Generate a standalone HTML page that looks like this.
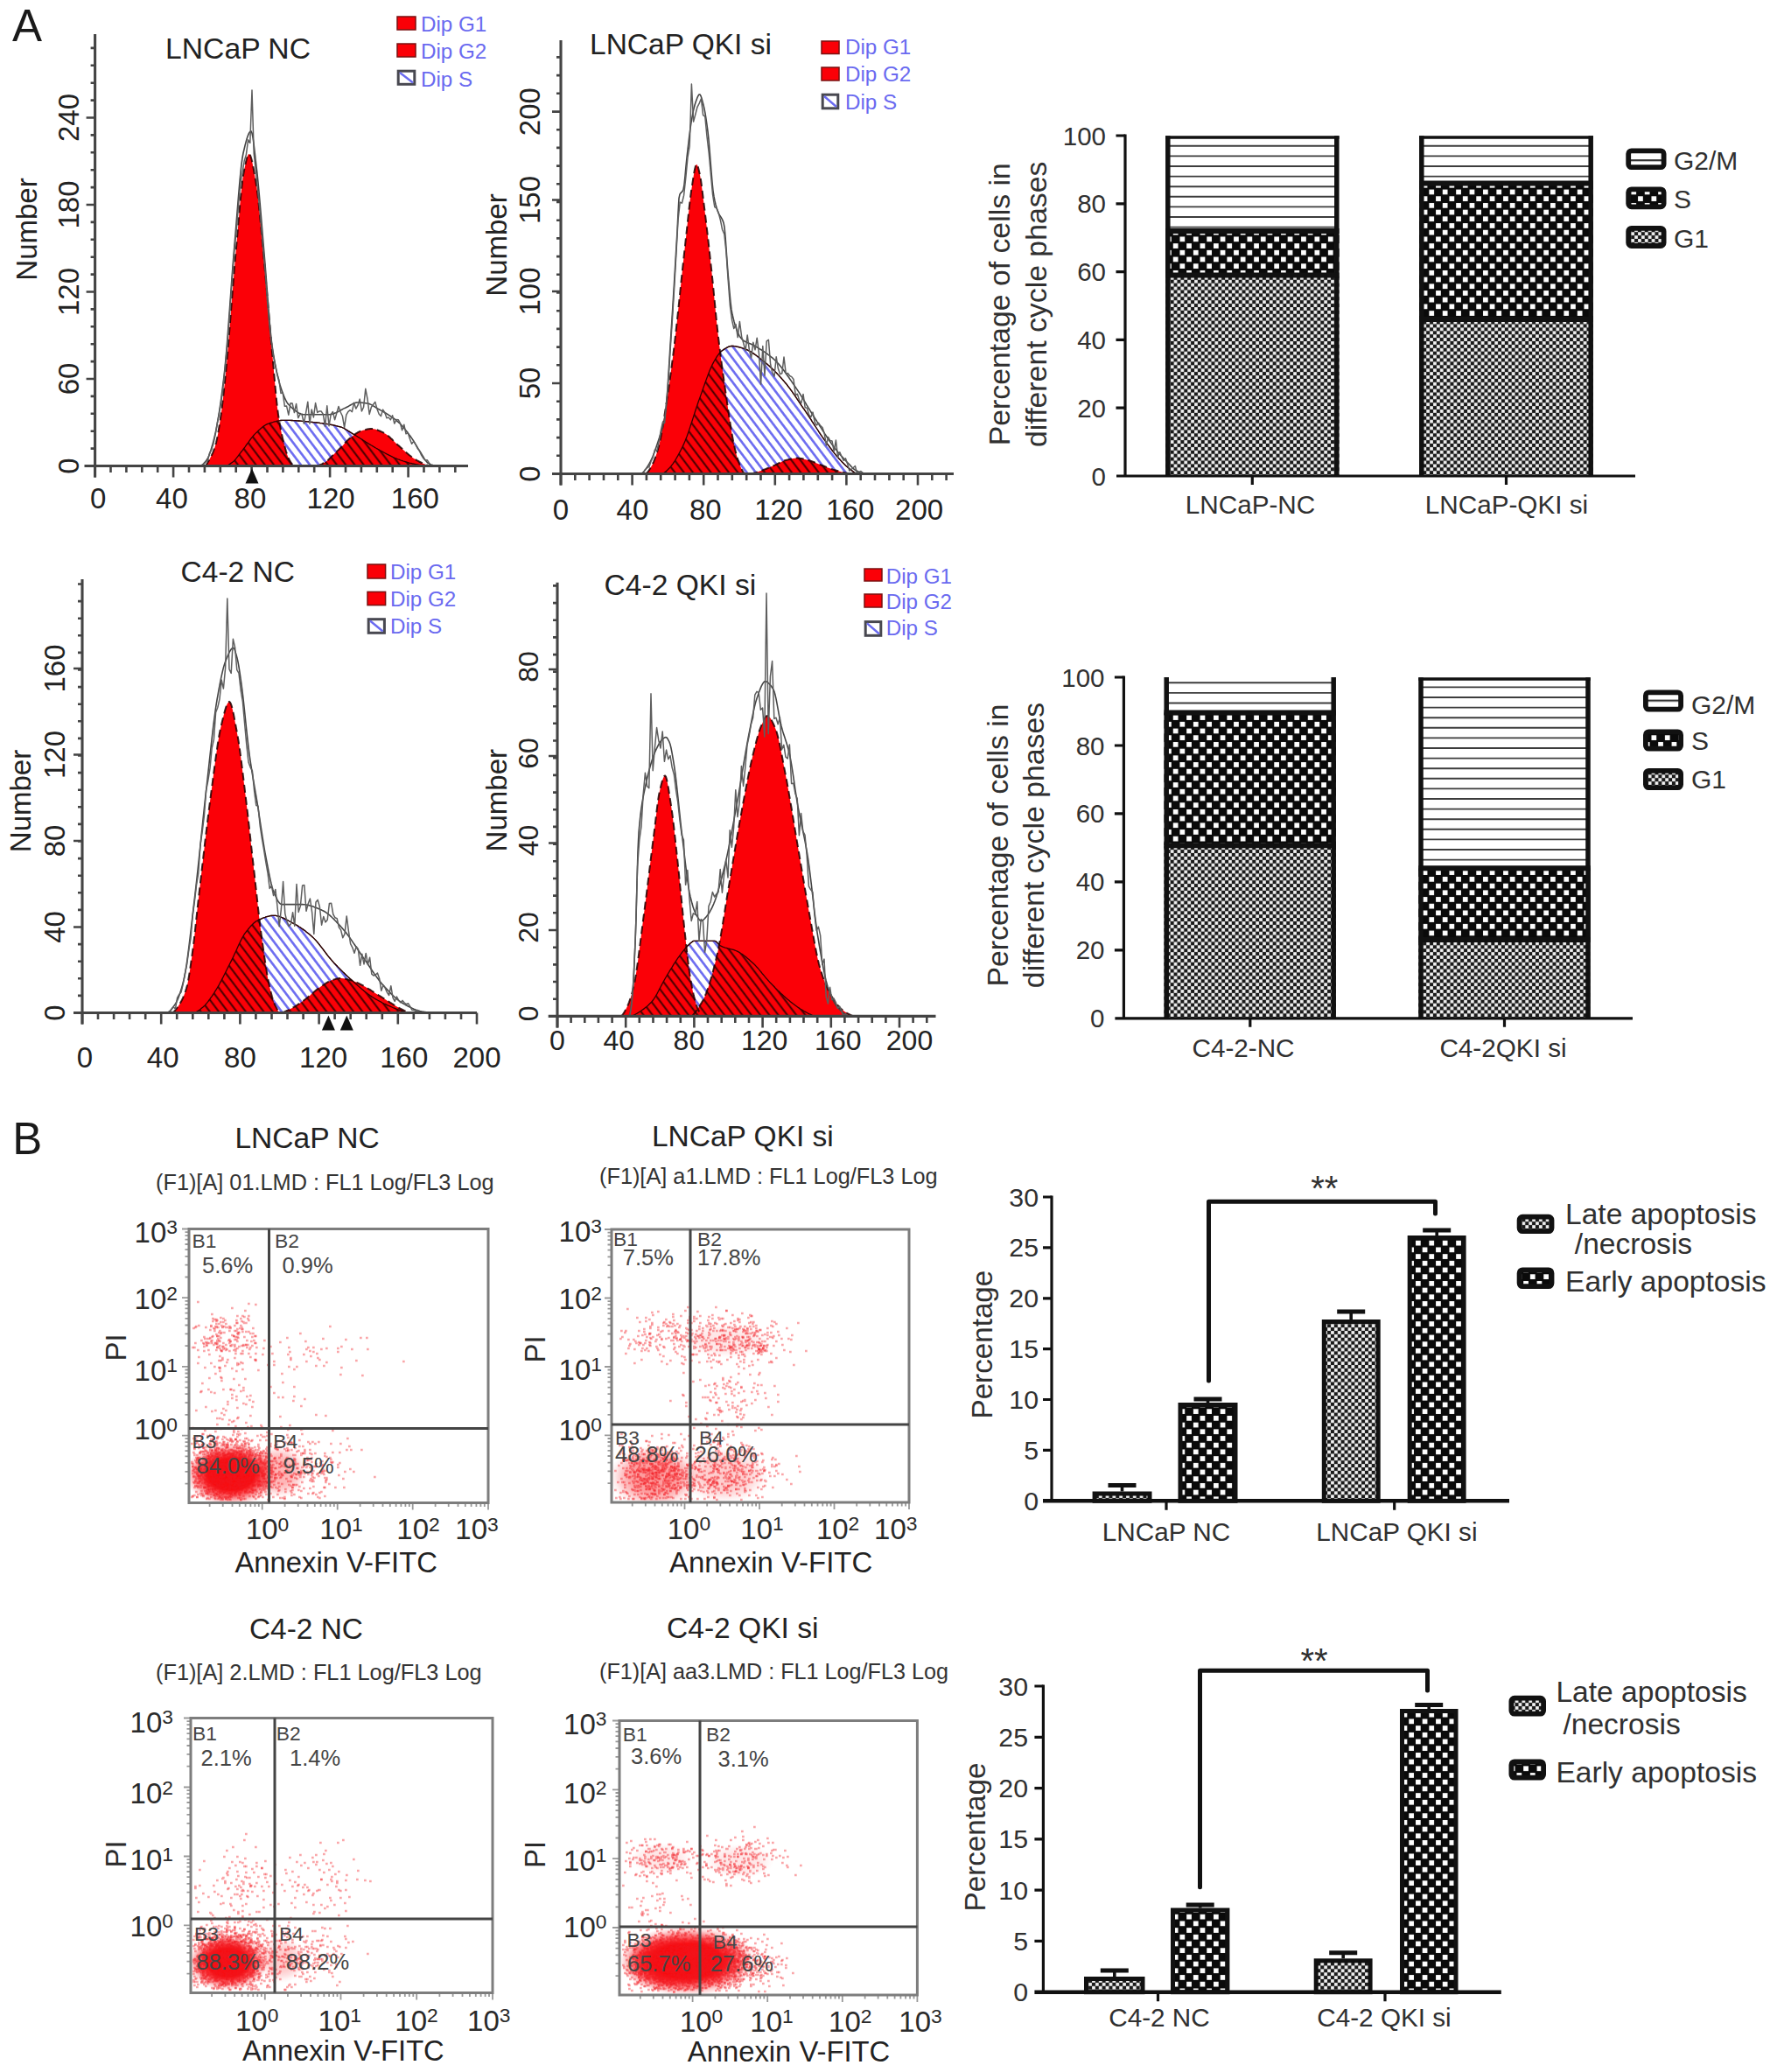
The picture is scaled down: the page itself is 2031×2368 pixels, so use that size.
<!DOCTYPE html>
<html><head><meta charset="utf-8"><title>Figure</title>
<style>html,body{margin:0;padding:0;background:#fff}svg{display:block}text{font-family:"Liberation Sans",Arial,Helvetica,sans-serif}</style></head><body>
<svg width="2031" height="2368" viewBox="0 0 2031 2368">
<defs>
<pattern id="hb" width="8.2" height="8.2" patternUnits="userSpaceOnUse" patternTransform="rotate(-37)">
<path d="M4.1,0 V8.2" stroke="#6a6af0" stroke-width="2.6"/></pattern>
<pattern id="hk" width="8.2" height="8.2" patternUnits="userSpaceOnUse" patternTransform="rotate(-37)">
<path d="M4.1,0 V8.2" stroke="#3a0000" stroke-width="1.9"/></pattern>
<pattern id="pgm" width="20" height="11.65" patternUnits="userSpaceOnUse" patternTransform="translate(0,3.5)">
<rect width="20" height="11.65" fill="#fff"/><path d="M0,5 H20" stroke="#333" stroke-width="2.2"/></pattern>
<pattern id="ps" width="15.4" height="15.4" patternUnits="userSpaceOnUse">
<rect width="15.4" height="15.4" fill="#0a0a0a"/><rect x="1" y="1" width="5.7" height="5.7" fill="#fff"/><rect x="8.7" y="8.7" width="5.7" height="5.7" fill="#fff"/></pattern>
<pattern id="pg1" width="7.8" height="7.8" patternUnits="userSpaceOnUse">
<rect width="7.8" height="7.8" fill="#1a1a1a"/><rect x="0.1" y="0.1" width="3.7" height="3.7" fill="#f4f4f4"/><rect x="4" y="4" width="3.7" height="3.7" fill="#f4f4f4"/></pattern>
<radialGradient id="rb"><stop offset="0" stop-color="#fa0509" stop-opacity="1"/><stop offset="0.5" stop-color="#fa0509" stop-opacity="0.97"/><stop offset="0.72" stop-color="#f81018" stop-opacity="0.6"/><stop offset="0.88" stop-color="#f82028" stop-opacity="0.2"/><stop offset="1" stop-color="#f82028" stop-opacity="0"/></radialGradient>
</defs>
<rect width="2031" height="2368" fill="#fff"/>
<text x="14" y="47.3" font-size="51" fill="#1a1a1a">A</text>
<text x="14.3" y="1319" font-size="51" fill="#1a1a1a">B</text>
<!-- histograms -->
<path d="M258,532.5 259,532.2 260,531.8 261,531.3 262,530.7 263,530.1 264,529.4 265,528.7 266,528 267,527.2 268,526.2 269,525.1 270,523.9 271,522.6 272,521.3 273,520 274,518.6 275,517.3 276,516 277,514.8 278,513.5 279,512.1 280,510.8 281,509.4 282,508 283,506.6 284,505.3 285,503.9 286,502.5 287,501.2 288,499.9 289,498.7 290,497.5 291,496.4 292,495.4 293,494.4 294,493.5 295,492.5 296,491.6 297,490.7 298,489.8 299,488.9 300,488.1 301,487.3 302,486.6 303,486 304,485.4 305,484.9 306,484.4 307,484.1 308,483.7 309,483.4 310,483.1 311,482.8 312,482.5 313,482.2 314,481.9 315,481.7 316,481.4 317,481.2 318,481 319,480.8 320,480.7 321,480.5 322,480.4 323,480.4 324,480.3 325,480.3 326,480.3 327,480.3 328,480.3 329,480.3 330,480.4 331,480.4 332,480.4 333,480.5 334,480.5 335,480.6 336,480.6 337,480.7 338,480.7 339,480.8 340,480.9 341,481 342,481 343,481.1 344,481.2 345,481.3 346,481.4 347,481.5 348,481.6 349,481.6 350,481.7 351,481.8 352,481.9 353,482 354,482.2 355,482.3 356,482.4 357,482.5 358,482.6 359,482.7 360,482.8 361,482.9 362,483 363,483.1 364,483.2 365,483.3 366,483.5 367,483.6 368,483.7 369,483.8 370,484 371,484.1 372,484.3 373,484.4 374,484.6 375,484.7 376,484.9 377,485.1 378,485.3 379,485.5 380,485.7 381,485.9 382,486.1 383,486.3 384,486.6 385,486.8 386,487.1 387,487.3 388,487.6 389,487.9 390,488.2 391,488.5 392,489 393,489.5 394,490 395,490.6 396,491.2 397,491.8 398,492.5 399,493.1 400,493.8 401,494.4 402,495 403,495.6 404,496.2 405,496.8 406,497.4 407,498 408,498.6 409,499.3 410,499.9 411,500.5 412,501.2 413,501.8 414,502.4 415,503.1 416,503.7 417,504.3 418,505 419,505.6 420,506.2 421,506.9 422,507.5 423,508.1 424,508.7 425,509.3 426,509.9 427,510.5 428,511.1 429,511.7 430,512.3 431,512.8 432,513.4 433,513.9 434,514.5 435,515 436,515.6 437,516.1 438,516.7 439,517.2 440,517.8 441,518.3 442,518.9 443,519.4 444,519.9 445,520.4 446,520.9 447,521.4 448,521.9 449,522.4 450,522.8 451,523.3 452,523.7 453,524.1 454,524.5 455,524.9 456,525.2 457,525.6 458,526 459,526.3 460,526.6 461,527 462,527.3 463,527.6 464,527.9 465,528.2 466,528.5 467,528.8 468,529.1 469,529.3 470,529.5 471,529.8 472,530 473,530.2 474,530.4 475,530.6 476,530.8 477,531 478,531.2 479,531.4 480,531.5 481,531.7 482,531.9 483,532 484,532.1 485,532.3 486,532.4 487,532.5 L487,532.5 L258,532.5 Z" fill="#fff"/>
<path d="M258,532.5 259,532.2 260,531.8 261,531.3 262,530.7 263,530.1 264,529.4 265,528.7 266,528 267,527.2 268,526.2 269,525.1 270,523.9 271,522.6 272,521.3 273,520 274,518.6 275,517.3 276,516 277,514.8 278,513.5 279,512.1 280,510.8 281,509.4 282,508 283,506.6 284,505.3 285,503.9 286,502.5 287,501.2 288,499.9 289,498.7 290,497.5 291,496.4 292,495.4 293,494.4 294,493.5 295,492.5 296,491.6 297,490.7 298,489.8 299,488.9 300,488.1 301,487.3 302,486.6 303,486 304,485.4 305,484.9 306,484.4 307,484.1 308,483.7 309,483.4 310,483.1 311,482.8 312,482.5 313,482.2 314,481.9 315,481.7 316,481.4 317,481.2 318,481 319,480.8 320,480.7 321,480.5 322,480.4 323,480.4 324,480.3 325,480.3 326,480.3 327,480.3 328,480.3 329,480.3 330,480.4 331,480.4 332,480.4 333,480.5 334,480.5 335,480.6 336,480.6 337,480.7 338,480.7 339,480.8 340,480.9 341,481 342,481 343,481.1 344,481.2 345,481.3 346,481.4 347,481.5 348,481.6 349,481.6 350,481.7 351,481.8 352,481.9 353,482 354,482.2 355,482.3 356,482.4 357,482.5 358,482.6 359,482.7 360,482.8 361,482.9 362,483 363,483.1 364,483.2 365,483.3 366,483.5 367,483.6 368,483.7 369,483.8 370,484 371,484.1 372,484.3 373,484.4 374,484.6 375,484.7 376,484.9 377,485.1 378,485.3 379,485.5 380,485.7 381,485.9 382,486.1 383,486.3 384,486.6 385,486.8 386,487.1 387,487.3 388,487.6 389,487.9 390,488.2 391,488.5 392,489 393,489.5 394,490 395,490.6 396,491.2 397,491.8 398,492.5 399,493.1 400,493.8 401,494.4 402,495 403,495.6 404,496.2 405,496.8 406,497.4 407,498 408,498.6 409,499.3 410,499.9 411,500.5 412,501.2 413,501.8 414,502.4 415,503.1 416,503.7 417,504.3 418,505 419,505.6 420,506.2 421,506.9 422,507.5 423,508.1 424,508.7 425,509.3 426,509.9 427,510.5 428,511.1 429,511.7 430,512.3 431,512.8 432,513.4 433,513.9 434,514.5 435,515 436,515.6 437,516.1 438,516.7 439,517.2 440,517.8 441,518.3 442,518.9 443,519.4 444,519.9 445,520.4 446,520.9 447,521.4 448,521.9 449,522.4 450,522.8 451,523.3 452,523.7 453,524.1 454,524.5 455,524.9 456,525.2 457,525.6 458,526 459,526.3 460,526.6 461,527 462,527.3 463,527.6 464,527.9 465,528.2 466,528.5 467,528.8 468,529.1 469,529.3 470,529.5 471,529.8 472,530 473,530.2 474,530.4 475,530.6 476,530.8 477,531 478,531.2 479,531.4 480,531.5 481,531.7 482,531.9 483,532 484,532.1 485,532.3 486,532.4 487,532.5 L487,532.5 L258,532.5 Z" fill="url(#hb)" stroke="#333" stroke-width="1.3"/>
<path d="M234,532.5 235,532.1 236,530.8 237,529.3 238,527.6 239,525.9 240,524 241,522 242,520 243,517.8 244,515.4 245,512.7 246,509.6 247,506 248,501.6 249,496.4 250,490.7 251,484.5 252,478 253,471 254,463.2 255,454.7 256,445.7 257,436.2 258,426.5 259,416.2 260,405 261,393.3 262,381 263,368.4 264,355.7 265,342.8 266,330.1 267,317.6 268,305.5 269,294 270,283 271,271.6 272,259.9 273,248.3 274,236.9 275,226.1 276,216.3 277,207.6 278,200.3 279,194.8 280,189.9 281,185.3 282,181.2 283,178.1 284,176.3 285,176.1 286,177.5 287,180.2 288,184 289,188.7 290,194 291,199.7 292,205.6 293,211.5 294,218.4 295,226.6 296,235.8 297,245.8 298,256.3 299,267.3 300,278.3 301,289.3 302,300 303,310.7 304,321.8 305,333.1 306,344.7 307,356.3 308,368 309,379.5 310,390.8 311,401.8 312,412.8 313,424.2 314,435.6 315,446.7 316,457 317,466.2 318,473.8 319,480.2 320,486 321,491.3 322,496.2 323,500.6 324,504.7 325,508.6 326,512.3 327,515.8 328,519 329,521.7 330,524 331,525.9 332,527.7 333,529.3 334,530.7 335,531.8 336,532.5 L336,532.5 L234,532.5 Z" fill="#fb0007"/>
<path d="M362,532.5 363,532.3 364,532 365,531.6 366,531.2 367,530.8 368,530.3 369,529.7 370,529.2 371,528.6 372,528 373,527.3 374,526.5 375,525.7 376,524.7 377,523.7 378,522.7 379,521.7 380,520.7 381,519.7 382,518.8 383,517.8 384,516.9 385,515.9 386,514.9 387,514 388,513 389,512 390,511 391,510 392,508.9 393,507.8 394,506.6 395,505.5 396,504.5 397,503.4 398,502.5 399,501.6 400,500.8 401,500 402,499.2 403,498.4 404,497.6 405,496.8 406,496.1 407,495.4 408,494.8 409,494.2 410,493.6 411,493.2 412,492.7 413,492.4 414,492.1 415,491.8 416,491.5 417,491.2 418,491 419,490.7 420,490.5 421,490.3 422,490.2 423,490.1 424,490 425,490 426,490.1 427,490.2 428,490.4 429,490.6 430,490.9 431,491.3 432,491.7 433,492.1 434,492.5 435,493 436,493.4 437,493.9 438,494.4 439,494.9 440,495.5 441,496.1 442,496.8 443,497.6 444,498.4 445,499.3 446,500.2 447,501.2 448,502.1 449,503.1 450,504.1 451,505.1 452,506 453,507 454,507.9 455,508.8 456,509.6 457,510.5 458,511.4 459,512.3 460,513.3 461,514.2 462,515.1 463,516 464,516.9 465,517.7 466,518.6 467,519.4 468,520.3 469,521 470,521.8 471,522.5 472,523.2 473,523.9 474,524.5 475,525.1 476,525.8 477,526.4 478,526.9 479,527.5 480,528 481,528.5 482,529 483,529.5 484,529.9 485,530.3 486,530.7 487,531.1 488,531.5 489,531.9 490,532.2 491,532.5 L491,532.5 L362,532.5 Z" fill="#fb0007"/>
<path d="M258,532.5 259,532.2 260,531.8 261,531.3 262,530.7 263,530.1 264,529.4 265,528.7 266,528 267,527.2 268,526.2 269,525.1 270,523.9 271,522.6 272,521.3 273,520 274,518.6 275,517.3 276,516 277,514.8 278,513.5 279,512.1 280,510.8 281,509.4 282,508 283,506.6 284,505.3 285,503.9 286,502.5 287,501.2 288,499.9 289,498.7 290,497.5 291,496.4 292,495.4 293,494.4 294,493.5 295,492.5 296,491.6 297,490.7 298,489.8 299,488.9 300,488.1 301,487.3 302,486.6 303,486 304,485.4 305,484.9 306,484.4 307,484.1 308,483.7 309,483.4 310,483.1 311,482.8 312,482.5 313,482.2 314,481.9 315,481.7 316,481.4 317,481.2 318,481 319,480.8 320,486 321,491.3 322,496.2 323,500.6 324,504.7 325,508.6 326,512.3 327,515.8 328,519 329,521.7 330,524 331,525.9 332,527.7 333,529.3 334,530.7 335,531.8 336,532.5 337,532.5 338,532.5 339,532.5 340,532.5 341,532.5 342,532.5 343,532.5 344,532.5 345,532.5 346,532.5 347,532.5 348,532.5 349,532.5 350,532.5 351,532.5 352,532.5 353,532.5 354,532.5 355,532.5 356,532.5 357,532.5 358,532.5 359,532.5 360,532.5 361,532.5 362,532.5 363,532.3 364,532 365,531.6 366,531.2 367,530.8 368,530.3 369,529.7 370,529.2 371,528.6 372,528 373,527.3 374,526.5 375,525.7 376,524.7 377,523.7 378,522.7 379,521.7 380,520.7 381,519.7 382,518.8 383,517.8 384,516.9 385,515.9 386,514.9 387,514 388,513 389,512 390,511 391,510 392,508.9 393,507.8 394,506.6 395,505.5 396,504.5 397,503.4 398,502.5 399,501.6 400,500.8 401,500 402,499.2 403,498.4 404,497.6 405,496.8 406,497.4 407,498 408,498.6 409,499.3 410,499.9 411,500.5 412,501.2 413,501.8 414,502.4 415,503.1 416,503.7 417,504.3 418,505 419,505.6 420,506.2 421,506.9 422,507.5 423,508.1 424,508.7 425,509.3 426,509.9 427,510.5 428,511.1 429,511.7 430,512.3 431,512.8 432,513.4 433,513.9 434,514.5 435,515 436,515.6 437,516.1 438,516.7 439,517.2 440,517.8 441,518.3 442,518.9 443,519.4 444,519.9 445,520.4 446,520.9 447,521.4 448,521.9 449,522.4 450,522.8 451,523.3 452,523.7 453,524.1 454,524.5 455,524.9 456,525.2 457,525.6 458,526 459,526.3 460,526.6 461,527 462,527.3 463,527.6 464,527.9 465,528.2 466,528.5 467,528.8 468,529.1 469,529.3 470,529.5 471,529.8 472,530 473,530.2 474,530.4 475,530.6 476,530.8 477,531 478,531.2 479,531.4 480,531.5 481,531.7 482,531.9 483,532 484,532.1 485,532.3 486,532.4 487,532.5 L487,532.5 L258,532.5 Z" fill="url(#hk)"/>
<path d="M258,532.5 259,532.2 260,531.8 261,531.3 262,530.7 263,530.1 264,529.4 265,528.7 266,528 267,527.2 268,526.2 269,525.1 270,523.9 271,522.6 272,521.3 273,520 274,518.6 275,517.3 276,516 277,514.8 278,513.5 279,512.1 280,510.8 281,509.4 282,508 283,506.6 284,505.3 285,503.9 286,502.5 287,501.2 288,499.9 289,498.7 290,497.5 291,496.4 292,495.4 293,494.4 294,493.5 295,492.5 296,491.6 297,490.7 298,489.8 299,488.9 300,488.1 301,487.3 302,486.6 303,486 304,485.4 305,484.9 306,484.4 307,484.1 308,483.7 309,483.4 310,483.1 311,482.8 312,482.5 313,482.2 314,481.9 315,481.7 316,481.4 317,481.2 318,481 319,480.8 320,480.7 321,480.5 322,480.4 323,480.4 324,480.3 325,480.3 326,480.3 327,480.3 328,480.3 329,480.3 330,480.4 331,480.4 332,480.4 333,480.5 334,480.5 335,480.6 336,480.6 337,480.7 338,480.7 339,480.8 340,480.9 341,481 342,481 343,481.1 344,481.2 345,481.3 346,481.4 347,481.5 348,481.6 349,481.6 350,481.7 351,481.8 352,481.9 353,482 354,482.2 355,482.3 356,482.4 357,482.5 358,482.6 359,482.7 360,482.8 361,482.9 362,483 363,483.1 364,483.2 365,483.3 366,483.5 367,483.6 368,483.7 369,483.8 370,484 371,484.1 372,484.3 373,484.4 374,484.6 375,484.7 376,484.9 377,485.1 378,485.3 379,485.5 380,485.7 381,485.9 382,486.1 383,486.3 384,486.6 385,486.8 386,487.1 387,487.3 388,487.6 389,487.9 390,488.2 391,488.5 392,489 393,489.5 394,490 395,490.6 396,491.2 397,491.8 398,492.5 399,493.1 400,493.8 401,494.4 402,495 403,495.6 404,496.2 405,496.8 406,497.4 407,498 408,498.6 409,499.3 410,499.9 411,500.5 412,501.2 413,501.8 414,502.4 415,503.1 416,503.7 417,504.3 418,505 419,505.6 420,506.2 421,506.9 422,507.5 423,508.1 424,508.7 425,509.3 426,509.9 427,510.5 428,511.1 429,511.7 430,512.3 431,512.8 432,513.4 433,513.9 434,514.5 435,515 436,515.6 437,516.1 438,516.7 439,517.2 440,517.8 441,518.3 442,518.9 443,519.4 444,519.9 445,520.4 446,520.9 447,521.4 448,521.9 449,522.4 450,522.8 451,523.3 452,523.7 453,524.1 454,524.5 455,524.9 456,525.2 457,525.6 458,526 459,526.3 460,526.6 461,527 462,527.3 463,527.6 464,527.9 465,528.2 466,528.5 467,528.8 468,529.1 469,529.3 470,529.5 471,529.8 472,530 473,530.2 474,530.4 475,530.6 476,530.8 477,531 478,531.2 479,531.4 480,531.5 481,531.7 482,531.9 483,532 484,532.1 485,532.3 486,532.4 487,532.5" fill="none" stroke="#300" stroke-width="1.3"/>
<path d="M234,532.5 235,532.1 236,530.8 237,529.3 238,527.6 239,525.9 240,524 241,522 242,520 243,517.8 244,515.4 245,512.7 246,509.6 247,506 248,501.6 249,496.4 250,490.7 251,484.5 252,478 253,471 254,463.2 255,454.7 256,445.7 257,436.2 258,426.5 259,416.2 260,405 261,393.3 262,381 263,368.4 264,355.7 265,342.8 266,330.1 267,317.6 268,305.5 269,294 270,283 271,271.6 272,259.9 273,248.3 274,236.9 275,226.1 276,216.3 277,207.6 278,200.3 279,194.8 280,189.9 281,185.3 282,181.2 283,178.1 284,176.3 285,176.1 286,177.5 287,180.2 288,184 289,188.7 290,194 291,199.7 292,205.6 293,211.5 294,218.4 295,226.6 296,235.8 297,245.8 298,256.3 299,267.3 300,278.3 301,289.3 302,300 303,310.7 304,321.8 305,333.1 306,344.7 307,356.3 308,368 309,379.5 310,390.8 311,401.8 312,412.8 313,424.2 314,435.6 315,446.7 316,457 317,466.2 318,473.8 319,480.2 320,486 321,491.3 322,496.2 323,500.6 324,504.7 325,508.6 326,512.3 327,515.8 328,519 329,521.7 330,524 331,525.9 332,527.7 333,529.3 334,530.7 335,531.8 336,532.5" fill="none" stroke="#200" stroke-width="2" stroke-dasharray="9 5" opacity="0.85"/>
<path d="M362,532.5 363,532.3 364,532 365,531.6 366,531.2 367,530.8 368,530.3 369,529.7 370,529.2 371,528.6 372,528 373,527.3 374,526.5 375,525.7 376,524.7 377,523.7 378,522.7 379,521.7 380,520.7 381,519.7 382,518.8 383,517.8 384,516.9 385,515.9 386,514.9 387,514 388,513 389,512 390,511 391,510 392,508.9 393,507.8 394,506.6 395,505.5 396,504.5 397,503.4 398,502.5 399,501.6 400,500.8 401,500 402,499.2 403,498.4 404,497.6 405,496.8 406,496.1 407,495.4 408,494.8 409,494.2 410,493.6 411,493.2 412,492.7 413,492.4 414,492.1 415,491.8 416,491.5 417,491.2 418,491 419,490.7 420,490.5 421,490.3 422,490.2 423,490.1 424,490 425,490 426,490.1 427,490.2 428,490.4 429,490.6 430,490.9 431,491.3 432,491.7 433,492.1 434,492.5 435,493 436,493.4 437,493.9 438,494.4 439,494.9 440,495.5 441,496.1 442,496.8 443,497.6 444,498.4 445,499.3 446,500.2 447,501.2 448,502.1 449,503.1 450,504.1 451,505.1 452,506 453,507 454,507.9 455,508.8 456,509.6 457,510.5 458,511.4 459,512.3 460,513.3 461,514.2 462,515.1 463,516 464,516.9 465,517.7 466,518.6 467,519.4 468,520.3 469,521 470,521.8 471,522.5 472,523.2 473,523.9 474,524.5 475,525.1 476,525.8 477,526.4 478,526.9 479,527.5 480,528 481,528.5 482,529 483,529.5 484,529.9 485,530.3 486,530.7 487,531.1 488,531.5 489,531.9 490,532.2 491,532.5" fill="none" stroke="#200" stroke-width="2" stroke-dasharray="9 5" opacity="0.85"/>
<path d="M200,532.5 201,532.5 202,532.5 203,532.5 204,532.5 205,532.5 206,532.5 207,532.5 208,532.5 209,532.5 210,532.5 211,532.5 212,532.5 213,532.5 214,532.5 215,532.5 216,532.5 217,532.5 218,532.5 219,532.5 220,532.5 221,532.5 222,532.5 223,532.5 224,532.5 225,532.5 226,532.5 227,532.5 228,532.5 229,532.4 230,532 231,531.3 232,530.5 233,529.5 234,528.4 235,527.2 236,526 237,524.5 238,522.6 239,520.2 240,517.5 241,514.4 242,511.1 243,507.6 244,503.9 245,500 246,495.8 247,491.1 248,486 249,480.4 250,474.3 251,467.9 252,461 253,453.8 254,446.2 255,438.2 256,430 257,420.9 258,410.4 259,398.8 260,386.3 261,373.1 262,359.5 263,345.6 264,331.7 265,317.9 266,304.6 267,291.9 268,280 269,268.2 270,255.9 271,243.3 272,230.9 273,218.8 274,207.3 275,197 276,187.9 277,180.5 278,175 279,170.7 280,166.5 281,162.6 282,159.1 283,156 284,153.4 285,151.5 286,150.4 287,150 288,152.1 289,157.1 290,164.2 291,172.6 292,181.5 293,190 294,198.7 295,208.5 296,219.2 297,230.5 298,242.3 299,254.3 300,266.4 301,278.4 302,290 303,301.9 304,314.6 305,327.8 306,341 307,353.9 308,366.2 309,377.3 310,387.1 311,395 312,401.7 313,407.9 314,413.7 315,419 316,423.9 317,428.5 318,432.6 319,436.4 320,439.8 321,442.9 322,445.9 323,448.7 324,451.4 325,453.9 326,456.2 327,458.2 328,459.9 329,461.4 330,462.5 331,463.5 332,464.5 333,465.5 334,466.4 335,467.3 336,468.2 337,469 338,469.7 339,470.4 340,471.1 341,471.7 342,472.2 343,472.6 344,473 345,473.3 346,473.6 347,473.7 348,473.8 349,473.8 350,473.8 351,473.8 352,473.8 353,473.8 354,473.8 355,473.8 356,473.8 357,473.8 358,473.8 359,473.8 360,473.8 361,473.8 362,473.8 363,473.8 364,473.8 365,473.8 366,473.8 367,473.8 368,473.8 369,473.8 370,473.8 371,473.8 372,473.8 373,473.8 374,473.8 375,473.8 376,473.8 377,473.8 378,473.6 379,473.4 380,473.2 381,472.9 382,472.5 383,472.1 384,471.7 385,471.2 386,470.7 387,470.1 388,469.6 389,469 390,468.5 391,468 392,467.4 393,466.9 394,466.4 395,466 396,465.5 397,465 398,464.5 399,463.9 400,463.3 401,462.7 402,462.1 403,461.6 404,461.1 405,460.7 406,460.4 407,460.1 408,460 409,460 410,460 411,460.1 412,460.1 413,460.2 414,460.3 415,460.4 416,460.5 417,460.6 418,460.7 419,460.9 420,461 421,461.2 422,461.5 423,461.9 424,462.4 425,462.9 426,463.5 427,464.1 428,464.7 429,465.4 430,466 431,466.6 432,467.2 433,467.7 434,468.3 435,468.9 436,469.4 437,470 438,470.6 439,471.1 440,471.7 441,472.3 442,472.9 443,473.5 444,474.1 445,474.8 446,475.4 447,476.1 448,476.8 449,477.5 450,478.2 451,478.9 452,479.7 453,480.5 454,481.3 455,482.2 456,483.1 457,484 458,485 459,486.1 460,487.2 461,488.3 462,489.5 463,490.8 464,492 465,493.3 466,494.6 467,495.9 468,497.3 469,498.6 470,500 471,501.4 472,502.9 473,504.5 474,506.2 475,507.9 476,509.5 477,511.2 478,512.9 479,514.5 480,516 481,517.5 482,519.2 483,520.8 484,522.5 485,524.1 486,525.6 487,527 488,528.1 489,529 490,529.6 491,530.2 492,530.7 493,531.2 494,531.6 495,532 496,532.3 497,532.4 498,532.5 499,532.5 500,532.5 501,532.5 502,532.5 503,532.5 504,532.5 505,532.5 506,532.5 507,532.5 508,532.5 509,532.5 510,532.5 511,532.5 512,532.5 513,532.5 514,532.5 515,532.5 516,532.5 517,532.5 518,532.5 519,532.5" fill="none" stroke="#444" stroke-width="1.6"/>
<path d="M200,532.5 202.2,532.5 204.4,532.5 206.6,532.5 208.8,532.5 211,532.5 213.2,532.5 215.4,532.5 217.6,532.5 219.8,532.5 222,532.5 224.2,532.5 226.4,532.5 228.6,532.5 230.8,531.4 233,530.1 235.2,527.9 237.4,526.2 239.6,517.6 241.8,514.1 244,506.7 246.2,496.4 248.4,482.8 250.6,471.9 252.8,459.2 255,442.2 257.2,421.2 259.4,398.2 261.6,371 263.8,340.7 266,310.3 268.2,282.3 270.4,261.2 272.6,233.8 274.8,210.5 277,197.3 279.2,184 281.4,176.6 283.6,159.8 285.8,163.4 288,103 290.2,175.4 292.4,196 294.6,217.7 296.8,238.3 299,263.6 301.2,289.6 303.4,313.7 305.6,344.9 307.8,369.2 310,389.5 312.2,404.8 314.4,416.4 316.6,426.7 318.8,433.9 321,449.4 323.2,448.7 325.4,464.3 327.6,464.1 329.8,474.2 332,460.8 334.2,461.1 336.4,471.5 338.6,461.5 340.8,477.6 343,473.4 345.2,474.1 347.4,484 349.6,471.9 351.8,459.2 354,484.2 356.2,468 358.4,476.9 360.6,460.6 362.8,471.5 365,469.9 367.2,470.1 369.4,473.5 371.6,487.3 373.8,463.8 376,486.8 378.2,473.6 380.4,470.5 382.6,479.7 384.8,472.2 387,464.5 389.2,471 391.4,475.5 393.6,488.3 395.8,474.2 398,470.4 400.2,468.7 402.4,470.6 404.6,460.2 406.8,467.1 409,463.2 411.2,456.1 413.4,470 415.6,465.2 417.8,444.3 420,456 422.2,473.4 424.4,465.2 426.6,462.2 428.8,459.4 431,467.6 433.2,473.2 435.4,475.6 437.6,468.1 439.8,471.5 442,477.8 444.2,477.1 446.4,479.8 448.6,474.8 450.8,484.1 453,479.6 455.2,479.7 457.4,483.6 459.6,491.7 461.8,485.2 464,495.8 466.2,494.5 468.4,501.4 470.6,507.3 472.8,504.4 475,507.9 477.2,512.4 479.4,515 481.6,520.2 483.8,523.7 486,526.1 488.2,525.8 490.4,528.9 492.6,531.6 494.8,531.6 497,532.5 499.2,532.5 501.4,532.5 503.6,532.5 505.8,532.5 508,532.5 510.2,532.5 512.4,532.5 514.6,532.5 516.8,532.5 519,532.5" fill="none" stroke="#5e5e5e" stroke-width="1.5" stroke-linejoin="round"/>
<path d="M108.6,39 V545.5 M96.5,532.5 H535" stroke="#444" stroke-width="3.1" fill="none"/>
<path d="M108.6,532.5 v13 M198.1,532.5 v13 M287.6,532.5 v13 M377.1,532.5 v13 M466.6,532.5 v13 M108.6,532.5 v7.5 M126.5,532.5 v7.5 M144.4,532.5 v7.5 M162.3,532.5 v7.5 M180.2,532.5 v7.5 M198.1,532.5 v7.5 M216,532.5 v7.5 M233.9,532.5 v7.5 M251.8,532.5 v7.5 M269.7,532.5 v7.5 M287.6,532.5 v7.5 M305.5,532.5 v7.5 M323.4,532.5 v7.5 M341.3,532.5 v7.5 M359.2,532.5 v7.5 M377.1,532.5 v7.5 M395,532.5 v7.5 M412.9,532.5 v7.5 M430.8,532.5 v7.5 M448.7,532.5 v7.5 M466.6,532.5 v7.5 M484.5,532.5 v7.5 M502.4,532.5 v7.5 M520.3,532.5 v7.5 M108.6,532.5 h-10 M108.6,433 h-10 M108.6,333.5 h-10 M108.6,234 h-10 M108.6,134.5 h-10 M108.6,532.5 h-5 M108.6,512.6 h-5 M108.6,492.7 h-5 M108.6,472.8 h-5 M108.6,452.9 h-5 M108.6,433 h-5 M108.6,413.1 h-5 M108.6,393.2 h-5 M108.6,373.3 h-5 M108.6,353.4 h-5 M108.6,333.5 h-5 M108.6,313.6 h-5 M108.6,293.7 h-5 M108.6,273.8 h-5 M108.6,253.9 h-5 M108.6,234 h-5 M108.6,214.1 h-5 M108.6,194.2 h-5 M108.6,174.3 h-5 M108.6,154.4 h-5 M108.6,134.5 h-5 M108.6,114.6 h-5 M108.6,94.7 h-5 M108.6,74.8 h-5 M108.6,54.9 h-5" stroke="#444" stroke-width="2.6" fill="none"/>
<text x="112.3" y="581" font-size="33" fill="#222" text-anchor="middle">0</text>
<text x="196.4" y="581" font-size="33" fill="#222" text-anchor="middle">40</text>
<text x="285.9" y="581" font-size="33" fill="#222" text-anchor="middle">80</text>
<text x="378.1" y="581" font-size="33" fill="#222" text-anchor="middle">120</text>
<text x="474.4" y="581" font-size="33" fill="#222" text-anchor="middle">160</text>
<text transform="translate(89.5,532.5) rotate(-90)" font-size="33" fill="#222" text-anchor="middle">0</text>
<text transform="translate(89.5,433) rotate(-90)" font-size="33" fill="#222" text-anchor="middle">60</text>
<text transform="translate(89.5,333.5) rotate(-90)" font-size="33" fill="#222" text-anchor="middle">120</text>
<text transform="translate(89.5,234) rotate(-90)" font-size="33" fill="#222" text-anchor="middle">180</text>
<text transform="translate(89.5,134.5) rotate(-90)" font-size="33" fill="#222" text-anchor="middle">240</text>
<text transform="translate(42,262) rotate(-90)" font-size="33" fill="#222" text-anchor="middle">Number</text>
<text x="189" y="67" font-size="33.7" fill="#222">LNCaP NC</text>
<rect x="454" y="19" width="21" height="15" fill="#fb0007" stroke="#7a1010" stroke-width="1.5"/>
<text x="481" y="35.5" font-size="24.2" fill="#6a6af0">Dip G1</text>
<rect x="454" y="50" width="21" height="15" fill="#fb0007" stroke="#7a1010" stroke-width="1.5"/>
<text x="481" y="67" font-size="24.2" fill="#6a6af0">Dip G2</text>
<rect x="455.2" y="81.2" width="18.6" height="15.1" fill="#fff" stroke="#484850" stroke-width="3"/>
<path d="M457,83 L472,94.5" stroke="#6a6af0" stroke-width="2.4"/>
<text x="481" y="98.5" font-size="24.2" fill="#6a6af0">Dip S</text>
<path d="M288,535.5 l7.5,17 h-15 Z" fill="#111"/>
<path d="M757,541.5 758,540.9 759,540.3 760,539.6 761,538.8 762,537.9 763,537 764,536 765,535 766,533.9 767,532.7 768,531.4 769,530.1 770,528.6 771,527.1 772,525.5 773,523.9 774,522.1 775,520.4 776,518.5 777,516.6 778,514.7 779,512.7 780,510.7 781,508.6 782,506.4 783,504.1 784,501.6 785,499 786,496.2 787,493.4 788,490.4 789,487.4 790,484.3 791,481.2 792,478.1 793,475 794,471.8 795,468.7 796,465.7 797,462.7 798,459.8 799,456.9 800,454.2 801,451.4 802,448.6 803,445.8 804,442.9 805,440.1 806,437.2 807,434.4 808,431.7 809,429 810,426.4 811,423.8 812,421.4 813,419.2 814,417 815,415.1 816,413.3 817,411.5 818,409.9 819,408.2 820,406.7 821,405.3 822,404 823,402.8 824,401.8 825,401 826,400.3 827,399.6 828,398.9 829,398.3 830,397.7 831,397.1 832,396.6 833,396.2 834,395.9 835,395.7 836,395.5 837,395.5 838,395.5 839,395.6 840,395.7 841,395.9 842,396.1 843,396.3 844,396.5 845,396.8 846,397.1 847,397.4 848,397.7 849,398 850,398.3 851,398.6 852,399 853,399.4 854,399.8 855,400.3 856,400.8 857,401.4 858,401.9 859,402.6 860,403.2 861,403.9 862,404.6 863,405.3 864,406 865,406.8 866,407.5 867,408.3 868,409.1 869,409.9 870,410.7 871,411.5 872,412.3 873,413 874,413.8 875,414.6 876,415.5 877,416.3 878,417.2 879,418.1 880,419 881,419.9 882,420.8 883,421.8 884,422.8 885,423.7 886,424.8 887,425.8 888,426.8 889,427.9 890,428.9 891,430 892,431.1 893,432.2 894,433.4 895,434.5 896,435.6 897,436.8 898,438 899,439.2 900,440.5 901,441.8 902,443.1 903,444.4 904,445.8 905,447.2 906,448.6 907,450 908,451.5 909,452.9 910,454.4 911,455.9 912,457.3 913,458.8 914,460.3 915,461.8 916,463.3 917,464.8 918,466.3 919,467.7 920,469.2 921,470.7 922,472.1 923,473.6 924,475.1 925,476.7 926,478.2 927,479.7 928,481.3 929,482.8 930,484.4 931,485.9 932,487.5 933,489 934,490.5 935,492 936,493.6 937,495.1 938,496.6 939,498 940,499.5 941,500.9 942,502.3 943,503.7 944,505.1 945,506.5 946,507.8 947,509.2 948,510.5 949,511.9 950,513.2 951,514.5 952,515.8 953,517.1 954,518.3 955,519.6 956,520.8 957,522 958,523.1 959,524.2 960,525.3 961,526.4 962,527.5 963,528.5 964,529.5 965,530.5 966,531.5 967,532.4 968,533.3 969,534.2 970,535 971,535.8 972,536.6 973,537.4 974,538.1 975,538.9 976,539.6 977,540.2 978,540.9 979,541.5 L979,541.5 L757,541.5 Z" fill="#fff"/>
<path d="M757,541.5 758,540.9 759,540.3 760,539.6 761,538.8 762,537.9 763,537 764,536 765,535 766,533.9 767,532.7 768,531.4 769,530.1 770,528.6 771,527.1 772,525.5 773,523.9 774,522.1 775,520.4 776,518.5 777,516.6 778,514.7 779,512.7 780,510.7 781,508.6 782,506.4 783,504.1 784,501.6 785,499 786,496.2 787,493.4 788,490.4 789,487.4 790,484.3 791,481.2 792,478.1 793,475 794,471.8 795,468.7 796,465.7 797,462.7 798,459.8 799,456.9 800,454.2 801,451.4 802,448.6 803,445.8 804,442.9 805,440.1 806,437.2 807,434.4 808,431.7 809,429 810,426.4 811,423.8 812,421.4 813,419.2 814,417 815,415.1 816,413.3 817,411.5 818,409.9 819,408.2 820,406.7 821,405.3 822,404 823,402.8 824,401.8 825,401 826,400.3 827,399.6 828,398.9 829,398.3 830,397.7 831,397.1 832,396.6 833,396.2 834,395.9 835,395.7 836,395.5 837,395.5 838,395.5 839,395.6 840,395.7 841,395.9 842,396.1 843,396.3 844,396.5 845,396.8 846,397.1 847,397.4 848,397.7 849,398 850,398.3 851,398.6 852,399 853,399.4 854,399.8 855,400.3 856,400.8 857,401.4 858,401.9 859,402.6 860,403.2 861,403.9 862,404.6 863,405.3 864,406 865,406.8 866,407.5 867,408.3 868,409.1 869,409.9 870,410.7 871,411.5 872,412.3 873,413 874,413.8 875,414.6 876,415.5 877,416.3 878,417.2 879,418.1 880,419 881,419.9 882,420.8 883,421.8 884,422.8 885,423.7 886,424.8 887,425.8 888,426.8 889,427.9 890,428.9 891,430 892,431.1 893,432.2 894,433.4 895,434.5 896,435.6 897,436.8 898,438 899,439.2 900,440.5 901,441.8 902,443.1 903,444.4 904,445.8 905,447.2 906,448.6 907,450 908,451.5 909,452.9 910,454.4 911,455.9 912,457.3 913,458.8 914,460.3 915,461.8 916,463.3 917,464.8 918,466.3 919,467.7 920,469.2 921,470.7 922,472.1 923,473.6 924,475.1 925,476.7 926,478.2 927,479.7 928,481.3 929,482.8 930,484.4 931,485.9 932,487.5 933,489 934,490.5 935,492 936,493.6 937,495.1 938,496.6 939,498 940,499.5 941,500.9 942,502.3 943,503.7 944,505.1 945,506.5 946,507.8 947,509.2 948,510.5 949,511.9 950,513.2 951,514.5 952,515.8 953,517.1 954,518.3 955,519.6 956,520.8 957,522 958,523.1 959,524.2 960,525.3 961,526.4 962,527.5 963,528.5 964,529.5 965,530.5 966,531.5 967,532.4 968,533.3 969,534.2 970,535 971,535.8 972,536.6 973,537.4 974,538.1 975,538.9 976,539.6 977,540.2 978,540.9 979,541.5 L979,541.5 L757,541.5 Z" fill="url(#hb)" stroke="#333" stroke-width="1.3"/>
<path d="M738,541.5 739,540.8 740,539.8 741,538.5 742,537.1 743,535.5 744,533.8 745,532 746,530 747,527.8 748,525.4 749,522.7 750,519.8 751,516.7 752,513.3 753,509.7 754,505.8 755,501.1 756,495.8 757,490.1 758,484 759,477.8 760,471.4 761,465 762,458.6 763,452 764,445.2 765,438.2 766,431 767,423.6 768,416 769,408.3 770,400.3 771,392 772,383.3 773,374.4 774,365.2 775,355.9 776,346.5 777,336.9 778,327.3 779,317.7 780,308.2 781,298.8 782,289.6 783,280.5 784,271.6 785,262.4 786,253 787,243.7 788,234.7 789,226.2 790,218.6 791,212 792,205.7 793,199.3 794,193.6 795,189.5 796,187.7 797,188.7 798,191.5 799,195.6 800,200 801,205.5 802,212.7 803,220.8 804,229 805,237 806,245.1 807,253.5 808,262 809,270.8 810,279.7 811,288.7 812,297.8 813,307.1 814,316.4 815,326.3 816,336.6 817,346.9 818,357.2 819,367.2 820,376.6 821,385.3 822,393.6 823,401.7 824,409.5 825,417.1 826,424.5 827,431.7 828,438.8 829,445.8 830,452.7 831,459.6 832,466.5 833,473.4 834,480.1 835,486.6 836,492.7 837,498.5 838,503.8 839,508.6 840,512.9 841,517 842,520.8 843,524.2 844,527.3 845,530 846,532.4 847,534.7 848,536.8 849,538.7 850,540.2 851,541.5 L851,541.5 L738,541.5 Z" fill="#fb0007"/>
<path d="M857,541.5 858,541.4 859,541.2 860,540.9 861,540.7 862,540.4 863,540.1 864,539.9 865,539.6 866,539.3 867,539 868,538.6 869,538.3 870,538 871,537.7 872,537.3 873,536.9 874,536.5 875,536.1 876,535.7 877,535.3 878,534.9 879,534.5 880,534 881,533.6 882,533.1 883,532.7 884,532.3 885,531.8 886,531.4 887,530.9 888,530.4 889,529.9 890,529.4 891,528.9 892,528.4 893,527.9 894,527.5 895,527 896,526.6 897,526.3 898,526 899,525.7 900,525.5 901,525.2 902,524.9 903,524.7 904,524.5 905,524.3 906,524.1 907,523.9 908,523.8 909,523.7 910,523.6 911,523.6 912,523.6 913,523.7 914,523.8 915,524 916,524.1 917,524.3 918,524.5 919,524.8 920,525 921,525.2 922,525.5 923,525.8 924,526 925,526.3 926,526.6 927,526.9 928,527.3 929,527.6 930,528 931,528.5 932,528.9 933,529.3 934,529.7 935,530.1 936,530.5 937,530.9 938,531.2 939,531.6 940,532 941,532.4 942,532.8 943,533.2 944,533.6 945,534 946,534.4 947,534.8 948,535.1 949,535.5 950,535.9 951,536.2 952,536.6 953,536.9 954,537.2 955,537.5 956,537.8 957,538.1 958,538.3 959,538.6 960,538.9 961,539.1 962,539.4 963,539.6 964,539.9 965,540.1 966,540.3 967,540.5 968,540.7 969,540.9 970,541.1 971,541.3 972,541.5 L972,541.5 L857,541.5 Z" fill="#fb0007"/>
<path d="M757,541.5 758,540.9 759,540.3 760,539.6 761,538.8 762,537.9 763,537 764,536 765,535 766,533.9 767,532.7 768,531.4 769,530.1 770,528.6 771,527.1 772,525.5 773,523.9 774,522.1 775,520.4 776,518.5 777,516.6 778,514.7 779,512.7 780,510.7 781,508.6 782,506.4 783,504.1 784,501.6 785,499 786,496.2 787,493.4 788,490.4 789,487.4 790,484.3 791,481.2 792,478.1 793,475 794,471.8 795,468.7 796,465.7 797,462.7 798,459.8 799,456.9 800,454.2 801,451.4 802,448.6 803,445.8 804,442.9 805,440.1 806,437.2 807,434.4 808,431.7 809,429 810,426.4 811,423.8 812,421.4 813,419.2 814,417 815,415.1 816,413.3 817,411.5 818,409.9 819,408.2 820,406.7 821,405.3 822,404 823,402.8 824,409.5 825,417.1 826,424.5 827,431.7 828,438.8 829,445.8 830,452.7 831,459.6 832,466.5 833,473.4 834,480.1 835,486.6 836,492.7 837,498.5 838,503.8 839,508.6 840,512.9 841,517 842,520.8 843,524.2 844,527.3 845,530 846,532.4 847,534.7 848,536.8 849,538.7 850,540.2 851,541.5 852,541.5 853,541.5 854,541.5 855,541.5 856,541.5 857,541.5 858,541.4 859,541.2 860,540.9 861,540.7 862,540.4 863,540.1 864,539.9 865,539.6 866,539.3 867,539 868,538.6 869,538.3 870,538 871,537.7 872,537.3 873,536.9 874,536.5 875,536.1 876,535.7 877,535.3 878,534.9 879,534.5 880,534 881,533.6 882,533.1 883,532.7 884,532.3 885,531.8 886,531.4 887,530.9 888,530.4 889,529.9 890,529.4 891,528.9 892,528.4 893,527.9 894,527.5 895,527 896,526.6 897,526.3 898,526 899,525.7 900,525.5 901,525.2 902,524.9 903,524.7 904,524.5 905,524.3 906,524.1 907,523.9 908,523.8 909,523.7 910,523.6 911,523.6 912,523.6 913,523.7 914,523.8 915,524 916,524.1 917,524.3 918,524.5 919,524.8 920,525 921,525.2 922,525.5 923,525.8 924,526 925,526.3 926,526.6 927,526.9 928,527.3 929,527.6 930,528 931,528.5 932,528.9 933,529.3 934,529.7 935,530.1 936,530.5 937,530.9 938,531.2 939,531.6 940,532 941,532.4 942,532.8 943,533.2 944,533.6 945,534 946,534.4 947,534.8 948,535.1 949,535.5 950,535.9 951,536.2 952,536.6 953,536.9 954,537.2 955,537.5 956,537.8 957,538.1 958,538.3 959,538.6 960,538.9 961,539.1 962,539.4 963,539.6 964,539.9 965,540.1 966,540.3 967,540.5 968,540.7 969,540.9 970,541.1 971,541.3 972,541.5 L972,541.5 L757,541.5 Z" fill="url(#hk)"/>
<path d="M757,541.5 758,540.9 759,540.3 760,539.6 761,538.8 762,537.9 763,537 764,536 765,535 766,533.9 767,532.7 768,531.4 769,530.1 770,528.6 771,527.1 772,525.5 773,523.9 774,522.1 775,520.4 776,518.5 777,516.6 778,514.7 779,512.7 780,510.7 781,508.6 782,506.4 783,504.1 784,501.6 785,499 786,496.2 787,493.4 788,490.4 789,487.4 790,484.3 791,481.2 792,478.1 793,475 794,471.8 795,468.7 796,465.7 797,462.7 798,459.8 799,456.9 800,454.2 801,451.4 802,448.6 803,445.8 804,442.9 805,440.1 806,437.2 807,434.4 808,431.7 809,429 810,426.4 811,423.8 812,421.4 813,419.2 814,417 815,415.1 816,413.3 817,411.5 818,409.9 819,408.2 820,406.7 821,405.3 822,404 823,402.8 824,401.8 825,401 826,400.3 827,399.6 828,398.9 829,398.3 830,397.7 831,397.1 832,396.6 833,396.2 834,395.9 835,395.7 836,395.5 837,395.5 838,395.5 839,395.6 840,395.7 841,395.9 842,396.1 843,396.3 844,396.5 845,396.8 846,397.1 847,397.4 848,397.7 849,398 850,398.3 851,398.6 852,399 853,399.4 854,399.8 855,400.3 856,400.8 857,401.4 858,401.9 859,402.6 860,403.2 861,403.9 862,404.6 863,405.3 864,406 865,406.8 866,407.5 867,408.3 868,409.1 869,409.9 870,410.7 871,411.5 872,412.3 873,413 874,413.8 875,414.6 876,415.5 877,416.3 878,417.2 879,418.1 880,419 881,419.9 882,420.8 883,421.8 884,422.8 885,423.7 886,424.8 887,425.8 888,426.8 889,427.9 890,428.9 891,430 892,431.1 893,432.2 894,433.4 895,434.5 896,435.6 897,436.8 898,438 899,439.2 900,440.5 901,441.8 902,443.1 903,444.4 904,445.8 905,447.2 906,448.6 907,450 908,451.5 909,452.9 910,454.4 911,455.9 912,457.3 913,458.8 914,460.3 915,461.8 916,463.3 917,464.8 918,466.3 919,467.7 920,469.2 921,470.7 922,472.1 923,473.6 924,475.1 925,476.7 926,478.2 927,479.7 928,481.3 929,482.8 930,484.4 931,485.9 932,487.5 933,489 934,490.5 935,492 936,493.6 937,495.1 938,496.6 939,498 940,499.5 941,500.9 942,502.3 943,503.7 944,505.1 945,506.5 946,507.8 947,509.2 948,510.5 949,511.9 950,513.2 951,514.5 952,515.8 953,517.1 954,518.3 955,519.6 956,520.8 957,522 958,523.1 959,524.2 960,525.3 961,526.4 962,527.5 963,528.5 964,529.5 965,530.5 966,531.5 967,532.4 968,533.3 969,534.2 970,535 971,535.8 972,536.6 973,537.4 974,538.1 975,538.9 976,539.6 977,540.2 978,540.9 979,541.5" fill="none" stroke="#300" stroke-width="1.3"/>
<path d="M738,541.5 739,540.8 740,539.8 741,538.5 742,537.1 743,535.5 744,533.8 745,532 746,530 747,527.8 748,525.4 749,522.7 750,519.8 751,516.7 752,513.3 753,509.7 754,505.8 755,501.1 756,495.8 757,490.1 758,484 759,477.8 760,471.4 761,465 762,458.6 763,452 764,445.2 765,438.2 766,431 767,423.6 768,416 769,408.3 770,400.3 771,392 772,383.3 773,374.4 774,365.2 775,355.9 776,346.5 777,336.9 778,327.3 779,317.7 780,308.2 781,298.8 782,289.6 783,280.5 784,271.6 785,262.4 786,253 787,243.7 788,234.7 789,226.2 790,218.6 791,212 792,205.7 793,199.3 794,193.6 795,189.5 796,187.7 797,188.7 798,191.5 799,195.6 800,200 801,205.5 802,212.7 803,220.8 804,229 805,237 806,245.1 807,253.5 808,262 809,270.8 810,279.7 811,288.7 812,297.8 813,307.1 814,316.4 815,326.3 816,336.6 817,346.9 818,357.2 819,367.2 820,376.6 821,385.3 822,393.6 823,401.7 824,409.5 825,417.1 826,424.5 827,431.7 828,438.8 829,445.8 830,452.7 831,459.6 832,466.5 833,473.4 834,480.1 835,486.6 836,492.7 837,498.5 838,503.8 839,508.6 840,512.9 841,517 842,520.8 843,524.2 844,527.3 845,530 846,532.4 847,534.7 848,536.8 849,538.7 850,540.2 851,541.5" fill="none" stroke="#200" stroke-width="2" stroke-dasharray="9 5" opacity="0.85"/>
<path d="M857,541.5 858,541.4 859,541.2 860,540.9 861,540.7 862,540.4 863,540.1 864,539.9 865,539.6 866,539.3 867,539 868,538.6 869,538.3 870,538 871,537.7 872,537.3 873,536.9 874,536.5 875,536.1 876,535.7 877,535.3 878,534.9 879,534.5 880,534 881,533.6 882,533.1 883,532.7 884,532.3 885,531.8 886,531.4 887,530.9 888,530.4 889,529.9 890,529.4 891,528.9 892,528.4 893,527.9 894,527.5 895,527 896,526.6 897,526.3 898,526 899,525.7 900,525.5 901,525.2 902,524.9 903,524.7 904,524.5 905,524.3 906,524.1 907,523.9 908,523.8 909,523.7 910,523.6 911,523.6 912,523.6 913,523.7 914,523.8 915,524 916,524.1 917,524.3 918,524.5 919,524.8 920,525 921,525.2 922,525.5 923,525.8 924,526 925,526.3 926,526.6 927,526.9 928,527.3 929,527.6 930,528 931,528.5 932,528.9 933,529.3 934,529.7 935,530.1 936,530.5 937,530.9 938,531.2 939,531.6 940,532 941,532.4 942,532.8 943,533.2 944,533.6 945,534 946,534.4 947,534.8 948,535.1 949,535.5 950,535.9 951,536.2 952,536.6 953,536.9 954,537.2 955,537.5 956,537.8 957,538.1 958,538.3 959,538.6 960,538.9 961,539.1 962,539.4 963,539.6 964,539.9 965,540.1 966,540.3 967,540.5 968,540.7 969,540.9 970,541.1 971,541.3 972,541.5" fill="none" stroke="#200" stroke-width="2" stroke-dasharray="9 5" opacity="0.85"/>
<path d="M720,541.5 721,541.5 722,541.5 723,541.5 724,541.5 725,541.5 726,541.5 727,541.5 728,541.5 729,541.5 730,541.5 731,541.5 732,541.5 733,541.5 734,540.7 735,539.8 736,538.7 737,537.5 738,536.2 739,534.8 740,533.2 741,531.7 742,530 743,528.2 744,526.2 745,524 746,521.7 747,519.2 748,516.6 749,513.8 750,511 751,508 752,505 753,502 754,499.1 755,496.1 756,492.9 757,489.3 758,485.2 759,480.5 760,475 761,467.7 762,456.9 763,443.5 764,428.2 765,412 766,395.6 767,380 768,364.7 769,348.8 770,332.5 771,315.8 772,298.9 773,281.9 774,265 775,244.4 776,226.6 777,222.1 778,220.6 779,219.7 780,218.6 781,216.7 782,211.1 783,201.3 784,190 785,180 786,171.3 787,162.6 788,154.2 789,146.5 790,139.8 791,134.1 792,128.9 793,124.2 794,120.2 795,117 796,114.2 797,111.5 798,109.4 799,108 800,108 801,109.6 802,112.5 803,116.1 804,120 805,124.3 806,129.7 807,135.9 808,142.8 809,150.3 810,159.6 811,171.2 812,183.8 813,196.5 814,208.3 815,218 816,224.7 817,229.7 818,233.9 819,237.5 820,240.6 821,243.3 822,245.3 823,246.8 824,248.3 825,249.9 826,251.9 827,254.6 828,259.5 829,270.1 830,284.1 831,298.9 832,311.7 833,323.1 834,334.7 835,345.4 836,353.9 837,359.3 838,363.5 839,367.4 840,370.9 841,374 842,376.9 843,379.4 844,381.7 845,383.6 846,385.3 847,386.6 848,387.7 849,388.6 850,389.3 851,390 852,390.5 853,391.1 854,391.5 855,391.9 856,392.3 857,392.7 858,393.1 859,393.5 860,394 861,394.5 862,395 863,395.6 864,396.2 865,396.8 866,397.4 867,398 868,398.6 869,399.2 870,399.8 871,400.4 872,401.1 873,401.7 874,402.4 875,403.1 876,403.8 877,404.5 878,405.3 879,406 880,406.8 881,407.6 882,408.4 883,409.2 884,410.1 885,411 886,411.9 887,412.9 888,413.9 889,415 890,416.1 891,417.3 892,418.5 893,419.7 894,421 895,422.3 896,423.6 897,425 898,426.4 899,427.8 900,429.2 901,430.6 902,432 903,433.5 904,434.9 905,436.4 906,437.8 907,439.2 908,440.7 909,442.1 910,443.6 911,445.1 912,446.6 913,448.1 914,449.7 915,451.3 916,452.9 917,454.5 918,456.2 919,457.8 920,459.5 921,461.1 922,462.8 923,464.4 924,466.1 925,467.7 926,469.4 927,471 928,472.6 929,474.3 930,475.8 931,477.4 932,479 933,480.5 934,482.1 935,483.6 936,485.2 937,486.8 938,488.4 939,489.9 940,491.5 941,493.1 942,494.6 943,496.2 944,497.7 945,499.2 946,500.7 947,502.2 948,503.7 949,505.1 950,506.6 951,508 952,509.3 953,510.7 954,512 955,513.3 956,514.5 957,515.7 958,516.9 959,518.1 960,519.3 961,520.4 962,521.5 963,522.6 964,523.7 965,524.8 966,525.9 967,526.9 968,528 969,529 970,530 971,531 972,532.1 973,533.2 974,534.3 975,535.2 976,536.1 977,536.9 978,537.5 979,538 980,538.5 981,539 982,539.4 983,539.9 984,540.3 985,540.6 986,540.9 987,541.2 988,541.3 989,541.5 990,541.5 991,541.5 992,541.5 993,541.5 994,541.5 995,541.5 996,541.5 997,541.5 998,541.5 999,541.5 1000,541.5 1001,541.5 1002,541.5 1003,541.5 1004,541.5 1005,541.5 1006,541.5 1007,541.5 1008,541.5 1009,541.5" fill="none" stroke="#444" stroke-width="1.6"/>
<path d="M720,541.5 722.2,541.5 724.4,541.5 726.6,541.5 728.8,541.5 731,541.5 733.2,541.5 735.4,540.2 737.6,536.5 739.8,534.5 742,533.4 744.2,526.8 746.4,522.4 748.6,513.8 750.8,515.3 753,505.8 755.2,492.4 757.4,482.6 759.6,483.5 761.8,460.1 764,433.5 766.2,398.8 768.4,365.7 770.6,329.9 772.8,291.1 775,251.6 777.2,231.1 779.4,232.2 781.6,223.2 783.8,203.1 786,179.7 788.2,166.8 790.4,96 792.6,139.1 794.8,130.7 797,122.3 799.2,118.1 801.4,112.7 803.6,131.7 805.8,133.2 808,156 810.2,174.8 812.4,199.2 814.6,222.7 816.8,236.7 819,237.9 821.2,243 823.4,251.5 825.6,262.5 827.8,267.4 830,288.1 832.2,320.2 834.4,349.3 836.6,365.8 838.8,375.5 841,370.7 843.2,385.6 845.4,367.4 847.6,384.6 849.8,392.2 852,400.8 854.2,382.9 856.4,400.2 858.6,408.9 860.8,391.3 863,399.8 865.2,386.2 867.4,403.4 869.6,439.2 871.8,395.5 874,429.2 876.2,389.8 878.4,388.4 880.6,416.2 882.8,426.1 885,430.1 887.2,407.8 889.4,421.3 891.6,427.6 893.8,426.7 896,408 898.2,427 900.4,426.5 902.6,429.5 904.8,430.6 907,433.5 909.2,451.2 911.4,450.3 913.6,457.7 915.8,460.6 918,450.4 920.2,465.8 922.4,466.3 924.6,474 926.8,476.7 929,471.1 931.2,482.5 933.4,485.9 935.6,483.3 937.8,486.7 940,488.5 942.2,495.4 944.4,508.9 946.6,499.6 948.8,503.5 951,504 953.2,515.8 955.4,503.1 957.6,522.6 959.8,516.7 962,522 964.2,526.3 966.4,523.8 968.6,529.9 970.8,538.1 973,536.5 975.2,534.5 977.4,532.5 979.6,541.3 981.8,539.4 984,538.5 986.2,540.5 988.4,541.5 990.6,541.5 992.8,541.5 995,541.5 997.2,541.5 999.4,541.5 1001.6,541.5 1003.8,541.5 1006,541.5 1008.2,541.5" fill="none" stroke="#5e5e5e" stroke-width="1.5" stroke-linejoin="round"/>
<path d="M641,46 V554.5 M631,541.5 H1090" stroke="#444" stroke-width="3.1" fill="none"/>
<path d="M641,541.5 v13 M722.6,541.5 v13 M804.2,541.5 v13 M885.8,541.5 v13 M967.4,541.5 v13 M1049,541.5 v13 M641,541.5 v7.5 M657.3,541.5 v7.5 M673.6,541.5 v7.5 M690,541.5 v7.5 M706.3,541.5 v7.5 M722.6,541.5 v7.5 M738.9,541.5 v7.5 M755.2,541.5 v7.5 M771.6,541.5 v7.5 M787.9,541.5 v7.5 M804.2,541.5 v7.5 M820.5,541.5 v7.5 M836.8,541.5 v7.5 M853.2,541.5 v7.5 M869.5,541.5 v7.5 M885.8,541.5 v7.5 M902.1,541.5 v7.5 M918.4,541.5 v7.5 M934.8,541.5 v7.5 M951.1,541.5 v7.5 M967.4,541.5 v7.5 M983.7,541.5 v7.5 M1000,541.5 v7.5 M1016.4,541.5 v7.5 M1032.7,541.5 v7.5 M1049,541.5 v7.5 M1065.3,541.5 v7.5 M1081.6,541.5 v7.5 M641,541.5 h-10 M641,438 h-10 M641,333 h-10 M641,228.5 h-10 M641,127.6 h-10 M641,541.5 h-5 M641,520.8 h-5 M641,500.1 h-5 M641,479.4 h-5 M641,458.7 h-5 M641,438 h-5 M641,417.3 h-5 M641,396.6 h-5 M641,375.9 h-5 M641,355.2 h-5 M641,334.5 h-5 M641,313.8 h-5 M641,293.1 h-5 M641,272.4 h-5 M641,251.7 h-5 M641,231 h-5 M641,210.3 h-5 M641,189.6 h-5 M641,168.9 h-5 M641,148.2 h-5 M641,127.5 h-5 M641,106.8 h-5 M641,86.1 h-5 M641,65.4 h-5" stroke="#444" stroke-width="2.6" fill="none"/>
<text x="641" y="594" font-size="33" fill="#222" text-anchor="middle">0</text>
<text x="722.9" y="594" font-size="33" fill="#222" text-anchor="middle">40</text>
<text x="806.3" y="594" font-size="33" fill="#222" text-anchor="middle">80</text>
<text x="889.8" y="594" font-size="33" fill="#222" text-anchor="middle">120</text>
<text x="971.8" y="594" font-size="33" fill="#222" text-anchor="middle">160</text>
<text x="1050.6" y="594" font-size="33" fill="#222" text-anchor="middle">200</text>
<text transform="translate(616.6,541.5) rotate(-90)" font-size="33" fill="#222" text-anchor="middle">0</text>
<text transform="translate(616.6,438) rotate(-90)" font-size="33" fill="#222" text-anchor="middle">50</text>
<text transform="translate(616.6,333) rotate(-90)" font-size="33" fill="#222" text-anchor="middle">100</text>
<text transform="translate(616.6,228.5) rotate(-90)" font-size="33" fill="#222" text-anchor="middle">150</text>
<text transform="translate(616.6,127.6) rotate(-90)" font-size="33" fill="#222" text-anchor="middle">200</text>
<text transform="translate(579,280) rotate(-90)" font-size="33" fill="#222" text-anchor="middle">Number</text>
<text x="674" y="61.5" font-size="33.5" fill="#222">LNCaP QKI si</text>
<rect x="939" y="47" width="20" height="14.5" fill="#fb0007" stroke="#7a1010" stroke-width="1.5"/>
<text x="966" y="62" font-size="24.2" fill="#6a6af0">Dip G1</text>
<rect x="939" y="77" width="20" height="15" fill="#fb0007" stroke="#7a1010" stroke-width="1.5"/>
<text x="966" y="93" font-size="24.2" fill="#6a6af0">Dip G2</text>
<rect x="940.2" y="108.2" width="17.6" height="15.6" fill="#fff" stroke="#484850" stroke-width="3"/>
<path d="M942,110 L956,122" stroke="#6a6af0" stroke-width="2.4"/>
<text x="966" y="124.5" font-size="24.2" fill="#6a6af0">Dip S</text>
<path d="M222,1157.5 223,1157.1 224,1156.6 225,1156.1 226,1155.5 227,1154.8 228,1154.2 229,1153.4 230,1152.6 231,1151.8 232,1151 233,1150.1 234,1149.1 235,1148 236,1146.9 237,1145.7 238,1144.4 239,1143 240,1141.7 241,1140.2 242,1138.8 243,1137.3 244,1135.8 245,1134.3 246,1132.7 247,1131.2 248,1129.5 249,1127.8 250,1126.1 251,1124.3 252,1122.4 253,1120.6 254,1118.6 255,1116.7 256,1114.7 257,1112.8 258,1110.8 259,1108.8 260,1106.8 261,1104.8 262,1102.8 263,1100.8 264,1098.9 265,1096.9 266,1094.9 267,1092.8 268,1090.6 269,1088.4 270,1086.2 271,1084 272,1081.8 273,1079.6 274,1077.5 275,1075.4 276,1073.5 277,1071.6 278,1069.8 279,1068.2 280,1066.7 281,1065.3 282,1064 283,1062.8 284,1061.5 285,1060.3 286,1059.1 287,1058 288,1057 289,1056 290,1055 291,1054.2 292,1053.4 293,1052.8 294,1052.2 295,1051.7 296,1051.2 297,1050.8 298,1050.3 299,1049.9 300,1049.4 301,1049 302,1048.6 303,1048.3 304,1047.9 305,1047.6 306,1047.3 307,1047.1 308,1046.8 309,1046.7 310,1046.5 311,1046.4 312,1046.3 313,1046.3 314,1046.3 315,1046.4 316,1046.6 317,1046.8 318,1047 319,1047.3 320,1047.7 321,1048 322,1048.5 323,1048.9 324,1049.4 325,1049.9 326,1050.4 327,1050.9 328,1051.4 329,1051.9 330,1052.5 331,1053 332,1053.5 333,1054 334,1054.6 335,1055.1 336,1055.6 337,1056.1 338,1056.7 339,1057.3 340,1057.9 341,1058.5 342,1059.2 343,1059.8 344,1060.5 345,1061.2 346,1061.9 347,1062.6 348,1063.3 349,1064.1 350,1064.9 351,1065.7 352,1066.5 353,1067.3 354,1068.1 355,1069 356,1069.8 357,1070.7 358,1071.6 359,1072.6 360,1073.6 361,1074.7 362,1075.9 363,1077 364,1078.3 365,1079.5 366,1080.8 367,1082.1 368,1083.4 369,1084.7 370,1086 371,1087.3 372,1088.7 373,1090 374,1091.3 375,1092.6 376,1093.8 377,1095 378,1096.2 379,1097.4 380,1098.5 381,1099.6 382,1100.7 383,1101.7 384,1102.8 385,1103.8 386,1104.9 387,1105.9 388,1106.9 389,1107.9 390,1108.9 391,1109.9 392,1110.9 393,1111.8 394,1112.8 395,1113.8 396,1114.7 397,1115.6 398,1116.6 399,1117.5 400,1118.4 401,1119.3 402,1120.2 403,1121.1 404,1122 405,1122.9 406,1123.8 407,1124.7 408,1125.6 409,1126.5 410,1127.3 411,1128.2 412,1129.1 413,1129.9 414,1130.8 415,1131.6 416,1132.4 417,1133.2 418,1134 419,1134.8 420,1135.6 421,1136.3 422,1137 423,1137.8 424,1138.4 425,1139.1 426,1139.7 427,1140.4 428,1141 429,1141.6 430,1142.2 431,1142.7 432,1143.3 433,1143.8 434,1144.4 435,1144.9 436,1145.4 437,1146 438,1146.5 439,1147 440,1147.4 441,1147.9 442,1148.4 443,1148.8 444,1149.3 445,1149.7 446,1150.2 447,1150.6 448,1151 449,1151.5 450,1151.9 451,1152.3 452,1152.7 453,1153.1 454,1153.4 455,1153.8 456,1154.2 457,1154.6 458,1154.9 459,1155.3 460,1155.6 461,1155.9 462,1156.3 463,1156.6 464,1156.9 465,1157.2 466,1157.5 L466,1157.5 L222,1157.5 Z" fill="#fff"/>
<path d="M222,1157.5 223,1157.1 224,1156.6 225,1156.1 226,1155.5 227,1154.8 228,1154.2 229,1153.4 230,1152.6 231,1151.8 232,1151 233,1150.1 234,1149.1 235,1148 236,1146.9 237,1145.7 238,1144.4 239,1143 240,1141.7 241,1140.2 242,1138.8 243,1137.3 244,1135.8 245,1134.3 246,1132.7 247,1131.2 248,1129.5 249,1127.8 250,1126.1 251,1124.3 252,1122.4 253,1120.6 254,1118.6 255,1116.7 256,1114.7 257,1112.8 258,1110.8 259,1108.8 260,1106.8 261,1104.8 262,1102.8 263,1100.8 264,1098.9 265,1096.9 266,1094.9 267,1092.8 268,1090.6 269,1088.4 270,1086.2 271,1084 272,1081.8 273,1079.6 274,1077.5 275,1075.4 276,1073.5 277,1071.6 278,1069.8 279,1068.2 280,1066.7 281,1065.3 282,1064 283,1062.8 284,1061.5 285,1060.3 286,1059.1 287,1058 288,1057 289,1056 290,1055 291,1054.2 292,1053.4 293,1052.8 294,1052.2 295,1051.7 296,1051.2 297,1050.8 298,1050.3 299,1049.9 300,1049.4 301,1049 302,1048.6 303,1048.3 304,1047.9 305,1047.6 306,1047.3 307,1047.1 308,1046.8 309,1046.7 310,1046.5 311,1046.4 312,1046.3 313,1046.3 314,1046.3 315,1046.4 316,1046.6 317,1046.8 318,1047 319,1047.3 320,1047.7 321,1048 322,1048.5 323,1048.9 324,1049.4 325,1049.9 326,1050.4 327,1050.9 328,1051.4 329,1051.9 330,1052.5 331,1053 332,1053.5 333,1054 334,1054.6 335,1055.1 336,1055.6 337,1056.1 338,1056.7 339,1057.3 340,1057.9 341,1058.5 342,1059.2 343,1059.8 344,1060.5 345,1061.2 346,1061.9 347,1062.6 348,1063.3 349,1064.1 350,1064.9 351,1065.7 352,1066.5 353,1067.3 354,1068.1 355,1069 356,1069.8 357,1070.7 358,1071.6 359,1072.6 360,1073.6 361,1074.7 362,1075.9 363,1077 364,1078.3 365,1079.5 366,1080.8 367,1082.1 368,1083.4 369,1084.7 370,1086 371,1087.3 372,1088.7 373,1090 374,1091.3 375,1092.6 376,1093.8 377,1095 378,1096.2 379,1097.4 380,1098.5 381,1099.6 382,1100.7 383,1101.7 384,1102.8 385,1103.8 386,1104.9 387,1105.9 388,1106.9 389,1107.9 390,1108.9 391,1109.9 392,1110.9 393,1111.8 394,1112.8 395,1113.8 396,1114.7 397,1115.6 398,1116.6 399,1117.5 400,1118.4 401,1119.3 402,1120.2 403,1121.1 404,1122 405,1122.9 406,1123.8 407,1124.7 408,1125.6 409,1126.5 410,1127.3 411,1128.2 412,1129.1 413,1129.9 414,1130.8 415,1131.6 416,1132.4 417,1133.2 418,1134 419,1134.8 420,1135.6 421,1136.3 422,1137 423,1137.8 424,1138.4 425,1139.1 426,1139.7 427,1140.4 428,1141 429,1141.6 430,1142.2 431,1142.7 432,1143.3 433,1143.8 434,1144.4 435,1144.9 436,1145.4 437,1146 438,1146.5 439,1147 440,1147.4 441,1147.9 442,1148.4 443,1148.8 444,1149.3 445,1149.7 446,1150.2 447,1150.6 448,1151 449,1151.5 450,1151.9 451,1152.3 452,1152.7 453,1153.1 454,1153.4 455,1153.8 456,1154.2 457,1154.6 458,1154.9 459,1155.3 460,1155.6 461,1155.9 462,1156.3 463,1156.6 464,1156.9 465,1157.2 466,1157.5 L466,1157.5 L222,1157.5 Z" fill="url(#hb)" stroke="#333" stroke-width="1.3"/>
<path d="M197,1157.5 198,1156.8 199,1155.9 200,1154.9 201,1153.7 202,1152.4 203,1151 204,1149.5 205,1148 206,1146.4 207,1144.6 208,1142.7 209,1140.6 210,1138.2 211,1135.6 212,1132.8 213,1129.6 214,1125.9 215,1121.2 216,1115.5 217,1109.2 218,1102.3 219,1095.2 220,1088 221,1080.4 222,1072 223,1063 224,1053.7 225,1044.3 226,1035 227,1026 228,1017.4 229,1008.7 230,999.9 231,991.2 232,982.5 233,973.8 234,965.2 235,956.7 236,948.3 237,940 238,931.8 239,923.8 240,916.1 241,908.5 242,901 243,893.3 244,885.6 245,877.9 246,870.4 247,863.1 248,856.1 249,849.4 250,843.3 251,837.7 252,832.7 253,828.5 254,824.3 255,820.2 256,816.1 257,812.4 258,809 259,806.1 260,803.9 261,802.5 262,802 263,802.7 264,804.7 265,807.8 266,811.8 267,816.4 268,821.6 269,827 270,832.5 271,837.9 272,843.4 273,849.6 274,856.5 275,863.8 276,871.6 277,879.7 278,887.9 279,896.2 280,904.4 281,912.6 282,921 283,929.6 284,938.4 285,947.4 286,956.4 287,965.5 288,974.5 289,983.4 290,992.2 291,1001.2 292,1010.3 293,1019.5 294,1028.7 295,1037.8 296,1046.6 297,1055.1 298,1063.1 299,1070.7 300,1077.9 301,1085.1 302,1092.1 303,1098.8 304,1105.3 305,1111.5 306,1117.2 307,1122.5 308,1127.3 309,1131.6 310,1135.6 311,1139.3 312,1142.6 313,1145.6 314,1148 315,1150.1 316,1152.1 317,1153.9 318,1155.4 319,1156.6 320,1157.5 L320,1157.5 L197,1157.5 Z" fill="#fb0007"/>
<path d="M322,1157.5 323,1157.2 324,1156.8 325,1156.4 326,1155.9 327,1155.5 328,1155 329,1154.6 330,1154.1 331,1153.6 332,1153.1 333,1152.5 334,1152 335,1151.4 336,1150.9 337,1150.3 338,1149.7 339,1149 340,1148.4 341,1147.7 342,1147.1 343,1146.4 344,1145.7 345,1145 346,1144.3 347,1143.6 348,1142.8 349,1142 350,1141.2 351,1140.4 352,1139.6 353,1138.7 354,1137.9 355,1137 356,1136.1 357,1135.3 358,1134.4 359,1133.6 360,1132.7 361,1131.9 362,1131.1 363,1130.3 364,1129.5 365,1128.7 366,1128 367,1127.3 368,1126.6 369,1126 370,1125.3 371,1124.7 372,1124.1 373,1123.4 374,1122.8 375,1122.2 376,1121.7 377,1121.2 378,1120.7 379,1120.3 380,1120 381,1119.7 382,1119.4 383,1119.1 384,1118.8 385,1118.6 386,1118.3 387,1118.2 388,1118.1 389,1118 390,1118 391,1118.1 392,1118.2 393,1118.3 394,1118.5 395,1118.7 396,1119 397,1119.2 398,1119.5 399,1119.7 400,1120 401,1120.3 402,1120.6 403,1120.9 404,1121.3 405,1121.7 406,1122.1 407,1122.5 408,1123 409,1123.4 410,1123.9 411,1124.4 412,1124.9 413,1125.4 414,1125.9 415,1126.4 416,1127 417,1127.6 418,1128.1 419,1128.7 420,1129.4 421,1130 422,1130.6 423,1131.2 424,1131.8 425,1132.5 426,1133.1 427,1133.8 428,1134.4 429,1135 430,1135.7 431,1136.3 432,1136.9 433,1137.6 434,1138.2 435,1138.8 436,1139.4 437,1140 438,1140.7 439,1141.3 440,1141.9 441,1142.6 442,1143.2 443,1143.9 444,1144.5 445,1145.1 446,1145.8 447,1146.4 448,1147 449,1147.6 450,1148.3 451,1148.9 452,1149.5 453,1150.1 454,1150.7 455,1151.2 456,1151.8 457,1152.4 458,1153 459,1153.5 460,1154 461,1154.5 462,1155 463,1155.4 464,1155.9 465,1156.3 466,1156.7 467,1157.1 468,1157.5 L468,1157.5 L322,1157.5 Z" fill="#fb0007"/>
<path d="M222,1157.5 223,1157.1 224,1156.6 225,1156.1 226,1155.5 227,1154.8 228,1154.2 229,1153.4 230,1152.6 231,1151.8 232,1151 233,1150.1 234,1149.1 235,1148 236,1146.9 237,1145.7 238,1144.4 239,1143 240,1141.7 241,1140.2 242,1138.8 243,1137.3 244,1135.8 245,1134.3 246,1132.7 247,1131.2 248,1129.5 249,1127.8 250,1126.1 251,1124.3 252,1122.4 253,1120.6 254,1118.6 255,1116.7 256,1114.7 257,1112.8 258,1110.8 259,1108.8 260,1106.8 261,1104.8 262,1102.8 263,1100.8 264,1098.9 265,1096.9 266,1094.9 267,1092.8 268,1090.6 269,1088.4 270,1086.2 271,1084 272,1081.8 273,1079.6 274,1077.5 275,1075.4 276,1073.5 277,1071.6 278,1069.8 279,1068.2 280,1066.7 281,1065.3 282,1064 283,1062.8 284,1061.5 285,1060.3 286,1059.1 287,1058 288,1057 289,1056 290,1055 291,1054.2 292,1053.4 293,1052.8 294,1052.2 295,1051.7 296,1051.2 297,1055.1 298,1063.1 299,1070.7 300,1077.9 301,1085.1 302,1092.1 303,1098.8 304,1105.3 305,1111.5 306,1117.2 307,1122.5 308,1127.3 309,1131.6 310,1135.6 311,1139.3 312,1142.6 313,1145.6 314,1148 315,1150.1 316,1152.1 317,1153.9 318,1155.4 319,1156.6 320,1157.5 321,1157.5 322,1157.5 323,1157.2 324,1156.8 325,1156.4 326,1155.9 327,1155.5 328,1155 329,1154.6 330,1154.1 331,1153.6 332,1153.1 333,1152.5 334,1152 335,1151.4 336,1150.9 337,1150.3 338,1149.7 339,1149 340,1148.4 341,1147.7 342,1147.1 343,1146.4 344,1145.7 345,1145 346,1144.3 347,1143.6 348,1142.8 349,1142 350,1141.2 351,1140.4 352,1139.6 353,1138.7 354,1137.9 355,1137 356,1136.1 357,1135.3 358,1134.4 359,1133.6 360,1132.7 361,1131.9 362,1131.1 363,1130.3 364,1129.5 365,1128.7 366,1128 367,1127.3 368,1126.6 369,1126 370,1125.3 371,1124.7 372,1124.1 373,1123.4 374,1122.8 375,1122.2 376,1121.7 377,1121.2 378,1120.7 379,1120.3 380,1120 381,1119.7 382,1119.4 383,1119.1 384,1118.8 385,1118.6 386,1118.3 387,1118.2 388,1118.1 389,1118 390,1118 391,1118.1 392,1118.2 393,1118.3 394,1118.5 395,1118.7 396,1119 397,1119.2 398,1119.5 399,1119.7 400,1120 401,1120.3 402,1120.6 403,1121.1 404,1122 405,1122.9 406,1123.8 407,1124.7 408,1125.6 409,1126.5 410,1127.3 411,1128.2 412,1129.1 413,1129.9 414,1130.8 415,1131.6 416,1132.4 417,1133.2 418,1134 419,1134.8 420,1135.6 421,1136.3 422,1137 423,1137.8 424,1138.4 425,1139.1 426,1139.7 427,1140.4 428,1141 429,1141.6 430,1142.2 431,1142.7 432,1143.3 433,1143.8 434,1144.4 435,1144.9 436,1145.4 437,1146 438,1146.5 439,1147 440,1147.4 441,1147.9 442,1148.4 443,1148.8 444,1149.3 445,1149.7 446,1150.2 447,1150.6 448,1151 449,1151.5 450,1151.9 451,1152.3 452,1152.7 453,1153.1 454,1153.4 455,1153.8 456,1154.2 457,1154.6 458,1154.9 459,1155.3 460,1155.6 461,1155.9 462,1156.3 463,1156.6 464,1156.9 465,1157.2 466,1157.5 L466,1157.5 L222,1157.5 Z" fill="url(#hk)"/>
<path d="M222,1157.5 223,1157.1 224,1156.6 225,1156.1 226,1155.5 227,1154.8 228,1154.2 229,1153.4 230,1152.6 231,1151.8 232,1151 233,1150.1 234,1149.1 235,1148 236,1146.9 237,1145.7 238,1144.4 239,1143 240,1141.7 241,1140.2 242,1138.8 243,1137.3 244,1135.8 245,1134.3 246,1132.7 247,1131.2 248,1129.5 249,1127.8 250,1126.1 251,1124.3 252,1122.4 253,1120.6 254,1118.6 255,1116.7 256,1114.7 257,1112.8 258,1110.8 259,1108.8 260,1106.8 261,1104.8 262,1102.8 263,1100.8 264,1098.9 265,1096.9 266,1094.9 267,1092.8 268,1090.6 269,1088.4 270,1086.2 271,1084 272,1081.8 273,1079.6 274,1077.5 275,1075.4 276,1073.5 277,1071.6 278,1069.8 279,1068.2 280,1066.7 281,1065.3 282,1064 283,1062.8 284,1061.5 285,1060.3 286,1059.1 287,1058 288,1057 289,1056 290,1055 291,1054.2 292,1053.4 293,1052.8 294,1052.2 295,1051.7 296,1051.2 297,1050.8 298,1050.3 299,1049.9 300,1049.4 301,1049 302,1048.6 303,1048.3 304,1047.9 305,1047.6 306,1047.3 307,1047.1 308,1046.8 309,1046.7 310,1046.5 311,1046.4 312,1046.3 313,1046.3 314,1046.3 315,1046.4 316,1046.6 317,1046.8 318,1047 319,1047.3 320,1047.7 321,1048 322,1048.5 323,1048.9 324,1049.4 325,1049.9 326,1050.4 327,1050.9 328,1051.4 329,1051.9 330,1052.5 331,1053 332,1053.5 333,1054 334,1054.6 335,1055.1 336,1055.6 337,1056.1 338,1056.7 339,1057.3 340,1057.9 341,1058.5 342,1059.2 343,1059.8 344,1060.5 345,1061.2 346,1061.9 347,1062.6 348,1063.3 349,1064.1 350,1064.9 351,1065.7 352,1066.5 353,1067.3 354,1068.1 355,1069 356,1069.8 357,1070.7 358,1071.6 359,1072.6 360,1073.6 361,1074.7 362,1075.9 363,1077 364,1078.3 365,1079.5 366,1080.8 367,1082.1 368,1083.4 369,1084.7 370,1086 371,1087.3 372,1088.7 373,1090 374,1091.3 375,1092.6 376,1093.8 377,1095 378,1096.2 379,1097.4 380,1098.5 381,1099.6 382,1100.7 383,1101.7 384,1102.8 385,1103.8 386,1104.9 387,1105.9 388,1106.9 389,1107.9 390,1108.9 391,1109.9 392,1110.9 393,1111.8 394,1112.8 395,1113.8 396,1114.7 397,1115.6 398,1116.6 399,1117.5 400,1118.4 401,1119.3 402,1120.2 403,1121.1 404,1122 405,1122.9 406,1123.8 407,1124.7 408,1125.6 409,1126.5 410,1127.3 411,1128.2 412,1129.1 413,1129.9 414,1130.8 415,1131.6 416,1132.4 417,1133.2 418,1134 419,1134.8 420,1135.6 421,1136.3 422,1137 423,1137.8 424,1138.4 425,1139.1 426,1139.7 427,1140.4 428,1141 429,1141.6 430,1142.2 431,1142.7 432,1143.3 433,1143.8 434,1144.4 435,1144.9 436,1145.4 437,1146 438,1146.5 439,1147 440,1147.4 441,1147.9 442,1148.4 443,1148.8 444,1149.3 445,1149.7 446,1150.2 447,1150.6 448,1151 449,1151.5 450,1151.9 451,1152.3 452,1152.7 453,1153.1 454,1153.4 455,1153.8 456,1154.2 457,1154.6 458,1154.9 459,1155.3 460,1155.6 461,1155.9 462,1156.3 463,1156.6 464,1156.9 465,1157.2 466,1157.5" fill="none" stroke="#300" stroke-width="1.3"/>
<path d="M197,1157.5 198,1156.8 199,1155.9 200,1154.9 201,1153.7 202,1152.4 203,1151 204,1149.5 205,1148 206,1146.4 207,1144.6 208,1142.7 209,1140.6 210,1138.2 211,1135.6 212,1132.8 213,1129.6 214,1125.9 215,1121.2 216,1115.5 217,1109.2 218,1102.3 219,1095.2 220,1088 221,1080.4 222,1072 223,1063 224,1053.7 225,1044.3 226,1035 227,1026 228,1017.4 229,1008.7 230,999.9 231,991.2 232,982.5 233,973.8 234,965.2 235,956.7 236,948.3 237,940 238,931.8 239,923.8 240,916.1 241,908.5 242,901 243,893.3 244,885.6 245,877.9 246,870.4 247,863.1 248,856.1 249,849.4 250,843.3 251,837.7 252,832.7 253,828.5 254,824.3 255,820.2 256,816.1 257,812.4 258,809 259,806.1 260,803.9 261,802.5 262,802 263,802.7 264,804.7 265,807.8 266,811.8 267,816.4 268,821.6 269,827 270,832.5 271,837.9 272,843.4 273,849.6 274,856.5 275,863.8 276,871.6 277,879.7 278,887.9 279,896.2 280,904.4 281,912.6 282,921 283,929.6 284,938.4 285,947.4 286,956.4 287,965.5 288,974.5 289,983.4 290,992.2 291,1001.2 292,1010.3 293,1019.5 294,1028.7 295,1037.8 296,1046.6 297,1055.1 298,1063.1 299,1070.7 300,1077.9 301,1085.1 302,1092.1 303,1098.8 304,1105.3 305,1111.5 306,1117.2 307,1122.5 308,1127.3 309,1131.6 310,1135.6 311,1139.3 312,1142.6 313,1145.6 314,1148 315,1150.1 316,1152.1 317,1153.9 318,1155.4 319,1156.6 320,1157.5" fill="none" stroke="#200" stroke-width="2" stroke-dasharray="9 5" opacity="0.85"/>
<path d="M322,1157.5 323,1157.2 324,1156.8 325,1156.4 326,1155.9 327,1155.5 328,1155 329,1154.6 330,1154.1 331,1153.6 332,1153.1 333,1152.5 334,1152 335,1151.4 336,1150.9 337,1150.3 338,1149.7 339,1149 340,1148.4 341,1147.7 342,1147.1 343,1146.4 344,1145.7 345,1145 346,1144.3 347,1143.6 348,1142.8 349,1142 350,1141.2 351,1140.4 352,1139.6 353,1138.7 354,1137.9 355,1137 356,1136.1 357,1135.3 358,1134.4 359,1133.6 360,1132.7 361,1131.9 362,1131.1 363,1130.3 364,1129.5 365,1128.7 366,1128 367,1127.3 368,1126.6 369,1126 370,1125.3 371,1124.7 372,1124.1 373,1123.4 374,1122.8 375,1122.2 376,1121.7 377,1121.2 378,1120.7 379,1120.3 380,1120 381,1119.7 382,1119.4 383,1119.1 384,1118.8 385,1118.6 386,1118.3 387,1118.2 388,1118.1 389,1118 390,1118 391,1118.1 392,1118.2 393,1118.3 394,1118.5 395,1118.7 396,1119 397,1119.2 398,1119.5 399,1119.7 400,1120 401,1120.3 402,1120.6 403,1120.9 404,1121.3 405,1121.7 406,1122.1 407,1122.5 408,1123 409,1123.4 410,1123.9 411,1124.4 412,1124.9 413,1125.4 414,1125.9 415,1126.4 416,1127 417,1127.6 418,1128.1 419,1128.7 420,1129.4 421,1130 422,1130.6 423,1131.2 424,1131.8 425,1132.5 426,1133.1 427,1133.8 428,1134.4 429,1135 430,1135.7 431,1136.3 432,1136.9 433,1137.6 434,1138.2 435,1138.8 436,1139.4 437,1140 438,1140.7 439,1141.3 440,1141.9 441,1142.6 442,1143.2 443,1143.9 444,1144.5 445,1145.1 446,1145.8 447,1146.4 448,1147 449,1147.6 450,1148.3 451,1148.9 452,1149.5 453,1150.1 454,1150.7 455,1151.2 456,1151.8 457,1152.4 458,1153 459,1153.5 460,1154 461,1154.5 462,1155 463,1155.4 464,1155.9 465,1156.3 466,1156.7 467,1157.1 468,1157.5" fill="none" stroke="#200" stroke-width="2" stroke-dasharray="9 5" opacity="0.85"/>
<path d="M185,1157.5 186,1157.5 187,1157.5 188,1157.5 189,1157.5 190,1157.5 191,1157.3 192,1156.9 193,1156.3 194,1155.5 195,1154.5 196,1153.4 197,1152.1 198,1150.8 199,1149.4 200,1148 201,1146.4 202,1144.6 203,1142.4 204,1140 205,1137.3 206,1134.3 207,1131.1 208,1127.6 209,1123.9 210,1120 211,1115.5 212,1110 213,1103.8 214,1096.9 215,1089.4 216,1081.4 217,1073 218,1064.5 219,1055.8 220,1047 221,1038.4 222,1030 223,1021.6 224,1012.8 225,1003.8 226,994.5 227,985.1 228,975.5 229,965.9 230,956.2 231,946.5 232,936.9 233,927.4 234,918.1 235,908.9 236,900 237,891.1 238,882 239,872.8 240,863.6 241,854.5 242,845.5 243,836.8 244,828.4 245,820.5 246,813 247,806.2 248,800 249,794.3 250,788.7 251,783.3 252,778.1 253,773.3 254,768.8 255,764.6 256,760.9 257,757.7 258,755 259,752.6 260,750.2 261,747.9 262,745.7 263,743.9 264,742.3 265,741.2 266,740.6 267,740.6 268,742.1 269,744.9 270,748.3 271,752 272,756.4 273,762 274,768.4 275,775.4 276,782.4 277,790.2 278,798.7 279,807.9 280,817.4 281,827 282,836.5 283,845.7 284,854.3 285,862 286,869 287,875.7 288,882 289,888.1 290,894 291,899.8 292,905.6 293,911.5 294,917.5 295,923.8 296,930.3 297,936.9 298,943.5 299,950.2 300,956.7 301,963 302,969.1 303,974.8 304,980.1 305,985.4 306,990.7 307,995.8 308,1000.8 309,1005.6 310,1009.9 311,1013.8 312,1017.1 313,1019.7 314,1022 315,1024.2 316,1026.3 317,1028.3 318,1030.1 319,1031.5 320,1032.6 321,1033.3 322,1033.6 323,1033.6 324,1033.6 325,1033.6 326,1033.6 327,1033.6 328,1033.6 329,1033.6 330,1033.6 331,1033.6 332,1033.6 333,1033.6 334,1033.6 335,1033.6 336,1033.6 337,1033.6 338,1033.6 339,1033.6 340,1033.6 341,1033.6 342,1033.6 343,1033.6 344,1033.6 345,1033.6 346,1033.6 347,1033.7 348,1033.7 349,1033.8 350,1034 351,1034.2 352,1034.4 353,1034.6 354,1034.9 355,1035.2 356,1035.5 357,1035.8 358,1036.1 359,1036.5 360,1036.9 361,1037.3 362,1037.7 363,1038.1 364,1038.5 365,1038.9 366,1039.4 367,1039.8 368,1040.3 369,1040.7 370,1041.2 371,1041.8 372,1042.4 373,1043.1 374,1043.8 375,1044.6 376,1045.4 377,1046.2 378,1047.1 379,1048 380,1049 381,1049.9 382,1050.9 383,1052 384,1053 385,1054.1 386,1055.1 387,1056.2 388,1057.3 389,1058.4 390,1059.5 391,1060.6 392,1061.7 393,1062.9 394,1064.1 395,1065.3 396,1066.6 397,1067.9 398,1069.2 399,1070.6 400,1072 401,1073.4 402,1074.9 403,1076.4 404,1077.9 405,1079.3 406,1080.8 407,1082.4 408,1083.9 409,1085.4 410,1086.8 411,1088.3 412,1089.8 413,1091.2 414,1092.7 415,1094.1 416,1095.5 417,1096.9 418,1098.4 419,1099.8 420,1101.3 421,1102.8 422,1104.3 423,1105.7 424,1107.2 425,1108.7 426,1110.2 427,1111.6 428,1113.1 429,1114.5 430,1115.9 431,1117.3 432,1118.6 433,1119.9 434,1121.2 435,1122.5 436,1123.7 437,1124.9 438,1126 439,1127.1 440,1128.2 441,1129.3 442,1130.4 443,1131.4 444,1132.5 445,1133.6 446,1134.6 447,1135.6 448,1136.6 449,1137.6 450,1138.5 451,1139.5 452,1140.4 453,1141.2 454,1142.1 455,1142.9 456,1143.7 457,1144.4 458,1145.1 459,1145.8 460,1146.4 461,1147 462,1147.6 463,1148.1 464,1148.7 465,1149.2 466,1149.7 467,1150.3 468,1150.8 469,1151.3 470,1151.8 471,1152.3 472,1152.7 473,1153.2 474,1153.6 475,1154 476,1154.3 477,1154.7 478,1155 479,1155.3 480,1155.6 481,1155.8 482,1156 483,1156.2 484,1156.4 485,1156.5 486,1156.6 487,1156.7 488,1156.8 489,1156.9 490,1157 491,1157.1 492,1157.2 493,1157.2 494,1157.3 495,1157.4 496,1157.4 497,1157.4 498,1157.5 499,1157.5 500,1157.5 501,1157.5 502,1157.5 503,1157.5 504,1157.5 505,1157.5 506,1157.5 507,1157.5 508,1157.5 509,1157.5 510,1157.5 511,1157.5 512,1157.5 513,1157.5 514,1157.5 515,1157.5 516,1157.5 517,1157.5 518,1157.5 519,1157.5" fill="none" stroke="#444" stroke-width="1.6"/>
<path d="M185,1157.5 187.2,1157.5 189.4,1157.5 191.6,1157.5 193.8,1157 196,1153.5 198.2,1150.7 200.4,1153.1 202.6,1140.4 204.8,1136.4 207,1134.1 209.2,1124.8 211.4,1112.9 213.6,1102.2 215.8,1086 218,1072.3 220.2,1046.6 222.4,1030 224.6,1010.8 226.8,997.8 229,965.5 231.2,950.4 233.4,932.2 235.6,903.3 237.8,892.2 240,878.1 242.2,854.8 244.4,845.1 246.6,814.3 248.8,808.5 251,798.8 253.2,777.1 255.4,787 257.6,763.6 259.8,684 262,764.8 264.2,769.4 266.4,730.3 268.6,740 270.8,765.7 273,769.3 275.2,789 277.4,802.2 279.6,826.8 281.8,850.9 284,871 286.2,877.1 288.4,880.9 290.6,903.8 292.8,920.5 295,921.1 297.2,943.6 299.4,958.4 301.6,971.1 303.8,985.1 306,997.5 308.2,1015.4 310.4,1012.3 312.6,1023.6 314.8,1016.4 317,1036 319.2,1058.8 321.4,1038.7 323.6,1007.5 325.8,1044.1 328,1053.2 330.2,1058.6 332.4,1056 334.6,1042.7 336.8,1058.3 339,1010.6 341.2,1042.4 343.4,1035.4 345.6,1012 347.8,1011.6 350,1041.3 352.2,1032.7 354.4,1027 356.6,1042.3 358.8,1067.4 361,1031 363.2,1028.4 365.4,1036.5 367.6,1057.2 369.8,1047.4 372,1053.9 374.2,1051.3 376.4,1032.6 378.6,1032.2 380.8,1045 383,1048.8 385.2,1049.7 387.4,1059.8 389.6,1062.9 391.8,1071.7 394,1067.4 396.2,1046.9 398.4,1064 400.6,1078.6 402.8,1082.8 405,1089.3 407.2,1081.7 409.4,1084.8 411.6,1103.3 413.8,1090.3 416,1101.9 418.2,1089.4 420.4,1102.4 422.6,1094.2 424.8,1113.1 427,1115 429.2,1114 431.4,1112.1 433.6,1118.2 435.8,1132.3 438,1125.8 440.2,1129.2 442.4,1134.1 444.6,1137.5 446.8,1126.7 449,1140.2 451.2,1144.4 453.4,1139 455.6,1143.2 457.8,1145.7 460,1143.4 462.2,1146 464.4,1147.7 466.6,1146.8 468.8,1150.4 471,1154.3 473.2,1154.4 475.4,1155.6 477.6,1154.5 479.8,1157.5 482,1157.5 484.2,1156.3 486.4,1157.5 488.6,1157.5 490.8,1157.5 493,1157.5 495.2,1157.5 497.4,1157.5 499.6,1157.5 501.8,1157.5 504,1157.5 506.2,1157.5 508.4,1157.5 510.6,1157.5 512.8,1157.5 515,1157.5 517.2,1157.5 519.4,1157.5" fill="none" stroke="#5e5e5e" stroke-width="1.5" stroke-linejoin="round"/>
<path d="M94,662 V1170.5 M84,1157.5 H545" stroke="#444" stroke-width="3.1" fill="none"/>
<path d="M94,1157.5 v13 M184.2,1157.5 v13 M274.4,1157.5 v13 M364.6,1157.5 v13 M454.8,1157.5 v13 M545,1157.5 v13 M94,1157.5 v7.5 M112,1157.5 v7.5 M130.1,1157.5 v7.5 M148.1,1157.5 v7.5 M166.2,1157.5 v7.5 M184.2,1157.5 v7.5 M202.2,1157.5 v7.5 M220.3,1157.5 v7.5 M238.3,1157.5 v7.5 M256.4,1157.5 v7.5 M274.4,1157.5 v7.5 M292.4,1157.5 v7.5 M310.5,1157.5 v7.5 M328.5,1157.5 v7.5 M346.6,1157.5 v7.5 M364.6,1157.5 v7.5 M382.6,1157.5 v7.5 M400.7,1157.5 v7.5 M418.7,1157.5 v7.5 M436.8,1157.5 v7.5 M454.8,1157.5 v7.5 M472.8,1157.5 v7.5 M490.9,1157.5 v7.5 M508.9,1157.5 v7.5 M527,1157.5 v7.5 M94,1157.5 h-10 M94,1059.5 h-10 M94,961 h-10 M94,862.5 h-10 M94,764 h-10 M94,1157.5 h-5 M94,1137.9 h-5 M94,1118.3 h-5 M94,1098.7 h-5 M94,1079.1 h-5 M94,1059.5 h-5 M94,1039.9 h-5 M94,1020.3 h-5 M94,1000.7 h-5 M94,981.1 h-5 M94,961.5 h-5 M94,941.9 h-5 M94,922.3 h-5 M94,902.7 h-5 M94,883.1 h-5 M94,863.5 h-5 M94,843.9 h-5 M94,824.3 h-5 M94,804.7 h-5 M94,785.1 h-5 M94,765.5 h-5 M94,745.9 h-5 M94,726.3 h-5 M94,706.7 h-5 M94,687.1 h-5 M94,667.5 h-5" stroke="#444" stroke-width="2.6" fill="none"/>
<text x="97" y="1220.3" font-size="33" fill="#222" text-anchor="middle">0</text>
<text x="186.2" y="1220.3" font-size="33" fill="#222" text-anchor="middle">40</text>
<text x="274.4" y="1220.3" font-size="33" fill="#222" text-anchor="middle">80</text>
<text x="369.6" y="1220.3" font-size="33" fill="#222" text-anchor="middle">120</text>
<text x="461.8" y="1220.3" font-size="33" fill="#222" text-anchor="middle">160</text>
<text x="545" y="1220.3" font-size="33" fill="#222" text-anchor="middle">200</text>
<text transform="translate(73.6,1157.5) rotate(-90)" font-size="33" fill="#222" text-anchor="middle">0</text>
<text transform="translate(73.6,1059.5) rotate(-90)" font-size="33" fill="#222" text-anchor="middle">40</text>
<text transform="translate(73.6,961) rotate(-90)" font-size="33" fill="#222" text-anchor="middle">80</text>
<text transform="translate(73.6,862.5) rotate(-90)" font-size="33" fill="#222" text-anchor="middle">120</text>
<text transform="translate(73.6,764) rotate(-90)" font-size="33" fill="#222" text-anchor="middle">160</text>
<text transform="translate(34.8,915.5) rotate(-90)" font-size="33" fill="#222" text-anchor="middle">Number</text>
<text x="206.6" y="664.6" font-size="33.5" fill="#222">C4-2 NC</text>
<rect x="420" y="645" width="20.6" height="16" fill="#fb0007" stroke="#7a1010" stroke-width="1.5"/>
<text x="446" y="662" font-size="24.2" fill="#6a6af0">Dip G1</text>
<rect x="420" y="676.4" width="20.6" height="15.2" fill="#fb0007" stroke="#7a1010" stroke-width="1.5"/>
<text x="446" y="692.6" font-size="24.2" fill="#6a6af0">Dip G2</text>
<rect x="421.2" y="707.7" width="18.2" height="15.6" fill="#fff" stroke="#484850" stroke-width="3"/>
<path d="M423,709.5 L437.6,721.5" stroke="#6a6af0" stroke-width="2.4"/>
<text x="446" y="723.7" font-size="24.2" fill="#6a6af0">Dip S</text>
<path d="M375.4,1160.5 l7.5,17 h-15 Z" fill="#111"/>
<path d="M396.3,1160.5 l7.5,17 h-15 Z" fill="#111"/>
<path d="M722,1161.4 723,1160.9 724,1160.4 725,1159.9 726,1159.4 727,1158.8 728,1158.2 729,1157.6 730,1157 731,1156.3 732,1155.7 733,1155 734,1154.3 735,1153.6 736,1152.9 737,1152.1 738,1151.3 739,1150.5 740,1149.7 741,1148.8 742,1147.8 743,1146.8 744,1145.8 745,1144.7 746,1143.5 747,1142.1 748,1140.6 749,1139 750,1137.3 751,1135.6 752,1133.7 753,1131.8 754,1129.9 755,1128 756,1126.1 757,1124.2 758,1122.3 759,1120.5 760,1118.7 761,1117 762,1115.4 763,1113.7 764,1112 765,1110.4 766,1108.7 767,1107.1 768,1105.5 769,1103.8 770,1102.2 771,1100.7 772,1099.1 773,1097.6 774,1096.1 775,1094.7 776,1093.3 777,1091.9 778,1090.6 779,1089.2 780,1087.9 781,1086.6 782,1085.4 783,1084.2 784,1083 785,1081.9 786,1080.8 787,1079.9 788,1079 789,1078.1 790,1077.2 791,1076.4 792,1075.7 793,1075.4 794,1075.3 795,1075.3 796,1075.3 797,1075.3 798,1075.3 799,1075.3 800,1075.3 801,1075.3 802,1075.3 803,1075.3 804,1075.3 805,1075.3 806,1075.3 807,1075.3 808,1075.3 809,1075.3 810,1075.3 811,1075.3 812,1075.3 813,1075.3 814,1075.3 815,1075.3 816,1075.3 817,1075.3 818,1075.7 819,1076.5 820,1077.6 821,1078.7 822,1079.8 823,1080.6 824,1081.2 825,1081.6 826,1082.1 827,1082.4 828,1082.8 829,1083.1 830,1083.3 831,1083.6 832,1083.9 833,1084.1 834,1084.4 835,1084.6 836,1084.9 837,1085.1 838,1085.4 839,1085.7 840,1086.1 841,1086.5 842,1086.9 843,1087.4 844,1087.9 845,1088.4 846,1089 847,1089.7 848,1090.3 849,1091 850,1091.8 851,1092.5 852,1093.3 853,1094.1 854,1094.9 855,1095.8 856,1096.6 857,1097.5 858,1098.4 859,1099.3 860,1100.2 861,1101.1 862,1102 863,1103 864,1104.1 865,1105.2 866,1106.3 867,1107.4 868,1108.6 869,1109.8 870,1111 871,1112.3 872,1113.5 873,1114.7 874,1115.9 875,1117.1 876,1118.3 877,1119.4 878,1120.5 879,1121.6 880,1122.7 881,1123.7 882,1124.7 883,1125.8 884,1126.8 885,1127.8 886,1128.9 887,1129.9 888,1130.9 889,1131.9 890,1132.8 891,1133.8 892,1134.8 893,1135.7 894,1136.6 895,1137.5 896,1138.4 897,1139.3 898,1140.2 899,1141 900,1141.9 901,1142.7 902,1143.5 903,1144.4 904,1145.2 905,1146 906,1146.8 907,1147.5 908,1148.3 909,1149.1 910,1149.8 911,1150.5 912,1151.2 913,1151.9 914,1152.6 915,1153.2 916,1153.8 917,1154.4 918,1155 919,1155.6 920,1156.1 921,1156.7 922,1157.2 923,1157.8 924,1158.3 925,1158.8 926,1159.2 927,1159.7 928,1160.2 929,1160.6 930,1161 931,1161.4 L931,1161.4 L722,1161.4 Z" fill="#fff"/>
<path d="M722,1161.4 723,1160.9 724,1160.4 725,1159.9 726,1159.4 727,1158.8 728,1158.2 729,1157.6 730,1157 731,1156.3 732,1155.7 733,1155 734,1154.3 735,1153.6 736,1152.9 737,1152.1 738,1151.3 739,1150.5 740,1149.7 741,1148.8 742,1147.8 743,1146.8 744,1145.8 745,1144.7 746,1143.5 747,1142.1 748,1140.6 749,1139 750,1137.3 751,1135.6 752,1133.7 753,1131.8 754,1129.9 755,1128 756,1126.1 757,1124.2 758,1122.3 759,1120.5 760,1118.7 761,1117 762,1115.4 763,1113.7 764,1112 765,1110.4 766,1108.7 767,1107.1 768,1105.5 769,1103.8 770,1102.2 771,1100.7 772,1099.1 773,1097.6 774,1096.1 775,1094.7 776,1093.3 777,1091.9 778,1090.6 779,1089.2 780,1087.9 781,1086.6 782,1085.4 783,1084.2 784,1083 785,1081.9 786,1080.8 787,1079.9 788,1079 789,1078.1 790,1077.2 791,1076.4 792,1075.7 793,1075.4 794,1075.3 795,1075.3 796,1075.3 797,1075.3 798,1075.3 799,1075.3 800,1075.3 801,1075.3 802,1075.3 803,1075.3 804,1075.3 805,1075.3 806,1075.3 807,1075.3 808,1075.3 809,1075.3 810,1075.3 811,1075.3 812,1075.3 813,1075.3 814,1075.3 815,1075.3 816,1075.3 817,1075.3 818,1075.7 819,1076.5 820,1077.6 821,1078.7 822,1079.8 823,1080.6 824,1081.2 825,1081.6 826,1082.1 827,1082.4 828,1082.8 829,1083.1 830,1083.3 831,1083.6 832,1083.9 833,1084.1 834,1084.4 835,1084.6 836,1084.9 837,1085.1 838,1085.4 839,1085.7 840,1086.1 841,1086.5 842,1086.9 843,1087.4 844,1087.9 845,1088.4 846,1089 847,1089.7 848,1090.3 849,1091 850,1091.8 851,1092.5 852,1093.3 853,1094.1 854,1094.9 855,1095.8 856,1096.6 857,1097.5 858,1098.4 859,1099.3 860,1100.2 861,1101.1 862,1102 863,1103 864,1104.1 865,1105.2 866,1106.3 867,1107.4 868,1108.6 869,1109.8 870,1111 871,1112.3 872,1113.5 873,1114.7 874,1115.9 875,1117.1 876,1118.3 877,1119.4 878,1120.5 879,1121.6 880,1122.7 881,1123.7 882,1124.7 883,1125.8 884,1126.8 885,1127.8 886,1128.9 887,1129.9 888,1130.9 889,1131.9 890,1132.8 891,1133.8 892,1134.8 893,1135.7 894,1136.6 895,1137.5 896,1138.4 897,1139.3 898,1140.2 899,1141 900,1141.9 901,1142.7 902,1143.5 903,1144.4 904,1145.2 905,1146 906,1146.8 907,1147.5 908,1148.3 909,1149.1 910,1149.8 911,1150.5 912,1151.2 913,1151.9 914,1152.6 915,1153.2 916,1153.8 917,1154.4 918,1155 919,1155.6 920,1156.1 921,1156.7 922,1157.2 923,1157.8 924,1158.3 925,1158.8 926,1159.2 927,1159.7 928,1160.2 929,1160.6 930,1161 931,1161.4 L931,1161.4 L722,1161.4 Z" fill="url(#hb)" stroke="#333" stroke-width="1.3"/>
<path d="M710,1161.4 711,1160.4 712,1159.1 713,1157.6 714,1155.9 715,1154.1 716,1152.1 717,1150 718,1147.8 719,1145.3 720,1142.5 721,1139.5 722,1136.2 723,1132.6 724,1128.6 725,1124 726,1118.7 727,1112.6 728,1106 729,1098.9 730,1091.4 731,1083.6 732,1075.7 733,1067.7 734,1059.8 735,1052 736,1044.5 737,1036.8 738,1029 739,1021 740,1012.9 741,1004.8 742,996.6 743,988.4 744,980.2 745,972.2 746,964.2 747,956.3 748,948.4 749,939.9 750,931.4 751,923.1 752,915.4 753,908.9 754,903.9 755,899.7 756,895.7 757,892.1 758,889.2 759,887.2 760,886.5 761,887.6 762,890.8 763,895.5 764,901.2 765,907.6 766,914.2 767,920.6 768,927.4 769,935 770,943.3 771,952.2 772,961.4 773,970.8 774,980.3 775,989.6 776,999.1 777,1009.1 778,1019.3 779,1029.6 780,1039.7 781,1049.6 782,1059 783,1068.2 784,1077.5 785,1086.6 786,1095.3 787,1103.6 788,1111.1 789,1117.6 790,1123.4 791,1128.8 792,1133.7 793,1138.1 794,1142 795,1145.6 796,1148.8 797,1151.7 798,1154 799,1156 800,1157.7 801,1159.3 802,1160.5 803,1161.4 L803,1161.4 L710,1161.4 Z" fill="#fb0007"/>
<path d="M791,1161.4 792,1160.2 793,1159 794,1157.7 795,1156.3 796,1154.9 797,1153.5 798,1152 799,1150.5 800,1149 801,1147.4 802,1145.8 803,1144 804,1142.1 805,1140 806,1137.7 807,1135.3 808,1132.6 809,1129.8 810,1126.9 811,1123.7 812,1120.4 813,1117 814,1113.5 815,1109.8 816,1105.9 817,1102 818,1098 819,1093.8 820,1089.4 821,1084.6 822,1079.4 823,1073.9 824,1068.2 825,1062.2 826,1056.1 827,1049.9 828,1043.6 829,1037.2 830,1031 831,1024.7 832,1018.6 833,1012.7 834,1006.8 835,1000.9 836,994.9 837,988.9 838,982.9 839,976.9 840,970.9 841,964.9 842,959 843,953.1 844,947.3 845,941.6 846,936.1 847,930.6 848,925.2 849,919.8 850,914.4 851,909 852,903.7 853,898.4 854,893.2 855,888.1 856,883.2 857,878.4 858,873.7 859,869.2 860,864.9 861,860.8 862,856.7 863,852.7 864,848.8 865,845 866,841.4 867,838 868,834.9 869,832.1 870,829.7 871,827.4 872,825.1 873,822.9 874,821 875,819.4 876,818.4 877,818 878,818.3 879,819 880,820.1 881,821.6 882,823.4 883,825.4 884,827.5 885,829.7 886,832 887,834.6 888,837.8 889,841.5 890,845.6 891,850.2 892,855 893,860.1 894,865.3 895,870.6 896,875.9 897,881.2 898,886.3 899,891.5 900,897 901,902.5 902,908.3 903,914.1 904,920 905,926 906,932.1 907,938.2 908,944.3 909,950.3 910,956.3 911,962.3 912,968.2 913,974 914,980 915,985.9 916,991.9 917,997.8 918,1003.8 919,1009.7 920,1015.7 921,1021.5 922,1027.3 923,1033 924,1038.7 925,1044.2 926,1049.7 927,1055.2 928,1060.9 929,1066.5 930,1072.1 931,1077.7 932,1083 933,1088.2 934,1093.1 935,1097.6 936,1101.7 937,1105.4 938,1108.7 939,1111.9 940,1115 941,1117.9 942,1120.6 943,1123.2 944,1125.7 945,1128 946,1130.2 947,1132.3 948,1134.2 949,1136 950,1137.8 951,1139.5 952,1141.1 953,1142.7 954,1144.2 955,1145.6 956,1147 957,1148.3 958,1149.5 959,1150.7 960,1151.7 961,1152.7 962,1153.5 963,1154.3 964,1155 965,1155.8 966,1156.5 967,1157.1 968,1157.8 969,1158.4 970,1159 971,1159.5 972,1160 973,1160.4 974,1160.8 975,1161 976,1161.3 977,1161.4 L977,1161.4 L791,1161.4 Z" fill="#fb0007"/>
<path d="M722,1161.4 723,1160.9 724,1160.4 725,1159.9 726,1159.4 727,1158.8 728,1158.2 729,1157.6 730,1157 731,1156.3 732,1155.7 733,1155 734,1154.3 735,1153.6 736,1152.9 737,1152.1 738,1151.3 739,1150.5 740,1149.7 741,1148.8 742,1147.8 743,1146.8 744,1145.8 745,1144.7 746,1143.5 747,1142.1 748,1140.6 749,1139 750,1137.3 751,1135.6 752,1133.7 753,1131.8 754,1129.9 755,1128 756,1126.1 757,1124.2 758,1122.3 759,1120.5 760,1118.7 761,1117 762,1115.4 763,1113.7 764,1112 765,1110.4 766,1108.7 767,1107.1 768,1105.5 769,1103.8 770,1102.2 771,1100.7 772,1099.1 773,1097.6 774,1096.1 775,1094.7 776,1093.3 777,1091.9 778,1090.6 779,1089.2 780,1087.9 781,1086.6 782,1085.4 783,1084.2 784,1083 785,1086.6 786,1095.3 787,1103.6 788,1111.1 789,1117.6 790,1123.4 791,1128.8 792,1133.7 793,1138.1 794,1142 795,1145.6 796,1148.8 797,1151.7 798,1152 799,1150.5 800,1149 801,1147.4 802,1145.8 803,1144 804,1142.1 805,1140 806,1137.7 807,1135.3 808,1132.6 809,1129.8 810,1126.9 811,1123.7 812,1120.4 813,1117 814,1113.5 815,1109.8 816,1105.9 817,1102 818,1098 819,1093.8 820,1089.4 821,1084.6 822,1079.8 823,1080.6 824,1081.2 825,1081.6 826,1082.1 827,1082.4 828,1082.8 829,1083.1 830,1083.3 831,1083.6 832,1083.9 833,1084.1 834,1084.4 835,1084.6 836,1084.9 837,1085.1 838,1085.4 839,1085.7 840,1086.1 841,1086.5 842,1086.9 843,1087.4 844,1087.9 845,1088.4 846,1089 847,1089.7 848,1090.3 849,1091 850,1091.8 851,1092.5 852,1093.3 853,1094.1 854,1094.9 855,1095.8 856,1096.6 857,1097.5 858,1098.4 859,1099.3 860,1100.2 861,1101.1 862,1102 863,1103 864,1104.1 865,1105.2 866,1106.3 867,1107.4 868,1108.6 869,1109.8 870,1111 871,1112.3 872,1113.5 873,1114.7 874,1115.9 875,1117.1 876,1118.3 877,1119.4 878,1120.5 879,1121.6 880,1122.7 881,1123.7 882,1124.7 883,1125.8 884,1126.8 885,1127.8 886,1128.9 887,1129.9 888,1130.9 889,1131.9 890,1132.8 891,1133.8 892,1134.8 893,1135.7 894,1136.6 895,1137.5 896,1138.4 897,1139.3 898,1140.2 899,1141 900,1141.9 901,1142.7 902,1143.5 903,1144.4 904,1145.2 905,1146 906,1146.8 907,1147.5 908,1148.3 909,1149.1 910,1149.8 911,1150.5 912,1151.2 913,1151.9 914,1152.6 915,1153.2 916,1153.8 917,1154.4 918,1155 919,1155.6 920,1156.1 921,1156.7 922,1157.2 923,1157.8 924,1158.3 925,1158.8 926,1159.2 927,1159.7 928,1160.2 929,1160.6 930,1161 931,1161.4 L931,1161.4 L722,1161.4 Z" fill="url(#hk)"/>
<path d="M722,1161.4 723,1160.9 724,1160.4 725,1159.9 726,1159.4 727,1158.8 728,1158.2 729,1157.6 730,1157 731,1156.3 732,1155.7 733,1155 734,1154.3 735,1153.6 736,1152.9 737,1152.1 738,1151.3 739,1150.5 740,1149.7 741,1148.8 742,1147.8 743,1146.8 744,1145.8 745,1144.7 746,1143.5 747,1142.1 748,1140.6 749,1139 750,1137.3 751,1135.6 752,1133.7 753,1131.8 754,1129.9 755,1128 756,1126.1 757,1124.2 758,1122.3 759,1120.5 760,1118.7 761,1117 762,1115.4 763,1113.7 764,1112 765,1110.4 766,1108.7 767,1107.1 768,1105.5 769,1103.8 770,1102.2 771,1100.7 772,1099.1 773,1097.6 774,1096.1 775,1094.7 776,1093.3 777,1091.9 778,1090.6 779,1089.2 780,1087.9 781,1086.6 782,1085.4 783,1084.2 784,1083 785,1081.9 786,1080.8 787,1079.9 788,1079 789,1078.1 790,1077.2 791,1076.4 792,1075.7 793,1075.4 794,1075.3 795,1075.3 796,1075.3 797,1075.3 798,1075.3 799,1075.3 800,1075.3 801,1075.3 802,1075.3 803,1075.3 804,1075.3 805,1075.3 806,1075.3 807,1075.3 808,1075.3 809,1075.3 810,1075.3 811,1075.3 812,1075.3 813,1075.3 814,1075.3 815,1075.3 816,1075.3 817,1075.3 818,1075.7 819,1076.5 820,1077.6 821,1078.7 822,1079.8 823,1080.6 824,1081.2 825,1081.6 826,1082.1 827,1082.4 828,1082.8 829,1083.1 830,1083.3 831,1083.6 832,1083.9 833,1084.1 834,1084.4 835,1084.6 836,1084.9 837,1085.1 838,1085.4 839,1085.7 840,1086.1 841,1086.5 842,1086.9 843,1087.4 844,1087.9 845,1088.4 846,1089 847,1089.7 848,1090.3 849,1091 850,1091.8 851,1092.5 852,1093.3 853,1094.1 854,1094.9 855,1095.8 856,1096.6 857,1097.5 858,1098.4 859,1099.3 860,1100.2 861,1101.1 862,1102 863,1103 864,1104.1 865,1105.2 866,1106.3 867,1107.4 868,1108.6 869,1109.8 870,1111 871,1112.3 872,1113.5 873,1114.7 874,1115.9 875,1117.1 876,1118.3 877,1119.4 878,1120.5 879,1121.6 880,1122.7 881,1123.7 882,1124.7 883,1125.8 884,1126.8 885,1127.8 886,1128.9 887,1129.9 888,1130.9 889,1131.9 890,1132.8 891,1133.8 892,1134.8 893,1135.7 894,1136.6 895,1137.5 896,1138.4 897,1139.3 898,1140.2 899,1141 900,1141.9 901,1142.7 902,1143.5 903,1144.4 904,1145.2 905,1146 906,1146.8 907,1147.5 908,1148.3 909,1149.1 910,1149.8 911,1150.5 912,1151.2 913,1151.9 914,1152.6 915,1153.2 916,1153.8 917,1154.4 918,1155 919,1155.6 920,1156.1 921,1156.7 922,1157.2 923,1157.8 924,1158.3 925,1158.8 926,1159.2 927,1159.7 928,1160.2 929,1160.6 930,1161 931,1161.4" fill="none" stroke="#300" stroke-width="1.3"/>
<path d="M710,1161.4 711,1160.4 712,1159.1 713,1157.6 714,1155.9 715,1154.1 716,1152.1 717,1150 718,1147.8 719,1145.3 720,1142.5 721,1139.5 722,1136.2 723,1132.6 724,1128.6 725,1124 726,1118.7 727,1112.6 728,1106 729,1098.9 730,1091.4 731,1083.6 732,1075.7 733,1067.7 734,1059.8 735,1052 736,1044.5 737,1036.8 738,1029 739,1021 740,1012.9 741,1004.8 742,996.6 743,988.4 744,980.2 745,972.2 746,964.2 747,956.3 748,948.4 749,939.9 750,931.4 751,923.1 752,915.4 753,908.9 754,903.9 755,899.7 756,895.7 757,892.1 758,889.2 759,887.2 760,886.5 761,887.6 762,890.8 763,895.5 764,901.2 765,907.6 766,914.2 767,920.6 768,927.4 769,935 770,943.3 771,952.2 772,961.4 773,970.8 774,980.3 775,989.6 776,999.1 777,1009.1 778,1019.3 779,1029.6 780,1039.7 781,1049.6 782,1059 783,1068.2 784,1077.5 785,1086.6 786,1095.3 787,1103.6 788,1111.1 789,1117.6 790,1123.4 791,1128.8 792,1133.7 793,1138.1 794,1142 795,1145.6 796,1148.8 797,1151.7 798,1154 799,1156 800,1157.7 801,1159.3 802,1160.5 803,1161.4" fill="none" stroke="#200" stroke-width="2" stroke-dasharray="9 5" opacity="0.85"/>
<path d="M791,1161.4 792,1160.2 793,1159 794,1157.7 795,1156.3 796,1154.9 797,1153.5 798,1152 799,1150.5 800,1149 801,1147.4 802,1145.8 803,1144 804,1142.1 805,1140 806,1137.7 807,1135.3 808,1132.6 809,1129.8 810,1126.9 811,1123.7 812,1120.4 813,1117 814,1113.5 815,1109.8 816,1105.9 817,1102 818,1098 819,1093.8 820,1089.4 821,1084.6 822,1079.4 823,1073.9 824,1068.2 825,1062.2 826,1056.1 827,1049.9 828,1043.6 829,1037.2 830,1031 831,1024.7 832,1018.6 833,1012.7 834,1006.8 835,1000.9 836,994.9 837,988.9 838,982.9 839,976.9 840,970.9 841,964.9 842,959 843,953.1 844,947.3 845,941.6 846,936.1 847,930.6 848,925.2 849,919.8 850,914.4 851,909 852,903.7 853,898.4 854,893.2 855,888.1 856,883.2 857,878.4 858,873.7 859,869.2 860,864.9 861,860.8 862,856.7 863,852.7 864,848.8 865,845 866,841.4 867,838 868,834.9 869,832.1 870,829.7 871,827.4 872,825.1 873,822.9 874,821 875,819.4 876,818.4 877,818 878,818.3 879,819 880,820.1 881,821.6 882,823.4 883,825.4 884,827.5 885,829.7 886,832 887,834.6 888,837.8 889,841.5 890,845.6 891,850.2 892,855 893,860.1 894,865.3 895,870.6 896,875.9 897,881.2 898,886.3 899,891.5 900,897 901,902.5 902,908.3 903,914.1 904,920 905,926 906,932.1 907,938.2 908,944.3 909,950.3 910,956.3 911,962.3 912,968.2 913,974 914,980 915,985.9 916,991.9 917,997.8 918,1003.8 919,1009.7 920,1015.7 921,1021.5 922,1027.3 923,1033 924,1038.7 925,1044.2 926,1049.7 927,1055.2 928,1060.9 929,1066.5 930,1072.1 931,1077.7 932,1083 933,1088.2 934,1093.1 935,1097.6 936,1101.7 937,1105.4 938,1108.7 939,1111.9 940,1115 941,1117.9 942,1120.6 943,1123.2 944,1125.7 945,1128 946,1130.2 947,1132.3 948,1134.2 949,1136 950,1137.8 951,1139.5 952,1141.1 953,1142.7 954,1144.2 955,1145.6 956,1147 957,1148.3 958,1149.5 959,1150.7 960,1151.7 961,1152.7 962,1153.5 963,1154.3 964,1155 965,1155.8 966,1156.5 967,1157.1 968,1157.8 969,1158.4 970,1159 971,1159.5 972,1160 973,1160.4 974,1160.8 975,1161 976,1161.3 977,1161.4" fill="none" stroke="#200" stroke-width="2" stroke-dasharray="9 5" opacity="0.85"/>
<path d="M700,1161.4 701,1161.4 702,1161.4 703,1161.4 704,1161.4 705,1161.4 706,1161.4 707,1161.4 708,1161.4 709,1161.4 710,1161.4 711,1161.4 712,1161.4 713,1161.4 714,1161.4 715,1161.4 716,1161.4 717,1161.4 718,1161.4 719,1161.4 720,1158.9 721,1152.8 722,1144.5 723,1134.6 724,1119.6 725,1100.1 726,1077.7 727,1049.5 728,1010 729,972.9 730,952.3 731,941 732,931.6 733,923.7 734,917.1 735,911.4 736,906.3 737,901.6 738,897 739,892.4 740,888 741,883.9 742,880 743,876.3 744,872.8 745,869.5 746,866.5 747,863.6 748,861 749,858.6 750,856.4 751,854.3 752,852.3 753,850.4 754,848.8 755,847.3 756,846 757,845 758,844.1 759,843.3 760,842.7 761,842.5 762,843 763,844.2 764,846 765,848 766,850.8 767,855 768,860.1 769,865.8 770,871.9 771,878.3 772,885.7 773,894 774,903 775,912.4 776,922.1 777,931.6 778,941 779,949.8 780,958.1 781,966.4 782,975 783,983.5 784,991.9 785,999.9 786,1007.4 787,1014.1 788,1020 789,1024.7 790,1028.8 791,1032.6 792,1036 793,1039.1 794,1041.8 795,1044.1 796,1046 797,1047.7 798,1049.3 799,1050.7 800,1051.8 801,1052.4 802,1052.4 803,1052 804,1051.2 805,1050.2 806,1049.1 807,1048 808,1046.8 809,1045.5 810,1044.1 811,1042.5 812,1040.7 813,1038.8 814,1036.8 815,1034.7 816,1032.3 817,1029.7 818,1026.9 819,1023.9 820,1020.7 821,1017.3 822,1013.9 823,1010.2 824,1006.5 825,1002.7 826,998.8 827,994.8 828,990.8 829,986.7 830,982.4 831,977.9 832,973.1 833,968.2 834,963.1 835,957.9 836,952.7 837,947.3 838,941.8 839,936.4 840,930.9 841,925.4 842,920 843,914.5 844,908.8 845,902.9 846,897 847,891 848,884.9 849,878.8 850,872.7 851,866.8 852,860.9 853,855.1 854,849.5 855,844.1 856,839 857,833.9 858,828.8 859,823.7 860,818.7 861,813.9 862,809.3 863,805.1 864,801.4 865,798.2 866,795.4 867,792.5 868,789.8 869,787.1 870,784.7 871,782.6 872,780.9 873,779.6 874,778.9 875,778.8 876,779.1 877,779.6 878,780.3 879,781.2 880,782.4 881,783.6 882,785 883,786.6 884,788.2 885,790.6 886,794.2 887,798.7 888,803.8 889,809.3 890,814.9 891,820.3 892,825.3 893,829.7 894,833.4 895,836.9 896,840 897,843.1 898,846.2 899,849.3 900,852.7 901,856.3 902,860.3 903,864.8 904,870.1 905,876.1 906,882.5 907,889.2 908,896.1 909,903 910,909.6 911,915.9 912,921.7 913,927.1 914,932.2 915,937.1 916,941.8 917,946.6 918,951.3 919,956.2 920,961.2 921,966.4 922,972 923,978 924,984.6 925,991.9 926,999.8 927,1008.1 928,1016.7 929,1025.4 930,1034 931,1042.5 932,1050.7 933,1058.4 934,1065.6 935,1071.9 936,1078 937,1084 938,1089.9 939,1095.6 940,1101.1 941,1106.4 942,1111.4 943,1116 944,1120.3 945,1124.1 946,1127.4 947,1130.3 948,1133 949,1135.6 950,1138.1 951,1140.4 952,1142.6 953,1144.6 954,1146.4 955,1148.1 956,1149.6 957,1150.9 958,1152 959,1153 960,1154 961,1155 962,1156 963,1156.9 964,1157.7 965,1158.5 966,1159.2 967,1159.8 968,1160.4 969,1160.8 970,1161.1 971,1161.3 972,1161.4 973,1161.4 974,1161.4 975,1161.4 976,1161.4 977,1161.4 978,1161.4 979,1161.4 980,1161.4 981,1161.4 982,1161.4 983,1161.4 984,1161.4 985,1161.4 986,1161.4 987,1161.4 988,1161.4 989,1161.4 990,1161.4 991,1161.4 992,1161.4 993,1161.4 994,1161.4 995,1161.4 996,1161.4 997,1161.4 998,1161.4 999,1161.4" fill="none" stroke="#444" stroke-width="1.6"/>
<path d="M700,1161.4 702.2,1161.4 704.4,1161.4 706.6,1161.4 708.8,1161.4 711,1161.4 713.2,1161.4 715.4,1161.4 717.6,1161.4 719.8,1161.4 722,1147.9 724.2,1118.8 726.4,1066.9 728.6,990.4 730.8,959.8 733,944.3 735.2,907.3 737.4,883.2 739.6,898.4 741.8,900.7 744,792.7 746.2,880.7 748.4,854.5 750.6,831.6 752.8,846.2 755,855 757.2,835.9 759.4,870.3 761.6,857.1 763.8,867.7 766,863.7 768.2,877.3 770.4,885.4 772.6,903.1 774.8,917.1 777,937.9 779.2,954.5 781.4,959.9 783.6,1011.3 785.8,994.6 788,1027.5 790.2,1052.5 792.4,1043.8 794.6,1045.1 796.8,1030.4 799,1075.8 801.2,1050.5 803.4,1052.4 805.6,1088.3 807.8,1074.9 810,1035.6 812.2,1030.5 814.4,1019.4 816.6,1025 818.8,1021.7 821,1019.6 823.2,993.5 825.4,1020.2 827.6,999.8 829.8,982.4 832,1002.9 834.2,948.7 836.4,968.3 838.6,946.3 840.8,902.7 843,933.6 845.2,916.8 847.4,875.5 849.6,898.5 851.8,877 854,851.5 856.2,841 858.4,827.9 860.6,820.4 862.8,794.2 865,790.4 867.2,791.5 869.4,811.3 871.6,809.1 873.8,841.9 876,678 878.2,838.6 880.4,773.1 882.6,755.6 884.8,821.4 887,820.2 889.2,827.8 891.4,819.9 893.6,856.4 895.8,851.4 898,865.2 900.2,867 902.4,850.9 904.6,895.6 906.8,895.2 909,907.2 911.2,912.6 913.4,954.7 915.6,929.6 917.8,950.1 920,954.3 922.2,977.9 924.4,1012.9 926.6,1016.8 928.8,1019.3 931,1045.7 933.2,1063.4 935.4,1059.2 937.6,1068.8 939.8,1102.2 942,1096.1 944.2,1139.3 946.4,1147 948.6,1128.3 950.8,1142.6 953,1141 955.2,1145.3 957.4,1152.2 959.6,1150.1 961.8,1155.2 964,1161.4 966.2,1158.7 968.4,1160.2 970.6,1161.4 972.8,1161.4 975,1161.4 977.2,1161.4 979.4,1161.4 981.6,1161.4 983.8,1161.4 986,1161.4 988.2,1161.4 990.4,1161.4 992.6,1161.4 994.8,1161.4 997,1161.4 999.2,1161.4" fill="none" stroke="#5e5e5e" stroke-width="1.5" stroke-linejoin="round"/>
<path d="M637,665.7 V1174.4 M626.7,1161.4 H1069.5" stroke="#444" stroke-width="3.1" fill="none"/>
<path d="M637,1161.4 v13 M715.2,1161.4 v13 M793.4,1161.4 v13 M871.6,1161.4 v13 M949.8,1161.4 v13 M1028,1161.4 v13 M637,1161.4 v7.5 M652.6,1161.4 v7.5 M668.3,1161.4 v7.5 M683.9,1161.4 v7.5 M699.6,1161.4 v7.5 M715.2,1161.4 v7.5 M730.8,1161.4 v7.5 M746.5,1161.4 v7.5 M762.1,1161.4 v7.5 M777.8,1161.4 v7.5 M793.4,1161.4 v7.5 M809,1161.4 v7.5 M824.7,1161.4 v7.5 M840.3,1161.4 v7.5 M856,1161.4 v7.5 M871.6,1161.4 v7.5 M887.2,1161.4 v7.5 M902.9,1161.4 v7.5 M918.5,1161.4 v7.5 M934.2,1161.4 v7.5 M949.8,1161.4 v7.5 M965.4,1161.4 v7.5 M981.1,1161.4 v7.5 M996.7,1161.4 v7.5 M1012.4,1161.4 v7.5 M1028,1161.4 v7.5 M1043.6,1161.4 v7.5 M1059.3,1161.4 v7.5 M637,1161.4 h-10 M637,1063 h-10 M637,963.5 h-10 M637,864 h-10 M637,765 h-10 M637,1161.4 h-5 M637,1141.7 h-5 M637,1122 h-5 M637,1102.4 h-5 M637,1082.7 h-5 M637,1063 h-5 M637,1043.3 h-5 M637,1023.6 h-5 M637,1004 h-5 M637,984.3 h-5 M637,964.6 h-5 M637,944.9 h-5 M637,925.2 h-5 M637,905.6 h-5 M637,885.9 h-5 M637,866.2 h-5 M637,846.5 h-5 M637,826.8 h-5 M637,807.2 h-5 M637,787.5 h-5 M637,767.8 h-5 M637,748.1 h-5 M637,728.4 h-5 M637,708.8 h-5 M637,689.1 h-5 M637,669.4 h-5" stroke="#444" stroke-width="2.6" fill="none"/>
<text x="637" y="1200" font-size="32" fill="#222" text-anchor="middle">0</text>
<text x="707.2" y="1200" font-size="32" fill="#222" text-anchor="middle">40</text>
<text x="787.4" y="1200" font-size="32" fill="#222" text-anchor="middle">80</text>
<text x="873.6" y="1200" font-size="32" fill="#222" text-anchor="middle">120</text>
<text x="957.8" y="1200" font-size="32" fill="#222" text-anchor="middle">160</text>
<text x="1039.5" y="1200" font-size="32" fill="#222" text-anchor="middle">200</text>
<text transform="translate(615,1158.4) rotate(-90)" font-size="32" fill="#222" text-anchor="middle">0</text>
<text transform="translate(615,1060) rotate(-90)" font-size="32" fill="#222" text-anchor="middle">20</text>
<text transform="translate(615,960.5) rotate(-90)" font-size="32" fill="#222" text-anchor="middle">40</text>
<text transform="translate(615,861) rotate(-90)" font-size="32" fill="#222" text-anchor="middle">60</text>
<text transform="translate(615,762) rotate(-90)" font-size="32" fill="#222" text-anchor="middle">80</text>
<text transform="translate(579.4,914.7) rotate(-90)" font-size="33" fill="#222" text-anchor="middle">Number</text>
<text x="690.6" y="680" font-size="33.6" fill="#222">C4-2 QKI si</text>
<rect x="988" y="650" width="20" height="14" fill="#fb0007" stroke="#7a1010" stroke-width="1.5"/>
<text x="1012.7" y="666.6" font-size="24.2" fill="#6a6af0">Dip G1</text>
<rect x="988" y="679" width="20" height="15" fill="#fb0007" stroke="#7a1010" stroke-width="1.5"/>
<text x="1012.7" y="695.6" font-size="24.2" fill="#6a6af0">Dip G2</text>
<rect x="989.2" y="710.6" width="17.6" height="15.7" fill="#fff" stroke="#484850" stroke-width="3"/>
<path d="M991,712.4 L1005,724.5" stroke="#6a6af0" stroke-width="2.4"/>
<text x="1012.7" y="725.6" font-size="24.2" fill="#6a6af0">Dip S</text>
<!-- bar charts -->
<rect x="1332" y="314.5" width="198.6" height="229.5" fill="url(#pg1)"/>
<rect x="1332" y="263.9" width="198.6" height="50.6" fill="url(#ps)"/>
<path d="M1335,166.8 H1527.6 M1335,178.4 H1527.6 M1335,190 H1527.6 M1335,201.6 H1527.6 M1335,213.2 H1527.6 M1335,224.8 H1527.6 M1335,236.4 H1527.6 M1335,248 H1527.6 M1335,259.6 H1527.6" stroke="#3c3c3c" stroke-width="1.9" fill="none"/>
<path d="M1334.8,544 V155.2 M1527.8,155.2 V544" fill="none" stroke="#111" stroke-width="5.5"/>
<path d="M1332,157 H1530.6" stroke="#111" stroke-width="3.6"/>
<path d="M1332,314.5 H1530.6 M1332,263.9 H1530.6" stroke="#111" stroke-width="6"/>
<rect x="1622" y="365.1" width="199" height="178.9" fill="url(#pg1)"/>
<rect x="1622" y="209.5" width="199" height="155.6" fill="url(#ps)"/>
<path d="M1625,166.8 H1818 M1625,178.4 H1818 M1625,190 H1818 M1625,201.6 H1818" stroke="#3c3c3c" stroke-width="1.9" fill="none"/>
<path d="M1624.8,544 V155.2 M1818.2,155.2 V544" fill="none" stroke="#111" stroke-width="5.5"/>
<path d="M1622,157 H1821" stroke="#111" stroke-width="3.6"/>
<path d="M1622,365.1 H1821 M1622,209.5 H1821" stroke="#111" stroke-width="6"/>
<path d="M1286,153.4 V545.6 M1276,544 H1869" stroke="#111" stroke-width="3.2" fill="none"/>
<text x="1264" y="554.5" font-size="29.5" fill="#303030" text-anchor="end">0</text>
<text x="1264" y="476.7" font-size="29.5" fill="#303030" text-anchor="end">20</text>
<text x="1264" y="398.9" font-size="29.5" fill="#303030" text-anchor="end">40</text>
<text x="1264" y="321.1" font-size="29.5" fill="#303030" text-anchor="end">60</text>
<text x="1264" y="243.3" font-size="29.5" fill="#303030" text-anchor="end">80</text>
<text x="1264" y="165.5" font-size="29.5" fill="#303030" text-anchor="end">100</text>
<path d="M1286,466.2 h-10.5 M1286,388.4 h-10.5 M1286,310.6 h-10.5 M1286,232.8 h-10.5 M1286,155 h-10.5 M1431.3,544 v10 M1721.5,544 v10" stroke="#111" stroke-width="3.2"/>
<text x="1429" y="587" font-size="29.7" fill="#303030" text-anchor="middle">LNCaP-NC</text>
<text x="1722" y="587" font-size="29.7" fill="#303030" text-anchor="middle">LNCaP-QKI si</text>
<text transform="translate(1154,347.8) rotate(-90)" font-size="33.8" fill="#303030" text-anchor="middle">Percentage of cells in</text>
<text transform="translate(1196,347.8) rotate(-90)" font-size="33.8" fill="#303030" text-anchor="middle">different cycle phases</text>
<rect x="1861.2" y="172.3" width="40.4" height="18.9" rx="3.5" fill="url(#pgm)" stroke="#111" stroke-width="5.8"/>
<text x="1913" y="193.5" font-size="30" fill="#303030">G2/M</text>
<rect x="1861.2" y="216.3" width="40.4" height="20" rx="3.5" fill="url(#ps)" stroke="#111" stroke-width="5.8"/>
<text x="1913" y="238" font-size="30" fill="#303030">S</text>
<rect x="1861.2" y="260.9" width="40.4" height="20.1" rx="3.5" fill="url(#pg1)" stroke="#111" stroke-width="5.8"/>
<text x="1913" y="283" font-size="30" fill="#303030">G1</text>
<rect x="1330.5" y="966.2" width="196.5" height="197.6" fill="url(#pg1)"/>
<rect x="1330.5" y="814.5" width="196.5" height="151.6" fill="url(#ps)"/>
<path d="M1333.5,780.3 H1524 M1333.5,791.9 H1524 M1333.5,803.5 H1524" stroke="#3c3c3c" stroke-width="1.9" fill="none"/>
<path d="M1333.2,1163.8 V774 M1524.2,774 V1163.8" fill="none" stroke="#111" stroke-width="5.5"/>
<path d="M1330.5,966.2 H1527 M1330.5,814.5 H1527" stroke="#111" stroke-width="6"/>
<rect x="1621.3" y="1074.1" width="196.5" height="89.7" fill="url(#pg1)"/>
<rect x="1621.3" y="992.3" width="196.5" height="81.9" fill="url(#ps)"/>
<path d="M1624.3,785.4 H1814.8 M1624.3,797 H1814.8 M1624.3,808.6 H1814.8 M1624.3,820.2 H1814.8 M1624.3,831.8 H1814.8 M1624.3,843.4 H1814.8 M1624.3,855 H1814.8 M1624.3,866.6 H1814.8 M1624.3,878.2 H1814.8 M1624.3,889.8 H1814.8 M1624.3,901.4 H1814.8 M1624.3,913 H1814.8 M1624.3,924.6 H1814.8 M1624.3,936.2 H1814.8 M1624.3,947.8 H1814.8 M1624.3,959.4 H1814.8 M1624.3,971 H1814.8 M1624.3,982.6 H1814.8" stroke="#3c3c3c" stroke-width="1.9" fill="none"/>
<path d="M1624,1163.8 V774.2 M1815,774.2 V1163.8" fill="none" stroke="#111" stroke-width="5.5"/>
<path d="M1621.3,776 H1817.8" stroke="#111" stroke-width="3.6"/>
<path d="M1621.3,1074.1 H1817.8 M1621.3,992.3 H1817.8" stroke="#111" stroke-width="6"/>
<path d="M1284.4,772.4 V1165.4 M1274.4,1163.8 H1866" stroke="#111" stroke-width="3.2" fill="none"/>
<text x="1262.5" y="1174.3" font-size="29.5" fill="#303030" text-anchor="end">0</text>
<text x="1262.5" y="1096.3" font-size="29.5" fill="#303030" text-anchor="end">20</text>
<text x="1262.5" y="1018.4" font-size="29.5" fill="#303030" text-anchor="end">40</text>
<text x="1262.5" y="940.4" font-size="29.5" fill="#303030" text-anchor="end">60</text>
<text x="1262.5" y="862.5" font-size="29.5" fill="#303030" text-anchor="end">80</text>
<text x="1262.5" y="784.5" font-size="29.5" fill="#303030" text-anchor="end">100</text>
<path d="M1284.4,1085.8 h-10.5 M1284.4,1007.9 h-10.5 M1284.4,929.9 h-10.5 M1284.4,852 h-10.5 M1284.4,774 h-10.5 M1428.8,1163.8 v10 M1719.5,1163.8 v10" stroke="#111" stroke-width="3.2"/>
<text x="1421" y="1208" font-size="29.7" fill="#303030" text-anchor="middle">C4-2-NC</text>
<text x="1718" y="1208" font-size="29.7" fill="#303030" text-anchor="middle">C4-2QKI si</text>
<text transform="translate(1152.4,966) rotate(-90)" font-size="33.8" fill="#303030" text-anchor="middle">Percentage of cells in</text>
<text transform="translate(1193,966) rotate(-90)" font-size="33.8" fill="#303030" text-anchor="middle">different cycle phases</text>
<rect x="1880.9" y="791.4" width="40.2" height="19.2" rx="3.5" fill="url(#pgm)" stroke="#111" stroke-width="5.8"/>
<text x="1933" y="816" font-size="30" fill="#303030">G2/M</text>
<rect x="1880.9" y="836.4" width="40.2" height="19.2" rx="3.5" fill="url(#ps)" stroke="#111" stroke-width="5.8"/>
<text x="1933" y="857" font-size="30" fill="#303030">S</text>
<rect x="1880.9" y="880.9" width="40.2" height="19.2" rx="3.5" fill="url(#pg1)" stroke="#111" stroke-width="5.8"/>
<text x="1933" y="900.7" font-size="30" fill="#303030">G1</text>
<path d="M1282.5,1704.5 V1697.6" stroke="#111" stroke-width="3.6" fill="none"/>
<path d="M1266.5,1697.6 H1298.5" stroke="#111" stroke-width="5" fill="none"/>
<rect x="1251.1" y="1707" width="62.9" height="8.3" fill="url(#pg1)" stroke="#111" stroke-width="5"/>
<path d="M1380.5,1603 V1599" stroke="#111" stroke-width="3.6" fill="none"/>
<path d="M1364.5,1599 H1396.5" stroke="#111" stroke-width="5" fill="none"/>
<rect x="1349" y="1605.5" width="63" height="109.8" fill="url(#ps)" stroke="#111" stroke-width="5"/>
<path d="M1544.2,1508 V1499" stroke="#111" stroke-width="3.6" fill="none"/>
<path d="M1528.2,1499 H1560.2" stroke="#111" stroke-width="5" fill="none"/>
<rect x="1513.3" y="1510.5" width="61.9" height="204.8" fill="url(#pg1)" stroke="#111" stroke-width="5"/>
<path d="M1642.2,1412 V1406" stroke="#111" stroke-width="3.6" fill="none"/>
<path d="M1626.2,1406 H1658.2" stroke="#111" stroke-width="5" fill="none"/>
<rect x="1611.2" y="1414.5" width="61.9" height="300.8" fill="url(#ps)" stroke="#111" stroke-width="5"/>
<path d="M1202,1366.4 V1715.3" stroke="#111" stroke-width="3.2"/>
<path d="M1192,1715.3 H1725" stroke="#111" stroke-width="4.6"/>
<text x="1187" y="1725.8" font-size="30.3" fill="#303030" text-anchor="end">0</text>
<text x="1187" y="1667.9" font-size="30.3" fill="#303030" text-anchor="end">5</text>
<text x="1187" y="1610" font-size="30.3" fill="#303030" text-anchor="end">10</text>
<text x="1187" y="1552.2" font-size="30.3" fill="#303030" text-anchor="end">15</text>
<text x="1187" y="1494.3" font-size="30.3" fill="#303030" text-anchor="end">20</text>
<text x="1187" y="1436.4" font-size="30.3" fill="#303030" text-anchor="end">25</text>
<text x="1187" y="1378.5" font-size="30.3" fill="#303030" text-anchor="end">30</text>
<path d="M1202,1657.4 h-10 M1202,1599.5 h-10 M1202,1541.7 h-10 M1202,1483.8 h-10 M1202,1425.9 h-10 M1202,1368 h-10 M1333,1715.3 v10.5 M1593.7,1715.3 v10.5" stroke="#111" stroke-width="3.2"/>
<text x="1333" y="1761" font-size="29.7" fill="#303030" text-anchor="middle">LNCaP NC</text>
<text x="1596.4" y="1761" font-size="29.7" fill="#303030" text-anchor="middle">LNCaP QKI si</text>
<text transform="translate(1133.5,1536.6) rotate(-90)" font-size="33.2" fill="#303030" text-anchor="middle">Percentage</text>
<path d="M1381.5,1578 V1373.3 H1640.5 V1387" fill="none" stroke="#111" stroke-width="5" stroke-linejoin="round" stroke-linecap="round"/>
<text x="1513.7" y="1371.8" font-size="40" fill="#303030" text-anchor="middle">**</text>
<rect x="1736.6" y="1390.7" width="36.9" height="16.4" rx="3.5" fill="url(#pg1)" stroke="#111" stroke-width="5.8"/>
<rect x="1736.6" y="1451.4" width="36.9" height="18.7" rx="3.5" fill="url(#ps)" stroke="#111" stroke-width="5.8"/>
<text x="1789" y="1399" font-size="33.6" fill="#303030">Late apoptosis</text>
<text x="1799.8" y="1433" font-size="33.6" fill="#303030">/necrosis</text>
<text x="1789" y="1475.5" font-size="33.6" fill="#303030">Early apoptosis</text>
<path d="M1273.8,2259 V2252" stroke="#111" stroke-width="3.6" fill="none"/>
<path d="M1257.8,2252 H1289.8" stroke="#111" stroke-width="5" fill="none"/>
<rect x="1241.5" y="2261.5" width="64.5" height="15.2" fill="url(#pg1)" stroke="#111" stroke-width="5"/>
<path d="M1371.7,2180.5 V2177" stroke="#111" stroke-width="3.6" fill="none"/>
<path d="M1355.7,2177 H1387.7" stroke="#111" stroke-width="5" fill="none"/>
<rect x="1340.5" y="2183" width="62.4" height="93.7" fill="url(#ps)" stroke="#111" stroke-width="5"/>
<path d="M1535.2,2238.3 V2231.7" stroke="#111" stroke-width="3.6" fill="none"/>
<path d="M1519.2,2231.7 H1551.2" stroke="#111" stroke-width="5" fill="none"/>
<rect x="1504.2" y="2240.8" width="61.9" height="35.9" fill="url(#pg1)" stroke="#111" stroke-width="5"/>
<path d="M1633.2,1953 V1948.6" stroke="#111" stroke-width="3.6" fill="none"/>
<path d="M1617.2,1948.6 H1649.2" stroke="#111" stroke-width="5" fill="none"/>
<rect x="1602.5" y="1955.5" width="61.5" height="321.2" fill="url(#ps)" stroke="#111" stroke-width="5"/>
<path d="M1192.4,1925.4 V2276.7" stroke="#111" stroke-width="3.2"/>
<path d="M1182.4,2276.7 H1715.8" stroke="#111" stroke-width="4.6"/>
<text x="1175" y="2287.2" font-size="30.3" fill="#303030" text-anchor="end">0</text>
<text x="1175" y="2228.9" font-size="30.3" fill="#303030" text-anchor="end">5</text>
<text x="1175" y="2170.6" font-size="30.3" fill="#303030" text-anchor="end">10</text>
<text x="1175" y="2112.3" font-size="30.3" fill="#303030" text-anchor="end">15</text>
<text x="1175" y="2054.1" font-size="30.3" fill="#303030" text-anchor="end">20</text>
<text x="1175" y="1995.8" font-size="30.3" fill="#303030" text-anchor="end">25</text>
<text x="1175" y="1937.5" font-size="30.3" fill="#303030" text-anchor="end">30</text>
<path d="M1192.4,2218.4 h-10 M1192.4,2160.1 h-10 M1192.4,2101.8 h-10 M1192.4,2043.6 h-10 M1192.4,1985.3 h-10 M1192.4,1927 h-10 M1323.5,2276.7 v10.5 M1583,2276.7 v10.5" stroke="#111" stroke-width="3.2"/>
<text x="1325" y="2316.3" font-size="29.7" fill="#303030" text-anchor="middle">C4-2 NC</text>
<text x="1582" y="2316.3" font-size="29.7" fill="#303030" text-anchor="middle">C4-2 QKI si</text>
<text transform="translate(1125.5,2099.5) rotate(-90)" font-size="33.2" fill="#303030" text-anchor="middle">Percentage</text>
<path d="M1371.5,2156.8 V1909.2 H1631.5 V1932" fill="none" stroke="#111" stroke-width="5" stroke-linejoin="round" stroke-linecap="round"/>
<text x="1502.1" y="1911.6" font-size="40" fill="#303030" text-anchor="middle">**</text>
<rect x="1727.4" y="1940.7" width="36.7" height="17.9" rx="3.5" fill="url(#pg1)" stroke="#111" stroke-width="5.8"/>
<rect x="1727.4" y="2013.4" width="36.7" height="18.2" rx="3.5" fill="url(#ps)" stroke="#111" stroke-width="5.8"/>
<text x="1778.4" y="1945.4" font-size="33.6" fill="#303030">Late apoptosis</text>
<text x="1786.4" y="1981.8" font-size="33.6" fill="#303030">/necrosis</text>
<text x="1778.4" y="2037" font-size="33.6" fill="#303030">Early apoptosis</text>
<!-- scatter plots -->
<path d="M216,1695.6 h-4.5 M216,1681.8 h-4.5 M216,1671.9 h-4.5 M216,1664.3 h-4.5 M216,1658.1 h-4.5 M216,1652.8 h-4.5 M216,1648.2 h-4.5 M216,1644.2 h-4.5 M216,1640.6 h-8 M216,1616.9 h-4.5 M216,1603.1 h-4.5 M216,1593.2 h-4.5 M216,1585.6 h-4.5 M216,1579.4 h-4.5 M216,1574.1 h-4.5 M216,1569.5 h-4.5 M216,1565.5 h-4.5 M216,1561.9 h-8 M216,1538.2 h-4.5 M216,1524.4 h-4.5 M216,1514.5 h-4.5 M216,1506.9 h-4.5 M216,1500.7 h-4.5 M216,1495.4 h-4.5 M216,1490.8 h-4.5 M216,1486.8 h-4.5 M216,1483.2 h-8 M216,1459.5 h-4.5 M216,1445.7 h-4.5 M216,1435.8 h-4.5 M216,1428.2 h-4.5 M216,1422 h-4.5 M216,1416.7 h-4.5 M216,1412.1 h-4.5 M216,1408.1 h-4.5 M239.6,1717.5 v4.5 M254.7,1717.5 v4.5 M265.5,1717.5 v4.5 M273.8,1717.5 v4.5 M280.6,1717.5 v4.5 M286.4,1717.5 v4.5 M291.4,1717.5 v4.5 M295.8,1717.5 v4.5 M299.7,1717.5 v8 M325.6,1717.5 v4.5 M340.7,1717.5 v4.5 M351.5,1717.5 v4.5 M359.8,1717.5 v4.5 M366.6,1717.5 v4.5 M372.4,1717.5 v4.5 M377.4,1717.5 v4.5 M381.8,1717.5 v4.5 M385.7,1717.5 v8 M411.6,1717.5 v4.5 M426.7,1717.5 v4.5 M437.5,1717.5 v4.5 M445.8,1717.5 v4.5 M452.6,1717.5 v4.5 M458.4,1717.5 v4.5 M463.4,1717.5 v4.5 M467.8,1717.5 v4.5 M471.7,1717.5 v8 M497.6,1717.5 v4.5 M512.7,1717.5 v4.5 M523.5,1717.5 v4.5 M531.8,1717.5 v4.5 M538.6,1717.5 v4.5 M544.4,1717.5 v4.5 M549.4,1717.5 v4.5 M553.8,1717.5 v4.5 M558,1717.5 v8 M216,1404.5 h-8" stroke="#999" stroke-width="1.8" fill="none"/>
<clipPath id="c21"><rect x="217.5" y="1406" width="339" height="310"/></clipPath>
<g clip-path="url(#c21)">
<ellipse cx="264" cy="1685" rx="53" ry="36" fill="url(#rb)" opacity="1"/>
<ellipse cx="318" cy="1682" rx="34" ry="30" fill="url(#rb)" opacity="0.3"/>
</g>
<path d="M277,1686h2.7M251,1666h2.7M327,1529h2.7M244,1673h2.7M271,1523h2.7M332,1688h2.7M250,1695h2.7M233,1694h2.7M272,1640h2.7M291,1670h2.7M240,1515h2.7M261,1694h2.7M233,1686h2.7M246,1690h2.7M286,1664h2.7M267,1702h2.7M266,1683h2.7M245,1673h2.7M329,1677h2.7M279,1653h2.7M252,1673h2.7M280,1670h2.7M282,1684h2.7M229,1692h2.7M273,1691h2.7M248,1698h2.7M285,1677h2.7M270,1558h2.7M248,1668h2.7M331,1649h2.7M249,1680h2.7M245,1570h2.7M246,1510h2.7M288,1697h2.7M240,1558h2.7M261,1697h2.7M283,1665h2.7M224,1711h2.7M245,1713h2.7M247,1540h2.7M268,1658h2.7M275,1650h2.7M245,1612h2.7M245,1703h2.7M338,1697h2.7M280,1683h2.7M251,1681h2.7M321,1675h2.7M265,1640h2.7M261,1668h2.7M265,1686h2.7M246,1675h2.7M235,1686h2.7M296,1693h2.7M260,1685h2.7M353,1701h2.7M276,1682h2.7M368,1681h2.7M369,1685h2.7M271,1694h2.7M296,1677h2.7M291,1703h2.7M221,1709h2.7M258,1694h2.7M265,1676h2.7M279,1666h2.7M260,1686h2.7M265,1664h2.7M263,1707h2.7M260,1679h2.7M238,1695h2.7M301,1703h2.7M273,1681h2.7M260,1692h2.7M239,1640h2.7M259,1672h2.7M286,1679h2.7M219,1540h2.7M268,1658h2.7M261,1544h2.7M264,1673h2.7M262,1698h2.7M283,1678h2.7M320,1688h2.7M248,1698h2.7M237,1672h2.7M262,1666h2.7M239,1705h2.7M266,1686h2.7M253,1669h2.7M265,1647h2.7M268,1706h2.7M278,1693h2.7M296,1681h2.7M224,1668h2.7M339,1678h2.7M346,1688h2.7M219,1673h2.7M236,1667h2.7M226,1651h2.7M268,1682h2.7M281,1696h2.7M277,1662h2.7M389,1563h2.7M266,1673h2.7M255,1705h2.7M251,1681h2.7M314,1678h2.7M324,1712h2.7M268,1701h2.7M280,1698h2.7M220,1644h2.7M274,1714h2.7M238,1665h2.7M220,1688h2.7M237,1682h2.7M318,1677h2.7M253,1516h2.7M275,1655h2.7M262,1692h2.7M275,1672h2.7M253,1670h2.7M245,1662h2.7M300,1690h2.7M265,1664h2.7M268,1645h2.7M322,1712h2.7M263,1668h2.7M262,1662h2.7M268,1691h2.7M245,1691h2.7M267,1683h2.7M254,1668h2.7M285,1551h2.7M271,1682h2.7M272,1670h2.7M367,1670h2.7M249,1676h2.7M223,1666h2.7M300,1690h2.7M260,1690h2.7M238,1665h2.7M347,1672h2.7M375,1696h2.7M354,1690h2.7M308,1662h2.7M284,1689h2.7M280,1626h2.7M385,1674h2.7M285,1689h2.7M266,1527h2.7M264,1692h2.7M357,1676h2.7M283,1654h2.7M239,1691h2.7M251,1694h2.7M285,1687h2.7M361,1547h2.7M225,1687h2.7M224,1685h2.7M258,1701h2.7M274,1663h2.7M300,1686h2.7M250,1688h2.7M302,1685h2.7M247,1708h2.7M228,1681h2.7M370,1710h2.7M304,1694h2.7M222,1688h2.7M253,1675h2.7M270,1533h2.7M286,1670h2.7M243,1644h2.7M272,1658h2.7M265,1684h2.7M256,1693h2.7M246,1516h2.7M262,1686h2.7M225,1666h2.7M222,1535h2.7M222,1677h2.7M263,1681h2.7M244,1709h2.7M252,1658h2.7M266,1700h2.7M270,1685h2.7M241,1647h2.7M224,1684h2.7M252,1515h2.7M324,1648h2.7M255,1681h2.7M263,1669h2.7M338,1685h2.7M264,1495h2.7M232,1539h2.7M231,1655h2.7M283,1522h2.7M296,1671h2.7M378,1672h2.7M259,1602h2.7M263,1688h2.7M274,1590h2.7M266,1687h2.7M257,1682h2.7M250,1533h2.7M301,1672h2.7M277,1672h2.7M249,1683h2.7M260,1689h2.7M260,1669h2.7M302,1705h2.7M280,1698h2.7M325,1705h2.7M294,1663h2.7M250,1649h2.7M274,1697h2.7M290,1673h2.7M309,1680h2.7M286,1533h2.7M251,1685h2.7M357,1693h2.7M259,1662h2.7M275,1682h2.7M244,1661h2.7M308,1650h2.7M291,1664h2.7M271,1685h2.7M296,1679h2.7M279,1692h2.7M312,1667h2.7M258,1654h2.7M285,1680h2.7M244,1695h2.7M357,1706h2.7M285,1677h2.7M251,1524h2.7M222,1683h2.7M254,1661h2.7M244,1519h2.7M248,1686h2.7M349,1542h2.7M276,1684h2.7M251,1684h2.7M285,1666h2.7M268,1709h2.7M256,1663h2.7M249,1694h2.7M258,1674h2.7M268,1670h2.7M314,1656h2.7M302,1671h2.7M268,1659h2.7M264,1667h2.7M263,1690h2.7M235,1682h2.7M274,1706h2.7M310,1682h2.7M224,1682h2.7M274,1669h2.7M354,1550h2.7M239,1656h2.7M258,1654h2.7M274,1691h2.7M242,1686h2.7M377,1668h2.7M236,1661h2.7M277,1710h2.7M301,1532h2.7M247,1682h2.7M275,1702h2.7M261,1703h2.7M305,1714h2.7M257,1684h2.7M244,1670h2.7M278,1695h2.7M304,1676h2.7M262,1677h2.7M230,1684h2.7M276,1651h2.7M249,1698h2.7M281,1703h2.7M262,1678h2.7M227,1653h2.7M251,1683h2.7M221,1655h2.7M280,1683h2.7M249,1699h2.7M233,1563h2.7M279,1672h2.7M351,1668h2.7M248,1539h2.7M240,1645h2.7M285,1657h2.7M341,1683h2.7M267,1688h2.7M260,1661h2.7M227,1690h2.7M292,1686h2.7M294,1686h2.7M263,1673h2.7M351,1685h2.7M342,1524h2.7M288,1661h2.7M293,1672h2.7M270,1684h2.7M342,1683h2.7M273,1663h2.7M247,1689h2.7M271,1698h2.7M262,1679h2.7M280,1690h2.7M314,1685h2.7M253,1652h2.7M225,1699h2.7M342,1688h2.7M312,1592h2.7M254,1682h2.7M306,1698h2.7M265,1685h2.7M287,1646h2.7M226,1690h2.7M371,1692h2.7M388,1650h2.7M291,1684h2.7M275,1658h2.7M320,1684h2.7M283,1696h2.7M258,1696h2.7M331,1554h2.7M239,1686h2.7M260,1532h2.7M234,1608h2.7M254,1674h2.7M253,1622h2.7M406,1555h2.7M274,1698h2.7M279,1705h2.7M267,1689h2.7M245,1684h2.7M254,1698h2.7M288,1693h2.7M252,1689h2.7M262,1588h2.7M245,1658h2.7M355,1662h2.7M266,1670h2.7M255,1675h2.7M281,1676h2.7M294,1566h2.7M260,1685h2.7M288,1524h2.7M263,1673h2.7M267,1537h2.7M263,1538h2.7M264,1657h2.7M276,1661h2.7M267,1659h2.7M273,1662h2.7M275,1692h2.7M271,1712h2.7M318,1703h2.7M287,1528h2.7M254,1642h2.7M252,1544h2.7M372,1557h2.7M275,1651h2.7M249,1660h2.7M245,1516h2.7M303,1666h2.7M244,1687h2.7M250,1711h2.7M242,1510h2.7M246,1676h2.7M244,1668h2.7M259,1676h2.7M277,1586h2.7M274,1675h2.7M253,1705h2.7M249,1563h2.7M258,1653h2.7M350,1675h2.7M225,1700h2.7M237,1693h2.7M243,1670h2.7M256,1678h2.7M289,1694h2.7M272,1539h2.7M251,1706h2.7M267,1672h2.7M419,1542h2.7M341,1646h2.7M290,1554h2.7M267,1665h2.7M335,1565h2.7M273,1698h2.7M249,1656h2.7M244,1663h2.7M349,1556h2.7M284,1658h2.7M288,1694h2.7M247,1651h2.7M241,1664h2.7M248,1679h2.7M267,1521h2.7M269,1679h2.7M261,1706h2.7M230,1651h2.7M305,1560h2.7M268,1544h2.7M259,1669h2.7M264,1537h2.7M219,1710h2.7M236,1693h2.7M247,1665h2.7M326,1690h2.7M253,1682h2.7M333,1700h2.7M303,1708h2.7M263,1691h2.7M233,1686h2.7M239,1698h2.7M301,1694h2.7M236,1697h2.7M246,1647h2.7M263,1680h2.7M313,1655h2.7M263,1688h2.7M240,1675h2.7M302,1677h2.7M259,1652h2.7M262,1677h2.7M260,1668h2.7M272,1583h2.7M242,1671h2.7M224,1663h2.7M261,1670h2.7M236,1685h2.7M262,1690h2.7M284,1696h2.7M262,1697h2.7M272,1695h2.7M412,1657h2.7M262,1533h2.7M299,1685h2.7M328,1681h2.7M302,1675h2.7M277,1696h2.7M283,1651h2.7M247,1676h2.7M258,1707h2.7M297,1664h2.7M241,1657h2.7M246,1688h2.7M299,1686h2.7M269,1679h2.7M241,1683h2.7M242,1691h2.7M251,1677h2.7M260,1688h2.7M283,1695h2.7M267,1676h2.7M253,1669h2.7M324,1711h2.7M272,1672h2.7M247,1536h2.7M294,1681h2.7M307,1699h2.7M279,1664h2.7M284,1663h2.7M296,1673h2.7M286,1664h2.7M259,1714h2.7M259,1684h2.7M267,1698h2.7M297,1672h2.7M236,1706h2.7M239,1670h2.7M278,1670h2.7M293,1641h2.7M242,1694h2.7M239,1666h2.7M285,1678h2.7M240,1676h2.7M289,1684h2.7M259,1692h2.7M227,1693h2.7M354,1668h2.7M274,1671h2.7M235,1538h2.7M237,1708h2.7M243,1705h2.7M262,1647h2.7M265,1658h2.7M245,1679h2.7M253,1708h2.7M244,1521h2.7M278,1681h2.7M281,1532h2.7M280,1681h2.7M251,1674h2.7M251,1692h2.7M319,1619h2.7M259,1673h2.7M222,1650h2.7M255,1687h2.7M342,1686h2.7M284,1669h2.7M268,1692h2.7M224,1698h2.7M223,1612h2.7M279,1576h2.7M250,1663h2.7M259,1685h2.7M279,1690h2.7M306,1685h2.7M236,1703h2.7M235,1672h2.7M266,1686h2.7M297,1698h2.7M299,1661h2.7M244,1650h2.7M270,1660h2.7M279,1683h2.7M281,1644h2.7M246,1690h2.7M279,1650h2.7M269,1680h2.7M275,1663h2.7M304,1654h2.7M263,1675h2.7M335,1667h2.7M235,1704h2.7M332,1709h2.7M250,1683h2.7M275,1686h2.7M295,1707h2.7M297,1709h2.7M252,1697h2.7M275,1665h2.7M248,1691h2.7M249,1679h2.7M241,1673h2.7M247,1666h2.7M353,1677h2.7M274,1675h2.7M257,1711h2.7M284,1695h2.7M269,1679h2.7M260,1683h2.7M247,1655h2.7M263,1677h2.7M348,1533h2.7M305,1670h2.7M256,1653h2.7M268,1682h2.7M259,1680h2.7M355,1666h2.7M286,1680h2.7M279,1684h2.7M271,1678h2.7M341,1653h2.7M273,1639h2.7M396,1644h2.7M302,1661h2.7M267,1672h2.7M268,1678h2.7M291,1547h2.7M253,1705h2.7M250,1700h2.7M284,1682h2.7M244,1665h2.7M267,1695h2.7M237,1698h2.7M244,1654h2.7M233,1691h2.7M260,1695h2.7M247,1661h2.7M282,1679h2.7M245,1636h2.7M249,1694h2.7M238,1670h2.7M246,1667h2.7M252,1652h2.7M257,1674h2.7M258,1651h2.7M259,1712h2.7M251,1673h2.7M299,1711h2.7M291,1662h2.7M246,1696h2.7M255,1693h2.7M259,1690h2.7M218,1711h2.7M287,1679h2.7M257,1685h2.7M276,1662h2.7M246,1671h2.7M277,1667h2.7M256,1679h2.7M253,1684h2.7M231,1688h2.7M243,1643h2.7M411,1529h2.7M262,1701h2.7M272,1690h2.7M312,1556h2.7M267,1515h2.7M252,1693h2.7M250,1564h2.7M276,1695h2.7M269,1695h2.7M238,1667h2.7M264,1672h2.7M271,1679h2.7M318,1682h2.7M326,1675h2.7M325,1649h2.7M273,1698h2.7M229,1680h2.7M275,1698h2.7M291,1657h2.7M307,1688h2.7M288,1676h2.7M241,1688h2.7M254,1704h2.7M266,1543h2.7M341,1686h2.7M254,1648h2.7M312,1697h2.7M278,1657h2.7M245,1679h2.7" stroke="#f2141c" stroke-width="2.7" opacity="0.38" fill="none"/>
<path d="M371,1694h2.7M293,1696h2.7M282,1668h2.7M262,1693h2.7M218,1650h2.7M250,1696h2.7M245,1656h2.7M236,1701h2.7M254,1678h2.7M243,1673h2.7M231,1666h2.7M263,1692h2.7M248,1682h2.7M266,1527h2.7M329,1540h2.7M372,1541h2.7M247,1698h2.7M219,1684h2.7M272,1671h2.7M225,1679h2.7M382,1700h2.7M265,1687h2.7M247,1701h2.7M295,1664h2.7M253,1667h2.7M413,1572h2.7M360,1676h2.7M357,1545h2.7M271,1693h2.7M224,1642h2.7M288,1669h2.7M326,1669h2.7M259,1711h2.7M259,1649h2.7M253,1656h2.7M353,1692h2.7M297,1669h2.7M253,1552h2.7M276,1686h2.7M276,1504h2.7M263,1588h2.7M275,1682h2.7M269,1681h2.7M310,1547h2.7M270,1524h2.7M274,1686h2.7M260,1672h2.7M274,1688h2.7M268,1685h2.7M253,1702h2.7M274,1700h2.7M233,1674h2.7M245,1685h2.7M250,1690h2.7M287,1663h2.7M243,1690h2.7M290,1674h2.7M277,1511h2.7M301,1684h2.7M362,1552h2.7M236,1702h2.7M275,1695h2.7M298,1683h2.7M279,1686h2.7M276,1696h2.7M251,1683h2.7M320,1662h2.7M272,1687h2.7M273,1655h2.7M242,1680h2.7M290,1698h2.7M276,1675h2.7M270,1609h2.7M226,1680h2.7M254,1664h2.7M273,1646h2.7M282,1694h2.7M368,1530h2.7M231,1662h2.7M257,1704h2.7M254,1678h2.7M295,1666h2.7M280,1605h2.7M277,1538h2.7M269,1531h2.7M279,1649h2.7M228,1700h2.7M245,1674h2.7M241,1535h2.7M315,1672h2.7M275,1696h2.7M255,1684h2.7M273,1655h2.7M219,1710h2.7M270,1692h2.7M253,1657h2.7M253,1678h2.7M315,1651h2.7M303,1699h2.7M262,1664h2.7M308,1684h2.7M273,1666h2.7M280,1675h2.7M247,1659h2.7M270,1655h2.7M257,1713h2.7M235,1679h2.7M239,1666h2.7M277,1653h2.7M268,1687h2.7M288,1673h2.7M334,1697h2.7M229,1659h2.7M285,1691h2.7M269,1683h2.7M254,1588h2.7M246,1652h2.7M250,1678h2.7M270,1671h2.7M279,1673h2.7M267,1673h2.7M261,1675h2.7M264,1680h2.7M256,1509h2.7M270,1670h2.7M283,1509h2.7M267,1678h2.7M242,1507h2.7M285,1694h2.7M344,1677h2.7M263,1692h2.7M259,1654h2.7M256,1702h2.7M276,1565h2.7M258,1681h2.7M247,1509h2.7M287,1686h2.7M235,1678h2.7M267,1697h2.7M233,1657h2.7M280,1673h2.7M350,1673h2.7M318,1686h2.7M244,1698h2.7M365,1682h2.7M285,1686h2.7M271,1670h2.7M262,1679h2.7M268,1684h2.7M294,1677h2.7M305,1663h2.7M350,1682h2.7M342,1683h2.7M313,1678h2.7M278,1662h2.7M289,1693h2.7M236,1641h2.7M280,1662h2.7M221,1682h2.7M309,1678h2.7M259,1687h2.7M253,1688h2.7M267,1670h2.7M275,1687h2.7M345,1661h2.7M324,1713h2.7M328,1643h2.7M255,1706h2.7M379,1660h2.7M273,1702h2.7M367,1676h2.7M313,1667h2.7M236,1697h2.7M276,1671h2.7M222,1693h2.7M322,1597h2.7M226,1551h2.7M247,1688h2.7M242,1703h2.7M386,1686h2.7M270,1667h2.7M236,1698h2.7M220,1694h2.7M263,1691h2.7M230,1672h2.7M251,1543h2.7M225,1695h2.7M341,1684h2.7M246,1661h2.7M251,1506h2.7M298,1694h2.7M361,1685h2.7M329,1667h2.7M317,1597h2.7M245,1664h2.7M276,1699h2.7M223,1646h2.7M252,1674h2.7M264,1662h2.7M370,1664h2.7M281,1660h2.7M283,1490h2.7M258,1682h2.7M239,1651h2.7M255,1657h2.7M285,1660h2.7M273,1678h2.7M296,1696h2.7M267,1671h2.7M255,1706h2.7M267,1707h2.7M232,1655h2.7M298,1687h2.7M264,1692h2.7M288,1694h2.7M324,1683h2.7M253,1673h2.7M275,1695h2.7M395,1657h2.7M245,1707h2.7M266,1658h2.7M286,1700h2.7M280,1656h2.7M255,1695h2.7M256,1541h2.7M283,1663h2.7M248,1678h2.7M264,1667h2.7M232,1700h2.7M234,1696h2.7M262,1680h2.7M377,1671h2.7M294,1686h2.7M227,1660h2.7M249,1513h2.7M292,1705h2.7M260,1702h2.7M255,1690h2.7M285,1674h2.7M263,1695h2.7M372,1665h2.7M235,1707h2.7M256,1678h2.7M238,1650h2.7M281,1660h2.7M262,1687h2.7M252,1666h2.7M222,1669h2.7M242,1702h2.7M267,1652h2.7M291,1676h2.7M249,1672h2.7M269,1600h2.7M275,1703h2.7M237,1664h2.7M264,1678h2.7M290,1703h2.7M276,1681h2.7M297,1706h2.7M239,1686h2.7M236,1686h2.7M299,1673h2.7M259,1687h2.7M254,1692h2.7M272,1697h2.7M242,1673h2.7M270,1674h2.7M308,1539h2.7M253,1695h2.7M249,1698h2.7M346,1701h2.7M256,1668h2.7M252,1578h2.7M265,1661h2.7M319,1673h2.7M259,1651h2.7M290,1685h2.7M257,1691h2.7M278,1662h2.7M403,1682h2.7M272,1688h2.7M267,1687h2.7M269,1700h2.7M254,1694h2.7M250,1696h2.7M241,1532h2.7M248,1713h2.7M262,1689h2.7M244,1562h2.7M260,1660h2.7M262,1696h2.7M287,1680h2.7M303,1664h2.7M279,1713h2.7M291,1555h2.7M234,1700h2.7M286,1661h2.7M270,1671h2.7M265,1701h2.7M269,1683h2.7M388,1571h2.7M264,1564h2.7M222,1644h2.7M343,1704h2.7M300,1664h2.7M359,1661h2.7M245,1673h2.7M290,1535h2.7M360,1673h2.7M305,1676h2.7M221,1700h2.7M267,1678h2.7M249,1532h2.7M256,1686h2.7M269,1567h2.7M300,1673h2.7M328,1658h2.7M233,1695h2.7M229,1532h2.7M294,1711h2.7M252,1661h2.7M234,1693h2.7M313,1689h2.7M305,1687h2.7M227,1666h2.7M286,1677h2.7M295,1693h2.7M253,1692h2.7M230,1707h2.7M238,1667h2.7M351,1669h2.7M250,1681h2.7M351,1540h2.7M347,1684h2.7M224,1649h2.7M281,1698h2.7M272,1662h2.7M305,1662h2.7M293,1660h2.7M305,1688h2.7M308,1670h2.7M249,1655h2.7M261,1679h2.7M333,1700h2.7M272,1559h2.7M229,1590h2.7M275,1681h2.7M249,1691h2.7M251,1701h2.7M285,1705h2.7M276,1692h2.7M264,1664h2.7M277,1655h2.7M272,1679h2.7M304,1637h2.7M278,1648h2.7M253,1691h2.7M277,1677h2.7M261,1623h2.7M273,1661h2.7M264,1686h2.7M300,1658h2.7M232,1528h2.7M242,1688h2.7M261,1535h2.7M237,1543h2.7M250,1621h2.7M290,1693h2.7M347,1657h2.7M318,1666h2.7M288,1710h2.7M269,1596h2.7M350,1666h2.7M367,1675h2.7M261,1687h2.7M262,1714h2.7M337,1685h2.7M230,1676h2.7M256,1670h2.7M251,1661h2.7M242,1664h2.7M272,1687h2.7M332,1688h2.7M292,1540h2.7M333,1686h2.7M255,1701h2.7M232,1665h2.7M230,1676h2.7M300,1658h2.7M302,1668h2.7M257,1700h2.7M280,1537h2.7M340,1658h2.7M262,1517h2.7M272,1680h2.7M306,1583h2.7M292,1692h2.7M259,1682h2.7M279,1699h2.7M291,1691h2.7M255,1673h2.7M253,1677h2.7M220,1680h2.7M269,1704h2.7M279,1638h2.7M263,1645h2.7M239,1681h2.7M221,1540h2.7M235,1670h2.7M288,1673h2.7M356,1707h2.7M272,1692h2.7M276,1686h2.7M248,1642h2.7M270,1647h2.7M257,1681h2.7M285,1660h2.7M274,1684h2.7M277,1604h2.7M247,1540h2.7M263,1671h2.7M253,1539h2.7M253,1677h2.7M240,1690h2.7M290,1665h2.7M279,1680h2.7M286,1647h2.7M277,1691h2.7M241,1690h2.7M240,1679h2.7M399,1679h2.7M285,1595h2.7M250,1660h2.7M239,1520h2.7M243,1537h2.7M247,1678h2.7M274,1695h2.7M335,1585h2.7M350,1666h2.7M257,1683h2.7M286,1702h2.7M282,1673h2.7M241,1683h2.7M255,1678h2.7M244,1648h2.7M253,1714h2.7M284,1672h2.7M244,1707h2.7M233,1675h2.7M266,1624h2.7M230,1659h2.7M225,1488h2.7M266,1681h2.7M257,1543h2.7M244,1671h2.7M251,1710h2.7M279,1679h2.7M234,1670h2.7M226,1673h2.7M257,1655h2.7M427,1688h2.7M225,1686h2.7M226,1676h2.7M288,1703h2.7M244,1684h2.7M237,1706h2.7M245,1650h2.7M231,1668h2.7M271,1669h2.7M262,1710h2.7M283,1679h2.7M347,1599h2.7M252,1661h2.7M263,1667h2.7M285,1662h2.7M393,1682h2.7M256,1670h2.7M316,1708h2.7M270,1676h2.7M237,1705h2.7M228,1698h2.7M248,1517h2.7M262,1707h2.7M243,1690h2.7M246,1650h2.7M240,1679h2.7M266,1680h2.7M261,1695h2.7M235,1694h2.7M235,1687h2.7M249,1555h2.7M290,1527h2.7M299,1702h2.7M234,1654h2.7M247,1699h2.7M283,1664h2.7M353,1650h2.7M319,1689h2.7M261,1686h2.7M271,1683h2.7M273,1693h2.7M319,1654h2.7M270,1528h2.7M269,1659h2.7M356,1684h2.7M309,1694h2.7M258,1557h2.7M226,1515h2.7M296,1702h2.7M319,1534h2.7M254,1658h2.7M245,1701h2.7M336,1674h2.7M314,1670h2.7M242,1677h2.7M269,1512h2.7M275,1678h2.7M270,1621h2.7M251,1677h2.7M248,1666h2.7M247,1697h2.7M272,1671h2.7M266,1654h2.7M275,1669h2.7M294,1698h2.7M275,1633h2.7M268,1645h2.7M253,1679h2.7M254,1610h2.7M251,1714h2.7M226,1676h2.7M263,1684h2.7M232,1659h2.7M274,1662h2.7M235,1690h2.7M259,1693h2.7M273,1709h2.7M302,1673h2.7M285,1661h2.7M224,1711h2.7M268,1654h2.7M270,1660h2.7M238,1713h2.7M241,1658h2.7M299,1684h2.7M222,1699h2.7M257,1663h2.7M297,1659h2.7M263,1657h2.7M331,1552h2.7M272,1684h2.7M269,1691h2.7M280,1678h2.7M278,1669h2.7M255,1666h2.7M220,1660h2.7M295,1665h2.7M266,1689h2.7M228,1673h2.7M227,1679h2.7M254,1681h2.7M275,1696h2.7M256,1686h2.7M276,1690h2.7M273,1660h2.7M252,1712h2.7M253,1690h2.7M317,1704h2.7M266,1680h2.7M267,1667h2.7M333,1703h2.7M239,1671h2.7M251,1687h2.7M253,1713h2.7M234,1707h2.7M238,1669h2.7M280,1512h2.7M289,1698h2.7M363,1648h2.7M254,1535h2.7M228,1687h2.7M241,1502h2.7M324,1656h2.7M238,1667h2.7M295,1655h2.7M314,1655h2.7M282,1631h2.7M248,1666h2.7M258,1645h2.7M283,1658h2.7M268,1671h2.7M353,1544h2.7M275,1690h2.7M298,1703h2.7M224,1684h2.7M324,1676h2.7M249,1523h2.7M251,1662h2.7M265,1686h2.7M369,1700h2.7M223,1690h2.7M265,1709h2.7M303,1679h2.7M247,1662h2.7M303,1646h2.7M241,1678h2.7M316,1657h2.7M273,1701h2.7M251,1574h2.7M252,1615h2.7M269,1685h2.7M245,1683h2.7M387,1660h2.7M284,1689h2.7M276,1690h2.7M234,1678h2.7M263,1692h2.7M259,1686h2.7M274,1665h2.7M328,1693h2.7M355,1671h2.7M224,1667h2.7M253,1687h2.7M332,1706h2.7M228,1678h2.7M234,1666h2.7M262,1665h2.7M278,1512h2.7M254,1695h2.7M250,1710h2.7M280,1682h2.7M304,1682h2.7" stroke="#f2141c" stroke-width="2.7" opacity="0.38" fill="none"/>
<path d="M293,1688h2.7M255,1706h2.7M231,1709h2.7M368,1674h2.7M296,1668h2.7M297,1667h2.7M283,1670h2.7M289,1711h2.7M223,1705h2.7M259,1605h2.7M250,1705h2.7M264,1625h2.7M256,1680h2.7M320,1664h2.7M254,1668h2.7M299,1548h2.7M238,1702h2.7M275,1517h2.7M270,1674h2.7M268,1645h2.7M268,1684h2.7M332,1657h2.7M246,1676h2.7M247,1534h2.7M264,1684h2.7M256,1664h2.7M349,1669h2.7M355,1679h2.7M258,1686h2.7M234,1705h2.7M256,1681h2.7M233,1704h2.7M294,1668h2.7M285,1689h2.7M302,1701h2.7M251,1555h2.7M266,1635h2.7M279,1498h2.7M245,1686h2.7M228,1591h2.7M273,1659h2.7M239,1641h2.7M272,1693h2.7M269,1649h2.7M270,1560h2.7M271,1671h2.7M267,1680h2.7M271,1693h2.7M242,1691h2.7M278,1683h2.7M260,1662h2.7M285,1662h2.7M264,1695h2.7M268,1705h2.7M281,1660h2.7M268,1664h2.7M294,1699h2.7M245,1679h2.7M389,1539h2.7M240,1708h2.7M268,1630h2.7M335,1596h2.7M288,1677h2.7M253,1680h2.7M299,1681h2.7M227,1693h2.7M346,1674h2.7M303,1665h2.7M264,1696h2.7M319,1712h2.7M302,1690h2.7M281,1596h2.7M250,1692h2.7M283,1650h2.7M273,1667h2.7M236,1535h2.7M312,1560h2.7M272,1708h2.7M262,1672h2.7M247,1684h2.7M353,1657h2.7M283,1691h2.7M272,1696h2.7M275,1674h2.7M308,1699h2.7M360,1708h2.7M418,1529h2.7M303,1672h2.7M279,1651h2.7M267,1677h2.7M271,1702h2.7M266,1670h2.7M274,1696h2.7M262,1700h2.7M247,1693h2.7M333,1649h2.7M285,1656h2.7M221,1656h2.7M257,1663h2.7M257,1612h2.7M257,1674h2.7M246,1676h2.7M272,1699h2.7M234,1673h2.7M296,1661h2.7M262,1683h2.7M240,1685h2.7M246,1662h2.7M286,1687h2.7M275,1692h2.7M260,1658h2.7M238,1575h2.7M308,1693h2.7M246,1680h2.7M335,1652h2.7M272,1655h2.7M341,1699h2.7M253,1673h2.7M295,1710h2.7M336,1689h2.7M231,1639h2.7M241,1698h2.7M275,1682h2.7M282,1700h2.7M242,1705h2.7M247,1672h2.7M400,1657h2.7M353,1661h2.7M249,1680h2.7M251,1511h2.7M256,1681h2.7M288,1518h2.7M247,1674h2.7M284,1710h2.7M270,1674h2.7M376,1666h2.7M231,1639h2.7M241,1680h2.7M385,1545h2.7M364,1554h2.7M245,1535h2.7M273,1675h2.7M246,1513h2.7M325,1670h2.7M243,1709h2.7M236,1664h2.7M292,1663h2.7M284,1705h2.7M278,1671h2.7M274,1674h2.7M243,1683h2.7M343,1681h2.7M295,1697h2.7M331,1687h2.7M296,1663h2.7M291,1527h2.7M264,1699h2.7M261,1710h2.7M249,1697h2.7M238,1688h2.7M300,1700h2.7M235,1659h2.7M300,1687h2.7M281,1691h2.7M275,1633h2.7M293,1675h2.7M264,1594h2.7M299,1681h2.7M341,1711h2.7M256,1666h2.7M314,1700h2.7M259,1554h2.7M287,1680h2.7M235,1534h2.7M285,1663h2.7M328,1657h2.7M282,1507h2.7M347,1671h2.7M260,1628h2.7M239,1529h2.7M320,1676h2.7M277,1665h2.7M356,1691h2.7M345,1653h2.7M245,1672h2.7M300,1541h2.7M238,1680h2.7M239,1649h2.7M280,1686h2.7M327,1640h2.7M305,1694h2.7M379,1635h2.7M244,1669h2.7M291,1678h2.7M237,1588h2.7M309,1688h2.7M299,1681h2.7M302,1696h2.7M260,1646h2.7M223,1678h2.7M311,1682h2.7M225,1558h2.7M316,1701h2.7M265,1680h2.7M255,1683h2.7M282,1661h2.7M344,1639h2.7M299,1676h2.7M253,1684h2.7M234,1681h2.7M258,1690h2.7M303,1693h2.7M287,1702h2.7M252,1684h2.7M261,1694h2.7M257,1700h2.7M314,1685h2.7M237,1692h2.7M272,1691h2.7M235,1692h2.7M250,1700h2.7M296,1680h2.7M246,1682h2.7M261,1701h2.7M255,1680h2.7M289,1532h2.7M335,1684h2.7M293,1680h2.7M264,1675h2.7M264,1661h2.7M242,1690h2.7M280,1678h2.7M338,1659h2.7M258,1651h2.7M307,1674h2.7M326,1667h2.7M288,1698h2.7M265,1670h2.7M279,1706h2.7M254,1651h2.7M274,1557h2.7M273,1678h2.7M318,1647h2.7M248,1677h2.7M240,1662h2.7M283,1547h2.7M254,1539h2.7M309,1675h2.7M240,1674h2.7M239,1671h2.7M254,1698h2.7M250,1688h2.7M237,1672h2.7M259,1693h2.7M250,1697h2.7M277,1689h2.7M264,1688h2.7M281,1691h2.7M259,1677h2.7M236,1667h2.7M237,1694h2.7M289,1659h2.7M255,1687h2.7M251,1670h2.7M241,1661h2.7M398,1653h2.7M280,1692h2.7M371,1618h2.7M281,1669h2.7M261,1684h2.7M274,1662h2.7M231,1682h2.7M297,1629h2.7M266,1688h2.7M252,1699h2.7M251,1674h2.7M245,1657h2.7M269,1701h2.7M223,1671h2.7M234,1675h2.7M303,1656h2.7M276,1681h2.7M283,1700h2.7M243,1682h2.7M280,1522h2.7M261,1691h2.7M277,1699h2.7M255,1660h2.7M263,1711h2.7M282,1681h2.7M235,1707h2.7M241,1528h2.7M261,1521h2.7M284,1679h2.7M268,1697h2.7M272,1672h2.7M272,1683h2.7M270,1660h2.7M282,1685h2.7M256,1643h2.7M270,1690h2.7M276,1522h2.7M245,1648h2.7M268,1687h2.7M239,1689h2.7M255,1617h2.7M275,1510h2.7M290,1684h2.7M223,1516h2.7M239,1651h2.7M289,1675h2.7M401,1542h2.7M258,1654h2.7M274,1679h2.7M285,1668h2.7M364,1706h2.7M291,1662h2.7M227,1675h2.7M289,1673h2.7M267,1707h2.7M298,1661h2.7M242,1686h2.7M268,1695h2.7M264,1683h2.7M269,1697h2.7M234,1534h2.7M267,1664h2.7M274,1515h2.7M329,1562h2.7M256,1711h2.7M274,1686h2.7M232,1536h2.7M291,1682h2.7M246,1508h2.7M237,1688h2.7M305,1666h2.7M294,1687h2.7M279,1664h2.7M238,1681h2.7M245,1689h2.7M249,1527h2.7M251,1693h2.7M270,1699h2.7M336,1673h2.7M273,1518h2.7M351,1648h2.7M288,1706h2.7M254,1693h2.7M255,1648h2.7M246,1707h2.7M254,1540h2.7M255,1669h2.7M291,1687h2.7M308,1707h2.7M369,1561h2.7M248,1661h2.7M239,1671h2.7M272,1664h2.7M285,1680h2.7M247,1527h2.7M271,1636h2.7M257,1682h2.7M289,1673h2.7M253,1696h2.7M266,1589h2.7M288,1689h2.7M229,1678h2.7M387,1672h2.7M274,1659h2.7M279,1692h2.7M262,1699h2.7M266,1683h2.7M266,1662h2.7M315,1648h2.7M283,1682h2.7M292,1669h2.7M263,1661h2.7M268,1688h2.7M249,1712h2.7M276,1547h2.7M288,1663h2.7M266,1670h2.7M281,1540h2.7M315,1689h2.7M276,1684h2.7M250,1680h2.7M267,1695h2.7M246,1691h2.7M242,1674h2.7M322,1686h2.7M253,1517h2.7M257,1698h2.7M287,1608h2.7M271,1680h2.7M358,1689h2.7M261,1675h2.7M267,1686h2.7M244,1693h2.7M280,1701h2.7M241,1613h2.7M261,1690h2.7M253,1645h2.7M288,1689h2.7M310,1693h2.7M356,1648h2.7M229,1690h2.7M280,1705h2.7M321,1685h2.7M220,1518h2.7M273,1702h2.7M249,1527h2.7M266,1690h2.7M278,1664h2.7M248,1676h2.7M366,1705h2.7M320,1631h2.7M240,1661h2.7M282,1679h2.7M309,1683h2.7M241,1663h2.7M284,1677h2.7M261,1698h2.7M256,1696h2.7M336,1671h2.7M287,1655h2.7M226,1668h2.7M240,1662h2.7M287,1682h2.7M260,1688h2.7M228,1660h2.7M235,1675h2.7M286,1694h2.7M273,1677h2.7M271,1678h2.7M254,1663h2.7M220,1687h2.7M277,1664h2.7M232,1679h2.7M277,1677h2.7M297,1705h2.7M288,1681h2.7M255,1682h2.7M242,1668h2.7M299,1696h2.7M245,1695h2.7M277,1682h2.7M357,1699h2.7M246,1700h2.7M240,1711h2.7M268,1685h2.7M323,1673h2.7M283,1683h2.7M276,1700h2.7M259,1665h2.7M235,1664h2.7M318,1673h2.7M245,1710h2.7M286,1685h2.7M335,1669h2.7M299,1672h2.7M247,1649h2.7M362,1684h2.7M313,1652h2.7M248,1690h2.7M265,1688h2.7M255,1701h2.7M250,1538h2.7M238,1685h2.7M255,1665h2.7M297,1660h2.7M266,1695h2.7M273,1695h2.7M287,1676h2.7M370,1661h2.7M360,1617h2.7M236,1683h2.7M309,1681h2.7M254,1670h2.7M248,1665h2.7M246,1669h2.7M255,1523h2.7M294,1692h2.7M227,1689h2.7M266,1698h2.7M244,1682h2.7M270,1699h2.7M286,1659h2.7M272,1676h2.7M273,1701h2.7M219,1676h2.7M285,1618h2.7M246,1517h2.7M276,1692h2.7M324,1672h2.7M240,1675h2.7M258,1653h2.7M250,1683h2.7M261,1675h2.7M270,1541h2.7M261,1669h2.7M244,1681h2.7M255,1665h2.7M276,1689h2.7M257,1537h2.7M284,1655h2.7M460,1556h2.7M264,1672h2.7M295,1679h2.7M286,1679h2.7M248,1669h2.7M259,1665h2.7M263,1664h2.7M317,1695h2.7M268,1663h2.7M284,1683h2.7M237,1672h2.7M250,1706h2.7M238,1690h2.7M260,1681h2.7M235,1713h2.7M282,1688h2.7M267,1539h2.7M271,1683h2.7M265,1668h2.7M232,1700h2.7M330,1545h2.7M385,1541h2.7M254,1507h2.7M258,1692h2.7M241,1691h2.7M366,1684h2.7M252,1687h2.7M247,1644h2.7M311,1670h2.7M276,1682h2.7M287,1685h2.7M250,1679h2.7M263,1646h2.7M279,1680h2.7M270,1504h2.7M287,1688h2.7M288,1689h2.7M307,1694h2.7M255,1650h2.7M267,1701h2.7M338,1659h2.7M272,1523h2.7M247,1628h2.7M280,1686h2.7M275,1519h2.7M298,1682h2.7M288,1658h2.7M308,1653h2.7M289,1670h2.7M237,1699h2.7M240,1651h2.7M285,1672h2.7M366,1681h2.7M296,1682h2.7M224,1647h2.7M229,1704h2.7M305,1672h2.7M372,1691h2.7M307,1696h2.7M263,1680h2.7M244,1679h2.7M244,1690h2.7M276,1682h2.7M231,1659h2.7M246,1691h2.7M344,1694h2.7M244,1682h2.7M236,1688h2.7M244,1702h2.7M281,1669h2.7M228,1659h2.7M256,1561h2.7M282,1649h2.7M285,1658h2.7M227,1672h2.7M284,1671h2.7M244,1649h2.7M257,1675h2.7M287,1669h2.7M234,1517h2.7M283,1504h2.7M249,1677h2.7M226,1687h2.7M280,1678h2.7M270,1512h2.7M334,1671h2.7M270,1648h2.7M284,1542h2.7M328,1634h2.7M254,1677h2.7M261,1690h2.7M275,1538h2.7M253,1698h2.7M244,1702h2.7M224,1679h2.7M261,1685h2.7M296,1646h2.7M268,1689h2.7M277,1683h2.7M308,1682h2.7M279,1672h2.7M260,1673h2.7M272,1667h2.7M270,1696h2.7M242,1702h2.7M360,1561h2.7M229,1685h2.7M328,1650h2.7M233,1704h2.7M275,1700h2.7M234,1672h2.7M226,1688h2.7M230,1651h2.7M294,1689h2.7M248,1681h2.7M230,1581h2.7M287,1703h2.7M241,1696h2.7M252,1702h2.7M243,1674h2.7M251,1712h2.7M262,1533h2.7M256,1670h2.7M297,1671h2.7M270,1695h2.7M261,1657h2.7M283,1681h2.7" stroke="#f2141c" stroke-width="2.7" opacity="0.38" fill="none"/>
<path d="M221,1663h2.7M240,1533h2.7M258,1704h2.7M290,1697h2.7M226,1687h2.7M283,1700h2.7M254,1679h2.7M234,1658h2.7M279,1696h2.7M291,1713h2.7M252,1685h2.7M269,1677h2.7M271,1692h2.7M247,1532h2.7M282,1537h2.7M270,1653h2.7M224,1695h2.7M227,1661h2.7M256,1669h2.7M265,1700h2.7M335,1669h2.7M267,1531h2.7M248,1672h2.7M301,1685h2.7M255,1516h2.7M298,1631h2.7M264,1677h2.7M282,1706h2.7M338,1690h2.7M262,1699h2.7M258,1680h2.7M309,1664h2.7M242,1666h2.7M277,1683h2.7M280,1679h2.7M292,1674h2.7M291,1535h2.7M379,1671h2.7M218,1672h2.7M318,1699h2.7M304,1670h2.7M327,1655h2.7M279,1695h2.7M266,1637h2.7M263,1651h2.7M276,1672h2.7M225,1699h2.7M305,1701h2.7M225,1708h2.7M238,1698h2.7M282,1690h2.7M282,1667h2.7M262,1680h2.7M251,1686h2.7M312,1693h2.7M247,1684h2.7M232,1650h2.7M233,1676h2.7M269,1662h2.7M241,1695h2.7M285,1671h2.7M244,1712h2.7M343,1663h2.7M351,1707h2.7M275,1700h2.7M257,1683h2.7M264,1526h2.7M297,1640h2.7M317,1684h2.7M284,1600h2.7M392,1700h2.7M301,1679h2.7M278,1678h2.7M277,1699h2.7M301,1669h2.7M300,1687h2.7M263,1695h2.7M263,1662h2.7M219,1676h2.7M274,1507h2.7M255,1678h2.7M224,1672h2.7M227,1687h2.7M296,1666h2.7M229,1644h2.7M283,1691h2.7M325,1702h2.7M250,1703h2.7M255,1684h2.7M261,1666h2.7M253,1713h2.7M321,1696h2.7M276,1691h2.7M225,1666h2.7M259,1694h2.7M279,1697h2.7M252,1544h2.7M328,1548h2.7M269,1692h2.7M377,1650h2.7M274,1681h2.7M271,1525h2.7M261,1712h2.7M330,1629h2.7M311,1711h2.7M313,1691h2.7M300,1693h2.7M311,1674h2.7M261,1661h2.7M250,1550h2.7M291,1554h2.7M238,1679h2.7M259,1662h2.7M227,1681h2.7M275,1667h2.7M245,1683h2.7M248,1666h2.7M273,1666h2.7M219,1681h2.7M288,1602h2.7M270,1672h2.7M278,1505h2.7M261,1531h2.7M239,1678h2.7M253,1683h2.7M308,1585h2.7M282,1674h2.7M326,1680h2.7M224,1669h2.7M300,1659h2.7M269,1703h2.7M251,1529h2.7M309,1639h2.7M229,1686h2.7M343,1607h2.7M254,1694h2.7M364,1712h2.7M277,1676h2.7M265,1663h2.7M268,1670h2.7M297,1670h2.7M235,1681h2.7M256,1702h2.7M281,1670h2.7M259,1669h2.7M340,1703h2.7M274,1669h2.7M267,1691h2.7M300,1698h2.7M260,1665h2.7M277,1589h2.7M300,1671h2.7M338,1678h2.7M281,1697h2.7M362,1711h2.7M326,1658h2.7M240,1665h2.7M235,1674h2.7M222,1698h2.7M263,1690h2.7M253,1650h2.7M245,1659h2.7M279,1694h2.7M274,1675h2.7M336,1663h2.7M226,1695h2.7M290,1654h2.7M322,1580h2.7M271,1667h2.7M269,1666h2.7M262,1695h2.7M372,1689h2.7M246,1525h2.7M274,1712h2.7M272,1698h2.7M310,1700h2.7M327,1666h2.7M347,1659h2.7M225,1694h2.7M232,1544h2.7M238,1674h2.7M255,1692h2.7M286,1685h2.7M273,1662h2.7M270,1655h2.7M255,1688h2.7M270,1668h2.7M228,1680h2.7M280,1681h2.7M261,1671h2.7M247,1675h2.7M238,1663h2.7M345,1661h2.7M370,1689h2.7M240,1654h2.7M264,1674h2.7M240,1684h2.7M260,1703h2.7M269,1651h2.7M252,1682h2.7M238,1535h2.7M231,1710h2.7M285,1540h2.7M247,1708h2.7M268,1542h2.7M257,1658h2.7M258,1692h2.7M321,1686h2.7M218,1671h2.7M264,1679h2.7M244,1592h2.7M289,1681h2.7M257,1713h2.7M262,1677h2.7M249,1690h2.7M281,1658h2.7M349,1677h2.7M250,1688h2.7M294,1697h2.7M258,1542h2.7M257,1700h2.7M359,1676h2.7M267,1552h2.7M299,1678h2.7M241,1693h2.7M280,1688h2.7M237,1667h2.7M252,1523h2.7M219,1632h2.7M248,1675h2.7M264,1671h2.7M226,1668h2.7M275,1667h2.7M255,1674h2.7M260,1687h2.7M255,1694h2.7M238,1703h2.7M288,1691h2.7M278,1691h2.7M267,1685h2.7M275,1659h2.7M262,1538h2.7M270,1639h2.7M304,1695h2.7M251,1672h2.7M243,1681h2.7M303,1661h2.7M222,1517h2.7M243,1674h2.7M325,1683h2.7M259,1685h2.7M222,1692h2.7M272,1694h2.7M320,1671h2.7M262,1694h2.7M310,1685h2.7M246,1685h2.7M258,1673h2.7M271,1689h2.7M238,1530h2.7M251,1692h2.7M270,1704h2.7M269,1695h2.7M279,1704h2.7M271,1703h2.7M239,1676h2.7M300,1681h2.7M291,1491h2.7M287,1685h2.7M253,1679h2.7M258,1675h2.7M271,1696h2.7M246,1543h2.7M228,1679h2.7M370,1681h2.7M236,1530h2.7M280,1696h2.7M278,1697h2.7M240,1662h2.7M230,1695h2.7M391,1690h2.7M227,1673h2.7M226,1655h2.7M263,1688h2.7M261,1516h2.7M284,1660h2.7M245,1658h2.7M270,1672h2.7M270,1685h2.7M276,1687h2.7M256,1685h2.7M276,1657h2.7M244,1679h2.7M272,1691h2.7M239,1679h2.7M248,1705h2.7M233,1668h2.7M228,1707h2.7M255,1651h2.7M278,1696h2.7M299,1679h2.7M272,1694h2.7M244,1666h2.7M294,1657h2.7M275,1652h2.7M241,1679h2.7M355,1693h2.7M334,1601h2.7M289,1697h2.7M273,1673h2.7M313,1686h2.7M261,1518h2.7M279,1665h2.7M237,1660h2.7M255,1672h2.7M247,1655h2.7M253,1554h2.7M249,1708h2.7M363,1687h2.7M279,1680h2.7M248,1663h2.7M268,1675h2.7M277,1713h2.7M256,1701h2.7M254,1711h2.7M368,1679h2.7M283,1692h2.7M264,1705h2.7M346,1548h2.7M230,1639h2.7M329,1697h2.7M268,1666h2.7M285,1694h2.7M243,1660h2.7M274,1675h2.7M259,1678h2.7M269,1509h2.7M285,1689h2.7M331,1648h2.7M247,1527h2.7M294,1682h2.7M246,1680h2.7M252,1575h2.7M287,1538h2.7M231,1535h2.7M243,1669h2.7M271,1682h2.7M236,1672h2.7M345,1633h2.7M357,1540h2.7M359,1650h2.7M308,1677h2.7M221,1679h2.7M257,1513h2.7M253,1681h2.7M237,1695h2.7M343,1712h2.7M385,1677h2.7M297,1698h2.7M356,1688h2.7M281,1678h2.7M230,1674h2.7M313,1666h2.7M266,1691h2.7M274,1547h2.7M288,1704h2.7M236,1677h2.7M259,1687h2.7M270,1673h2.7M254,1542h2.7M240,1516h2.7M233,1691h2.7M313,1689h2.7M247,1697h2.7M258,1676h2.7M267,1660h2.7M287,1671h2.7M298,1684h2.7M250,1521h2.7M268,1651h2.7M304,1641h2.7M305,1689h2.7M274,1684h2.7M273,1712h2.7M243,1689h2.7M255,1663h2.7M240,1591h2.7M261,1698h2.7M331,1693h2.7M272,1696h2.7M251,1633h2.7M225,1543h2.7M294,1651h2.7M275,1687h2.7M268,1688h2.7M250,1567h2.7M252,1657h2.7M249,1682h2.7M250,1563h2.7M276,1672h2.7M270,1642h2.7M269,1684h2.7M277,1684h2.7M331,1682h2.7M246,1679h2.7M336,1697h2.7M274,1697h2.7M287,1706h2.7M242,1645h2.7M233,1635h2.7M280,1537h2.7M254,1688h2.7M261,1676h2.7M334,1663h2.7M302,1678h2.7M277,1647h2.7M260,1707h2.7M254,1511h2.7M330,1675h2.7M244,1691h2.7M277,1658h2.7M245,1535h2.7M303,1698h2.7M370,1700h2.7M243,1681h2.7M310,1677h2.7M262,1702h2.7M246,1536h2.7M231,1654h2.7M273,1700h2.7M259,1674h2.7M251,1704h2.7M236,1681h2.7M263,1708h2.7M253,1670h2.7M282,1680h2.7M274,1667h2.7M331,1704h2.7M221,1695h2.7M252,1680h2.7M274,1688h2.7M268,1528h2.7M288,1676h2.7M307,1674h2.7M307,1652h2.7M270,1704h2.7M222,1694h2.7M245,1678h2.7M368,1683h2.7M241,1694h2.7M394,1531h2.7M242,1698h2.7M263,1669h2.7M233,1530h2.7M285,1524h2.7M240,1675h2.7M268,1688h2.7M288,1683h2.7M301,1642h2.7M294,1653h2.7M227,1677h2.7M276,1519h2.7M240,1660h2.7M276,1558h2.7M275,1674h2.7M257,1517h2.7M241,1697h2.7M266,1661h2.7M241,1658h2.7M266,1576h2.7M239,1669h2.7M273,1653h2.7M290,1680h2.7M232,1690h2.7M278,1691h2.7M367,1682h2.7M240,1670h2.7M238,1548h2.7M229,1709h2.7M220,1678h2.7M249,1679h2.7M270,1519h2.7M254,1661h2.7M269,1521h2.7M251,1674h2.7M240,1695h2.7M277,1668h2.7M270,1693h2.7M261,1713h2.7M221,1662h2.7M279,1644h2.7M222,1677h2.7M253,1673h2.7M355,1686h2.7M292,1677h2.7M271,1620h2.7M301,1674h2.7M336,1668h2.7M270,1652h2.7M241,1686h2.7M243,1518h2.7M272,1679h2.7M344,1683h2.7M265,1674h2.7M347,1661h2.7M244,1700h2.7M266,1667h2.7M237,1664h2.7M286,1630h2.7M343,1661h2.7M247,1621h2.7M239,1658h2.7M242,1698h2.7M268,1684h2.7M264,1648h2.7M254,1677h2.7M267,1702h2.7M253,1692h2.7M366,1542h2.7M262,1700h2.7M283,1646h2.7M278,1691h2.7M251,1684h2.7M299,1679h2.7M343,1634h2.7M304,1658h2.7M339,1673h2.7M335,1708h2.7M287,1698h2.7M236,1712h2.7M282,1694h2.7M287,1696h2.7M299,1642h2.7M294,1694h2.7M278,1528h2.7M251,1695h2.7M266,1667h2.7M296,1678h2.7M267,1679h2.7M278,1647h2.7M234,1687h2.7M246,1665h2.7M248,1710h2.7M285,1685h2.7M275,1675h2.7M232,1683h2.7M303,1660h2.7M271,1529h2.7M335,1673h2.7M264,1695h2.7M238,1672h2.7M316,1656h2.7M357,1681h2.7M262,1687h2.7M261,1688h2.7M283,1683h2.7M295,1693h2.7M343,1684h2.7M276,1544h2.7M262,1518h2.7M285,1677h2.7M336,1655h2.7M247,1699h2.7M267,1697h2.7M266,1703h2.7M252,1691h2.7M264,1598h2.7M240,1702h2.7M279,1685h2.7M233,1662h2.7M245,1668h2.7M321,1570h2.7M250,1541h2.7M296,1661h2.7M242,1527h2.7M275,1687h2.7M256,1692h2.7M259,1517h2.7M247,1695h2.7M261,1674h2.7M299,1671h2.7M292,1675h2.7M252,1704h2.7M272,1706h2.7M233,1700h2.7M299,1687h2.7M273,1684h2.7M235,1535h2.7M302,1693h2.7M376,1516h2.7M235,1537h2.7M303,1660h2.7M282,1670h2.7M276,1665h2.7M277,1537h2.7M291,1708h2.7M247,1657h2.7M268,1547h2.7M309,1670h2.7M262,1644h2.7M295,1668h2.7M277,1685h2.7M248,1701h2.7M248,1530h2.7M259,1699h2.7M246,1672h2.7M263,1693h2.7M263,1670h2.7M242,1668h2.7M274,1714h2.7M245,1699h2.7M292,1680h2.7M338,1562h2.7M355,1683h2.7M244,1508h2.7M278,1685h2.7M277,1670h2.7M247,1695h2.7M346,1676h2.7M365,1672h2.7M224,1679h2.7M300,1689h2.7M334,1697h2.7M267,1667h2.7M247,1643h2.7M272,1680h2.7M233,1675h2.7M285,1683h2.7M331,1698h2.7M284,1670h2.7M277,1676h2.7" stroke="#f2141c" stroke-width="2.7" opacity="0.38" fill="none"/>
<rect x="216" y="1404.5" width="342" height="313" fill="none" stroke="#7d7d7d" stroke-width="3"/>
<path d="M307.5,1404.5 V1717.5 M216,1632.5 H558" stroke="#444" stroke-width="3" fill="none"/>
<text x="268.4" y="1312.3" font-size="33.6" fill="#222">LNCaP NC</text>
<text x="178" y="1359.6" font-size="25.3" fill="#333">(F1)[A] 01.LMD : FL1 Log/FL3 Log</text>
<text x="153.6" y="1419.6" font-size="33" fill="#2a2a2a">10</text><text x="190.3" y="1410" font-size="22.8" fill="#2a2a2a">3</text>
<text x="153.6" y="1495.8" font-size="33" fill="#2a2a2a">10</text><text x="190.3" y="1486.2" font-size="22.8" fill="#2a2a2a">2</text>
<text x="153.6" y="1578" font-size="33" fill="#2a2a2a">10</text><text x="190.3" y="1568.4" font-size="22.8" fill="#2a2a2a">1</text>
<text x="153.6" y="1645.4" font-size="33" fill="#2a2a2a">10</text><text x="190.3" y="1635.8" font-size="22.8" fill="#2a2a2a">0</text>
<text x="280.9" y="1759.4" font-size="33" fill="#2a2a2a">10</text><text x="317.6" y="1749.8" font-size="22.8" fill="#2a2a2a">0</text>
<text x="365.3" y="1759.4" font-size="33" fill="#2a2a2a">10</text><text x="402" y="1749.8" font-size="22.8" fill="#2a2a2a">1</text>
<text x="453.3" y="1759.4" font-size="33" fill="#2a2a2a">10</text><text x="490" y="1749.8" font-size="22.8" fill="#2a2a2a">2</text>
<text x="520.3" y="1759.4" font-size="33" fill="#2a2a2a">10</text><text x="557" y="1749.8" font-size="22.8" fill="#2a2a2a">3</text>
<text transform="translate(143.5,1540) rotate(-90)" font-size="33" fill="#2a2a2a" text-anchor="middle">PI</text>
<text x="268.4" y="1797" font-size="32.8" fill="#222">Annexin V-FITC</text>
<text x="219.5" y="1426" font-size="22.8" fill="#454545">B1</text>
<text x="231" y="1455" font-size="25.5" fill="#454545">5.6%</text>
<text x="314" y="1426" font-size="22.8" fill="#454545">B2</text>
<text x="322.5" y="1455" font-size="25.5" fill="#454545">0.9%</text>
<text x="219.5" y="1655" font-size="22.8" fill="#454545">B3</text>
<text x="224.5" y="1684" font-size="25.5" fill="#454545">84.0%</text>
<text x="312.3" y="1655" font-size="22.8" fill="#454545">B4</text>
<text x="323.5" y="1684" font-size="25.5" fill="#454545">9.5%</text>
<path d="M699,1695.2 h-4.5 M699,1681.4 h-4.5 M699,1671.6 h-4.5 M699,1664 h-4.5 M699,1657.8 h-4.5 M699,1652.6 h-4.5 M699,1648 h-4.5 M699,1644 h-4.5 M699,1640.4 h-8 M699,1616.8 h-4.5 M699,1603 h-4.5 M699,1593.2 h-4.5 M699,1585.6 h-4.5 M699,1579.4 h-4.5 M699,1574.1 h-4.5 M699,1569.6 h-4.5 M699,1565.5 h-4.5 M699,1562 h-8 M699,1538.3 h-4.5 M699,1524.5 h-4.5 M699,1514.7 h-4.5 M699,1507.1 h-4.5 M699,1500.9 h-4.5 M699,1495.7 h-4.5 M699,1491.1 h-4.5 M699,1487.1 h-4.5 M699,1483.5 h-8 M699,1459.9 h-4.5 M699,1446.1 h-4.5 M699,1436.3 h-4.5 M699,1428.7 h-4.5 M699,1422.5 h-4.5 M699,1417.2 h-4.5 M699,1412.7 h-4.5 M699,1408.6 h-4.5 M722.7,1717 v4.5 M737.8,1717 v4.5 M748.5,1717 v4.5 M756.8,1717 v4.5 M763.5,1717 v4.5 M769.3,1717 v4.5 M774.2,1717 v4.5 M778.6,1717 v4.5 M782.5,1717 v8 M808.2,1717 v4.5 M823.3,1717 v4.5 M834,1717 v4.5 M842.3,1717 v4.5 M849,1717 v4.5 M854.8,1717 v4.5 M859.7,1717 v4.5 M864.1,1717 v4.5 M868,1717 v8 M893.7,1717 v4.5 M908.8,1717 v4.5 M919.5,1717 v4.5 M927.8,1717 v4.5 M934.5,1717 v4.5 M940.3,1717 v4.5 M945.2,1717 v4.5 M949.6,1717 v4.5 M953.5,1717 v8 M979.2,1717 v4.5 M994.3,1717 v4.5 M1005,1717 v4.5 M1013.3,1717 v4.5 M1020,1717 v4.5 M1025.8,1717 v4.5 M1030.7,1717 v4.5 M1035.1,1717 v4.5 M1039,1717 v8 M699,1405 h-8" stroke="#999" stroke-width="1.8" fill="none"/>
<clipPath id="c22"><rect x="700.5" y="1406.5" width="337" height="309"/></clipPath>
<g clip-path="url(#c22)">
<ellipse cx="748" cy="1688" rx="52" ry="36" fill="url(#rb)" opacity="0.4"/>
<ellipse cx="828" cy="1686" rx="50" ry="32" fill="url(#rb)" opacity="0.2"/>
<ellipse cx="830" cy="1532" rx="50" ry="20" fill="url(#rb)" opacity="0.1"/>
</g>
<path d="M789,1526h2.7M803,1540h2.7M852,1524h2.7M748,1697h2.7M815,1671h2.7M770,1676h2.7M858,1675h2.7M857,1680h2.7M813,1683h2.7M707,1652h2.7M850,1600h2.7M802,1518h2.7M787,1507h2.7M866,1542h2.7M745,1690h2.7M764,1671h2.7M735,1522h2.7M717,1668h2.7M867,1535h2.7M832,1534h2.7M755,1655h2.7M769,1668h2.7M882,1666h2.7M742,1712h2.7M738,1708h2.7M732,1682h2.7M764,1692h2.7M835,1590h2.7M752,1707h2.7M865,1554h2.7M780,1527h2.7M820,1680h2.7M865,1547h2.7M765,1678h2.7M773,1532h2.7M742,1535h2.7M808,1711h2.7M856,1571h2.7M842,1580h2.7M766,1677h2.7M836,1518h2.7M741,1660h2.7M811,1542h2.7M770,1697h2.7M803,1705h2.7M725,1700h2.7M821,1529h2.7M799,1539h2.7M724,1703h2.7M843,1549h2.7M844,1511h2.7M734,1668h2.7M812,1670h2.7M729,1677h2.7M823,1662h2.7M857,1519h2.7M875,1544h2.7M831,1530h2.7M795,1507h2.7M728,1527h2.7M732,1712h2.7M881,1557h2.7M861,1661h2.7M755,1531h2.7M903,1696h2.7M902,1545h2.7M760,1673h2.7M851,1696h2.7M724,1708h2.7M876,1518h2.7M821,1663h2.7M730,1535h2.7M829,1529h2.7M728,1708h2.7M754,1669h2.7M761,1559h2.7M767,1692h2.7M781,1539h2.7M758,1681h2.7M741,1508h2.7M814,1554h2.7M850,1663h2.7M735,1712h2.7M751,1686h2.7M721,1658h2.7M861,1666h2.7M748,1669h2.7M723,1531h2.7M774,1681h2.7M860,1656h2.7M840,1530h2.7M792,1695h2.7M731,1692h2.7M724,1558h2.7M763,1685h2.7M748,1683h2.7M775,1680h2.7M834,1546h2.7M792,1691h2.7M742,1516h2.7M759,1706h2.7M829,1700h2.7M797,1680h2.7M835,1539h2.7M792,1541h2.7M833,1698h2.7M808,1666h2.7M811,1591h2.7M750,1694h2.7M784,1685h2.7M722,1680h2.7M849,1617h2.7M809,1526h2.7M792,1533h2.7M801,1682h2.7M853,1528h2.7M740,1689h2.7M814,1693h2.7M880,1547h2.7M743,1713h2.7M763,1693h2.7M765,1670h2.7M789,1533h2.7M739,1669h2.7M792,1505h2.7M840,1702h2.7M736,1525h2.7M743,1530h2.7M848,1676h2.7M838,1521h2.7M750,1662h2.7M841,1707h2.7M745,1694h2.7M787,1698h2.7M803,1667h2.7M736,1680h2.7M839,1520h2.7M865,1544h2.7M834,1574h2.7M748,1679h2.7M848,1684h2.7M724,1690h2.7M820,1689h2.7M730,1671h2.7M732,1669h2.7M743,1712h2.7M864,1527h2.7M855,1709h2.7M854,1506h2.7M768,1712h2.7M792,1539h2.7M778,1528h2.7M780,1538h2.7M740,1698h2.7M819,1679h2.7M847,1548h2.7M750,1680h2.7M811,1697h2.7M800,1689h2.7M845,1675h2.7M719,1675h2.7M770,1678h2.7M832,1690h2.7M710,1652h2.7M732,1707h2.7M734,1683h2.7M868,1520h2.7M820,1557h2.7M842,1695h2.7M841,1559h2.7M865,1593h2.7M737,1532h2.7M719,1678h2.7M750,1686h2.7M850,1540h2.7M842,1671h2.7M855,1531h2.7M861,1664h2.7M814,1521h2.7M739,1693h2.7M770,1684h2.7M771,1676h2.7M769,1689h2.7M850,1601h2.7M846,1714h2.7M727,1680h2.7M818,1556h2.7M831,1662h2.7M782,1554h2.7M750,1656h2.7M844,1680h2.7M817,1603h2.7M844,1541h2.7M824,1696h2.7M727,1693h2.7M807,1615h2.7M812,1689h2.7M753,1683h2.7M761,1669h2.7M855,1561h2.7M821,1536h2.7M844,1537h2.7M880,1515h2.7M797,1694h2.7M793,1671h2.7M818,1695h2.7M784,1701h2.7M736,1691h2.7M830,1683h2.7M804,1541h2.7M857,1680h2.7M712,1667h2.7M745,1658h2.7M882,1529h2.7M816,1693h2.7M727,1704h2.7M750,1541h2.7M851,1677h2.7M816,1581h2.7M841,1695h2.7M723,1674h2.7M821,1549h2.7M838,1537h2.7M818,1543h2.7M760,1530h2.7M810,1600h2.7M866,1546h2.7M794,1678h2.7M845,1681h2.7M744,1684h2.7M820,1598h2.7M761,1699h2.7M725,1704h2.7M813,1507h2.7M833,1685h2.7M825,1516h2.7M841,1611h2.7M823,1520h2.7M777,1689h2.7M770,1690h2.7M832,1672h2.7M745,1528h2.7M779,1542h2.7M870,1671h2.7M801,1688h2.7M785,1494h2.7M822,1675h2.7M738,1658h2.7M839,1678h2.7M766,1667h2.7M784,1698h2.7M765,1695h2.7M767,1524h2.7M858,1591h2.7M732,1554h2.7M740,1681h2.7M787,1505h2.7M840,1668h2.7M833,1523h2.7M833,1579h2.7M741,1537h2.7M846,1681h2.7M744,1707h2.7M757,1539h2.7M774,1676h2.7M863,1518h2.7M755,1680h2.7M812,1563h2.7M739,1700h2.7M870,1684h2.7M774,1703h2.7M789,1677h2.7M884,1511h2.7M827,1526h2.7M825,1577h2.7M846,1533h2.7M810,1525h2.7M831,1528h2.7M794,1525h2.7M783,1681h2.7M789,1531h2.7M799,1671h2.7M815,1648h2.7M830,1651h2.7M834,1586h2.7M862,1539h2.7M822,1669h2.7M842,1678h2.7M806,1538h2.7M826,1530h2.7M797,1664h2.7M828,1513h2.7M820,1532h2.7M742,1680h2.7M747,1708h2.7M817,1694h2.7M851,1658h2.7M851,1658h2.7M824,1526h2.7M747,1678h2.7M770,1540h2.7M735,1680h2.7M843,1689h2.7M743,1695h2.7M790,1697h2.7M804,1713h2.7M821,1637h2.7M753,1690h2.7M807,1630h2.7M778,1558h2.7M860,1516h2.7M776,1531h2.7M729,1537h2.7M864,1521h2.7M770,1540h2.7M763,1640h2.7M830,1703h2.7M750,1697h2.7M825,1543h2.7M788,1677h2.7M768,1688h2.7M749,1539h2.7M768,1649h2.7M814,1682h2.7M872,1681h2.7M856,1685h2.7M790,1548h2.7M756,1698h2.7M751,1697h2.7M863,1709h2.7M858,1694h2.7M744,1677h2.7M877,1608h2.7M728,1687h2.7M781,1645h2.7M834,1547h2.7M714,1669h2.7M746,1703h2.7M799,1665h2.7M888,1602h2.7M772,1529h2.7M853,1519h2.7M862,1539h2.7M744,1677h2.7M814,1515h2.7M846,1622h2.7M851,1543h2.7M747,1698h2.7M716,1707h2.7M884,1584h2.7M810,1520h2.7M752,1698h2.7M839,1670h2.7M782,1713h2.7M773,1522h2.7M749,1689h2.7M842,1509h2.7M840,1614h2.7M721,1679h2.7M741,1524h2.7M852,1533h2.7M833,1541h2.7M814,1674h2.7M736,1707h2.7M784,1533h2.7M718,1654h2.7M800,1704h2.7M844,1518h2.7M808,1548h2.7M841,1663h2.7M755,1657h2.7M719,1536h2.7M760,1695h2.7M818,1536h2.7M805,1537h2.7M740,1666h2.7M831,1606h2.7M848,1601h2.7M830,1706h2.7M849,1590h2.7M727,1693h2.7M762,1660h2.7M825,1669h2.7M778,1652h2.7M810,1668h2.7M843,1672h2.7M744,1673h2.7M771,1701h2.7M808,1509h2.7M843,1592h2.7M776,1701h2.7M837,1535h2.7M805,1691h2.7M733,1657h2.7M722,1658h2.7M792,1507h2.7M731,1696h2.7M786,1509h2.7M757,1550h2.7M810,1691h2.7M804,1697h2.7M756,1686h2.7M762,1707h2.7M815,1675h2.7M727,1672h2.7M760,1688h2.7M837,1534h2.7M783,1527h2.7M754,1673h2.7M744,1688h2.7M831,1699h2.7M833,1657h2.7M741,1695h2.7M776,1685h2.7M858,1664h2.7M850,1516h2.7M752,1687h2.7M837,1663h2.7M833,1517h2.7M745,1679h2.7M771,1527h2.7M722,1713h2.7M761,1673h2.7M806,1642h2.7M702,1703h2.7M736,1683h2.7M783,1523h2.7M823,1669h2.7M785,1509h2.7M755,1639h2.7M789,1688h2.7M757,1703h2.7M781,1698h2.7M818,1521h2.7M851,1534h2.7M819,1661h2.7M768,1505h2.7M721,1651h2.7M731,1703h2.7M820,1658h2.7M845,1698h2.7M874,1543h2.7" stroke="#f2141c" stroke-width="2.7" opacity="0.38" fill="none"/>
<path d="M777,1694h2.7M727,1506h2.7M826,1703h2.7M750,1694h2.7M741,1678h2.7M781,1529h2.7M735,1675h2.7M839,1665h2.7M754,1522h2.7M768,1698h2.7M811,1697h2.7M703,1712h2.7M839,1516h2.7M742,1681h2.7M838,1659h2.7M864,1692h2.7M742,1683h2.7M769,1667h2.7M834,1540h2.7M870,1662h2.7M825,1586h2.7M742,1684h2.7M815,1518h2.7M744,1711h2.7M864,1674h2.7M823,1543h2.7M813,1695h2.7M820,1506h2.7M760,1689h2.7M838,1543h2.7M780,1690h2.7M873,1525h2.7M742,1665h2.7M817,1701h2.7M844,1688h2.7M856,1675h2.7M741,1666h2.7M780,1569h2.7M793,1676h2.7M857,1656h2.7M751,1499h2.7M819,1688h2.7M846,1631h2.7M735,1696h2.7M706,1675h2.7M861,1581h2.7M759,1665h2.7M835,1693h2.7M775,1517h2.7M767,1700h2.7M860,1537h2.7M872,1677h2.7M729,1534h2.7M869,1548h2.7M860,1547h2.7M793,1528h2.7M733,1680h2.7M769,1542h2.7M727,1673h2.7M747,1703h2.7M785,1512h2.7M820,1683h2.7M715,1678h2.7M709,1521h2.7M782,1708h2.7M742,1524h2.7M846,1675h2.7M711,1678h2.7M730,1665h2.7M744,1695h2.7M716,1681h2.7M826,1533h2.7M774,1689h2.7M741,1689h2.7M815,1691h2.7M756,1686h2.7M856,1530h2.7M744,1673h2.7M801,1532h2.7M834,1685h2.7M816,1688h2.7M736,1535h2.7M827,1532h2.7M834,1681h2.7M806,1532h2.7M760,1675h2.7M829,1685h2.7M741,1670h2.7M726,1668h2.7M761,1684h2.7M763,1711h2.7M849,1520h2.7M738,1666h2.7M798,1675h2.7M763,1684h2.7M750,1677h2.7M893,1685h2.7M745,1689h2.7M818,1694h2.7M723,1695h2.7M804,1670h2.7M895,1543h2.7M768,1513h2.7M729,1521h2.7M848,1519h2.7M755,1530h2.7M786,1520h2.7M872,1681h2.7M815,1712h2.7M869,1583h2.7M742,1518h2.7M745,1685h2.7M769,1680h2.7M778,1533h2.7M814,1597h2.7M723,1682h2.7M847,1651h2.7M766,1659h2.7M818,1714h2.7M756,1676h2.7M741,1702h2.7M856,1703h2.7M742,1673h2.7M760,1699h2.7M869,1537h2.7M769,1701h2.7M818,1584h2.7M823,1539h2.7M840,1582h2.7M749,1688h2.7M847,1538h2.7M810,1643h2.7M821,1508h2.7M742,1687h2.7M757,1668h2.7M787,1699h2.7M721,1702h2.7M871,1541h2.7M765,1701h2.7M846,1610h2.7M752,1680h2.7M840,1689h2.7M745,1503h2.7M869,1634h2.7M743,1656h2.7M763,1521h2.7M875,1538h2.7M768,1701h2.7M878,1557h2.7M755,1675h2.7M773,1689h2.7M822,1540h2.7M881,1510h2.7M811,1556h2.7M722,1667h2.7M724,1674h2.7M828,1533h2.7M729,1662h2.7M760,1662h2.7M822,1612h2.7M865,1522h2.7M871,1541h2.7M760,1513h2.7M738,1541h2.7M723,1676h2.7M759,1678h2.7M781,1551h2.7M705,1694h2.7M836,1503h2.7M719,1682h2.7M735,1713h2.7M735,1519h2.7M784,1697h2.7M711,1661h2.7M808,1694h2.7M817,1594h2.7M900,1530h2.7M811,1532h2.7M740,1652h2.7M802,1538h2.7M799,1700h2.7M827,1531h2.7M866,1546h2.7M743,1707h2.7M811,1676h2.7M881,1668h2.7M821,1528h2.7M740,1667h2.7M835,1674h2.7M818,1669h2.7M831,1693h2.7M773,1688h2.7M744,1707h2.7M849,1697h2.7M771,1678h2.7M863,1515h2.7M737,1702h2.7M828,1531h2.7M756,1682h2.7M818,1679h2.7M866,1542h2.7M738,1692h2.7M774,1691h2.7M838,1514h2.7M795,1548h2.7M749,1676h2.7M865,1700h2.7M876,1523h2.7M813,1705h2.7M758,1708h2.7M886,1513h2.7M757,1682h2.7M874,1598h2.7M765,1662h2.7M774,1661h2.7M738,1670h2.7M759,1692h2.7M886,1674h2.7M794,1540h2.7M842,1680h2.7M861,1526h2.7M780,1694h2.7M733,1662h2.7M839,1676h2.7M738,1528h2.7M789,1713h2.7M867,1544h2.7M795,1521h2.7M764,1698h2.7M843,1570h2.7M777,1695h2.7M748,1669h2.7M875,1540h2.7M752,1705h2.7M845,1556h2.7M848,1528h2.7M873,1698h2.7M883,1538h2.7M817,1658h2.7M869,1702h2.7M749,1676h2.7M854,1656h2.7M769,1697h2.7M717,1713h2.7M843,1552h2.7M850,1701h2.7M815,1695h2.7M757,1674h2.7M855,1528h2.7M773,1684h2.7M791,1690h2.7M772,1705h2.7M845,1545h2.7M722,1687h2.7M718,1689h2.7M808,1692h2.7M827,1587h2.7M789,1520h2.7M835,1674h2.7M873,1692h2.7M855,1681h2.7M770,1673h2.7M717,1541h2.7M719,1688h2.7M785,1675h2.7M749,1685h2.7M712,1694h2.7M765,1704h2.7M713,1523h2.7M800,1659h2.7M713,1686h2.7M762,1663h2.7M783,1687h2.7M771,1521h2.7M789,1674h2.7M800,1653h2.7M826,1526h2.7M783,1531h2.7M743,1684h2.7M836,1544h2.7M836,1609h2.7M731,1679h2.7M822,1653h2.7M870,1711h2.7M777,1504h2.7M770,1515h2.7M826,1645h2.7M860,1511h2.7M852,1538h2.7M757,1515h2.7M816,1707h2.7M807,1670h2.7M792,1698h2.7M749,1683h2.7M774,1672h2.7M874,1693h2.7M749,1713h2.7M831,1698h2.7M792,1510h2.7M867,1542h2.7M796,1527h2.7M738,1647h2.7M868,1680h2.7M823,1559h2.7M859,1672h2.7M811,1519h2.7M884,1676h2.7M836,1607h2.7M806,1540h2.7M711,1668h2.7M866,1632h2.7M767,1516h2.7M736,1695h2.7M772,1530h2.7M740,1680h2.7M814,1669h2.7M702,1681h2.7M731,1535h2.7M750,1665h2.7M810,1663h2.7M826,1667h2.7M768,1666h2.7M742,1538h2.7M714,1547h2.7M871,1679h2.7M760,1508h2.7M783,1708h2.7M799,1679h2.7M764,1511h2.7M771,1524h2.7M713,1684h2.7M836,1636h2.7M854,1692h2.7M862,1635h2.7M745,1657h2.7M866,1571h2.7M872,1538h2.7M758,1511h2.7M777,1530h2.7M744,1681h2.7M724,1686h2.7M769,1528h2.7M752,1683h2.7M868,1545h2.7M767,1686h2.7M766,1681h2.7M831,1517h2.7M764,1686h2.7M756,1679h2.7M738,1690h2.7M753,1681h2.7M823,1507h2.7M857,1524h2.7M710,1528h2.7M745,1690h2.7M738,1680h2.7M846,1536h2.7M757,1696h2.7M773,1513h2.7M709,1639h2.7M849,1682h2.7M847,1535h2.7M763,1696h2.7M785,1532h2.7M838,1681h2.7M761,1516h2.7M795,1688h2.7M760,1698h2.7M759,1677h2.7M759,1654h2.7M793,1671h2.7M709,1672h2.7M750,1710h2.7M753,1528h2.7M749,1668h2.7M726,1664h2.7M803,1530h2.7M716,1669h2.7M869,1536h2.7M718,1538h2.7M794,1661h2.7M766,1676h2.7M769,1661h2.7M769,1536h2.7M742,1529h2.7M752,1671h2.7M741,1699h2.7M809,1512h2.7M863,1521h2.7M707,1662h2.7M833,1677h2.7M748,1659h2.7M772,1659h2.7M773,1547h2.7M837,1678h2.7M883,1527h2.7M753,1712h2.7M808,1706h2.7M756,1678h2.7M827,1672h2.7M740,1711h2.7M759,1678h2.7M892,1530h2.7M731,1699h2.7M773,1695h2.7M730,1511h2.7M844,1508h2.7M744,1500h2.7M808,1672h2.7M760,1693h2.7M811,1516h2.7M825,1521h2.7M840,1543h2.7M858,1677h2.7M838,1694h2.7M715,1688h2.7M820,1650h2.7M846,1649h2.7M728,1694h2.7M749,1683h2.7M841,1628h2.7M809,1513h2.7M770,1686h2.7M828,1687h2.7M873,1592h2.7M799,1577h2.7M730,1681h2.7M781,1690h2.7M869,1543h2.7M770,1679h2.7M723,1669h2.7M853,1518h2.7M839,1692h2.7M742,1690h2.7M818,1536h2.7M838,1531h2.7M797,1679h2.7M743,1695h2.7M819,1611h2.7M867,1530h2.7M743,1699h2.7M842,1519h2.7" stroke="#f2141c" stroke-width="2.7" opacity="0.38" fill="none"/>
<path d="M771,1520h2.7M858,1604h2.7M758,1671h2.7M824,1624h2.7M843,1662h2.7M867,1520h2.7M734,1679h2.7M792,1632h2.7M816,1587h2.7M876,1537h2.7M868,1538h2.7M831,1541h2.7M799,1504h2.7M814,1689h2.7M867,1542h2.7M818,1603h2.7M814,1693h2.7M735,1680h2.7M859,1681h2.7M798,1516h2.7M833,1525h2.7M764,1683h2.7M726,1688h2.7M729,1698h2.7M756,1679h2.7M851,1704h2.7M879,1528h2.7M778,1686h2.7M814,1681h2.7M818,1679h2.7M881,1676h2.7M815,1547h2.7M850,1705h2.7M859,1523h2.7M737,1510h2.7M756,1672h2.7M755,1666h2.7M790,1548h2.7M843,1562h2.7M815,1677h2.7M755,1704h2.7M795,1533h2.7M834,1692h2.7M728,1700h2.7M784,1678h2.7M734,1537h2.7M809,1505h2.7M773,1667h2.7M783,1603h2.7M847,1501h2.7M798,1688h2.7M903,1531h2.7M815,1699h2.7M734,1693h2.7M792,1702h2.7M823,1537h2.7M758,1670h2.7M851,1532h2.7M835,1697h2.7M799,1512h2.7M770,1681h2.7M850,1693h2.7M757,1667h2.7M808,1701h2.7M830,1554h2.7M759,1666h2.7M852,1538h2.7M904,1526h2.7M777,1537h2.7M840,1522h2.7M730,1675h2.7M841,1619h2.7M830,1667h2.7M852,1652h2.7M748,1700h2.7M801,1528h2.7M769,1509h2.7M851,1540h2.7M725,1688h2.7M756,1521h2.7M757,1675h2.7M779,1594h2.7M898,1691h2.7M757,1712h2.7M738,1680h2.7M821,1660h2.7M725,1672h2.7M816,1654h2.7M783,1666h2.7M832,1682h2.7M731,1689h2.7M814,1678h2.7M740,1685h2.7M837,1521h2.7M802,1688h2.7M831,1661h2.7M778,1686h2.7M764,1686h2.7M720,1676h2.7M729,1668h2.7M835,1593h2.7M774,1680h2.7M757,1679h2.7M846,1657h2.7M865,1583h2.7M752,1671h2.7M848,1620h2.7M872,1543h2.7M842,1607h2.7M843,1530h2.7M760,1687h2.7M751,1663h2.7M800,1526h2.7M821,1556h2.7M756,1702h2.7M768,1677h2.7M729,1681h2.7M828,1593h2.7M805,1671h2.7M734,1693h2.7M748,1683h2.7M818,1697h2.7M823,1706h2.7M772,1685h2.7M761,1665h2.7M790,1524h2.7M812,1539h2.7M745,1684h2.7M742,1662h2.7M838,1691h2.7M752,1690h2.7M819,1655h2.7M777,1699h2.7M799,1698h2.7M853,1659h2.7M820,1703h2.7M752,1665h2.7M829,1701h2.7M761,1668h2.7M848,1653h2.7M759,1673h2.7M826,1683h2.7M846,1602h2.7M780,1559h2.7M818,1643h2.7M772,1707h2.7M756,1654h2.7M834,1656h2.7M733,1692h2.7M853,1532h2.7M843,1673h2.7M857,1504h2.7M832,1667h2.7M799,1682h2.7M784,1674h2.7M859,1674h2.7M879,1687h2.7M827,1665h2.7M912,1676h2.7M815,1675h2.7M839,1675h2.7M838,1667h2.7M790,1704h2.7M869,1691h2.7M752,1703h2.7M830,1690h2.7M757,1677h2.7M805,1536h2.7M723,1713h2.7M855,1512h2.7M861,1524h2.7M822,1528h2.7M854,1524h2.7M736,1693h2.7M771,1668h2.7M838,1588h2.7M756,1678h2.7M797,1680h2.7M825,1575h2.7M859,1513h2.7M779,1685h2.7M859,1662h2.7M774,1523h2.7M855,1535h2.7M738,1702h2.7M708,1713h2.7M833,1540h2.7M849,1557h2.7M741,1648h2.7M715,1706h2.7M761,1704h2.7M851,1660h2.7M745,1676h2.7M764,1516h2.7M768,1665h2.7M785,1524h2.7M804,1681h2.7M737,1699h2.7M767,1681h2.7M792,1673h2.7M760,1706h2.7M771,1662h2.7M781,1696h2.7M845,1659h2.7M876,1530h2.7M755,1644h2.7M824,1673h2.7M786,1539h2.7M819,1663h2.7M834,1543h2.7M734,1690h2.7M822,1543h2.7M751,1671h2.7M847,1679h2.7M801,1524h2.7M837,1542h2.7M784,1700h2.7M866,1684h2.7M836,1693h2.7M735,1662h2.7M748,1676h2.7M752,1664h2.7M712,1662h2.7M782,1678h2.7M721,1672h2.7M831,1639h2.7M742,1701h2.7M832,1538h2.7M871,1541h2.7M761,1653h2.7M737,1647h2.7M752,1674h2.7M839,1519h2.7M773,1679h2.7M880,1528h2.7M876,1526h2.7M794,1677h2.7M791,1656h2.7M846,1585h2.7M817,1530h2.7M744,1690h2.7M761,1711h2.7M818,1690h2.7M860,1534h2.7M777,1658h2.7M736,1543h2.7M806,1622h2.7M733,1670h2.7M828,1521h2.7M848,1522h2.7M746,1695h2.7M709,1690h2.7M871,1669h2.7M889,1673h2.7M848,1529h2.7M852,1523h2.7M787,1710h2.7M820,1681h2.7M809,1692h2.7M774,1674h2.7M850,1688h2.7M798,1682h2.7M864,1670h2.7M750,1526h2.7M757,1694h2.7M881,1617h2.7M758,1690h2.7M756,1662h2.7M769,1529h2.7M849,1564h2.7M817,1494h2.7M772,1700h2.7M746,1669h2.7M724,1683h2.7M759,1670h2.7M829,1498h2.7M789,1555h2.7M719,1668h2.7M830,1581h2.7M854,1538h2.7M735,1690h2.7M728,1685h2.7M778,1550h2.7M747,1695h2.7M786,1697h2.7M756,1678h2.7M760,1712h2.7M708,1706h2.7M725,1682h2.7M748,1679h2.7M770,1649h2.7M855,1658h2.7M864,1534h2.7M858,1683h2.7M855,1653h2.7M748,1708h2.7M834,1551h2.7M861,1525h2.7M881,1674h2.7M741,1710h2.7M826,1699h2.7M812,1540h2.7M856,1503h2.7M832,1585h2.7M848,1652h2.7M865,1538h2.7M886,1681h2.7M736,1694h2.7M763,1699h2.7M836,1693h2.7M748,1671h2.7M748,1533h2.7M776,1700h2.7M766,1658h2.7M794,1622h2.7M714,1686h2.7M826,1689h2.7M840,1702h2.7M751,1520h2.7M815,1582h2.7M749,1531h2.7M853,1521h2.7M759,1671h2.7M809,1691h2.7M740,1544h2.7M751,1543h2.7M889,1526h2.7M739,1681h2.7M758,1708h2.7M753,1537h2.7M729,1699h2.7M710,1694h2.7M825,1507h2.7M766,1711h2.7M863,1687h2.7M740,1684h2.7M821,1529h2.7M724,1699h2.7M765,1668h2.7M779,1681h2.7M778,1683h2.7M818,1695h2.7M717,1531h2.7M856,1516h2.7M797,1527h2.7M819,1682h2.7M722,1703h2.7M805,1544h2.7M733,1671h2.7M838,1595h2.7M777,1526h2.7M831,1642h2.7M797,1660h2.7M834,1704h2.7M828,1693h2.7M816,1592h2.7M816,1512h2.7M884,1687h2.7M822,1521h2.7M807,1648h2.7M751,1517h2.7M722,1693h2.7M713,1697h2.7M802,1690h2.7M862,1671h2.7M748,1688h2.7M807,1704h2.7M821,1612h2.7M790,1675h2.7M872,1538h2.7M798,1544h2.7M832,1688h2.7M870,1545h2.7M771,1700h2.7M868,1544h2.7M838,1680h2.7M767,1681h2.7M730,1711h2.7M829,1584h2.7M788,1704h2.7M744,1698h2.7M811,1683h2.7M719,1683h2.7M775,1655h2.7M732,1544h2.7M789,1700h2.7M858,1541h2.7M848,1538h2.7M827,1539h2.7M708,1660h2.7M751,1678h2.7M847,1654h2.7M871,1541h2.7M809,1583h2.7M778,1680h2.7M828,1543h2.7M735,1695h2.7M860,1586h2.7M757,1694h2.7M744,1663h2.7M766,1688h2.7M873,1680h2.7M824,1613h2.7M858,1533h2.7M811,1651h2.7M831,1664h2.7M767,1663h2.7M828,1668h2.7M851,1524h2.7M776,1531h2.7M754,1681h2.7M812,1639h2.7M845,1516h2.7M761,1687h2.7M814,1532h2.7M829,1689h2.7M783,1607h2.7M831,1698h2.7M724,1698h2.7M744,1514h2.7M814,1648h2.7M724,1542h2.7M770,1685h2.7M737,1506h2.7M878,1683h2.7M718,1688h2.7M740,1679h2.7M736,1669h2.7M765,1601h2.7M882,1516h2.7M810,1699h2.7M865,1663h2.7M757,1693h2.7M825,1643h2.7M762,1695h2.7M740,1678h2.7M779,1654h2.7M844,1672h2.7M865,1684h2.7M791,1579h2.7M852,1521h2.7M858,1556h2.7" stroke="#f2141c" stroke-width="2.7" opacity="0.38" fill="none"/>
<path d="M782,1498h2.7M855,1690h2.7M854,1532h2.7M737,1670h2.7M843,1628h2.7M746,1660h2.7M784,1519h2.7M774,1676h2.7M843,1702h2.7M842,1507h2.7M793,1698h2.7M742,1673h2.7M763,1697h2.7M829,1602h2.7M858,1504h2.7M728,1685h2.7M735,1678h2.7M886,1552h2.7M909,1664h2.7M822,1652h2.7M807,1516h2.7M804,1691h2.7M871,1540h2.7M806,1515h2.7M834,1672h2.7M710,1658h2.7M817,1533h2.7M774,1695h2.7M841,1683h2.7M784,1694h2.7M827,1701h2.7M837,1675h2.7M820,1701h2.7M741,1534h2.7M759,1679h2.7M856,1659h2.7M776,1690h2.7M864,1590h2.7M766,1671h2.7M913,1682h2.7M752,1699h2.7M798,1696h2.7M750,1654h2.7M772,1684h2.7M737,1683h2.7M718,1695h2.7M829,1498h2.7M848,1697h2.7M744,1696h2.7M911,1512h2.7M847,1528h2.7M809,1701h2.7M827,1530h2.7M906,1560h2.7M767,1701h2.7M772,1685h2.7M783,1688h2.7M784,1664h2.7M798,1519h2.7M770,1522h2.7M920,1544h2.7M840,1695h2.7M847,1682h2.7M844,1709h2.7M727,1698h2.7M746,1687h2.7M796,1713h2.7M819,1674h2.7M837,1640h2.7M747,1707h2.7M853,1674h2.7M839,1528h2.7M725,1533h2.7M768,1678h2.7M724,1683h2.7M762,1515h2.7M786,1641h2.7M836,1541h2.7M866,1534h2.7M835,1666h2.7M850,1661h2.7M766,1532h2.7M708,1530h2.7M804,1686h2.7M773,1676h2.7M822,1614h2.7M810,1539h2.7M744,1512h2.7M768,1692h2.7M737,1712h2.7M849,1520h2.7M792,1696h2.7M777,1713h2.7M757,1667h2.7M827,1703h2.7M769,1690h2.7M893,1537h2.7M719,1660h2.7M842,1670h2.7M790,1694h2.7M808,1696h2.7M762,1685h2.7M850,1703h2.7M844,1691h2.7M772,1685h2.7M834,1512h2.7M898,1518h2.7M811,1691h2.7M800,1627h2.7M823,1671h2.7M735,1672h2.7M795,1686h2.7M865,1540h2.7M836,1540h2.7M765,1512h2.7M812,1549h2.7M759,1692h2.7M748,1692h2.7M824,1677h2.7M825,1667h2.7M790,1678h2.7M828,1678h2.7M727,1681h2.7M787,1713h2.7M842,1667h2.7M837,1537h2.7M714,1521h2.7M798,1529h2.7M802,1521h2.7M730,1682h2.7M812,1697h2.7M732,1669h2.7M723,1663h2.7M748,1677h2.7M747,1704h2.7M809,1684h2.7M735,1690h2.7M730,1673h2.7M771,1545h2.7M762,1673h2.7M826,1527h2.7M835,1693h2.7M850,1550h2.7M814,1695h2.7M852,1685h2.7M763,1672h2.7M845,1616h2.7M809,1535h2.7M769,1677h2.7M719,1655h2.7M863,1544h2.7M825,1520h2.7M731,1690h2.7M768,1532h2.7M859,1677h2.7M860,1527h2.7M821,1676h2.7M775,1539h2.7M793,1679h2.7M794,1530h2.7M848,1694h2.7M838,1510h2.7M821,1609h2.7M789,1698h2.7M813,1697h2.7M810,1692h2.7M745,1683h2.7M745,1675h2.7M780,1683h2.7M789,1512h2.7M840,1546h2.7M816,1673h2.7M731,1655h2.7M813,1503h2.7M741,1702h2.7M828,1677h2.7M816,1671h2.7M834,1653h2.7M736,1695h2.7M713,1700h2.7M840,1697h2.7M880,1556h2.7M747,1675h2.7M822,1646h2.7M751,1683h2.7M716,1496h2.7M726,1669h2.7M822,1684h2.7M780,1595h2.7M841,1630h2.7M832,1578h2.7M815,1617h2.7M777,1700h2.7M841,1686h2.7M826,1684h2.7M733,1678h2.7M773,1691h2.7M718,1664h2.7M783,1690h2.7M747,1677h2.7M809,1523h2.7M720,1647h2.7M864,1681h2.7M728,1688h2.7M753,1548h2.7M733,1541h2.7M743,1674h2.7M850,1658h2.7M793,1692h2.7M860,1689h2.7M862,1523h2.7M714,1681h2.7M813,1695h2.7M857,1511h2.7M832,1611h2.7M817,1633h2.7M816,1676h2.7M870,1542h2.7M766,1676h2.7M712,1712h2.7M807,1694h2.7M758,1664h2.7M777,1639h2.7M735,1682h2.7M809,1552h2.7M823,1661h2.7M871,1699h2.7M866,1542h2.7M847,1692h2.7M711,1704h2.7M849,1548h2.7M797,1703h2.7M755,1701h2.7M732,1659h2.7M867,1685h2.7M837,1530h2.7M870,1526h2.7M758,1702h2.7M734,1672h2.7M745,1708h2.7M733,1526h2.7M865,1712h2.7M748,1686h2.7M794,1665h2.7M774,1698h2.7M826,1582h2.7M787,1533h2.7M745,1701h2.7M722,1665h2.7M755,1556h2.7M819,1647h2.7M836,1603h2.7M737,1687h2.7M855,1537h2.7M836,1657h2.7M853,1537h2.7M771,1687h2.7M833,1709h2.7M787,1673h2.7M730,1688h2.7M748,1696h2.7M784,1661h2.7M841,1527h2.7M833,1689h2.7M727,1648h2.7M744,1641h2.7M838,1694h2.7M768,1502h2.7M713,1668h2.7M819,1651h2.7M735,1662h2.7M840,1687h2.7M721,1672h2.7M863,1681h2.7M850,1685h2.7M843,1532h2.7M778,1666h2.7M855,1694h2.7M805,1597h2.7M765,1704h2.7M784,1674h2.7M888,1522h2.7M807,1556h2.7M815,1679h2.7M831,1628h2.7M862,1600h2.7M808,1529h2.7M852,1606h2.7M870,1533h2.7M740,1660h2.7M750,1683h2.7M765,1680h2.7M836,1540h2.7M785,1532h2.7M728,1666h2.7M783,1685h2.7M814,1694h2.7M751,1681h2.7M711,1669h2.7M886,1533h2.7M859,1560h2.7M802,1597h2.7M718,1672h2.7M733,1692h2.7M880,1523h2.7M888,1594h2.7M765,1555h2.7M759,1668h2.7M845,1612h2.7M751,1690h2.7M805,1676h2.7M798,1557h2.7M796,1499h2.7M776,1515h2.7M724,1671h2.7M781,1683h2.7M802,1700h2.7M855,1681h2.7M839,1609h2.7M772,1703h2.7M854,1541h2.7M835,1687h2.7M732,1696h2.7M850,1521h2.7M711,1705h2.7M758,1540h2.7M787,1689h2.7M734,1667h2.7M736,1695h2.7M839,1539h2.7M793,1535h2.7M820,1617h2.7M808,1597h2.7M777,1670h2.7M838,1667h2.7M850,1665h2.7M764,1681h2.7M816,1530h2.7M783,1518h2.7M864,1687h2.7M747,1668h2.7M739,1694h2.7M819,1696h2.7M873,1533h2.7M846,1586h2.7M859,1538h2.7M761,1685h2.7M764,1689h2.7M868,1692h2.7M740,1680h2.7M763,1529h2.7M869,1661h2.7M776,1685h2.7M739,1691h2.7M823,1532h2.7M862,1537h2.7M738,1672h2.7M886,1675h2.7M792,1652h2.7M762,1692h2.7M841,1519h2.7M758,1668h2.7M715,1685h2.7M847,1545h2.7M737,1698h2.7M741,1525h2.7M742,1663h2.7M769,1681h2.7M786,1619h2.7M888,1684h2.7M760,1675h2.7M751,1673h2.7M843,1528h2.7M770,1702h2.7M761,1677h2.7M818,1513h2.7M811,1601h2.7M718,1710h2.7M824,1515h2.7M848,1685h2.7M815,1704h2.7M769,1688h2.7M834,1526h2.7M734,1696h2.7M820,1648h2.7M743,1658h2.7M762,1687h2.7M728,1679h2.7M760,1666h2.7M792,1548h2.7M732,1713h2.7M725,1693h2.7M815,1711h2.7M819,1696h2.7M744,1660h2.7M734,1679h2.7M714,1705h2.7M714,1669h2.7M842,1620h2.7M873,1544h2.7M786,1711h2.7M867,1569h2.7M783,1709h2.7M811,1513h2.7M805,1621h2.7M728,1704h2.7M868,1538h2.7M707,1711h2.7M740,1691h2.7M770,1679h2.7M816,1549h2.7M739,1708h2.7M745,1696h2.7M722,1655h2.7M745,1684h2.7M785,1703h2.7M799,1526h2.7M748,1660h2.7M756,1681h2.7M738,1671h2.7M764,1680h2.7M885,1668h2.7M805,1584h2.7M757,1512h2.7M816,1699h2.7M785,1675h2.7M826,1514h2.7M808,1543h2.7M736,1713h2.7M730,1691h2.7M833,1539h2.7M834,1664h2.7M788,1684h2.7M726,1535h2.7M752,1525h2.7M738,1686h2.7M802,1528h2.7M779,1687h2.7M849,1554h2.7M761,1687h2.7M882,1700h2.7" stroke="#f2141c" stroke-width="2.7" opacity="0.38" fill="none"/>
<rect x="699" y="1405" width="340" height="312" fill="none" stroke="#7d7d7d" stroke-width="3"/>
<path d="M789,1405 V1717 M699,1628 H1039" stroke="#444" stroke-width="3" fill="none"/>
<text x="744.9" y="1310.4" font-size="33.5" fill="#222">LNCaP QKI si</text>
<text x="685" y="1353" font-size="25.3" fill="#333">(F1)[A] a1.LMD : FL1 Log/FL3 Log</text>
<text x="638.6" y="1419" font-size="33" fill="#2a2a2a">10</text><text x="675.3" y="1409.4" font-size="22.8" fill="#2a2a2a">3</text>
<text x="638.6" y="1496" font-size="33" fill="#2a2a2a">10</text><text x="675.3" y="1486.4" font-size="22.8" fill="#2a2a2a">2</text>
<text x="638.6" y="1576.5" font-size="33" fill="#2a2a2a">10</text><text x="675.3" y="1566.9" font-size="22.8" fill="#2a2a2a">1</text>
<text x="638.6" y="1646" font-size="33" fill="#2a2a2a">10</text><text x="675.3" y="1636.4" font-size="22.8" fill="#2a2a2a">0</text>
<text x="762.7" y="1759" font-size="33" fill="#2a2a2a">10</text><text x="799.4" y="1749.4" font-size="22.8" fill="#2a2a2a">0</text>
<text x="846.3" y="1759" font-size="33" fill="#2a2a2a">10</text><text x="883" y="1749.4" font-size="22.8" fill="#2a2a2a">1</text>
<text x="932.9" y="1759" font-size="33" fill="#2a2a2a">10</text><text x="969.6" y="1749.4" font-size="22.8" fill="#2a2a2a">2</text>
<text x="999.1" y="1759" font-size="33" fill="#2a2a2a">10</text><text x="1035.8" y="1749.4" font-size="22.8" fill="#2a2a2a">3</text>
<text transform="translate(622.6,1542) rotate(-90)" font-size="33" fill="#2a2a2a" text-anchor="middle">PI</text>
<text x="765" y="1797" font-size="32.9" fill="#222">Annexin V-FITC</text>
<text x="701" y="1424" font-size="22.8" fill="#454545">B1</text>
<text x="711.8" y="1446" font-size="25.5" fill="#454545">7.5%</text>
<text x="797" y="1424" font-size="22.8" fill="#454545">B2</text>
<text x="797" y="1446" font-size="25.5" fill="#454545">17.8%</text>
<text x="703" y="1651" font-size="22.8" fill="#454545">B3</text>
<text x="703" y="1671" font-size="25.5" fill="#454545">48.8%</text>
<text x="799" y="1651" font-size="22.8" fill="#454545">B4</text>
<text x="793.7" y="1671" font-size="25.5" fill="#454545">26.0%</text>
<path d="M218,2255.6 h-4.5 M218,2241.7 h-4.5 M218,2231.8 h-4.5 M218,2224.2 h-4.5 M218,2217.9 h-4.5 M218,2212.6 h-4.5 M218,2208.1 h-4.5 M218,2204 h-4.5 M218,2200.4 h-8 M218,2176.6 h-4.5 M218,2162.7 h-4.5 M218,2152.9 h-4.5 M218,2145.2 h-4.5 M218,2139 h-4.5 M218,2133.7 h-4.5 M218,2129.1 h-4.5 M218,2125.1 h-4.5 M218,2121.5 h-8 M218,2097.7 h-4.5 M218,2083.8 h-4.5 M218,2073.9 h-4.5 M218,2066.3 h-4.5 M218,2060 h-4.5 M218,2054.7 h-4.5 M218,2050.2 h-4.5 M218,2046.1 h-4.5 M218,2042.5 h-8 M218,2018.7 h-4.5 M218,2004.8 h-4.5 M218,1995 h-4.5 M218,1987.3 h-4.5 M218,1981.1 h-4.5 M218,1975.8 h-4.5 M218,1971.2 h-4.5 M218,1967.2 h-4.5 M242.1,2277.5 v4.5 M257.4,2277.5 v4.5 M268.2,2277.5 v4.5 M276.6,2277.5 v4.5 M283.5,2277.5 v4.5 M289.3,2277.5 v4.5 M294.3,2277.5 v4.5 M298.8,2277.5 v4.5 M302.8,2277.5 v8 M328.9,2277.5 v4.5 M344.1,2277.5 v4.5 M355,2277.5 v4.5 M363.4,2277.5 v4.5 M370.3,2277.5 v4.5 M376.1,2277.5 v4.5 M381.1,2277.5 v4.5 M385.5,2277.5 v4.5 M389.5,2277.5 v8 M415.6,2277.5 v4.5 M430.9,2277.5 v4.5 M441.7,2277.5 v4.5 M450.1,2277.5 v4.5 M457,2277.5 v4.5 M462.8,2277.5 v4.5 M467.8,2277.5 v4.5 M472.3,2277.5 v4.5 M476.2,2277.5 v8 M502.4,2277.5 v4.5 M517.6,2277.5 v4.5 M528.5,2277.5 v4.5 M536.9,2277.5 v4.5 M543.8,2277.5 v4.5 M549.6,2277.5 v4.5 M554.6,2277.5 v4.5 M559,2277.5 v4.5 M563,2277.5 v8 M218,1963.5 h-8" stroke="#999" stroke-width="1.8" fill="none"/>
<clipPath id="c23"><rect x="219.5" y="1965" width="342" height="311"/></clipPath>
<g clip-path="url(#c23)">
<ellipse cx="260" cy="2243" rx="46" ry="32" fill="url(#rb)" opacity="1"/>
<ellipse cx="322" cy="2240" rx="28" ry="26" fill="url(#rb)" opacity="0.2"/>
</g>
<path d="M360,2120h2.7M327,2238h2.7M291,2242h2.7M351,2135h2.7M227,2241h2.7M277,2228h2.7M264,2263h2.7M299,2222h2.7M320,2241h2.7M307,2263h2.7M258,2239h2.7M251,2233h2.7M300,2180h2.7M364,2137h2.7M270,2226h2.7M242,2217h2.7M256,2238h2.7M256,2222h2.7M265,2244h2.7M253,2261h2.7M258,2208h2.7M269,2228h2.7M262,2238h2.7M271,2187h2.7M312,2222h2.7M224,2240h2.7M252,2232h2.7M282,2250h2.7M289,2244h2.7M241,2246h2.7M278,2211h2.7M224,2271h2.7M232,2245h2.7M246,2224h2.7M345,2256h2.7M289,2248h2.7M259,2198h2.7M248,2230h2.7M250,2250h2.7M276,2207h2.7M294,2241h2.7M335,2252h2.7M329,2269h2.7M278,2205h2.7M267,2202h2.7M286,2269h2.7M278,2247h2.7M346,2219h2.7M276,2267h2.7M264,2229h2.7M265,2265h2.7M223,2212h2.7M229,2235h2.7M258,2201h2.7M226,2222h2.7M289,2232h2.7M263,2249h2.7M286,2220h2.7M268,2259h2.7M266,2233h2.7M262,2233h2.7M253,2216h2.7M227,2155h2.7M249,2220h2.7M236,2236h2.7M240,2237h2.7M248,2215h2.7M282,2257h2.7M280,2244h2.7M253,2221h2.7M250,2258h2.7M252,2232h2.7M252,2232h2.7M239,2205h2.7M287,2238h2.7M263,2258h2.7M236,2210h2.7M273,2196h2.7M257,2235h2.7M267,2253h2.7M271,2225h2.7M280,2254h2.7M249,2249h2.7M245,2240h2.7M237,2241h2.7M247,2230h2.7M298,2224h2.7M283,2215h2.7M271,2254h2.7M310,2213h2.7M262,2232h2.7M259,2239h2.7M248,2224h2.7M252,2260h2.7M286,2210h2.7M254,2225h2.7M340,2244h2.7M264,2262h2.7M245,2212h2.7M277,2207h2.7M268,2267h2.7M256,2232h2.7M248,2263h2.7M298,2249h2.7M290,2247h2.7M254,2267h2.7M249,2247h2.7M255,2249h2.7M225,2241h2.7M254,2146h2.7M263,2264h2.7M352,2235h2.7M286,2255h2.7M228,2250h2.7M299,2205h2.7M254,2240h2.7M238,2234h2.7M342,2237h2.7M287,2162h2.7M260,2218h2.7M265,2229h2.7M253,2257h2.7M253,2147h2.7M263,2245h2.7M245,2246h2.7M230,2245h2.7M243,2272h2.7M264,2241h2.7M261,2249h2.7M268,2132h2.7M259,2249h2.7M336,2151h2.7M230,2218h2.7M263,2178h2.7M257,2256h2.7M230,2260h2.7M237,2222h2.7M244,2248h2.7M288,2252h2.7M241,2198h2.7M327,2214h2.7M325,2228h2.7M257,2223h2.7M346,2165h2.7M293,2253h2.7M260,2228h2.7M275,2219h2.7M271,2252h2.7M280,2215h2.7M239,2224h2.7M263,2224h2.7M226,2174h2.7M246,2245h2.7M277,2229h2.7M311,2231h2.7M270,2245h2.7M283,2216h2.7M270,2244h2.7M233,2243h2.7M285,2257h2.7M332,2234h2.7M234,2237h2.7M282,2242h2.7M244,2263h2.7M325,2234h2.7M252,2223h2.7M358,2249h2.7M288,2238h2.7M336,2169h2.7M241,2246h2.7M249,2241h2.7M222,2240h2.7M283,2208h2.7M251,2256h2.7M262,2247h2.7M283,2247h2.7M391,2103h2.7M377,2148h2.7M275,2242h2.7M248,2235h2.7M240,2223h2.7M261,2232h2.7M282,2250h2.7M378,2150h2.7M250,2235h2.7M256,2244h2.7M265,2237h2.7M296,2237h2.7M296,2230h2.7M225,2246h2.7M250,2240h2.7M242,2215h2.7M250,2219h2.7M251,2216h2.7M247,2243h2.7M287,2230h2.7M238,2238h2.7M258,2262h2.7M247,2262h2.7M287,2228h2.7M220,2240h2.7M378,2145h2.7M288,2195h2.7M228,2246h2.7M241,2260h2.7M259,2218h2.7M257,2232h2.7M247,2230h2.7M277,2241h2.7M321,2154h2.7M278,2227h2.7M245,2242h2.7M224,2236h2.7M258,2223h2.7M244,2245h2.7M250,2238h2.7M308,2250h2.7M247,2247h2.7M248,2243h2.7M249,2241h2.7M301,2226h2.7M233,2205h2.7M331,2215h2.7M279,2245h2.7M283,2236h2.7M266,2232h2.7M256,2229h2.7M239,2263h2.7M278,2243h2.7M275,2248h2.7M262,2260h2.7M221,2213h2.7M260,2237h2.7M261,2241h2.7M284,2153h2.7M254,2241h2.7M304,2194h2.7M244,2255h2.7M277,2231h2.7M333,2139h2.7M249,2238h2.7M271,2223h2.7M367,2241h2.7M296,2213h2.7M266,2258h2.7M283,2224h2.7M342,2120h2.7M291,2228h2.7M276,2190h2.7M314,2218h2.7M233,2223h2.7M227,2206h2.7M304,2270h2.7M248,2222h2.7M307,2271h2.7M343,2132h2.7M284,2245h2.7M250,2242h2.7M261,2225h2.7M231,2255h2.7M276,2247h2.7M282,2249h2.7M303,2244h2.7M276,2231h2.7M296,2234h2.7M288,2230h2.7M269,2258h2.7M244,2162h2.7M360,2239h2.7M280,2249h2.7M271,2220h2.7M242,2250h2.7M328,2235h2.7M255,2234h2.7M229,2220h2.7M267,2230h2.7M249,2226h2.7M269,2209h2.7M269,2219h2.7M259,2232h2.7M292,2226h2.7M232,2127h2.7M326,2204h2.7M331,2192h2.7M285,2234h2.7M274,2230h2.7M260,2250h2.7M239,2265h2.7M246,2249h2.7M252,2234h2.7M380,2226h2.7M275,2256h2.7M275,2241h2.7M295,2236h2.7M340,2238h2.7M251,2240h2.7M253,2257h2.7M260,2250h2.7M229,2226h2.7M279,2244h2.7M243,2233h2.7M304,2271h2.7M235,2213h2.7M342,2215h2.7M276,2184h2.7M296,2211h2.7M273,2263h2.7M277,2234h2.7M232,2237h2.7M254,2260h2.7M264,2244h2.7M267,2259h2.7M334,2248h2.7M307,2249h2.7M292,2250h2.7M241,2229h2.7M267,2219h2.7M247,2238h2.7M238,2250h2.7M259,2245h2.7M250,2272h2.7M278,2226h2.7M263,2249h2.7M254,2240h2.7M376,2169h2.7M234,2234h2.7M254,2246h2.7M272,2255h2.7M284,2226h2.7M254,2224h2.7M267,2253h2.7M348,2225h2.7M240,2253h2.7M240,2229h2.7M314,2211h2.7M253,2235h2.7M257,2258h2.7M240,2215h2.7M249,2240h2.7M370,2235h2.7M276,2267h2.7M243,2256h2.7M244,2237h2.7M291,2229h2.7M276,2259h2.7M282,2210h2.7M376,2236h2.7M280,2244h2.7M230,2222h2.7M244,2245h2.7M244,2252h2.7M294,2211h2.7M248,2236h2.7M253,2218h2.7M266,2246h2.7M285,2217h2.7M238,2226h2.7M293,2215h2.7M282,2237h2.7M273,2238h2.7M279,2194h2.7M253,2228h2.7M240,2222h2.7M249,2263h2.7M248,2241h2.7M279,2258h2.7M236,2216h2.7M250,2246h2.7M256,2240h2.7M247,2221h2.7M366,2177h2.7M287,2257h2.7M281,2146h2.7M245,2258h2.7M362,2243h2.7M270,2255h2.7M246,2245h2.7M277,2257h2.7M239,2228h2.7M291,2242h2.7M349,2174h2.7M280,2133h2.7M259,2258h2.7M282,2251h2.7M257,2259h2.7M278,2247h2.7M251,2236h2.7M279,2220h2.7M230,2223h2.7M326,2242h2.7M261,2233h2.7M272,2224h2.7M254,2221h2.7M267,2233h2.7M231,2239h2.7M325,2274h2.7M261,2262h2.7M236,2233h2.7M249,2269h2.7M265,2220h2.7M296,2242h2.7M260,2229h2.7M274,2241h2.7M222,2250h2.7M298,2204h2.7M271,2214h2.7M254,2259h2.7M256,2249h2.7M256,2236h2.7M276,2241h2.7M241,2272h2.7M346,2219h2.7M289,2140h2.7M394,2226h2.7M226,2247h2.7M270,2159h2.7M274,2244h2.7M316,2256h2.7M236,2263h2.7M331,2237h2.7M273,2262h2.7M262,2261h2.7M236,2222h2.7M285,2210h2.7M267,2249h2.7M270,2248h2.7M235,2246h2.7M258,2261h2.7M238,2264h2.7M275,2228h2.7M362,2228h2.7M330,2268h2.7M271,2226h2.7M269,2214h2.7M230,2222h2.7M295,2248h2.7M256,2150h2.7M310,2249h2.7M261,2229h2.7M279,2252h2.7M314,2235h2.7M267,2226h2.7M261,2222h2.7M343,2242h2.7M262,2244h2.7M263,2230h2.7M224,2241h2.7M237,2221h2.7M246,2223h2.7M254,2245h2.7M284,2230h2.7M259,2159h2.7M242,2244h2.7M244,2232h2.7M241,2245h2.7M245,2234h2.7M266,2234h2.7M278,2242h2.7M245,2239h2.7M251,2242h2.7M239,2233h2.7M235,2234h2.7M260,2236h2.7M267,2259h2.7M251,2241h2.7M301,2142h2.7M247,2261h2.7M260,2223h2.7M258,2245h2.7M319,2218h2.7M250,2260h2.7M359,2207h2.7M255,2242h2.7M257,2250h2.7M267,2235h2.7M266,2248h2.7M363,2239h2.7M237,2262h2.7M247,2248h2.7M250,2246h2.7M286,2229h2.7M274,2235h2.7M258,2243h2.7M257,2268h2.7M304,2220h2.7M274,2212h2.7M287,2254h2.7M383,2245h2.7M277,2161h2.7M257,2269h2.7M246,2224h2.7M291,2221h2.7M261,2217h2.7M300,2248h2.7M257,2269h2.7M237,2233h2.7M283,2228h2.7M250,2211h2.7M244,2208h2.7M263,2207h2.7M262,2253h2.7M271,2197h2.7M297,2223h2.7M235,2253h2.7M285,2220h2.7M249,2272h2.7M286,2212h2.7M238,2236h2.7M318,2255h2.7M273,2128h2.7M223,2261h2.7M384,2269h2.7M289,2243h2.7M311,2201h2.7M359,2238h2.7M256,2233h2.7M294,2228h2.7M267,2249h2.7M345,2157h2.7M287,2256h2.7M291,2250h2.7M272,2256h2.7M246,2248h2.7M224,2247h2.7M258,2265h2.7M242,2265h2.7M272,2245h2.7M275,2253h2.7M310,2232h2.7M239,2236h2.7M309,2219h2.7M270,2227h2.7M257,2265h2.7M271,2250h2.7M222,2239h2.7M266,2225h2.7M268,2255h2.7M259,2250h2.7M280,2096h2.7M245,2262h2.7M227,2235h2.7M258,2244h2.7M247,2259h2.7M269,2234h2.7M238,2209h2.7M305,2244h2.7M238,2239h2.7M309,2207h2.7M273,2226h2.7M267,2197h2.7M281,2250h2.7M260,2238h2.7M275,2229h2.7M227,2247h2.7M253,2236h2.7M246,2234h2.7M271,2235h2.7M328,2210h2.7M256,2254h2.7M266,2243h2.7M286,2252h2.7M296,2230h2.7M271,2258h2.7M351,2249h2.7M320,2221h2.7M264,2238h2.7M285,2155h2.7M259,2217h2.7M220,2240h2.7M268,2240h2.7M268,2156h2.7M234,2249h2.7M247,2215h2.7M256,2250h2.7M266,2238h2.7M226,2214h2.7M256,2229h2.7M340,2154h2.7M307,2264h2.7M256,2246h2.7M272,2238h2.7M383,2230h2.7M352,2160h2.7M289,2262h2.7M220,2224h2.7M277,2233h2.7M239,2247h2.7M230,2251h2.7M248,2228h2.7M234,2216h2.7M348,2234h2.7M285,2267h2.7M258,2205h2.7M271,2227h2.7M231,2257h2.7M251,2240h2.7M257,2257h2.7M365,2106h2.7M243,2230h2.7M387,2265h2.7M278,2264h2.7M377,2246h2.7M248,2257h2.7M381,2228h2.7M284,2227h2.7M266,2245h2.7" stroke="#f2141c" stroke-width="2.7" opacity="0.38" fill="none"/>
<path d="M257,2232h2.7M265,2244h2.7M229,2251h2.7M251,2256h2.7M249,2232h2.7M236,2255h2.7M361,2128h2.7M263,2246h2.7M225,2268h2.7M260,2255h2.7M269,2239h2.7M241,2215h2.7M272,2223h2.7M275,2219h2.7M282,2221h2.7M243,2229h2.7M237,2168h2.7M272,2247h2.7M287,2245h2.7M255,2237h2.7M287,2233h2.7M317,2176h2.7M269,2256h2.7M272,2250h2.7M229,2266h2.7M291,2199h2.7M256,2230h2.7M292,2208h2.7M258,2207h2.7M343,2259h2.7M271,2253h2.7M346,2228h2.7M233,2237h2.7M244,2249h2.7M275,2246h2.7M258,2245h2.7M263,2241h2.7M231,2243h2.7M254,2253h2.7M267,2249h2.7M272,2211h2.7M323,2246h2.7M243,2218h2.7M356,2219h2.7M241,2231h2.7M265,2218h2.7M265,2268h2.7M332,2175h2.7M243,2227h2.7M267,2262h2.7M279,2145h2.7M264,2233h2.7M260,2219h2.7M319,2262h2.7M307,2241h2.7M246,2264h2.7M265,2246h2.7M324,2233h2.7M271,2264h2.7M422,2150h2.7M300,2251h2.7M239,2251h2.7M259,2139h2.7M277,2247h2.7M262,2222h2.7M306,2220h2.7M248,2218h2.7M246,2245h2.7M256,2235h2.7M286,2218h2.7M253,2251h2.7M394,2184h2.7M325,2137h2.7M325,2219h2.7M272,2237h2.7M297,2243h2.7M258,2245h2.7M280,2220h2.7M283,2229h2.7M262,2226h2.7M230,2244h2.7M274,2239h2.7M292,2201h2.7M328,2201h2.7M280,2236h2.7M263,2223h2.7M351,2161h2.7M256,2237h2.7M394,2216h2.7M279,2252h2.7M272,2240h2.7M250,2262h2.7M249,2235h2.7M251,2220h2.7M354,2246h2.7M282,2235h2.7M247,2238h2.7M268,2236h2.7M232,2266h2.7M326,2209h2.7M266,2249h2.7M240,2261h2.7M304,2242h2.7M286,2272h2.7M244,2268h2.7M251,2253h2.7M258,2216h2.7M323,2247h2.7M357,2244h2.7M276,2257h2.7M277,2151h2.7M242,2189h2.7M361,2230h2.7M240,2243h2.7M270,2236h2.7M365,2224h2.7M242,2221h2.7M261,2236h2.7M238,2237h2.7M295,2185h2.7M267,2259h2.7M250,2225h2.7M361,2218h2.7M264,2241h2.7M296,2246h2.7M277,2212h2.7M270,2238h2.7M232,2251h2.7M245,2241h2.7M260,2246h2.7M289,2254h2.7M226,2250h2.7M336,2225h2.7M228,2203h2.7M268,2262h2.7M264,2243h2.7M233,2225h2.7M271,2252h2.7M273,2252h2.7M276,2239h2.7M285,2254h2.7M239,2232h2.7M375,2235h2.7M340,2232h2.7M270,2240h2.7M271,2215h2.7M274,2237h2.7M242,2248h2.7M246,2251h2.7M291,2209h2.7M245,2246h2.7M288,2252h2.7M292,2152h2.7M283,2255h2.7M253,2220h2.7M270,2227h2.7M263,2214h2.7M238,2228h2.7M285,2256h2.7M261,2228h2.7M269,2216h2.7M254,2214h2.7M312,2179h2.7M267,2266h2.7M257,2208h2.7M253,2238h2.7M261,2233h2.7M340,2231h2.7M241,2257h2.7M237,2265h2.7M250,2249h2.7M282,2161h2.7M278,2218h2.7M250,2226h2.7M273,2233h2.7M383,2235h2.7M338,2243h2.7M267,2242h2.7M268,2229h2.7M241,2239h2.7M315,2231h2.7M368,2126h2.7M338,2161h2.7M275,2238h2.7M244,2222h2.7M283,2247h2.7M233,2245h2.7M239,2243h2.7M265,2246h2.7M244,2231h2.7M274,2241h2.7M290,2237h2.7M286,2251h2.7M232,2231h2.7M278,2217h2.7M375,2252h2.7M263,2245h2.7M244,2260h2.7M231,2253h2.7M273,2229h2.7M276,2192h2.7M262,2236h2.7M356,2166h2.7M318,2201h2.7M246,2230h2.7M270,2216h2.7M261,2255h2.7M253,2211h2.7M255,2267h2.7M281,2237h2.7M263,2237h2.7M231,2236h2.7M319,2218h2.7M364,2235h2.7M268,2235h2.7M253,2232h2.7M260,2227h2.7M260,2248h2.7M237,2256h2.7M243,2236h2.7M252,2223h2.7M237,2216h2.7M271,2185h2.7M269,2240h2.7M263,2222h2.7M313,2230h2.7M256,2204h2.7M297,2237h2.7M230,2250h2.7M265,2239h2.7M337,2240h2.7M330,2247h2.7M245,2230h2.7M295,2261h2.7M247,2247h2.7M349,2265h2.7M306,2256h2.7M274,2242h2.7M377,2172h2.7M275,2233h2.7M256,2232h2.7M272,2240h2.7M234,2224h2.7M298,2223h2.7M274,2273h2.7M270,2263h2.7M253,2240h2.7M386,2139h2.7M236,2238h2.7M259,2250h2.7M274,2214h2.7M274,2256h2.7M261,2274h2.7M251,2217h2.7M372,2130h2.7M235,2232h2.7M282,2200h2.7M241,2224h2.7M355,2232h2.7M237,2238h2.7M239,2258h2.7M253,2227h2.7M221,2259h2.7M274,2236h2.7M275,2243h2.7M234,2216h2.7M263,2245h2.7M270,2240h2.7M230,2266h2.7M279,2222h2.7M283,2210h2.7M252,2218h2.7M270,2165h2.7M284,2245h2.7M340,2145h2.7M268,2219h2.7M257,2226h2.7M255,2244h2.7M310,2256h2.7M249,2228h2.7M227,2245h2.7M263,2242h2.7M276,2248h2.7M295,2222h2.7M242,2243h2.7M369,2251h2.7M247,2273h2.7M274,2249h2.7M256,2215h2.7M275,2150h2.7M293,2216h2.7M265,2250h2.7M274,2245h2.7M373,2225h2.7M252,2256h2.7M254,2252h2.7M263,2212h2.7M265,2217h2.7M259,2247h2.7M289,2246h2.7M259,2143h2.7M220,2265h2.7M264,2238h2.7M336,2180h2.7M314,2153h2.7M234,2243h2.7M297,2246h2.7M227,2137h2.7M350,2254h2.7M260,2267h2.7M343,2246h2.7M248,2214h2.7M230,2220h2.7M244,2255h2.7M352,2227h2.7M275,2252h2.7M226,2245h2.7M245,2227h2.7M246,2253h2.7M285,2254h2.7M257,2250h2.7M280,2259h2.7M273,2260h2.7M256,2214h2.7M273,2167h2.7M256,2241h2.7M259,2246h2.7M355,2225h2.7M228,2227h2.7M349,2243h2.7M252,2235h2.7M375,2254h2.7M234,2259h2.7M250,2220h2.7M259,2237h2.7M265,2264h2.7M276,2262h2.7M379,2259h2.7M341,2259h2.7M255,2235h2.7M275,2238h2.7M287,2268h2.7M274,2234h2.7M300,2233h2.7M303,2230h2.7M247,2234h2.7M292,2242h2.7M265,2256h2.7M295,2240h2.7M274,2232h2.7M268,2221h2.7M227,2210h2.7M253,2238h2.7M362,2239h2.7M280,2249h2.7M248,2260h2.7M272,2231h2.7M250,2237h2.7M246,2261h2.7M248,2165h2.7M332,2244h2.7M273,2252h2.7M243,2239h2.7M273,2216h2.7M312,2265h2.7M274,2223h2.7M308,2144h2.7M255,2227h2.7M247,2213h2.7M264,2245h2.7M340,2250h2.7M299,2240h2.7M385,2224h2.7M264,2244h2.7M280,2213h2.7M266,2249h2.7M265,2226h2.7M258,2255h2.7M298,2263h2.7M279,2235h2.7M336,2258h2.7M227,2244h2.7M236,2242h2.7M246,2215h2.7M276,2241h2.7M285,2156h2.7M258,2237h2.7M234,2235h2.7M276,2233h2.7M267,2219h2.7M254,2228h2.7M290,2250h2.7M224,2254h2.7M276,2270h2.7M260,2254h2.7M244,2192h2.7M258,2239h2.7M267,2210h2.7M305,2269h2.7M253,2214h2.7M262,2239h2.7M333,2217h2.7M283,2241h2.7M371,2115h2.7M310,2237h2.7M256,2219h2.7M261,2236h2.7M314,2260h2.7M251,2217h2.7M242,2245h2.7M230,2252h2.7M373,2233h2.7M233,2243h2.7M356,2247h2.7M273,2222h2.7M228,2248h2.7M308,2177h2.7M340,2249h2.7M267,2221h2.7M232,2246h2.7M266,2238h2.7M275,2241h2.7M273,2193h2.7M239,2259h2.7M254,2241h2.7M325,2220h2.7M358,2240h2.7M227,2247h2.7M292,2248h2.7M252,2239h2.7M389,2233h2.7M235,2200h2.7M266,2262h2.7M254,2247h2.7M255,2233h2.7M251,2219h2.7M263,2257h2.7M253,2247h2.7M249,2245h2.7M233,2215h2.7M299,2210h2.7M256,2236h2.7M267,2221h2.7M308,2238h2.7M296,2242h2.7M248,2234h2.7M365,2239h2.7M294,2240h2.7M254,2229h2.7M259,2233h2.7M264,2248h2.7M285,2224h2.7M270,2222h2.7M260,2254h2.7M274,2170h2.7M241,2241h2.7M300,2237h2.7M267,2222h2.7M262,2245h2.7M384,2152h2.7M257,2244h2.7M255,2233h2.7M226,2238h2.7M277,2227h2.7M270,2239h2.7M220,2256h2.7M285,2234h2.7M230,2265h2.7M272,2227h2.7M245,2232h2.7M313,2218h2.7M273,2257h2.7M240,2243h2.7M370,2204h2.7M277,2233h2.7M263,2217h2.7M247,2230h2.7M288,2244h2.7M236,2257h2.7M284,2146h2.7M276,2178h2.7M228,2254h2.7M279,2216h2.7M276,2218h2.7M263,2218h2.7M292,2129h2.7M275,2241h2.7M248,2233h2.7M247,2256h2.7M245,2219h2.7M227,2225h2.7M273,2213h2.7M246,2224h2.7M286,2242h2.7M266,2233h2.7M273,2274h2.7M258,2236h2.7M255,2122h2.7M267,2248h2.7M243,2221h2.7M268,2233h2.7M260,2227h2.7M230,2236h2.7M266,2244h2.7M240,2240h2.7M285,2246h2.7M261,2250h2.7M265,2252h2.7M279,2251h2.7M221,2239h2.7M259,2251h2.7M229,2244h2.7M323,2247h2.7M272,2155h2.7M252,2255h2.7M231,2244h2.7M273,2204h2.7M262,2222h2.7M271,2256h2.7M272,2249h2.7M260,2230h2.7M267,2242h2.7M266,2213h2.7M265,2229h2.7M264,2269h2.7M366,2148h2.7M273,2265h2.7M269,2148h2.7M250,2235h2.7M310,2251h2.7M260,2249h2.7M241,2249h2.7M242,2248h2.7M278,2234h2.7M230,2218h2.7M236,2267h2.7M240,2240h2.7M268,2234h2.7M270,2243h2.7M251,2219h2.7M300,2249h2.7M318,2224h2.7M317,2240h2.7M281,2250h2.7M274,2238h2.7M324,2237h2.7M256,2238h2.7M268,2244h2.7M255,2208h2.7M259,2256h2.7M274,2241h2.7M239,2238h2.7M247,2149h2.7M241,2221h2.7M344,2250h2.7M264,2241h2.7M253,2268h2.7M248,2254h2.7M311,2263h2.7M254,2237h2.7M234,2238h2.7M259,2225h2.7M393,2213h2.7M305,2223h2.7M236,2248h2.7M284,2188h2.7M243,2202h2.7M256,2245h2.7M288,2254h2.7M232,2261h2.7M252,2167h2.7M277,2153h2.7M278,2103h2.7M258,2262h2.7M271,2257h2.7M250,2228h2.7M234,2242h2.7M362,2246h2.7M277,2257h2.7M236,2254h2.7M292,2205h2.7M254,2247h2.7M282,2248h2.7M309,2235h2.7M237,2228h2.7M234,2238h2.7M238,2221h2.7M264,2220h2.7M262,2257h2.7M232,2228h2.7M376,2204h2.7M278,2246h2.7M282,2168h2.7M276,2264h2.7M238,2222h2.7M233,2246h2.7M328,2228h2.7M264,2263h2.7M350,2213h2.7M221,2249h2.7M245,2242h2.7M268,2237h2.7M333,2156h2.7M269,2230h2.7M263,2225h2.7M310,2230h2.7" stroke="#f2141c" stroke-width="2.7" opacity="0.38" fill="none"/>
<path d="M279,2124h2.7M246,2238h2.7M274,2212h2.7M249,2247h2.7M268,2248h2.7M254,2240h2.7M280,2212h2.7M228,2214h2.7M258,2197h2.7M257,2224h2.7M268,2234h2.7M245,2252h2.7M264,2241h2.7M240,2236h2.7M368,2212h2.7M265,2249h2.7M286,2257h2.7M246,2253h2.7M223,2242h2.7M260,2213h2.7M220,2242h2.7M286,2235h2.7M239,2186h2.7M323,2243h2.7M229,2202h2.7M266,2239h2.7M240,2218h2.7M234,2244h2.7M301,2212h2.7M260,2236h2.7M250,2257h2.7M265,2225h2.7M261,2236h2.7M290,2248h2.7M373,2243h2.7M267,2204h2.7M250,2211h2.7M221,2241h2.7M270,2249h2.7M377,2129h2.7M265,2221h2.7M270,2213h2.7M265,2206h2.7M287,2259h2.7M338,2240h2.7M241,2235h2.7M261,2248h2.7M281,2231h2.7M290,2255h2.7M268,2272h2.7M282,2252h2.7M350,2230h2.7M346,2243h2.7M262,2254h2.7M288,2232h2.7M231,2233h2.7M286,2216h2.7M257,2241h2.7M276,2160h2.7M264,2214h2.7M297,2227h2.7M287,2255h2.7M282,2251h2.7M245,2228h2.7M238,2244h2.7M369,2119h2.7M237,2245h2.7M285,2220h2.7M313,2231h2.7M275,2161h2.7M259,2241h2.7M266,2253h2.7M238,2257h2.7M253,2233h2.7M317,2236h2.7M265,2229h2.7M357,2177h2.7M388,2161h2.7M264,2237h2.7M227,2245h2.7M235,2258h2.7M263,2213h2.7M270,2258h2.7M293,2252h2.7M279,2241h2.7M286,2202h2.7M237,2255h2.7M332,2271h2.7M359,2243h2.7M232,2204h2.7M239,2226h2.7M245,2250h2.7M273,2235h2.7M290,2208h2.7M266,2247h2.7M273,2243h2.7M269,2212h2.7M292,2133h2.7M243,2256h2.7M259,2259h2.7M244,2244h2.7M273,2253h2.7M284,2238h2.7M355,2222h2.7M253,2241h2.7M271,2233h2.7M246,2253h2.7M275,2219h2.7M403,2125h2.7M246,2225h2.7M255,2212h2.7M231,2258h2.7M321,2241h2.7M295,2225h2.7M285,2244h2.7M344,2244h2.7M279,2265h2.7M241,2223h2.7M260,2222h2.7M253,2214h2.7M241,2245h2.7M329,2227h2.7M239,2228h2.7M265,2241h2.7M230,2250h2.7M264,2266h2.7M252,2268h2.7M261,2191h2.7M246,2255h2.7M236,2257h2.7M274,2219h2.7M260,2215h2.7M258,2261h2.7M295,2256h2.7M260,2272h2.7M271,2239h2.7M256,2224h2.7M226,2238h2.7M242,2229h2.7M239,2247h2.7M220,2253h2.7M244,2237h2.7M273,2251h2.7M243,2213h2.7M231,2232h2.7M244,2264h2.7M276,2235h2.7M258,2206h2.7M272,2240h2.7M271,2220h2.7M341,2224h2.7M244,2240h2.7M306,2253h2.7M253,2248h2.7M248,2225h2.7M293,2167h2.7M231,2222h2.7M259,2222h2.7M329,2197h2.7M272,2248h2.7M227,2243h2.7M252,2227h2.7M244,2218h2.7M256,2235h2.7M247,2234h2.7M224,2214h2.7M264,2243h2.7M269,2241h2.7M264,2240h2.7M271,2224h2.7M265,2245h2.7M242,2215h2.7M318,2225h2.7M222,2156h2.7M230,2243h2.7M230,2250h2.7M261,2246h2.7M239,2233h2.7M330,2123h2.7M336,2237h2.7M263,2214h2.7M235,2216h2.7M249,2235h2.7M271,2256h2.7M288,2258h2.7M273,2251h2.7M287,2244h2.7M239,2226h2.7M236,2230h2.7M252,2207h2.7M260,2248h2.7M244,2238h2.7M267,2219h2.7M360,2227h2.7M385,2106h2.7M272,2226h2.7M238,2231h2.7M394,2160h2.7M230,2263h2.7M256,2229h2.7M244,2225h2.7M242,2237h2.7M276,2236h2.7M246,2239h2.7M268,2259h2.7M246,2252h2.7M284,2227h2.7M294,2260h2.7M270,2232h2.7M307,2240h2.7M265,2224h2.7M244,2260h2.7M244,2257h2.7M250,2239h2.7M255,2270h2.7M246,2239h2.7M295,2219h2.7M250,2255h2.7M290,2257h2.7M240,2221h2.7M268,2245h2.7M267,2240h2.7M294,2263h2.7M294,2218h2.7M269,2240h2.7M282,2234h2.7M293,2238h2.7M258,2243h2.7M319,2253h2.7M284,2207h2.7M254,2223h2.7M259,2246h2.7M373,2213h2.7M293,2243h2.7M285,2258h2.7M239,2224h2.7M231,2233h2.7M261,2135h2.7M274,2254h2.7M259,2262h2.7M253,2242h2.7M375,2137h2.7M395,2143h2.7M251,2244h2.7M285,2235h2.7M232,2234h2.7M253,2223h2.7M253,2259h2.7M245,2247h2.7M311,2237h2.7M222,2265h2.7M272,2247h2.7M256,2224h2.7M235,2234h2.7M291,2111h2.7M258,2233h2.7M258,2236h2.7M254,2230h2.7M280,2217h2.7M314,2251h2.7M238,2262h2.7M286,2227h2.7M279,2230h2.7M301,2246h2.7M249,2233h2.7M248,2259h2.7M244,2247h2.7M283,2237h2.7M259,2235h2.7M283,2224h2.7M263,2224h2.7M273,2273h2.7M254,2175h2.7M244,2237h2.7M293,2239h2.7M278,2254h2.7M243,2253h2.7M254,2244h2.7M267,2257h2.7M279,2248h2.7M259,2195h2.7M280,2213h2.7M330,2241h2.7M342,2247h2.7M246,2223h2.7M281,2245h2.7M225,2244h2.7M222,2222h2.7M285,2255h2.7M220,2217h2.7M258,2211h2.7M226,2253h2.7M348,2220h2.7M247,2208h2.7M243,2244h2.7M343,2238h2.7M249,2243h2.7M330,2149h2.7M269,2222h2.7M292,2220h2.7M256,2260h2.7M288,2229h2.7M253,2265h2.7M363,2160h2.7M339,2155h2.7M281,2167h2.7M280,2176h2.7M284,2219h2.7M268,2246h2.7M240,2226h2.7M240,2244h2.7M238,2233h2.7M239,2246h2.7M249,2208h2.7M348,2262h2.7M290,2219h2.7M260,2233h2.7M273,2255h2.7M324,2248h2.7M236,2242h2.7M236,2225h2.7M283,2253h2.7M265,2229h2.7M241,2250h2.7M278,2260h2.7M324,2161h2.7M238,2240h2.7M345,2213h2.7M270,2233h2.7M247,2264h2.7M278,2219h2.7M247,2271h2.7M267,2260h2.7M338,2128h2.7M262,2235h2.7M267,2248h2.7M303,2257h2.7M289,2242h2.7M246,2247h2.7M272,2258h2.7M247,2258h2.7M292,2244h2.7M314,2235h2.7M225,2224h2.7M226,2215h2.7M394,2149h2.7M281,2235h2.7M240,2245h2.7M302,2146h2.7M265,2232h2.7M243,2155h2.7M262,2237h2.7M280,2236h2.7M396,2201h2.7M265,2111h2.7M240,2233h2.7M266,2226h2.7M245,2270h2.7M249,2227h2.7M233,2238h2.7M283,2196h2.7M226,2210h2.7M281,2249h2.7M269,2225h2.7M270,2269h2.7M386,2189h2.7M301,2229h2.7M224,2251h2.7M261,2243h2.7M232,2215h2.7M267,2231h2.7M279,2220h2.7M283,2252h2.7M232,2235h2.7M255,2266h2.7M248,2224h2.7M294,2145h2.7M321,2248h2.7M274,2228h2.7M235,2231h2.7M289,2251h2.7M251,2176h2.7M267,2234h2.7M241,2232h2.7M343,2227h2.7M252,2236h2.7M300,2246h2.7M245,2247h2.7M364,2160h2.7M288,2221h2.7M354,2264h2.7M262,2240h2.7M273,2225h2.7M237,2250h2.7M280,2245h2.7M246,2238h2.7M308,2227h2.7M244,2244h2.7M244,2220h2.7M253,2268h2.7M251,2269h2.7M246,2232h2.7M268,2269h2.7M300,2245h2.7M285,2259h2.7M273,2256h2.7M240,2187h2.7M259,2252h2.7M274,2157h2.7M416,2149h2.7M275,2236h2.7M271,2254h2.7M234,2270h2.7M309,2242h2.7M285,2215h2.7M283,2215h2.7M364,2186h2.7M245,2260h2.7M234,2265h2.7M398,2168h2.7M286,2274h2.7M280,2241h2.7M264,2260h2.7M278,2225h2.7M225,2247h2.7M287,2244h2.7M246,2202h2.7M239,2234h2.7M255,2223h2.7M249,2201h2.7M276,2129h2.7M239,2224h2.7M347,2129h2.7M303,2218h2.7M328,2225h2.7M311,2236h2.7M233,2241h2.7M277,2225h2.7M304,2151h2.7M254,2256h2.7M258,2115h2.7M260,2248h2.7M265,2238h2.7M264,2267h2.7M221,2227h2.7M272,2227h2.7M284,2268h2.7M366,2218h2.7M288,2232h2.7M250,2245h2.7M273,2226h2.7M263,2244h2.7M233,2243h2.7M288,2243h2.7M306,2156h2.7M257,2247h2.7M259,2244h2.7M231,2254h2.7M326,2141h2.7M230,2244h2.7M298,2156h2.7M356,2123h2.7M239,2234h2.7M226,2228h2.7M283,2230h2.7M259,2252h2.7M257,2251h2.7M276,2238h2.7M271,2262h2.7M268,2228h2.7M259,2215h2.7M282,2230h2.7M265,2239h2.7M302,2232h2.7M342,2242h2.7M225,2250h2.7M222,2222h2.7M258,2259h2.7M407,2148h2.7M272,2237h2.7M258,2258h2.7M322,2236h2.7M248,2230h2.7M230,2248h2.7M300,2171h2.7M277,2243h2.7M277,2231h2.7M281,2259h2.7M384,2150h2.7M270,2219h2.7M243,2239h2.7M264,2258h2.7M231,2255h2.7M293,2263h2.7M289,2261h2.7M283,2240h2.7M301,2232h2.7M266,2183h2.7M272,2236h2.7M267,2204h2.7M271,2248h2.7M252,2233h2.7M249,2270h2.7M271,2264h2.7M350,2157h2.7M233,2244h2.7M231,2239h2.7M255,2222h2.7M293,2227h2.7M268,2210h2.7M251,2250h2.7M233,2260h2.7M232,2212h2.7M325,2229h2.7M253,2273h2.7M224,2265h2.7M327,2271h2.7M291,2226h2.7M298,2225h2.7M253,2213h2.7M274,2238h2.7M251,2235h2.7M274,2213h2.7M341,2239h2.7M227,2213h2.7M233,2210h2.7M261,2218h2.7M265,2242h2.7M303,2260h2.7M271,2227h2.7M277,2253h2.7M243,2273h2.7M256,2237h2.7M270,2239h2.7M310,2255h2.7M270,2139h2.7M242,2232h2.7M231,2205h2.7M233,2223h2.7M262,2217h2.7M258,2239h2.7M265,2244h2.7M261,2249h2.7M270,2226h2.7M257,2192h2.7M228,2247h2.7M258,2244h2.7M339,2239h2.7M225,2235h2.7M229,2218h2.7M274,2251h2.7M270,2261h2.7M274,2256h2.7M298,2232h2.7M247,2225h2.7M247,2253h2.7M359,2254h2.7M251,2240h2.7M229,2218h2.7M261,2239h2.7M285,2225h2.7M322,2208h2.7M298,2135h2.7M259,2255h2.7M336,2268h2.7M233,2261h2.7M258,2228h2.7M240,2239h2.7M259,2258h2.7M343,2228h2.7M256,2244h2.7M378,2255h2.7M249,2220h2.7M267,2255h2.7M320,2247h2.7M295,2259h2.7M249,2227h2.7M242,2243h2.7M268,2231h2.7M238,2230h2.7M236,2265h2.7M358,2227h2.7M244,2255h2.7M330,2245h2.7M282,2246h2.7M254,2242h2.7M291,2243h2.7M232,2227h2.7M350,2237h2.7M255,2234h2.7M273,2229h2.7M275,2238h2.7M297,2258h2.7M259,2239h2.7M266,2241h2.7M234,2250h2.7M253,2237h2.7M275,2225h2.7M243,2237h2.7M229,2262h2.7M261,2245h2.7M248,2204h2.7M247,2222h2.7M276,2211h2.7M274,2228h2.7M225,2237h2.7" stroke="#f2141c" stroke-width="2.7" opacity="0.38" fill="none"/>
<path d="M299,2232h2.7M258,2241h2.7M241,2231h2.7M275,2255h2.7M256,2254h2.7M273,2263h2.7M258,2226h2.7M261,2238h2.7M373,2154h2.7M247,2245h2.7M262,2176h2.7M286,2155h2.7M255,2217h2.7M255,2249h2.7M264,2128h2.7M295,2259h2.7M256,2251h2.7M240,2256h2.7M313,2131h2.7M251,2255h2.7M235,2248h2.7M251,2257h2.7M276,2243h2.7M275,2257h2.7M383,2156h2.7M234,2255h2.7M264,2238h2.7M246,2234h2.7M245,2244h2.7M252,2233h2.7M281,2253h2.7M270,2122h2.7M260,2222h2.7M275,2165h2.7M255,2218h2.7M285,2232h2.7M275,2230h2.7M220,2263h2.7M229,2261h2.7M240,2256h2.7M262,2214h2.7M285,2265h2.7M243,2231h2.7M263,2208h2.7M256,2244h2.7M240,2247h2.7M263,2241h2.7M288,2208h2.7M258,2223h2.7M281,2212h2.7M302,2236h2.7M236,2257h2.7M259,2240h2.7M260,2224h2.7M266,2238h2.7M263,2246h2.7M298,2251h2.7M419,2233h2.7M281,2248h2.7M286,2229h2.7M295,2256h2.7M231,2237h2.7M267,2206h2.7M363,2218h2.7M253,2222h2.7M237,2249h2.7M287,2242h2.7M367,2239h2.7M242,2237h2.7M273,2240h2.7M225,2185h2.7M254,2217h2.7M249,2223h2.7M269,2233h2.7M358,2234h2.7M367,2217h2.7M259,2240h2.7M263,2233h2.7M250,2239h2.7M281,2231h2.7M222,2230h2.7M243,2258h2.7M267,2231h2.7M267,2230h2.7M250,2244h2.7M298,2243h2.7M223,2251h2.7M252,2213h2.7M256,2152h2.7M262,2215h2.7M241,2243h2.7M258,2254h2.7M257,2259h2.7M235,2227h2.7M250,2255h2.7M245,2233h2.7M277,2217h2.7M258,2255h2.7M228,2260h2.7M260,2214h2.7M309,2236h2.7M367,2239h2.7M266,2229h2.7M349,2218h2.7M317,2218h2.7M286,2219h2.7M259,2225h2.7M233,2214h2.7M229,2217h2.7M258,2217h2.7M261,2259h2.7M296,2240h2.7M229,2252h2.7M250,2226h2.7M245,2230h2.7M267,2242h2.7M257,2248h2.7M258,2244h2.7M288,2219h2.7M245,2236h2.7M262,2237h2.7M393,2175h2.7M276,2232h2.7M232,2261h2.7M265,2242h2.7M291,2229h2.7M262,2236h2.7M263,2253h2.7M381,2177h2.7M263,2224h2.7M252,2202h2.7M224,2215h2.7M358,2261h2.7M248,2211h2.7M227,2242h2.7M234,2262h2.7M258,2246h2.7M229,2255h2.7M222,2262h2.7M350,2262h2.7M280,2263h2.7M257,2240h2.7M242,2223h2.7M235,2251h2.7M281,2240h2.7M260,2222h2.7M245,2258h2.7M227,2246h2.7M254,2265h2.7M276,2243h2.7M264,2262h2.7M300,2206h2.7M245,2262h2.7M232,2253h2.7M259,2226h2.7M294,2246h2.7M263,2264h2.7M266,2239h2.7M286,2218h2.7M275,2214h2.7M254,2235h2.7M294,2220h2.7M259,2222h2.7M268,2272h2.7M310,2210h2.7M248,2247h2.7M246,2234h2.7M229,2237h2.7M237,2249h2.7M290,2270h2.7M241,2210h2.7M279,2250h2.7M240,2255h2.7M262,2274h2.7M252,2252h2.7M281,2268h2.7M260,2232h2.7M245,2226h2.7M242,2260h2.7M291,2232h2.7M276,2250h2.7M232,2222h2.7M254,2244h2.7M244,2254h2.7M239,2244h2.7M351,2231h2.7M261,2246h2.7M255,2244h2.7M263,2220h2.7M264,2236h2.7M274,2219h2.7M268,2231h2.7M283,2236h2.7M341,2251h2.7M301,2264h2.7M287,2136h2.7M333,2220h2.7M293,2256h2.7M313,2233h2.7M277,2239h2.7M256,2261h2.7M278,2237h2.7M365,2223h2.7M287,2244h2.7M257,2228h2.7M254,2249h2.7M252,2221h2.7M300,2228h2.7M290,2230h2.7M273,2239h2.7M397,2220h2.7M289,2200h2.7M279,2249h2.7M262,2240h2.7M280,2241h2.7M241,2215h2.7M264,2229h2.7M256,2231h2.7M229,2251h2.7M343,2214h2.7M251,2219h2.7M350,2225h2.7M263,2246h2.7M270,2242h2.7M233,2230h2.7M228,2210h2.7M305,2259h2.7M307,2232h2.7M269,2229h2.7M256,2234h2.7M271,2245h2.7M257,2268h2.7M260,2268h2.7M274,2234h2.7M244,2234h2.7M247,2247h2.7M232,2257h2.7M266,2228h2.7M240,2223h2.7M289,2229h2.7M373,2179h2.7M271,2259h2.7M236,2242h2.7M275,2268h2.7M267,2238h2.7M267,2224h2.7M277,2254h2.7M288,2251h2.7M263,2237h2.7M227,2246h2.7M268,2239h2.7M387,2225h2.7M270,2238h2.7M386,2160h2.7M296,2255h2.7M250,2226h2.7M335,2227h2.7M385,2237h2.7M241,2247h2.7M253,2239h2.7M267,2247h2.7M377,2219h2.7M260,2245h2.7M235,2236h2.7M328,2208h2.7M223,2169h2.7M238,2239h2.7M259,2234h2.7M236,2245h2.7M333,2227h2.7M262,2241h2.7M266,2256h2.7M356,2207h2.7M248,2222h2.7M263,2227h2.7M347,2154h2.7M308,2235h2.7M252,2264h2.7M262,2221h2.7M256,2238h2.7M292,2185h2.7M277,2250h2.7M288,2253h2.7M296,2224h2.7M263,2255h2.7M283,2221h2.7M245,2233h2.7M248,2238h2.7M250,2245h2.7M250,2267h2.7M237,2241h2.7M232,2258h2.7M251,2233h2.7M229,2233h2.7M312,2208h2.7M332,2251h2.7M266,2232h2.7M368,2223h2.7M251,2223h2.7M265,2260h2.7M253,2242h2.7M257,2219h2.7M252,2261h2.7M232,2228h2.7M282,2232h2.7M286,2197h2.7M306,2231h2.7M263,2236h2.7M265,2243h2.7M266,2255h2.7M285,2233h2.7M227,2252h2.7M357,2164h2.7M286,2228h2.7M239,2217h2.7M242,2250h2.7M240,2243h2.7M234,2260h2.7M283,2235h2.7M310,2212h2.7M270,2227h2.7M232,2232h2.7M289,2264h2.7M223,2253h2.7M330,2246h2.7M261,2224h2.7M266,2225h2.7M263,2230h2.7M234,2229h2.7M252,2258h2.7M288,2273h2.7M256,2246h2.7M383,2248h2.7M252,2232h2.7M301,2241h2.7M245,2219h2.7M256,2227h2.7M278,2205h2.7M285,2226h2.7M380,2233h2.7M278,2253h2.7M302,2239h2.7M267,2252h2.7M272,2212h2.7M261,2240h2.7M230,2229h2.7M258,2267h2.7M282,2247h2.7M267,2209h2.7M272,2258h2.7M357,2250h2.7M276,2260h2.7M262,2225h2.7M245,2239h2.7M271,2241h2.7M319,2228h2.7M258,2256h2.7M231,2253h2.7M282,2257h2.7M251,2238h2.7M278,2261h2.7M297,2267h2.7M226,2249h2.7M222,2252h2.7M324,2212h2.7M344,2254h2.7M261,2202h2.7M324,2274h2.7M263,2257h2.7M284,2247h2.7M253,2230h2.7M300,2242h2.7M293,2231h2.7M243,2234h2.7M246,2252h2.7M318,2237h2.7M255,2245h2.7M227,2236h2.7M287,2234h2.7M291,2273h2.7M248,2235h2.7M273,2233h2.7M379,2133h2.7M272,2248h2.7M282,2261h2.7M290,2228h2.7M259,2224h2.7M408,2138h2.7M267,2203h2.7M258,2258h2.7M358,2185h2.7M242,2254h2.7M288,2270h2.7M241,2248h2.7M235,2240h2.7M267,2226h2.7M247,2235h2.7M262,2239h2.7M234,2239h2.7M279,2252h2.7M234,2251h2.7M276,2241h2.7M279,2253h2.7M254,2241h2.7M280,2140h2.7M265,2248h2.7M226,2220h2.7M313,2228h2.7M252,2236h2.7M258,2234h2.7M280,2245h2.7M272,2225h2.7M357,2187h2.7M246,2260h2.7M231,2222h2.7M248,2240h2.7M254,2243h2.7M357,2128h2.7M259,2249h2.7M229,2252h2.7M286,2230h2.7M277,2248h2.7M254,2227h2.7M251,2245h2.7M266,2226h2.7M287,2236h2.7M226,2226h2.7M229,2224h2.7M296,2201h2.7M246,2234h2.7M231,2231h2.7M283,2238h2.7M366,2148h2.7M254,2245h2.7M255,2236h2.7M331,2241h2.7M269,2253h2.7M294,2220h2.7M270,2254h2.7M364,2235h2.7M382,2142h2.7M300,2161h2.7M270,2213h2.7M288,2231h2.7M334,2210h2.7M281,2224h2.7M287,2259h2.7M257,2242h2.7M319,2248h2.7M249,2226h2.7M276,2238h2.7M285,2249h2.7M402,2219h2.7M279,2227h2.7M360,2131h2.7M298,2135h2.7M251,2223h2.7M273,2247h2.7M228,2245h2.7M301,2231h2.7M240,2195h2.7M225,2211h2.7M280,2242h2.7M388,2169h2.7M263,2152h2.7M254,2244h2.7M251,2243h2.7M278,2133h2.7M263,2250h2.7M250,2253h2.7M293,2223h2.7M246,2251h2.7M276,2248h2.7M292,2227h2.7M282,2246h2.7M292,2271h2.7M247,2223h2.7M341,2234h2.7M261,2206h2.7M265,2246h2.7M257,2213h2.7M264,2232h2.7M260,2245h2.7M332,2241h2.7M255,2240h2.7M290,2156h2.7M258,2243h2.7M288,2264h2.7M222,2223h2.7M239,2218h2.7M369,2140h2.7M234,2245h2.7M261,2256h2.7M285,2259h2.7M278,2237h2.7M302,2127h2.7M270,2237h2.7M254,2219h2.7M242,2224h2.7M262,2250h2.7M287,2238h2.7M321,2236h2.7M274,2249h2.7M235,2225h2.7M245,2220h2.7M245,2235h2.7M257,2244h2.7M253,2232h2.7M356,2227h2.7M263,2169h2.7M303,2142h2.7M238,2220h2.7M240,2233h2.7M279,2239h2.7M238,2211h2.7M267,2220h2.7M229,2257h2.7M267,2234h2.7M240,2216h2.7M231,2164h2.7M258,2141h2.7M289,2263h2.7M254,2234h2.7M301,2218h2.7M267,2213h2.7M221,2244h2.7M353,2259h2.7M370,2181h2.7M303,2227h2.7M271,2229h2.7M291,2269h2.7M280,2240h2.7M336,2203h2.7M279,2246h2.7M270,2254h2.7M245,2245h2.7M317,2226h2.7M285,2232h2.7M247,2247h2.7M276,2240h2.7M229,2265h2.7M292,2221h2.7M283,2271h2.7M274,2226h2.7M221,2269h2.7M252,2209h2.7M274,2228h2.7M360,2247h2.7M232,2268h2.7M259,2219h2.7M261,2240h2.7M367,2203h2.7M245,2214h2.7M256,2262h2.7M268,2240h2.7M294,2224h2.7M277,2223h2.7M251,2224h2.7M223,2210h2.7M222,2158h2.7M242,2246h2.7M253,2225h2.7M264,2267h2.7M343,2231h2.7M259,2240h2.7M251,2228h2.7M264,2227h2.7M282,2273h2.7M336,2238h2.7M277,2242h2.7M268,2224h2.7M261,2259h2.7M287,2243h2.7M267,2225h2.7M240,2233h2.7M361,2161h2.7M274,2254h2.7M259,2251h2.7M289,2252h2.7M260,2158h2.7M273,2246h2.7M259,2203h2.7M252,2236h2.7M308,2250h2.7M252,2269h2.7M238,2213h2.7M252,2238h2.7M261,2218h2.7M268,2250h2.7M246,2230h2.7M280,2231h2.7M288,2248h2.7M278,2265h2.7M269,2232h2.7M232,2251h2.7M304,2215h2.7M311,2163h2.7M271,2144h2.7M332,2226h2.7M256,2235h2.7M252,2251h2.7M232,2237h2.7M294,2274h2.7M254,2261h2.7M267,2165h2.7" stroke="#f2141c" stroke-width="2.7" opacity="0.38" fill="none"/>
<rect x="218" y="1963.5" width="345" height="314" fill="none" stroke="#7d7d7d" stroke-width="3"/>
<path d="M314,1963.5 V2277.5 M218,2193 H563" stroke="#444" stroke-width="3" fill="none"/>
<text x="285" y="1873" font-size="33.4" fill="#222">C4-2 NC</text>
<text x="178" y="1919.6" font-size="25.3" fill="#333">(F1)[A] 2.LMD : FL1 Log/FL3 Log</text>
<text x="148.6" y="1979.6" font-size="33" fill="#2a2a2a">10</text><text x="185.3" y="1970" font-size="22.8" fill="#2a2a2a">3</text>
<text x="148.6" y="2060.6" font-size="33" fill="#2a2a2a">10</text><text x="185.3" y="2051" font-size="22.8" fill="#2a2a2a">2</text>
<text x="148.6" y="2136.6" font-size="33" fill="#2a2a2a">10</text><text x="185.3" y="2127" font-size="22.8" fill="#2a2a2a">1</text>
<text x="148.6" y="2212.5" font-size="33" fill="#2a2a2a">10</text><text x="185.3" y="2202.9" font-size="22.8" fill="#2a2a2a">0</text>
<text x="269" y="2320.7" font-size="33" fill="#2a2a2a">10</text><text x="305.7" y="2311.1" font-size="22.8" fill="#2a2a2a">0</text>
<text x="363.6" y="2320.7" font-size="33" fill="#2a2a2a">10</text><text x="400.3" y="2311.1" font-size="22.8" fill="#2a2a2a">1</text>
<text x="451.3" y="2320.7" font-size="33" fill="#2a2a2a">10</text><text x="488" y="2311.1" font-size="22.8" fill="#2a2a2a">2</text>
<text x="534.1" y="2320.7" font-size="33" fill="#2a2a2a">10</text><text x="570.8" y="2311.1" font-size="22.8" fill="#2a2a2a">3</text>
<text transform="translate(143.5,2119) rotate(-90)" font-size="33" fill="#2a2a2a" text-anchor="middle">PI</text>
<text x="277" y="2355" font-size="32.7" fill="#222">Annexin V-FITC</text>
<text x="220" y="1989" font-size="22.8" fill="#454545">B1</text>
<text x="229.6" y="2017.5" font-size="25.5" fill="#454545">2.1%</text>
<text x="315.7" y="1989" font-size="22.8" fill="#454545">B2</text>
<text x="331" y="2017.5" font-size="25.5" fill="#454545">1.4%</text>
<text x="222" y="2218.4" font-size="22.8" fill="#454545">B3</text>
<text x="224.5" y="2250.5" font-size="25.5" fill="#454545">88.3%</text>
<text x="319" y="2218.4" font-size="22.8" fill="#454545">B4</text>
<text x="326.8" y="2250.5" font-size="25.5" fill="#454545">88.2%</text>
<path d="M708,2258.1 h-4.5 M708,2244.2 h-4.5 M708,2234.4 h-4.5 M708,2226.7 h-4.5 M708,2220.5 h-4.5 M708,2215.2 h-4.5 M708,2210.6 h-4.5 M708,2206.6 h-4.5 M708,2203 h-8 M708,2179.3 h-4.5 M708,2165.4 h-4.5 M708,2155.6 h-4.5 M708,2147.9 h-4.5 M708,2141.7 h-4.5 M708,2136.4 h-4.5 M708,2131.8 h-4.5 M708,2127.8 h-4.5 M708,2124.2 h-8 M708,2100.5 h-4.5 M708,2086.6 h-4.5 M708,2076.8 h-4.5 M708,2069.1 h-4.5 M708,2062.9 h-4.5 M708,2057.6 h-4.5 M708,2053 h-4.5 M708,2049 h-4.5 M708,2045.4 h-8 M708,2021.7 h-4.5 M708,2007.8 h-4.5 M708,1998 h-4.5 M708,1990.3 h-4.5 M708,1984.1 h-4.5 M708,1978.8 h-4.5 M708,1974.2 h-4.5 M708,1970.2 h-4.5 M731.8,2280 v4.5 M746.8,2280 v4.5 M757.5,2280 v4.5 M765.8,2280 v4.5 M772.6,2280 v4.5 M778.3,2280 v4.5 M783.3,2280 v4.5 M787.7,2280 v4.5 M791.6,2280 v8 M817.4,2280 v4.5 M832.4,2280 v4.5 M843.1,2280 v4.5 M851.4,2280 v4.5 M858.2,2280 v4.5 M863.9,2280 v4.5 M868.9,2280 v4.5 M873.3,2280 v4.5 M877.2,2280 v8 M903,2280 v4.5 M918,2280 v4.5 M928.7,2280 v4.5 M937,2280 v4.5 M943.8,2280 v4.5 M949.5,2280 v4.5 M954.5,2280 v4.5 M958.9,2280 v4.5 M962.8,2280 v8 M988.6,2280 v4.5 M1003.6,2280 v4.5 M1014.3,2280 v4.5 M1022.6,2280 v4.5 M1029.4,2280 v4.5 M1035.1,2280 v4.5 M1040.1,2280 v4.5 M1044.5,2280 v4.5 M1048.4,2280 v8 M708,1966.5 h-8" stroke="#999" stroke-width="1.8" fill="none"/>
<clipPath id="c24"><rect x="709.5" y="1968" width="337.4" height="310.5"/></clipPath>
<g clip-path="url(#c24)">
<ellipse cx="786" cy="2241" rx="78" ry="40" fill="url(#rb)" opacity="1"/>
<ellipse cx="760" cy="2243" rx="50" ry="32" fill="url(#rb)" opacity="0.6"/>
<ellipse cx="845" cy="2127" rx="40" ry="20" fill="url(#rb)" opacity="0.1"/>
<ellipse cx="756" cy="2124" rx="36" ry="18" fill="url(#rb)" opacity="0.1"/>
</g>
<path d="M844,2270h2.7M811,2224h2.7M733,2234h2.7M748,2212h2.7M864,2254h2.7M750,2265h2.7M790,2242h2.7M818,2253h2.7M729,2254h2.7M806,2236h2.7M721,2114h2.7M776,2246h2.7M847,2128h2.7M765,2240h2.7M753,2233h2.7M759,2117h2.7M747,2241h2.7M887,2259h2.7M811,2238h2.7M785,2232h2.7M782,2230h2.7M740,2113h2.7M774,2224h2.7M802,2256h2.7M794,2247h2.7M775,2240h2.7M821,2267h2.7M783,2239h2.7M769,2258h2.7M794,2247h2.7M785,2257h2.7M739,2227h2.7M877,2247h2.7M759,2233h2.7M827,2266h2.7M826,2254h2.7M827,2244h2.7M757,2244h2.7M807,2215h2.7M841,2113h2.7M769,2277h2.7M754,2255h2.7M761,2269h2.7M802,2145h2.7M729,2265h2.7M747,2244h2.7M794,2234h2.7M823,2131h2.7M782,2243h2.7M761,2233h2.7M811,2250h2.7M741,2233h2.7M788,2238h2.7M738,2244h2.7M743,2226h2.7M848,2220h2.7M774,2274h2.7M731,2232h2.7M747,2273h2.7M865,2254h2.7M785,2271h2.7M826,2252h2.7M801,2262h2.7M816,2247h2.7M724,2227h2.7M733,2229h2.7M834,2218h2.7M798,2242h2.7M842,2242h2.7M834,2244h2.7M779,2237h2.7M802,2252h2.7M755,2232h2.7M778,2241h2.7M845,2268h2.7M777,2242h2.7M777,2245h2.7M766,2243h2.7M732,2276h2.7M853,2237h2.7M769,2237h2.7M755,2243h2.7M854,2236h2.7M798,2237h2.7M772,2250h2.7M761,2222h2.7M771,2233h2.7M782,2217h2.7M747,2111h2.7M718,2255h2.7M798,2234h2.7M841,2135h2.7M773,2221h2.7M728,2245h2.7M754,2141h2.7M802,2236h2.7M786,2231h2.7M826,2257h2.7M815,2231h2.7M766,2248h2.7M795,2251h2.7M806,2252h2.7M771,2246h2.7M809,2233h2.7M738,2242h2.7M793,2269h2.7M827,2233h2.7M843,2140h2.7M817,2246h2.7M818,2243h2.7M779,2231h2.7M732,2256h2.7M747,2102h2.7M742,2267h2.7M838,2270h2.7M822,2239h2.7M828,2229h2.7M759,2226h2.7M806,2130h2.7M764,2252h2.7M778,2225h2.7M825,2250h2.7M783,2253h2.7M831,2237h2.7M724,2250h2.7M851,2245h2.7M724,2267h2.7M763,2235h2.7M816,2228h2.7M784,2242h2.7M809,2256h2.7M756,2265h2.7M759,2257h2.7M724,2250h2.7M846,2262h2.7M813,2242h2.7M816,2245h2.7M808,2148h2.7M813,2215h2.7M782,2243h2.7M794,2251h2.7M766,2249h2.7M767,2237h2.7M787,2234h2.7M766,2245h2.7M729,2234h2.7M756,2126h2.7M833,2215h2.7M785,2259h2.7M861,2239h2.7M805,2240h2.7M797,2232h2.7M838,2247h2.7M831,2239h2.7M820,2260h2.7M807,2238h2.7M726,2254h2.7M810,2229h2.7M789,2266h2.7M716,2258h2.7M754,2218h2.7M727,2226h2.7M739,2238h2.7M813,2255h2.7M782,2235h2.7M862,2249h2.7M732,2250h2.7M752,2246h2.7M741,2129h2.7M824,2251h2.7M742,2215h2.7M838,2247h2.7M755,2141h2.7M854,2239h2.7M825,2243h2.7M735,2234h2.7M856,2139h2.7M726,2227h2.7M819,2233h2.7M805,2245h2.7M774,2227h2.7M734,2187h2.7M834,2247h2.7M762,2242h2.7M768,2248h2.7M762,2232h2.7M756,2256h2.7M849,2219h2.7M817,2250h2.7M774,2241h2.7M852,2245h2.7M804,2234h2.7M797,2254h2.7M799,2249h2.7M786,2230h2.7M738,2247h2.7M756,2246h2.7M741,2243h2.7M846,2241h2.7M766,2219h2.7M737,2231h2.7M816,2231h2.7M747,2247h2.7M798,2233h2.7M767,2263h2.7M767,2265h2.7M784,2242h2.7M856,2257h2.7M817,2241h2.7M719,2129h2.7M796,2247h2.7M826,2248h2.7M827,2233h2.7M722,2226h2.7M824,2111h2.7M793,2241h2.7M780,2237h2.7M771,2262h2.7M782,2228h2.7M780,2261h2.7M811,2249h2.7M819,2248h2.7M724,2245h2.7M766,2258h2.7M767,2236h2.7M763,2240h2.7M838,2245h2.7M849,2140h2.7M872,2125h2.7M805,2222h2.7M781,2227h2.7M818,2233h2.7M837,2247h2.7M804,2128h2.7M718,2269h2.7M776,2244h2.7M759,2236h2.7M800,2240h2.7M786,2260h2.7M768,2223h2.7M813,2241h2.7M768,2252h2.7M815,2228h2.7M716,2252h2.7M825,2245h2.7M819,2245h2.7M828,2246h2.7M778,2247h2.7M759,2246h2.7M814,2246h2.7M788,2211h2.7M858,2245h2.7M877,2106h2.7M781,2131h2.7M877,2248h2.7M774,2236h2.7M822,2272h2.7M863,2257h2.7M820,2270h2.7M830,2247h2.7M809,2246h2.7M852,2248h2.7M736,2247h2.7M734,2233h2.7M732,2268h2.7M810,2218h2.7M761,2251h2.7M766,2263h2.7M829,2239h2.7M804,2254h2.7M763,2258h2.7M777,2251h2.7M765,2260h2.7M752,2227h2.7M814,2223h2.7M795,2254h2.7M718,2124h2.7M875,2121h2.7M748,2247h2.7M807,2241h2.7M755,2211h2.7M753,2263h2.7M791,2259h2.7M720,2253h2.7M786,2271h2.7M741,2252h2.7M801,2254h2.7M762,2120h2.7M822,2235h2.7M741,2196h2.7M856,2263h2.7M810,2232h2.7M792,2231h2.7M843,2235h2.7M881,2256h2.7M765,2266h2.7M769,2245h2.7M774,2223h2.7M801,2239h2.7M809,2213h2.7M803,2241h2.7M739,2230h2.7M738,2133h2.7M765,2263h2.7M898,2238h2.7M838,2122h2.7M813,2243h2.7M841,2239h2.7M790,2255h2.7M794,2242h2.7M856,2138h2.7M789,2113h2.7M759,2235h2.7M833,2131h2.7M816,2240h2.7M775,2209h2.7M745,2225h2.7M820,2138h2.7M764,2251h2.7M800,2243h2.7M714,2127h2.7M770,2245h2.7M785,2243h2.7M784,2105h2.7M842,2122h2.7M782,2225h2.7M767,2112h2.7M758,2237h2.7M793,2248h2.7M848,2262h2.7M829,2234h2.7M880,2242h2.7M844,2237h2.7M881,2115h2.7M775,2240h2.7M846,2236h2.7M815,2217h2.7M719,2130h2.7M773,2224h2.7M773,2251h2.7M733,2253h2.7M811,2206h2.7M753,2251h2.7M771,2236h2.7M892,2241h2.7M843,2251h2.7M787,2238h2.7M776,2252h2.7M727,2252h2.7M823,2249h2.7M789,2229h2.7M874,2228h2.7M768,2251h2.7M805,2252h2.7M836,2212h2.7M757,2258h2.7M801,2241h2.7M748,2262h2.7M849,2245h2.7M789,2264h2.7M753,2246h2.7M838,2253h2.7M813,2236h2.7M799,2274h2.7M833,2241h2.7M758,2117h2.7M756,2265h2.7M782,2248h2.7M749,2219h2.7M754,2232h2.7M752,2269h2.7M819,2253h2.7M765,2141h2.7M835,2225h2.7M839,2221h2.7M808,2245h2.7M730,2130h2.7M792,2245h2.7M816,2265h2.7M758,2123h2.7M794,2261h2.7M754,2273h2.7M739,2224h2.7M807,2226h2.7M823,2252h2.7M719,2262h2.7M801,2255h2.7M821,2246h2.7M770,2252h2.7M753,2268h2.7M843,2240h2.7M790,2245h2.7M788,2177h2.7M822,2264h2.7M792,2264h2.7M807,2227h2.7M758,2267h2.7M780,2241h2.7M740,2117h2.7M856,2260h2.7M816,2225h2.7M789,2239h2.7M804,2225h2.7M766,2245h2.7M760,2253h2.7M788,2232h2.7M893,2261h2.7M796,2257h2.7M745,2251h2.7M834,2245h2.7M804,2265h2.7M786,2233h2.7M786,2226h2.7M811,2222h2.7M739,2262h2.7M755,2211h2.7M751,2231h2.7M759,2266h2.7M812,2239h2.7M793,2193h2.7M716,2247h2.7M778,2254h2.7M786,2262h2.7M764,2249h2.7M839,2116h2.7M827,2122h2.7M741,2261h2.7M795,2222h2.7M827,2246h2.7M817,2139h2.7M780,2259h2.7M812,2237h2.7M792,2271h2.7M857,2255h2.7M711,2155h2.7M790,2233h2.7M827,2242h2.7M774,2256h2.7M787,2264h2.7M802,2249h2.7M784,2134h2.7M775,2231h2.7M767,2264h2.7M741,2113h2.7M857,2270h2.7M770,2238h2.7M726,2244h2.7M847,2249h2.7M815,2240h2.7M819,2229h2.7M808,2259h2.7M830,2142h2.7M801,2227h2.7M754,2225h2.7M808,2257h2.7M770,2243h2.7M836,2259h2.7M811,2248h2.7M823,2265h2.7M769,2267h2.7M740,2239h2.7M818,2256h2.7M755,2200h2.7M823,2249h2.7M803,2233h2.7M745,2259h2.7M801,2252h2.7M753,2244h2.7M849,2257h2.7M799,2242h2.7M798,2255h2.7M816,2225h2.7M792,2254h2.7M731,2206h2.7M798,2241h2.7M792,2244h2.7M819,2203h2.7M811,2260h2.7M718,2254h2.7M854,2135h2.7M799,2249h2.7M771,2272h2.7M806,2272h2.7M823,2236h2.7M827,2252h2.7M767,2221h2.7M798,2249h2.7M835,2228h2.7M789,2242h2.7M763,2234h2.7M758,2259h2.7M775,2234h2.7M762,2216h2.7M826,2242h2.7M787,2237h2.7M793,2230h2.7M831,2230h2.7M839,2100h2.7M780,2245h2.7M770,2231h2.7M785,2235h2.7M881,2125h2.7M775,2224h2.7M765,2186h2.7M721,2243h2.7M838,2231h2.7M855,2129h2.7M796,2243h2.7M784,2237h2.7M734,2246h2.7M758,2239h2.7M796,2244h2.7M785,2273h2.7M782,2209h2.7M804,2246h2.7M826,2252h2.7M776,2241h2.7M810,2270h2.7M813,2228h2.7M833,2245h2.7M833,2233h2.7M835,2253h2.7M766,2258h2.7M727,2251h2.7M752,2236h2.7M820,2238h2.7M766,2252h2.7M758,2222h2.7M751,2261h2.7M751,2229h2.7M761,2231h2.7M812,2252h2.7M751,2257h2.7M899,2122h2.7M761,2235h2.7M806,2212h2.7M807,2237h2.7M823,2248h2.7M770,2240h2.7M837,2251h2.7M774,2216h2.7M757,2265h2.7M770,2126h2.7M811,2232h2.7M749,2204h2.7M780,2115h2.7M797,2241h2.7M782,2231h2.7M819,2255h2.7M780,2253h2.7M803,2241h2.7M769,2256h2.7M797,2235h2.7M777,2261h2.7M851,2111h2.7M781,2117h2.7M790,2256h2.7M727,2129h2.7M821,2241h2.7M846,2258h2.7M859,2122h2.7M852,2225h2.7M790,2229h2.7M821,2238h2.7M792,2224h2.7M822,2236h2.7M830,2228h2.7M765,2236h2.7M814,2257h2.7M776,2239h2.7M757,2242h2.7M762,2243h2.7M841,2226h2.7M852,2119h2.7M752,2231h2.7M805,2248h2.7M819,2240h2.7M778,2245h2.7M738,2231h2.7M750,2109h2.7M788,2141h2.7M815,2247h2.7M726,2235h2.7M822,2245h2.7M838,2229h2.7M775,2246h2.7M772,2253h2.7M752,2260h2.7M762,2235h2.7M753,2229h2.7M819,2266h2.7M827,2250h2.7M778,2246h2.7M777,2246h2.7M855,2249h2.7M784,2245h2.7M769,2263h2.7M774,2251h2.7M836,2254h2.7M752,2219h2.7M763,2245h2.7M832,2237h2.7M812,2228h2.7M755,2262h2.7M795,2258h2.7M736,2258h2.7M819,2240h2.7M768,2208h2.7M798,2205h2.7M750,2233h2.7M786,2208h2.7M800,2240h2.7M766,2229h2.7M764,2271h2.7M801,2230h2.7M787,2242h2.7M776,2217h2.7M846,2133h2.7M769,2240h2.7M744,2253h2.7M826,2242h2.7M786,2246h2.7M845,2224h2.7M770,2254h2.7M798,2266h2.7M750,2254h2.7M821,2115h2.7M761,2231h2.7M827,2258h2.7M769,2237h2.7M794,2231h2.7M773,2257h2.7M729,2219h2.7M785,2228h2.7M834,2242h2.7M854,2126h2.7M755,2258h2.7M844,2220h2.7M860,2240h2.7M749,2257h2.7M755,2220h2.7M838,2253h2.7M858,2228h2.7M780,2260h2.7M817,2232h2.7M815,2226h2.7M797,2231h2.7M819,2137h2.7M830,2137h2.7M818,2243h2.7M831,2228h2.7M730,2126h2.7M844,2137h2.7M824,2255h2.7M807,2226h2.7M806,2236h2.7M808,2237h2.7M793,2258h2.7M759,2234h2.7M722,2125h2.7M781,2247h2.7M739,2249h2.7M777,2261h2.7M756,2239h2.7M758,2229h2.7M754,2209h2.7M796,2250h2.7M808,2135h2.7M830,2133h2.7M757,2255h2.7M853,2133h2.7M791,2257h2.7M747,2238h2.7M786,2242h2.7M815,2251h2.7M721,2260h2.7M801,2232h2.7M760,2243h2.7M740,2232h2.7M785,2266h2.7M811,2221h2.7M781,2222h2.7M846,2235h2.7M728,2240h2.7M797,2220h2.7M771,2248h2.7M806,2243h2.7M747,2241h2.7M782,2242h2.7M783,2244h2.7M869,2131h2.7M780,2252h2.7M838,2119h2.7M845,2226h2.7M817,2243h2.7M818,2264h2.7M821,2235h2.7M790,2249h2.7M751,2227h2.7M787,2248h2.7M809,2249h2.7M793,2233h2.7M863,2228h2.7M760,2201h2.7M784,2237h2.7M776,2253h2.7M776,2273h2.7M849,2129h2.7M744,2241h2.7M842,2241h2.7M828,2233h2.7M838,2248h2.7M820,2235h2.7M810,2215h2.7M802,2254h2.7M763,2244h2.7M740,2269h2.7M792,2250h2.7M834,2227h2.7M773,2131h2.7M849,2232h2.7M736,2131h2.7M741,2232h2.7M762,2244h2.7M821,2249h2.7M734,2229h2.7M812,2239h2.7M785,2115h2.7M830,2231h2.7M748,2243h2.7M779,2267h2.7M742,2223h2.7M836,2250h2.7M776,2224h2.7M860,2258h2.7M783,2248h2.7M789,2242h2.7M826,2238h2.7M803,2248h2.7M786,2272h2.7M820,2242h2.7M776,2238h2.7M832,2232h2.7M768,2239h2.7M822,2244h2.7M753,2241h2.7M731,2248h2.7M848,2231h2.7M892,2221h2.7M781,2237h2.7M819,2236h2.7M814,2236h2.7M756,2249h2.7M800,2230h2.7M797,2239h2.7M873,2243h2.7M735,2250h2.7M792,2233h2.7M795,2242h2.7M842,2119h2.7M812,2255h2.7M743,2201h2.7M845,2251h2.7M765,2135h2.7M813,2249h2.7M779,2237h2.7M862,2247h2.7M761,2214h2.7M777,2244h2.7M837,2254h2.7M751,2127h2.7M783,2242h2.7M821,2238h2.7M758,2257h2.7M719,2129h2.7M889,2254h2.7M843,2242h2.7M803,2223h2.7M761,2228h2.7M806,2244h2.7M778,2167h2.7M777,2230h2.7M816,2216h2.7M812,2252h2.7M827,2267h2.7M846,2244h2.7M836,2247h2.7M742,2240h2.7M795,2229h2.7M769,2252h2.7M776,2236h2.7M753,2184h2.7M808,2246h2.7M812,2228h2.7M796,2232h2.7M825,2203h2.7M818,2127h2.7M794,2256h2.7M792,2241h2.7M794,2257h2.7M831,2217h2.7M784,2233h2.7M819,2231h2.7M807,2252h2.7M822,2129h2.7M752,2245h2.7M778,2218h2.7M765,2260h2.7M787,2224h2.7M812,2245h2.7M789,2261h2.7M865,2257h2.7M810,2259h2.7M834,2128h2.7M807,2255h2.7M825,2243h2.7M780,2251h2.7M797,2245h2.7M828,2231h2.7M820,2256h2.7M731,2264h2.7M770,2259h2.7M809,2121h2.7M892,2245h2.7M761,2241h2.7M819,2230h2.7M814,2263h2.7M829,2153h2.7M745,2214h2.7M821,2140h2.7M742,2225h2.7M848,2239h2.7M766,2268h2.7M769,2232h2.7M772,2242h2.7M738,2260h2.7M813,2268h2.7M837,2242h2.7M758,2246h2.7M781,2241h2.7M780,2232h2.7M799,2247h2.7M793,2231h2.7M772,2121h2.7M732,2251h2.7M745,2261h2.7M777,2131h2.7M736,2129h2.7M800,2236h2.7M799,2261h2.7M808,2253h2.7M820,2246h2.7M810,2240h2.7M829,2242h2.7M785,2245h2.7M796,2270h2.7M785,2237h2.7M827,2226h2.7M818,2249h2.7M808,2256h2.7M756,2256h2.7M759,2227h2.7M779,2260h2.7M831,2250h2.7M762,2255h2.7M865,2132h2.7M846,2210h2.7M835,2246h2.7M819,2253h2.7M851,2118h2.7M870,2233h2.7M812,2134h2.7M774,2257h2.7M844,2233h2.7M764,2241h2.7M809,2214h2.7M737,2116h2.7M749,2241h2.7M812,2223h2.7M735,2232h2.7M860,2134h2.7M757,2251h2.7M749,2124h2.7M840,2268h2.7M747,2263h2.7M869,2260h2.7M831,2256h2.7M767,2246h2.7M834,2221h2.7M897,2249h2.7M838,2248h2.7M781,2225h2.7M840,2248h2.7M781,2240h2.7M820,2243h2.7M794,2240h2.7M757,2242h2.7M777,2234h2.7M731,2178h2.7M781,2227h2.7M753,2258h2.7M753,2221h2.7M726,2248h2.7M839,2133h2.7M816,2234h2.7M743,2233h2.7M743,2241h2.7M861,2252h2.7M766,2230h2.7M816,2259h2.7M780,2232h2.7M826,2219h2.7M741,2253h2.7M803,2239h2.7M770,2235h2.7M798,2219h2.7M731,2258h2.7M820,2110h2.7M819,2247h2.7M843,2262h2.7M815,2262h2.7M756,2236h2.7M773,2210h2.7" stroke="#f2141c" stroke-width="2.7" opacity="0.38" fill="none"/>
<path d="M767,2235h2.7M825,2135h2.7M829,2244h2.7M812,2259h2.7M737,2265h2.7M799,2257h2.7M777,2256h2.7M730,2243h2.7M790,2249h2.7M779,2234h2.7M853,2258h2.7M750,2135h2.7M806,2251h2.7M807,2238h2.7M858,2120h2.7M840,2247h2.7M738,2215h2.7M783,2244h2.7M786,2231h2.7M801,2220h2.7M844,2255h2.7M865,2103h2.7M750,2165h2.7M760,2243h2.7M760,2243h2.7M773,2230h2.7M734,2139h2.7M833,2223h2.7M765,2252h2.7M727,2257h2.7M750,2221h2.7M788,2235h2.7M829,2238h2.7M768,2227h2.7M825,2220h2.7M817,2269h2.7M861,2230h2.7M757,2219h2.7M793,2246h2.7M866,2276h2.7M791,2248h2.7M751,2225h2.7M765,2235h2.7M745,2241h2.7M744,2259h2.7M804,2233h2.7M881,2251h2.7M758,2225h2.7M781,2248h2.7M772,2245h2.7M748,2249h2.7M769,2242h2.7M802,2216h2.7M759,2228h2.7M828,2272h2.7M775,2241h2.7M819,2253h2.7M744,2252h2.7M741,2222h2.7M819,2227h2.7M856,2108h2.7M799,2252h2.7M858,2226h2.7M751,2252h2.7M789,2231h2.7M735,2270h2.7M802,2255h2.7M838,2253h2.7M784,2273h2.7M760,2225h2.7M743,2124h2.7M809,2237h2.7M773,2242h2.7M882,2121h2.7M739,2235h2.7M762,2252h2.7M840,2138h2.7M846,2132h2.7M746,2249h2.7M798,2215h2.7M746,2219h2.7M844,2245h2.7M823,2248h2.7M821,2248h2.7M801,2249h2.7M769,2222h2.7M747,2249h2.7M838,2235h2.7M818,2233h2.7M838,2247h2.7M736,2252h2.7M763,2243h2.7M753,2227h2.7M872,2238h2.7M857,2251h2.7M819,2228h2.7M817,2251h2.7M814,2211h2.7M743,2248h2.7M732,2256h2.7M813,2232h2.7M803,2246h2.7M753,2225h2.7M770,2237h2.7M850,2127h2.7M767,2222h2.7M749,2259h2.7M849,2256h2.7M803,2245h2.7M777,2246h2.7M810,2247h2.7M831,2135h2.7M740,2231h2.7M766,2268h2.7M812,2228h2.7M833,2241h2.7M749,2234h2.7M774,2274h2.7M824,2261h2.7M821,2228h2.7M753,2165h2.7M813,2211h2.7M803,2252h2.7M751,2236h2.7M804,2247h2.7M857,2261h2.7M819,2115h2.7M839,2259h2.7M782,2235h2.7M777,2238h2.7M816,2121h2.7M751,2248h2.7M830,2235h2.7M762,2239h2.7M763,2236h2.7M863,2113h2.7M779,2238h2.7M718,2242h2.7M799,2218h2.7M789,2234h2.7M804,2236h2.7M777,2233h2.7M722,2235h2.7M797,2250h2.7M776,2247h2.7M822,2136h2.7M719,2226h2.7M837,2239h2.7M838,2240h2.7M813,2254h2.7M814,2242h2.7M787,2243h2.7M885,2248h2.7M755,2122h2.7M765,2230h2.7M800,2246h2.7M830,2247h2.7M830,2239h2.7M771,2231h2.7M734,2242h2.7M735,2234h2.7M809,2231h2.7M859,2236h2.7M771,2239h2.7M750,2261h2.7M792,2251h2.7M871,2110h2.7M871,2133h2.7M796,2236h2.7M798,2230h2.7M783,2116h2.7M777,2255h2.7M847,2221h2.7M781,2224h2.7M799,2241h2.7M753,2108h2.7M815,2240h2.7M803,2221h2.7M763,2233h2.7M800,2256h2.7M747,2251h2.7M788,2259h2.7M794,2260h2.7M823,2255h2.7M836,2211h2.7M855,2113h2.7M756,2201h2.7M759,2227h2.7M777,2238h2.7M790,2245h2.7M749,2231h2.7M810,2229h2.7M786,2240h2.7M786,2256h2.7M798,2248h2.7M802,2251h2.7M798,2240h2.7M853,2217h2.7M768,2111h2.7M746,2245h2.7M791,2234h2.7M874,2255h2.7M750,2227h2.7M757,2262h2.7M732,2188h2.7M747,2248h2.7M756,2246h2.7M742,2259h2.7M736,2225h2.7M747,2252h2.7M809,2249h2.7M791,2231h2.7M859,2117h2.7M765,2254h2.7M777,2260h2.7M761,2267h2.7M748,2199h2.7M826,2239h2.7M800,2239h2.7M764,2233h2.7M819,2253h2.7M834,2122h2.7M806,2226h2.7M774,2265h2.7M772,2226h2.7M799,2226h2.7M731,2272h2.7M804,2251h2.7M830,2263h2.7M768,2230h2.7M783,2235h2.7M824,2253h2.7M736,2251h2.7M835,2238h2.7M793,2261h2.7M752,2110h2.7M784,2243h2.7M787,2222h2.7M744,2252h2.7M767,2234h2.7M817,2243h2.7M882,2106h2.7M763,2257h2.7M798,2243h2.7M769,2250h2.7M826,2236h2.7M842,2226h2.7M764,2249h2.7M744,2139h2.7M768,2222h2.7M750,2243h2.7M736,2249h2.7M775,2233h2.7M718,2180h2.7M762,2231h2.7M838,2134h2.7M820,2270h2.7M729,2260h2.7M843,2133h2.7M790,2243h2.7M772,2254h2.7M809,2244h2.7M777,2238h2.7M786,2257h2.7M765,2216h2.7M835,2241h2.7M742,2116h2.7M794,2228h2.7M792,2235h2.7M834,2244h2.7M750,2242h2.7M727,2267h2.7M753,2118h2.7M815,2247h2.7M798,2241h2.7M758,2249h2.7M761,2262h2.7M802,2251h2.7M741,2253h2.7M746,2229h2.7M850,2243h2.7M782,2245h2.7M802,2237h2.7M793,2242h2.7M713,2220h2.7M779,2272h2.7M760,2243h2.7M792,2240h2.7M818,2243h2.7M764,2268h2.7M801,2238h2.7M835,2239h2.7M833,2254h2.7M737,2266h2.7M793,2227h2.7M816,2241h2.7M805,2242h2.7M761,2250h2.7M793,2240h2.7M775,2260h2.7M804,2248h2.7M867,2245h2.7M742,2215h2.7M773,2257h2.7M749,2265h2.7M829,2241h2.7M748,2240h2.7M874,2244h2.7M805,2272h2.7M836,2235h2.7M744,2238h2.7M822,2232h2.7M819,2246h2.7M744,2256h2.7M742,2231h2.7M843,2275h2.7M766,2221h2.7M794,2265h2.7M760,2243h2.7M764,2242h2.7M757,2250h2.7M776,2256h2.7M726,2123h2.7M770,2243h2.7M824,2252h2.7M826,2236h2.7M741,2263h2.7M845,2230h2.7M832,2125h2.7M826,2242h2.7M790,2119h2.7M817,2248h2.7M818,2252h2.7M808,2249h2.7M768,2267h2.7M833,2266h2.7M792,2219h2.7M804,2233h2.7M832,2121h2.7M850,2245h2.7M832,2223h2.7M908,2143h2.7M737,2238h2.7M767,2268h2.7M794,2248h2.7M733,2246h2.7M857,2152h2.7M828,2257h2.7M764,2260h2.7M794,2235h2.7M797,2257h2.7M737,2249h2.7M818,2238h2.7M877,2264h2.7M801,2238h2.7M781,2253h2.7M821,2238h2.7M781,2237h2.7M825,2248h2.7M732,2187h2.7M782,2212h2.7M750,2257h2.7M823,2235h2.7M815,2247h2.7M805,2252h2.7M809,2256h2.7M844,2232h2.7M758,2249h2.7M828,2272h2.7M869,2257h2.7M782,2248h2.7M769,2253h2.7M837,2233h2.7M827,2119h2.7M751,2273h2.7M739,2241h2.7M725,2143h2.7M753,2241h2.7M799,2218h2.7M763,2253h2.7M743,2235h2.7M816,2243h2.7M815,2218h2.7M826,2226h2.7M832,2240h2.7M831,2258h2.7M856,2247h2.7M818,2259h2.7M823,2236h2.7M715,2256h2.7M768,2254h2.7M809,2235h2.7M803,2196h2.7M756,2114h2.7M867,2244h2.7M780,2250h2.7M764,2237h2.7M807,2256h2.7M827,2245h2.7M765,2266h2.7M821,2227h2.7M770,2242h2.7M839,2218h2.7M826,2242h2.7M790,2234h2.7M797,2252h2.7M813,2251h2.7M805,2260h2.7M810,2238h2.7M746,2220h2.7M786,2249h2.7M766,2245h2.7M789,2205h2.7M819,2231h2.7M743,2253h2.7M819,2219h2.7M841,2253h2.7M769,2130h2.7M778,2261h2.7M755,2234h2.7M849,2235h2.7M811,2248h2.7M807,2253h2.7M779,2262h2.7M746,2238h2.7M786,2259h2.7M863,2122h2.7M805,2250h2.7M816,2238h2.7M776,2251h2.7M815,2259h2.7M849,2149h2.7M746,2242h2.7M831,2240h2.7M826,2209h2.7M822,2229h2.7M822,2262h2.7M759,2225h2.7M849,2262h2.7M769,2247h2.7M783,2257h2.7M789,2113h2.7M808,2223h2.7M802,2225h2.7M819,2246h2.7M769,2261h2.7M791,2123h2.7M793,2251h2.7M809,2249h2.7M822,2233h2.7M849,2216h2.7M747,2232h2.7M792,2266h2.7M827,2243h2.7M737,2253h2.7M854,2135h2.7M743,2266h2.7M823,2220h2.7M797,2253h2.7M757,2130h2.7M753,2261h2.7M853,2229h2.7M817,2242h2.7M852,2144h2.7M771,2228h2.7M723,2123h2.7M770,2257h2.7M819,2245h2.7M828,2149h2.7M774,2117h2.7M819,2253h2.7M817,2103h2.7M778,2241h2.7M818,2251h2.7M720,2246h2.7M808,2266h2.7M735,2143h2.7M793,2232h2.7M785,2235h2.7M794,2253h2.7M811,2216h2.7M791,2228h2.7M826,2226h2.7M799,2240h2.7M799,2229h2.7M818,2247h2.7M778,2253h2.7M825,2229h2.7M814,2221h2.7M735,2240h2.7M818,2257h2.7M757,2121h2.7M797,2239h2.7M733,2253h2.7M753,2126h2.7M734,2241h2.7M743,2241h2.7M768,2134h2.7M772,2254h2.7M781,2247h2.7M787,2252h2.7M824,2242h2.7M823,2241h2.7M815,2253h2.7M777,2205h2.7M793,2252h2.7M833,2131h2.7M756,2164h2.7M803,2253h2.7M812,2244h2.7M898,2132h2.7M821,2247h2.7M733,2243h2.7M817,2115h2.7M806,2226h2.7M752,2210h2.7M794,2221h2.7M756,2220h2.7M863,2262h2.7M811,2255h2.7M770,2215h2.7M833,2262h2.7M731,2254h2.7M782,2237h2.7M809,2242h2.7M851,2226h2.7M829,2155h2.7M742,2102h2.7M822,2232h2.7M796,2261h2.7M747,2255h2.7M840,2247h2.7M740,2260h2.7M883,2244h2.7M820,2226h2.7M793,2231h2.7M773,2231h2.7M733,2214h2.7M772,2259h2.7M734,2224h2.7M790,2246h2.7M753,2260h2.7M834,2242h2.7M825,2257h2.7M744,2237h2.7M814,2220h2.7M801,2250h2.7M865,2240h2.7M766,2225h2.7M763,2236h2.7M820,2237h2.7M859,2256h2.7M775,2241h2.7M728,2235h2.7M807,2246h2.7M766,2220h2.7M843,2242h2.7M784,2140h2.7M784,2233h2.7M804,2256h2.7M780,2248h2.7M742,2223h2.7M767,2235h2.7M806,2120h2.7M783,2234h2.7M834,2234h2.7M742,2231h2.7M846,2119h2.7M761,2253h2.7M731,2248h2.7M826,2131h2.7M765,2108h2.7M738,2227h2.7M819,2241h2.7M746,2263h2.7M802,2216h2.7M778,2233h2.7M738,2244h2.7M750,2225h2.7M764,2227h2.7M826,2240h2.7M842,2229h2.7M790,2234h2.7M834,2236h2.7M803,2259h2.7M807,2242h2.7M798,2239h2.7M810,2231h2.7M746,2260h2.7M787,2267h2.7M811,2255h2.7M823,2262h2.7M857,2112h2.7M834,2238h2.7M791,2215h2.7M755,2249h2.7M806,2227h2.7M838,2227h2.7M798,2233h2.7M796,2212h2.7M835,2252h2.7M826,2241h2.7M813,2258h2.7M761,2251h2.7M819,2236h2.7M771,2273h2.7M728,2248h2.7M763,2208h2.7M828,2231h2.7M763,2239h2.7M777,2236h2.7M725,2251h2.7M787,2264h2.7M810,2222h2.7M732,2129h2.7M862,2113h2.7M803,2259h2.7M745,2232h2.7M797,2232h2.7M816,2252h2.7M826,2240h2.7M780,2242h2.7M875,2223h2.7M811,2242h2.7M737,2240h2.7M772,2261h2.7M747,2132h2.7M763,2272h2.7M780,2245h2.7M746,2233h2.7M821,2257h2.7M736,2259h2.7M779,2237h2.7M769,2276h2.7M753,2234h2.7M794,2256h2.7M723,2229h2.7M775,2247h2.7M842,2241h2.7M831,2258h2.7M771,2126h2.7M827,2249h2.7M823,2247h2.7M805,2234h2.7M852,2109h2.7M849,2124h2.7M744,2274h2.7M791,2236h2.7M774,2230h2.7M731,2261h2.7M832,2248h2.7M820,2126h2.7M779,2233h2.7M744,2238h2.7M817,2254h2.7M780,2248h2.7M743,2240h2.7M758,2233h2.7M830,2241h2.7M833,2258h2.7M811,2240h2.7M839,2133h2.7M766,2255h2.7M789,2242h2.7M816,2246h2.7M782,2269h2.7M814,2260h2.7M776,2241h2.7M774,2247h2.7M761,2238h2.7M769,2120h2.7M771,2234h2.7M795,2226h2.7M732,2140h2.7M767,2234h2.7M721,2238h2.7M820,2252h2.7M786,2232h2.7M873,2134h2.7M767,2233h2.7M751,2257h2.7M795,2257h2.7M750,2237h2.7M785,2245h2.7M765,2250h2.7M783,2216h2.7M757,2266h2.7M826,2238h2.7M797,2236h2.7M795,2265h2.7M765,2236h2.7M761,2263h2.7M772,2241h2.7M790,2241h2.7M788,2252h2.7M804,2230h2.7M808,2228h2.7M749,2219h2.7M813,2262h2.7M798,2222h2.7M813,2266h2.7M827,2217h2.7M734,2250h2.7M765,2221h2.7M781,2234h2.7M790,2232h2.7M814,2151h2.7M840,2272h2.7M749,2240h2.7M821,2267h2.7M802,2244h2.7M802,2216h2.7M720,2104h2.7M774,2207h2.7M815,2116h2.7M827,2249h2.7M773,2245h2.7M779,2265h2.7M809,2238h2.7M828,2223h2.7M769,2240h2.7M742,2265h2.7M745,2256h2.7M760,2244h2.7M873,2236h2.7M792,2221h2.7M840,2135h2.7M771,2262h2.7M856,2244h2.7M787,2236h2.7M750,2145h2.7M791,2250h2.7M757,2177h2.7M773,2259h2.7M777,2245h2.7M821,2219h2.7M764,2258h2.7M722,2255h2.7M770,2232h2.7M805,2216h2.7M784,2240h2.7M789,2231h2.7M770,2251h2.7M775,2270h2.7M753,2131h2.7M821,2231h2.7M831,2242h2.7M755,2243h2.7M736,2255h2.7M800,2245h2.7M746,2141h2.7M803,2233h2.7M789,2113h2.7M738,2150h2.7M805,2231h2.7M790,2235h2.7M812,2228h2.7M870,2251h2.7M756,2253h2.7M807,2224h2.7M843,2248h2.7M831,2268h2.7M840,2250h2.7M771,2213h2.7M813,2220h2.7M837,2239h2.7M824,2244h2.7M840,2225h2.7M744,2221h2.7M741,2238h2.7M770,2249h2.7M724,2231h2.7M893,2240h2.7M868,2261h2.7M752,2270h2.7M786,2259h2.7M748,2272h2.7M819,2228h2.7M838,2261h2.7M763,2256h2.7M828,2255h2.7M771,2244h2.7M752,2245h2.7M766,2256h2.7M801,2246h2.7M772,2236h2.7M792,2236h2.7M801,2275h2.7M820,2239h2.7M826,2245h2.7M834,2234h2.7M772,2244h2.7M809,2267h2.7M777,2239h2.7M744,2259h2.7M810,2150h2.7M731,2232h2.7M811,2247h2.7M755,2248h2.7M725,2211h2.7M737,2248h2.7M800,2243h2.7M822,2246h2.7M761,2242h2.7M747,2241h2.7M788,2244h2.7M744,2253h2.7M775,2225h2.7M768,2251h2.7M793,2257h2.7M759,2239h2.7M781,2234h2.7M763,2124h2.7M764,2238h2.7M857,2215h2.7M740,2248h2.7M738,2145h2.7M808,2234h2.7M856,2244h2.7M822,2247h2.7M846,2254h2.7M784,2230h2.7M807,2250h2.7M824,2245h2.7M799,2227h2.7M810,2225h2.7M810,2245h2.7M778,2262h2.7M754,2217h2.7M794,2258h2.7M801,2242h2.7M783,2274h2.7M851,2254h2.7M746,2255h2.7M754,2239h2.7M787,2250h2.7M805,2264h2.7M811,2243h2.7M827,2249h2.7M807,2252h2.7M796,2222h2.7M775,2239h2.7M742,2256h2.7M798,2246h2.7M750,2242h2.7M799,2249h2.7M760,2265h2.7M761,2241h2.7M781,2265h2.7M773,2252h2.7M827,2233h2.7M758,2249h2.7M778,2211h2.7M819,2258h2.7M802,2115h2.7M877,2143h2.7M784,2237h2.7M751,2256h2.7M751,2240h2.7M821,2260h2.7M894,2269h2.7M817,2238h2.7M728,2248h2.7M740,2235h2.7M766,2245h2.7M866,2150h2.7M777,2248h2.7M777,2224h2.7M754,2237h2.7M778,2241h2.7M759,2240h2.7M816,2227h2.7M778,2212h2.7M752,2233h2.7M744,2248h2.7M748,2256h2.7M780,2205h2.7M804,2258h2.7M820,2237h2.7M741,2214h2.7M826,2242h2.7M793,2237h2.7M773,2270h2.7M817,2238h2.7M839,2241h2.7M845,2257h2.7M757,2229h2.7M751,2229h2.7M791,2245h2.7M818,2245h2.7M765,2237h2.7M899,2134h2.7M787,2232h2.7M831,2235h2.7M844,2265h2.7M733,2230h2.7M733,2237h2.7M750,2248h2.7M782,2249h2.7M817,2237h2.7M753,2264h2.7M779,2225h2.7M775,2247h2.7M834,2262h2.7M744,2250h2.7M800,2241h2.7M768,2247h2.7M773,2250h2.7M822,2238h2.7M766,2255h2.7M769,2247h2.7M871,2258h2.7M743,2248h2.7M835,2254h2.7M830,2244h2.7M751,2251h2.7M805,2241h2.7M753,2170h2.7M749,2253h2.7M847,2148h2.7M776,2203h2.7M847,2224h2.7M747,2262h2.7" stroke="#f2141c" stroke-width="2.7" opacity="0.38" fill="none"/>
<path d="M840,2234h2.7M820,2264h2.7M751,2227h2.7M780,2220h2.7M741,2239h2.7M771,2244h2.7M752,2108h2.7M745,2249h2.7M873,2276h2.7M779,2260h2.7M748,2181h2.7M784,2264h2.7M858,2251h2.7M772,2228h2.7M803,2237h2.7M894,2123h2.7M833,2221h2.7M814,2247h2.7M766,2274h2.7M827,2242h2.7M741,2232h2.7M796,2241h2.7M754,2259h2.7M793,2249h2.7M813,2248h2.7M738,2241h2.7M717,2209h2.7M774,2249h2.7M837,2256h2.7M808,2251h2.7M743,2252h2.7M826,2242h2.7M800,2235h2.7M767,2230h2.7M766,2253h2.7M806,2245h2.7M813,2262h2.7M744,2116h2.7M784,2246h2.7M749,2114h2.7M748,2254h2.7M838,2243h2.7M761,2235h2.7M768,2254h2.7M747,2260h2.7M771,2220h2.7M803,2237h2.7M778,2255h2.7M817,2249h2.7M838,2235h2.7M838,2259h2.7M851,2235h2.7M817,2250h2.7M753,2217h2.7M789,2229h2.7M883,2114h2.7M756,2254h2.7M762,2238h2.7M801,2261h2.7M880,2253h2.7M866,2247h2.7M786,2262h2.7M762,2235h2.7M849,2229h2.7M814,2235h2.7M782,2234h2.7M872,2236h2.7M800,2239h2.7M825,2233h2.7M821,2241h2.7M805,2254h2.7M746,2126h2.7M852,2256h2.7M806,2231h2.7M815,2253h2.7M861,2123h2.7M776,2127h2.7M743,2238h2.7M806,2258h2.7M779,2127h2.7M801,2247h2.7M743,2195h2.7M821,2264h2.7M856,2130h2.7M785,2252h2.7M766,2237h2.7M775,2257h2.7M768,2247h2.7M905,2255h2.7M790,2237h2.7M727,2265h2.7M753,2265h2.7M755,2142h2.7M771,2253h2.7M771,2236h2.7M823,2234h2.7M758,2170h2.7M868,2243h2.7M760,2237h2.7M832,2224h2.7M757,2273h2.7M792,2241h2.7M759,2234h2.7M828,2227h2.7M731,2257h2.7M797,2233h2.7M768,2239h2.7M817,2121h2.7M788,2259h2.7M757,2212h2.7M808,2251h2.7M766,2213h2.7M795,2241h2.7M841,2252h2.7M742,2237h2.7M738,2206h2.7M799,2240h2.7M810,2256h2.7M813,2259h2.7M780,2234h2.7M830,2245h2.7M797,2248h2.7M821,2236h2.7M733,2189h2.7M828,2224h2.7M838,2241h2.7M742,2256h2.7M814,2223h2.7M801,2243h2.7M831,2232h2.7M806,2246h2.7M855,2226h2.7M752,2123h2.7M767,2236h2.7M737,2261h2.7M747,2273h2.7M806,2247h2.7M779,2228h2.7M760,2245h2.7M835,2238h2.7M750,2122h2.7M871,2120h2.7M775,2262h2.7M786,2248h2.7M781,2259h2.7M887,2254h2.7M712,2234h2.7M767,2225h2.7M757,2229h2.7M848,2240h2.7M766,2236h2.7M889,2236h2.7M838,2244h2.7M766,2239h2.7M857,2268h2.7M799,2233h2.7M866,2112h2.7M816,2234h2.7M842,2242h2.7M753,2124h2.7M847,2249h2.7M819,2256h2.7M773,2216h2.7M774,2243h2.7M777,2245h2.7M765,2243h2.7M800,2254h2.7M748,2212h2.7M766,2227h2.7M792,2242h2.7M749,2272h2.7M801,2114h2.7M823,2262h2.7M789,2238h2.7M761,2253h2.7M752,2236h2.7M821,2241h2.7M839,2258h2.7M859,2125h2.7M819,2262h2.7M875,2119h2.7M829,2234h2.7M817,2257h2.7M837,2241h2.7M863,2251h2.7M730,2237h2.7M785,2253h2.7M775,2252h2.7M789,2253h2.7M811,2249h2.7M772,2232h2.7M804,2265h2.7M756,2263h2.7M832,2230h2.7M851,2236h2.7M767,2120h2.7M828,2233h2.7M816,2109h2.7M804,2252h2.7M777,2255h2.7M821,2247h2.7M716,2227h2.7M739,2240h2.7M792,2247h2.7M738,2144h2.7M723,2112h2.7M779,2262h2.7M737,2105h2.7M821,2238h2.7M860,2255h2.7M803,2220h2.7M750,2252h2.7M791,2244h2.7M764,2254h2.7M809,2267h2.7M747,2253h2.7M724,2224h2.7M835,2234h2.7M761,2269h2.7M820,2135h2.7M748,2237h2.7M846,2242h2.7M858,2257h2.7M770,2120h2.7M744,2244h2.7M785,2234h2.7M758,2259h2.7M809,2250h2.7M765,2214h2.7M790,2257h2.7M763,2245h2.7M729,2196h2.7M797,2215h2.7M755,2269h2.7M833,2220h2.7M740,2212h2.7M804,2253h2.7M761,2254h2.7M787,2227h2.7M789,2247h2.7M812,2228h2.7M766,2249h2.7M775,2244h2.7M744,2167h2.7M800,2234h2.7M813,2243h2.7M743,2226h2.7M810,2228h2.7M795,2238h2.7M812,2258h2.7M764,2243h2.7M801,2236h2.7M824,2236h2.7M817,2238h2.7M814,2222h2.7M786,2245h2.7M757,2272h2.7M747,2110h2.7M715,2106h2.7M792,2207h2.7M776,2239h2.7M855,2106h2.7M729,2256h2.7M805,2229h2.7M755,2221h2.7M803,2232h2.7M756,2242h2.7M850,2113h2.7M761,2253h2.7M819,2205h2.7M896,2115h2.7M772,2251h2.7M797,2245h2.7M757,2242h2.7M758,2246h2.7M802,2250h2.7M845,2115h2.7M818,2262h2.7M765,2247h2.7M808,2230h2.7M845,2235h2.7M802,2119h2.7M807,2248h2.7M816,2235h2.7M844,2111h2.7M760,2262h2.7M778,2130h2.7M843,2230h2.7M796,2223h2.7M833,2254h2.7M754,2253h2.7M847,2264h2.7M729,2258h2.7M767,2257h2.7M750,2172h2.7M738,2269h2.7M771,2213h2.7M725,2222h2.7M760,2242h2.7M855,2145h2.7M806,2236h2.7M787,2226h2.7M822,2257h2.7M843,2254h2.7M760,2257h2.7M834,2237h2.7M755,2138h2.7M826,2246h2.7M811,2257h2.7M809,2244h2.7M765,2248h2.7M842,2219h2.7M780,2245h2.7M781,2211h2.7M872,2141h2.7M766,2254h2.7M780,2239h2.7M755,2243h2.7M763,2130h2.7M827,2240h2.7M752,2258h2.7M832,2250h2.7M779,2254h2.7M766,2235h2.7M801,2263h2.7M771,2268h2.7M787,2239h2.7M770,2222h2.7M791,2253h2.7M766,2251h2.7M832,2218h2.7M867,2107h2.7M762,2235h2.7M836,2228h2.7M795,2231h2.7M740,2242h2.7M738,2109h2.7M754,2240h2.7M806,2254h2.7M765,2232h2.7M807,2234h2.7M808,2223h2.7M790,2252h2.7M762,2267h2.7M783,2237h2.7M768,2258h2.7M823,2271h2.7M762,2251h2.7M786,2249h2.7M787,2116h2.7M804,2219h2.7M817,2250h2.7M816,2237h2.7M777,2238h2.7M781,2249h2.7M848,2240h2.7M803,2234h2.7M748,2229h2.7M736,2252h2.7M748,2233h2.7M820,2259h2.7M750,2207h2.7M736,2270h2.7M764,2253h2.7M795,2253h2.7M765,2234h2.7M848,2233h2.7M817,2249h2.7M866,2119h2.7M824,2236h2.7M813,2255h2.7M793,2234h2.7M788,2253h2.7M841,2251h2.7M754,2238h2.7M768,2242h2.7M730,2236h2.7M834,2268h2.7M762,2252h2.7M799,2110h2.7M767,2250h2.7M729,2248h2.7M776,2246h2.7M835,2258h2.7M780,2236h2.7M784,2242h2.7M840,2226h2.7M834,2155h2.7M758,2228h2.7M730,2109h2.7M837,2265h2.7M746,2230h2.7M747,2254h2.7M762,2232h2.7M792,2253h2.7M765,2253h2.7M751,2223h2.7M797,2121h2.7M751,2250h2.7M795,2255h2.7M714,2228h2.7M763,2253h2.7M793,2204h2.7M840,2139h2.7M756,2253h2.7M789,2241h2.7M786,2241h2.7M798,2255h2.7M779,2245h2.7M860,2240h2.7M733,2213h2.7M806,2224h2.7M778,2229h2.7M779,2171h2.7M779,2269h2.7M779,2238h2.7M768,2236h2.7M845,2134h2.7M837,2230h2.7M843,2243h2.7M834,2251h2.7M725,2253h2.7M746,2248h2.7M815,2215h2.7M762,2260h2.7M731,2256h2.7M776,2242h2.7M762,2261h2.7M740,2125h2.7M792,2232h2.7M785,2225h2.7M803,2226h2.7M827,2271h2.7M852,2245h2.7M773,2119h2.7M819,2242h2.7M781,2233h2.7M861,2088h2.7M871,2136h2.7M767,2229h2.7M787,2233h2.7M864,2241h2.7M803,2230h2.7M736,2102h2.7M751,2275h2.7M786,2253h2.7M838,2263h2.7M776,2236h2.7M727,2115h2.7M784,2263h2.7M771,2259h2.7M819,2246h2.7M768,2123h2.7M828,2254h2.7M743,2233h2.7M779,2239h2.7M813,2243h2.7M781,2275h2.7M798,2249h2.7M769,2267h2.7M791,2218h2.7M735,2245h2.7M769,2227h2.7M711,2246h2.7M800,2237h2.7M755,2261h2.7M774,2237h2.7M751,2236h2.7M797,2228h2.7M838,2130h2.7M780,2227h2.7M807,2256h2.7M830,2239h2.7M780,2257h2.7M806,2132h2.7M759,2260h2.7M764,2243h2.7M815,2250h2.7M816,2219h2.7M775,2267h2.7M762,2225h2.7M732,2109h2.7M835,2223h2.7M862,2221h2.7M772,2246h2.7M752,2243h2.7M815,2232h2.7M750,2234h2.7M759,2241h2.7M868,2118h2.7M805,2230h2.7M749,2243h2.7M787,2228h2.7M809,2270h2.7M818,2117h2.7M781,2249h2.7M838,2252h2.7M791,2268h2.7M785,2265h2.7M800,2260h2.7M817,2225h2.7M800,2238h2.7M756,2254h2.7M800,2255h2.7M800,2235h2.7M761,2236h2.7M808,2234h2.7M761,2233h2.7M832,2139h2.7M768,2244h2.7M754,2124h2.7M767,2211h2.7M835,2242h2.7M825,2137h2.7M853,2239h2.7M786,2246h2.7M842,2241h2.7M761,2245h2.7M775,2261h2.7M851,2240h2.7M780,2262h2.7M785,2243h2.7M854,2124h2.7M788,2234h2.7M735,2214h2.7M822,2243h2.7M830,2263h2.7M837,2139h2.7M792,2256h2.7M797,2270h2.7M834,2268h2.7M743,2228h2.7M776,2250h2.7M752,2263h2.7M775,2250h2.7M785,2237h2.7M807,2248h2.7M736,2255h2.7M760,2257h2.7M793,2259h2.7M793,2256h2.7M791,2274h2.7M781,2244h2.7M829,2240h2.7M752,2265h2.7M762,2263h2.7M863,2124h2.7M733,2217h2.7M825,2211h2.7M715,2117h2.7M776,2225h2.7M801,2228h2.7M804,2148h2.7M816,2245h2.7M786,2125h2.7M797,2221h2.7M794,2219h2.7M780,2255h2.7M808,2245h2.7M740,2235h2.7M766,2237h2.7M771,2233h2.7M787,2218h2.7M730,2263h2.7M802,2248h2.7M834,2225h2.7M823,2224h2.7M732,2126h2.7M739,2248h2.7M806,2262h2.7M715,2225h2.7M739,2258h2.7M752,2238h2.7M830,2113h2.7M819,2237h2.7M740,2261h2.7M813,2250h2.7M713,2140h2.7M826,2243h2.7M812,2223h2.7M776,2246h2.7M845,2234h2.7M816,2137h2.7M839,2249h2.7M812,2119h2.7M818,2252h2.7M859,2258h2.7M781,2247h2.7M813,2235h2.7M815,2227h2.7M724,2228h2.7M817,2237h2.7M773,2258h2.7M836,2224h2.7M778,2247h2.7M818,2243h2.7M786,2227h2.7M810,2251h2.7M812,2226h2.7M772,2149h2.7M734,2213h2.7M873,2144h2.7M770,2248h2.7M823,2238h2.7M833,2214h2.7M860,2122h2.7M719,2133h2.7M776,2241h2.7M845,2264h2.7M827,2248h2.7M753,2248h2.7M764,2240h2.7M761,2132h2.7M807,2244h2.7M848,2142h2.7M772,2232h2.7M774,2218h2.7M821,2248h2.7M765,2253h2.7M836,2145h2.7M790,2225h2.7M823,2245h2.7M736,2263h2.7M722,2238h2.7M749,2217h2.7M857,2131h2.7M755,2241h2.7M780,2216h2.7M784,2241h2.7M839,2265h2.7M808,2229h2.7M814,2242h2.7M735,2120h2.7M730,2231h2.7M787,2257h2.7M798,2235h2.7M832,2238h2.7M764,2248h2.7M776,2259h2.7M723,2254h2.7M807,2243h2.7M824,2246h2.7M714,2235h2.7M838,2230h2.7M813,2226h2.7M807,2224h2.7M779,2197h2.7M855,2234h2.7M749,2252h2.7M768,2124h2.7M779,2245h2.7M801,2272h2.7M750,2252h2.7M766,2268h2.7M838,2230h2.7M748,2134h2.7M738,2244h2.7M827,2245h2.7M747,2235h2.7M785,2257h2.7M753,2237h2.7M726,2142h2.7M760,2122h2.7M738,2242h2.7M871,2248h2.7M726,2240h2.7M793,2226h2.7M762,2241h2.7M719,2255h2.7M772,2252h2.7M772,2240h2.7M835,2241h2.7M833,2230h2.7M804,2231h2.7M755,2259h2.7M833,2236h2.7M807,2237h2.7M764,2262h2.7M751,2255h2.7M753,2240h2.7M794,2235h2.7M795,2243h2.7M817,2250h2.7M776,2258h2.7M780,2254h2.7M828,2262h2.7M739,2246h2.7M760,2248h2.7M749,2228h2.7M763,2265h2.7M786,2260h2.7M811,2250h2.7M834,2244h2.7M819,2258h2.7M820,2220h2.7M748,2254h2.7M812,2229h2.7M806,2244h2.7M782,2235h2.7M798,2228h2.7M798,2248h2.7M847,2118h2.7M834,2224h2.7M800,2234h2.7M876,2101h2.7M759,2132h2.7M765,2232h2.7M795,2233h2.7M787,2220h2.7M736,2244h2.7M773,2252h2.7M791,2261h2.7M773,2209h2.7M832,2272h2.7M733,2131h2.7M747,2267h2.7M766,2206h2.7M830,2233h2.7M798,2235h2.7M818,2224h2.7M771,2242h2.7M773,2262h2.7M825,2229h2.7M839,2250h2.7M802,2239h2.7M828,2261h2.7M886,2237h2.7M813,2230h2.7M788,2220h2.7M825,2224h2.7M827,2121h2.7M868,2264h2.7M725,2256h2.7M815,2264h2.7M765,2240h2.7M747,2233h2.7M786,2238h2.7M761,2268h2.7M819,2273h2.7M846,2119h2.7M768,2251h2.7M767,2264h2.7M774,2255h2.7M739,2236h2.7M778,2231h2.7M885,2114h2.7M815,2237h2.7M852,2248h2.7M767,2113h2.7M738,2245h2.7M767,2236h2.7M818,2230h2.7M839,2243h2.7M719,2220h2.7M795,2258h2.7M785,2248h2.7M811,2242h2.7M828,2236h2.7M802,2252h2.7M757,2231h2.7M773,2237h2.7M855,2146h2.7M828,2255h2.7M843,2247h2.7M797,2212h2.7M785,2265h2.7M732,2245h2.7M753,2242h2.7M768,2243h2.7M727,2245h2.7M797,2249h2.7M757,2242h2.7M775,2241h2.7M743,2221h2.7M779,2251h2.7M773,2226h2.7M743,2256h2.7M742,2254h2.7M792,2231h2.7M824,2251h2.7M843,2248h2.7M812,2253h2.7M763,2275h2.7M748,2224h2.7M789,2217h2.7M744,2231h2.7M749,2156h2.7M763,2108h2.7M809,2264h2.7M831,2247h2.7M755,2205h2.7M844,2251h2.7M753,2236h2.7M798,2264h2.7M745,2235h2.7M816,2251h2.7M768,2118h2.7M780,2230h2.7M819,2237h2.7M744,2135h2.7M725,2268h2.7M756,2253h2.7M733,2242h2.7M802,2259h2.7M763,2242h2.7M769,2257h2.7M751,2245h2.7M797,2240h2.7M782,2235h2.7M781,2128h2.7M819,2249h2.7M812,2210h2.7M807,2098h2.7M783,2246h2.7M829,2113h2.7M754,2134h2.7M807,2228h2.7M793,2239h2.7M760,2241h2.7M805,2241h2.7M814,2241h2.7M816,2232h2.7M711,2228h2.7M794,2245h2.7M821,2234h2.7M786,2237h2.7M796,2129h2.7M795,2244h2.7M748,2248h2.7M789,2228h2.7M881,2238h2.7M764,2244h2.7M748,2255h2.7M779,2135h2.7M848,2245h2.7M735,2127h2.7M785,2170h2.7M788,2264h2.7M785,2266h2.7M815,2243h2.7M764,2136h2.7M851,2219h2.7M850,2249h2.7M744,2241h2.7M795,2251h2.7M766,2217h2.7M807,2246h2.7M914,2132h2.7M871,2236h2.7M767,2135h2.7M799,2244h2.7M763,2244h2.7M824,2265h2.7M800,2243h2.7M781,2243h2.7M713,2255h2.7M812,2246h2.7M801,2266h2.7M820,2255h2.7M818,2262h2.7M761,2219h2.7M731,2253h2.7M802,2252h2.7M815,2238h2.7M793,2231h2.7M752,2245h2.7M761,2249h2.7M787,2234h2.7M799,2220h2.7M745,2152h2.7M823,2129h2.7M782,2130h2.7M732,2173h2.7M831,2245h2.7M812,2266h2.7M738,2231h2.7M764,2236h2.7M796,2262h2.7M777,2264h2.7M830,2233h2.7M800,2231h2.7M815,2247h2.7M800,2229h2.7M841,2264h2.7M766,2249h2.7M755,2215h2.7M893,2129h2.7M812,2257h2.7M796,2260h2.7M811,2237h2.7M792,2250h2.7M743,2237h2.7M747,2247h2.7M736,2227h2.7M833,2253h2.7M775,2264h2.7M844,2135h2.7M817,2254h2.7M849,2238h2.7M809,2250h2.7M754,2228h2.7M774,2212h2.7M813,2243h2.7M773,2239h2.7M823,2249h2.7M794,2215h2.7M835,2251h2.7M756,2264h2.7M789,2266h2.7M754,2245h2.7M838,2239h2.7M836,2225h2.7M742,2130h2.7M767,2245h2.7M833,2228h2.7M833,2270h2.7M769,2264h2.7M807,2229h2.7M792,2235h2.7M747,2215h2.7M726,2268h2.7M749,2122h2.7M774,2256h2.7" stroke="#f2141c" stroke-width="2.7" opacity="0.38" fill="none"/>
<path d="M843,2223h2.7M781,2261h2.7M735,2232h2.7M841,2242h2.7M863,2249h2.7M794,2254h2.7M807,2119h2.7M763,2236h2.7M754,2232h2.7M853,2239h2.7M738,2240h2.7M729,2255h2.7M762,2134h2.7M776,2249h2.7M768,2215h2.7M776,2229h2.7M754,2221h2.7M878,2237h2.7M847,2230h2.7M856,2248h2.7M803,2247h2.7M718,2273h2.7M807,2262h2.7M785,2261h2.7M723,2234h2.7M721,2247h2.7M754,2214h2.7M747,2239h2.7M793,2226h2.7M838,2131h2.7M765,2138h2.7M804,2242h2.7M790,2213h2.7M796,2219h2.7M766,2233h2.7M733,2249h2.7M777,2247h2.7M804,2245h2.7M779,2253h2.7M845,2137h2.7M820,2240h2.7M776,2232h2.7M851,2242h2.7M775,2127h2.7M771,2215h2.7M767,2237h2.7M764,2221h2.7M809,2233h2.7M768,2237h2.7M852,2242h2.7M837,2232h2.7M732,2240h2.7M763,2258h2.7M855,2110h2.7M806,2236h2.7M758,2241h2.7M810,2260h2.7M823,2254h2.7M766,2244h2.7M812,2235h2.7M858,2107h2.7M789,2274h2.7M788,2257h2.7M800,2224h2.7M793,2236h2.7M855,2236h2.7M803,2236h2.7M806,2250h2.7M771,2248h2.7M746,2115h2.7M773,2242h2.7M843,2251h2.7M757,2265h2.7M731,2223h2.7M838,2142h2.7M783,2244h2.7M817,2257h2.7M839,2242h2.7M754,2252h2.7M758,2247h2.7M827,2266h2.7M849,2230h2.7M773,2244h2.7M766,2257h2.7M726,2236h2.7M739,2188h2.7M832,2260h2.7M861,2119h2.7M839,2259h2.7M777,2128h2.7M788,2250h2.7M769,2219h2.7M780,2257h2.7M816,2128h2.7M806,2251h2.7M823,2143h2.7M806,2262h2.7M774,2242h2.7M746,2243h2.7M830,2219h2.7M758,2240h2.7M771,2266h2.7M776,2134h2.7M841,2271h2.7M805,2225h2.7M818,2238h2.7M740,2244h2.7M774,2256h2.7M744,2243h2.7M840,2247h2.7M816,2255h2.7M768,2242h2.7M769,2255h2.7M825,2235h2.7M780,2241h2.7M749,2258h2.7M755,2131h2.7M795,2224h2.7M806,2261h2.7M767,2226h2.7M735,2263h2.7M808,2239h2.7M783,2250h2.7M754,2263h2.7M724,2256h2.7M819,2231h2.7M808,2247h2.7M757,2262h2.7M770,2239h2.7M737,2234h2.7M723,2239h2.7M762,2243h2.7M803,2251h2.7M796,2250h2.7M777,2259h2.7M755,2247h2.7M726,2248h2.7M772,2252h2.7M817,2257h2.7M853,2237h2.7M756,2269h2.7M851,2239h2.7M831,2244h2.7M832,2110h2.7M756,2248h2.7M810,2251h2.7M853,2239h2.7M805,2229h2.7M834,2135h2.7M746,2244h2.7M809,2255h2.7M810,2238h2.7M805,2240h2.7M792,2233h2.7M780,2221h2.7M758,2240h2.7M772,2125h2.7M766,2230h2.7M771,2221h2.7M791,2250h2.7M814,2218h2.7M772,2232h2.7M897,2246h2.7M795,2257h2.7M743,2202h2.7M800,2232h2.7M805,2237h2.7M865,2233h2.7M802,2233h2.7M797,2241h2.7M744,2247h2.7M732,2243h2.7M762,2254h2.7M762,2225h2.7M771,2223h2.7M830,2240h2.7M733,2185h2.7M794,2260h2.7M758,2266h2.7M782,2263h2.7M744,2234h2.7M809,2264h2.7M841,2239h2.7M785,2229h2.7M860,2248h2.7M772,2228h2.7M808,2249h2.7M745,2225h2.7M802,2243h2.7M809,2258h2.7M817,2262h2.7M825,2227h2.7M793,2241h2.7M751,2268h2.7M727,2246h2.7M817,2252h2.7M843,2233h2.7M803,2258h2.7M854,2252h2.7M868,2241h2.7M883,2240h2.7M752,2222h2.7M807,2239h2.7M792,2246h2.7M783,2263h2.7M787,2242h2.7M811,2256h2.7M762,2236h2.7M855,2236h2.7M780,2237h2.7M868,2254h2.7M775,2259h2.7M813,2241h2.7M743,2238h2.7M741,2256h2.7M758,2265h2.7M843,2252h2.7M761,2241h2.7M749,2256h2.7M836,2232h2.7M761,2233h2.7M785,2244h2.7M810,2238h2.7M737,2233h2.7M758,2273h2.7M824,2237h2.7M800,2262h2.7M811,2253h2.7M782,2234h2.7M764,2244h2.7M806,2230h2.7M775,2243h2.7M865,2229h2.7M861,2226h2.7M838,2255h2.7M829,2255h2.7M820,2257h2.7M838,2232h2.7M771,2124h2.7M796,2226h2.7M816,2243h2.7M797,2222h2.7M757,2265h2.7M772,2231h2.7M833,2229h2.7M805,2242h2.7M802,2229h2.7M746,2242h2.7M726,2246h2.7M860,2141h2.7M739,2227h2.7M774,2228h2.7M766,2245h2.7M780,2245h2.7M772,2254h2.7M779,2263h2.7M823,2249h2.7M744,2247h2.7M750,2234h2.7M768,2120h2.7M793,2248h2.7M829,2235h2.7M865,2216h2.7M820,2265h2.7M774,2254h2.7M804,2253h2.7M782,2274h2.7M789,2258h2.7M820,2259h2.7M767,2122h2.7M731,2234h2.7M786,2263h2.7M796,2234h2.7M804,2245h2.7M775,2236h2.7M868,2258h2.7M841,2232h2.7M798,2226h2.7M813,2248h2.7M811,2254h2.7M827,2127h2.7M752,2232h2.7M786,2230h2.7M813,2237h2.7M732,2251h2.7M880,2244h2.7M812,2268h2.7M799,2239h2.7M834,2234h2.7M817,2244h2.7M755,2113h2.7M768,2123h2.7M819,2122h2.7M745,2230h2.7M808,2256h2.7M743,2249h2.7M780,2240h2.7M749,2229h2.7M759,2233h2.7M860,2230h2.7M784,2226h2.7M857,2253h2.7M873,2236h2.7M755,2200h2.7M797,2249h2.7M791,2237h2.7M758,2231h2.7M820,2236h2.7M803,2253h2.7M830,2251h2.7M726,2241h2.7M803,2238h2.7M737,2183h2.7M713,2231h2.7M801,2244h2.7M827,2211h2.7M839,2240h2.7M821,2240h2.7M794,2244h2.7M838,2268h2.7M831,2260h2.7M724,2262h2.7M775,2272h2.7M790,2251h2.7M760,2219h2.7M825,2209h2.7M865,2129h2.7M746,2271h2.7M763,2251h2.7M788,2238h2.7M772,2262h2.7M802,2134h2.7M811,2231h2.7M756,2221h2.7M825,2252h2.7M813,2243h2.7M744,2229h2.7M832,2237h2.7M805,2237h2.7M733,2260h2.7M839,2248h2.7M828,2248h2.7M765,2235h2.7M869,2242h2.7M829,2230h2.7M776,2251h2.7M792,2117h2.7M788,2248h2.7M816,2251h2.7M824,2244h2.7M841,2259h2.7M760,2113h2.7M809,2121h2.7M774,2231h2.7M803,2232h2.7M890,2121h2.7M751,2246h2.7M760,2242h2.7M769,2234h2.7M860,2268h2.7M777,2273h2.7M719,2118h2.7M739,2241h2.7M839,2257h2.7M776,2259h2.7M801,2232h2.7M745,2239h2.7M815,2254h2.7M764,2257h2.7M886,2123h2.7M801,2232h2.7M812,2241h2.7M725,2224h2.7M815,2243h2.7M813,2248h2.7M823,2227h2.7M768,2210h2.7M835,2241h2.7M784,2248h2.7M848,2223h2.7M791,2247h2.7M825,2240h2.7M758,2244h2.7M766,2236h2.7M761,2238h2.7M803,2256h2.7M762,2223h2.7M801,2237h2.7M834,2103h2.7M785,2270h2.7M820,2240h2.7M815,2251h2.7M824,2215h2.7M801,2120h2.7M810,2260h2.7M805,2222h2.7M750,2271h2.7M804,2245h2.7M815,2260h2.7M823,2256h2.7M822,2126h2.7M849,2244h2.7M724,2238h2.7M808,2207h2.7M799,2241h2.7M762,2240h2.7M753,2226h2.7M817,2275h2.7M772,2213h2.7M771,2249h2.7M780,2220h2.7M761,2231h2.7M804,2245h2.7M785,2233h2.7M747,2222h2.7M829,2248h2.7M809,2233h2.7M853,2227h2.7M757,2216h2.7M776,2205h2.7M769,2217h2.7M873,2255h2.7M759,2273h2.7M736,2124h2.7M746,2266h2.7M864,2138h2.7M783,2228h2.7M869,2234h2.7M831,2267h2.7M780,2254h2.7M779,2240h2.7M721,2180h2.7M740,2128h2.7M888,2245h2.7M763,2243h2.7M758,2249h2.7M822,2259h2.7M725,2228h2.7M757,2253h2.7M816,2245h2.7M746,2242h2.7M785,2234h2.7M828,2227h2.7M774,2136h2.7M799,2236h2.7M845,2114h2.7M757,2234h2.7M867,2245h2.7M751,2227h2.7M873,2239h2.7M762,2130h2.7M766,2229h2.7M855,2237h2.7M767,2247h2.7M784,2226h2.7M790,2235h2.7M761,2243h2.7M796,2245h2.7M841,2264h2.7M776,2241h2.7M843,2236h2.7M797,2237h2.7M771,2269h2.7M751,2235h2.7M828,2247h2.7M856,2119h2.7M829,2246h2.7M740,2257h2.7M772,2123h2.7M823,2234h2.7M795,2121h2.7M863,2241h2.7M829,2275h2.7M836,2243h2.7M754,2249h2.7M739,2244h2.7M766,2245h2.7M834,2146h2.7M861,2247h2.7M826,2244h2.7M812,2237h2.7M795,2272h2.7M758,2174h2.7M756,2212h2.7M784,2244h2.7M817,2257h2.7M757,2252h2.7M814,2246h2.7M738,2244h2.7M735,2226h2.7M721,2275h2.7M735,2239h2.7M775,2252h2.7M759,2252h2.7M796,2231h2.7M799,2235h2.7M727,2170h2.7M817,2123h2.7M763,2228h2.7M717,2268h2.7M778,2232h2.7M850,2245h2.7M848,2240h2.7M865,2245h2.7M777,2253h2.7M804,2258h2.7M728,2266h2.7M792,2244h2.7M771,2230h2.7M869,2247h2.7M801,2241h2.7M783,2265h2.7M828,2211h2.7M822,2236h2.7M745,2121h2.7M786,2244h2.7M780,2113h2.7M749,2245h2.7M742,2232h2.7M757,2249h2.7M841,2228h2.7M782,2236h2.7M713,2218h2.7M751,2230h2.7M788,2235h2.7M829,2242h2.7M770,2257h2.7M762,2258h2.7M832,2250h2.7M795,2130h2.7M771,2239h2.7M824,2235h2.7M803,2243h2.7M790,2240h2.7M798,2248h2.7M868,2247h2.7M765,2250h2.7M811,2268h2.7M793,2219h2.7M808,2216h2.7M754,2239h2.7M740,2251h2.7M763,2259h2.7M749,2234h2.7M822,2241h2.7M853,2142h2.7M818,2119h2.7M788,2232h2.7M802,2218h2.7M733,2214h2.7M786,2198h2.7M764,2241h2.7M752,2228h2.7M788,2261h2.7M832,2251h2.7M809,2237h2.7M731,2234h2.7M738,2250h2.7M842,2122h2.7M802,2272h2.7M811,2246h2.7M807,2228h2.7M778,2265h2.7M747,2241h2.7M748,2224h2.7M784,2270h2.7M871,2267h2.7M754,2253h2.7M727,2248h2.7M804,2237h2.7M787,2257h2.7M864,2232h2.7M733,2109h2.7M826,2244h2.7M753,2180h2.7M846,2136h2.7M773,2251h2.7M785,2225h2.7M827,2132h2.7M808,2231h2.7M738,2258h2.7M756,2259h2.7M852,2235h2.7M838,2214h2.7M782,2253h2.7M773,2223h2.7M773,2119h2.7M732,2236h2.7M741,2252h2.7M837,2236h2.7M781,2266h2.7M761,2264h2.7M748,2237h2.7M870,2219h2.7M715,2240h2.7M728,2250h2.7M786,2270h2.7M748,2240h2.7M745,2275h2.7M839,2217h2.7M782,2230h2.7M789,2251h2.7M834,2133h2.7M798,2239h2.7M789,2219h2.7M791,2251h2.7M830,2234h2.7M759,2254h2.7M770,2226h2.7M771,2232h2.7M813,2234h2.7M734,2247h2.7M755,2228h2.7M860,2132h2.7M790,2259h2.7M841,2206h2.7M830,2246h2.7M816,2260h2.7M787,2232h2.7M807,2233h2.7M756,2254h2.7M847,2093h2.7M878,2270h2.7M766,2230h2.7M840,2262h2.7M804,2233h2.7M770,2250h2.7M861,2234h2.7M834,2244h2.7M761,2250h2.7M855,2150h2.7M751,2236h2.7M768,2247h2.7M880,2118h2.7M734,2169h2.7M767,2254h2.7M807,2228h2.7M745,2248h2.7M840,2231h2.7M736,2256h2.7M854,2107h2.7M712,2248h2.7M848,2103h2.7M814,2248h2.7M757,2237h2.7M761,2224h2.7M716,2229h2.7M848,2099h2.7M757,2224h2.7M787,2263h2.7M752,2272h2.7M772,2245h2.7M783,2210h2.7M821,2275h2.7M819,2228h2.7M824,2257h2.7M774,2239h2.7M734,2253h2.7M765,2270h2.7M752,2260h2.7M835,2239h2.7M772,2225h2.7M774,2245h2.7M795,2260h2.7M872,2211h2.7M811,2258h2.7M788,2233h2.7M754,2247h2.7M814,2244h2.7M833,2240h2.7M765,2227h2.7M799,2238h2.7M729,2260h2.7M751,2236h2.7M773,2222h2.7M767,2134h2.7M795,2225h2.7M762,2245h2.7M844,2230h2.7M831,2259h2.7M753,2256h2.7M772,2240h2.7M823,2255h2.7M715,2251h2.7M818,2252h2.7M849,2237h2.7M793,2223h2.7M748,2239h2.7M730,2256h2.7M840,2127h2.7M839,2139h2.7M737,2116h2.7M786,2232h2.7M825,2244h2.7M737,2133h2.7M773,2234h2.7M762,2139h2.7M802,2249h2.7M743,2122h2.7M756,2254h2.7M854,2236h2.7M719,2128h2.7M792,2272h2.7M815,2234h2.7M750,2249h2.7M882,2242h2.7M871,2247h2.7M842,2262h2.7M760,2240h2.7M786,2247h2.7M759,2273h2.7M740,2274h2.7M857,2244h2.7M719,2237h2.7M846,2114h2.7M748,2261h2.7M777,2248h2.7M762,2247h2.7M821,2249h2.7M769,2129h2.7M774,2114h2.7M831,2254h2.7M764,2262h2.7M810,2231h2.7M771,2248h2.7M839,2227h2.7M730,2124h2.7M802,2243h2.7M784,2241h2.7M872,2253h2.7M810,2246h2.7M792,2241h2.7M784,2243h2.7M788,2247h2.7M811,2223h2.7M821,2240h2.7M734,2219h2.7M819,2236h2.7M774,2258h2.7M742,2140h2.7M773,2242h2.7M799,2234h2.7M864,2120h2.7M712,2249h2.7M810,2251h2.7M810,2229h2.7M803,2262h2.7M762,2129h2.7M805,2269h2.7M765,2228h2.7M808,2252h2.7M767,2235h2.7M863,2243h2.7M711,2223h2.7M801,2232h2.7M851,2234h2.7M881,2226h2.7M806,2132h2.7M794,2265h2.7M815,2236h2.7M828,2244h2.7M833,2140h2.7M783,2227h2.7M789,2258h2.7M842,2241h2.7M745,2231h2.7M824,2269h2.7M734,2245h2.7M773,2133h2.7M791,2233h2.7M814,2244h2.7M783,2245h2.7M809,2249h2.7M748,2241h2.7M791,2227h2.7M800,2235h2.7M787,2258h2.7M840,2220h2.7M828,2236h2.7M800,2254h2.7M774,2235h2.7M838,2244h2.7M739,2183h2.7M795,2254h2.7M732,2236h2.7M843,2238h2.7M826,2235h2.7M799,2248h2.7M740,2205h2.7M798,2249h2.7M741,2241h2.7M718,2208h2.7M776,2258h2.7M799,2234h2.7M820,2257h2.7M770,2251h2.7M843,2216h2.7M739,2241h2.7M733,2223h2.7M798,2241h2.7M845,2246h2.7M786,2266h2.7M799,2250h2.7M854,2134h2.7M851,2119h2.7M849,2243h2.7M849,2134h2.7M748,2225h2.7M821,2207h2.7M833,2229h2.7M807,2241h2.7M790,2243h2.7M832,2251h2.7M782,2259h2.7M806,2231h2.7M844,2259h2.7M834,2249h2.7M731,2235h2.7M809,2260h2.7M784,2233h2.7M803,2245h2.7M792,2257h2.7M782,2246h2.7M840,2262h2.7M780,2117h2.7M826,2227h2.7M757,2237h2.7M796,2260h2.7M758,2242h2.7M852,2108h2.7M791,2228h2.7M769,2253h2.7M873,2231h2.7M761,2250h2.7M792,2243h2.7M844,2237h2.7M744,2248h2.7M757,2241h2.7M781,2230h2.7M794,2251h2.7M724,2228h2.7M783,2252h2.7M821,2221h2.7M862,2105h2.7M765,2225h2.7M755,2242h2.7M835,2239h2.7M730,2144h2.7M731,2246h2.7M764,2252h2.7M733,2250h2.7M790,2231h2.7M743,2244h2.7M779,2248h2.7M815,2244h2.7M781,2255h2.7M757,2134h2.7M838,2238h2.7M820,2223h2.7M750,2240h2.7M765,2246h2.7M744,2236h2.7M775,2128h2.7M891,2260h2.7M792,2250h2.7M757,2253h2.7M829,2238h2.7M730,2263h2.7M765,2243h2.7M769,2250h2.7M853,2245h2.7M856,2226h2.7M816,2246h2.7M843,2233h2.7M775,2252h2.7M755,2239h2.7M796,2261h2.7M795,2271h2.7M744,2231h2.7M800,2233h2.7M749,2252h2.7M794,2249h2.7M736,2122h2.7M781,2249h2.7M738,2248h2.7M788,2235h2.7M782,2264h2.7M814,2257h2.7M738,2261h2.7M876,2216h2.7M859,2255h2.7M828,2241h2.7M825,2246h2.7M758,2250h2.7M760,2252h2.7M876,2256h2.7M836,2248h2.7M793,2229h2.7M790,2249h2.7M847,2235h2.7M798,2254h2.7M829,2229h2.7M848,2236h2.7M826,2252h2.7M847,2251h2.7M797,2137h2.7M789,2236h2.7M747,2126h2.7M797,2231h2.7M751,2123h2.7M746,2220h2.7M789,2146h2.7M797,2247h2.7M820,2245h2.7M845,2234h2.7M769,2272h2.7M772,2227h2.7M827,2249h2.7M749,2232h2.7M774,2222h2.7M841,2218h2.7M794,2256h2.7M762,2241h2.7" stroke="#f2141c" stroke-width="2.7" opacity="0.38" fill="none"/>
<rect x="708" y="1966.5" width="340.4" height="313.5" fill="none" stroke="#7d7d7d" stroke-width="3"/>
<path d="M800,1966.5 V2280 M708,2202 H1048.4" stroke="#444" stroke-width="3" fill="none"/>
<text x="762" y="1872" font-size="33.6" fill="#222">C4-2 QKI si</text>
<text x="685" y="1919.3" font-size="25.2" fill="#333">(F1)[A] aa3.LMD : FL1 Log/FL3 Log</text>
<text x="644.1" y="1982" font-size="33" fill="#2a2a2a">10</text><text x="680.8" y="1972.4" font-size="22.8" fill="#2a2a2a">3</text>
<text x="644.1" y="2061" font-size="33" fill="#2a2a2a">10</text><text x="680.8" y="2051.4" font-size="22.8" fill="#2a2a2a">2</text>
<text x="644.1" y="2138" font-size="33" fill="#2a2a2a">10</text><text x="680.8" y="2128.4" font-size="22.8" fill="#2a2a2a">1</text>
<text x="644.1" y="2214" font-size="33" fill="#2a2a2a">10</text><text x="680.8" y="2204.4" font-size="22.8" fill="#2a2a2a">0</text>
<text x="776.9" y="2322" font-size="33" fill="#2a2a2a">10</text><text x="813.6" y="2312.4" font-size="22.8" fill="#2a2a2a">0</text>
<text x="857.3" y="2322" font-size="33" fill="#2a2a2a">10</text><text x="894" y="2312.4" font-size="22.8" fill="#2a2a2a">1</text>
<text x="947.1" y="2322" font-size="33" fill="#2a2a2a">10</text><text x="983.8" y="2312.4" font-size="22.8" fill="#2a2a2a">2</text>
<text x="1027.3" y="2322" font-size="33" fill="#2a2a2a">10</text><text x="1064" y="2312.4" font-size="22.8" fill="#2a2a2a">3</text>
<text transform="translate(622.6,2119.4) rotate(-90)" font-size="33" fill="#2a2a2a" text-anchor="middle">PI</text>
<text x="785.8" y="2355.8" font-size="32.8" fill="#222">Annexin V-FITC</text>
<text x="711.8" y="1990" font-size="22.8" fill="#454545">B1</text>
<text x="721" y="2016" font-size="25.5" fill="#454545">3.6%</text>
<text x="807" y="1990" font-size="22.8" fill="#454545">B2</text>
<text x="820.5" y="2018.5" font-size="25.5" fill="#454545">3.1%</text>
<text x="716.5" y="2225" font-size="22.8" fill="#454545">B3</text>
<text x="717" y="2253" font-size="25.5" fill="#454545">65.7%</text>
<text x="814.8" y="2226.5" font-size="22.8" fill="#454545">B4</text>
<text x="811.7" y="2253" font-size="25.5" fill="#454545">27.6%</text>
</svg></body></html>
